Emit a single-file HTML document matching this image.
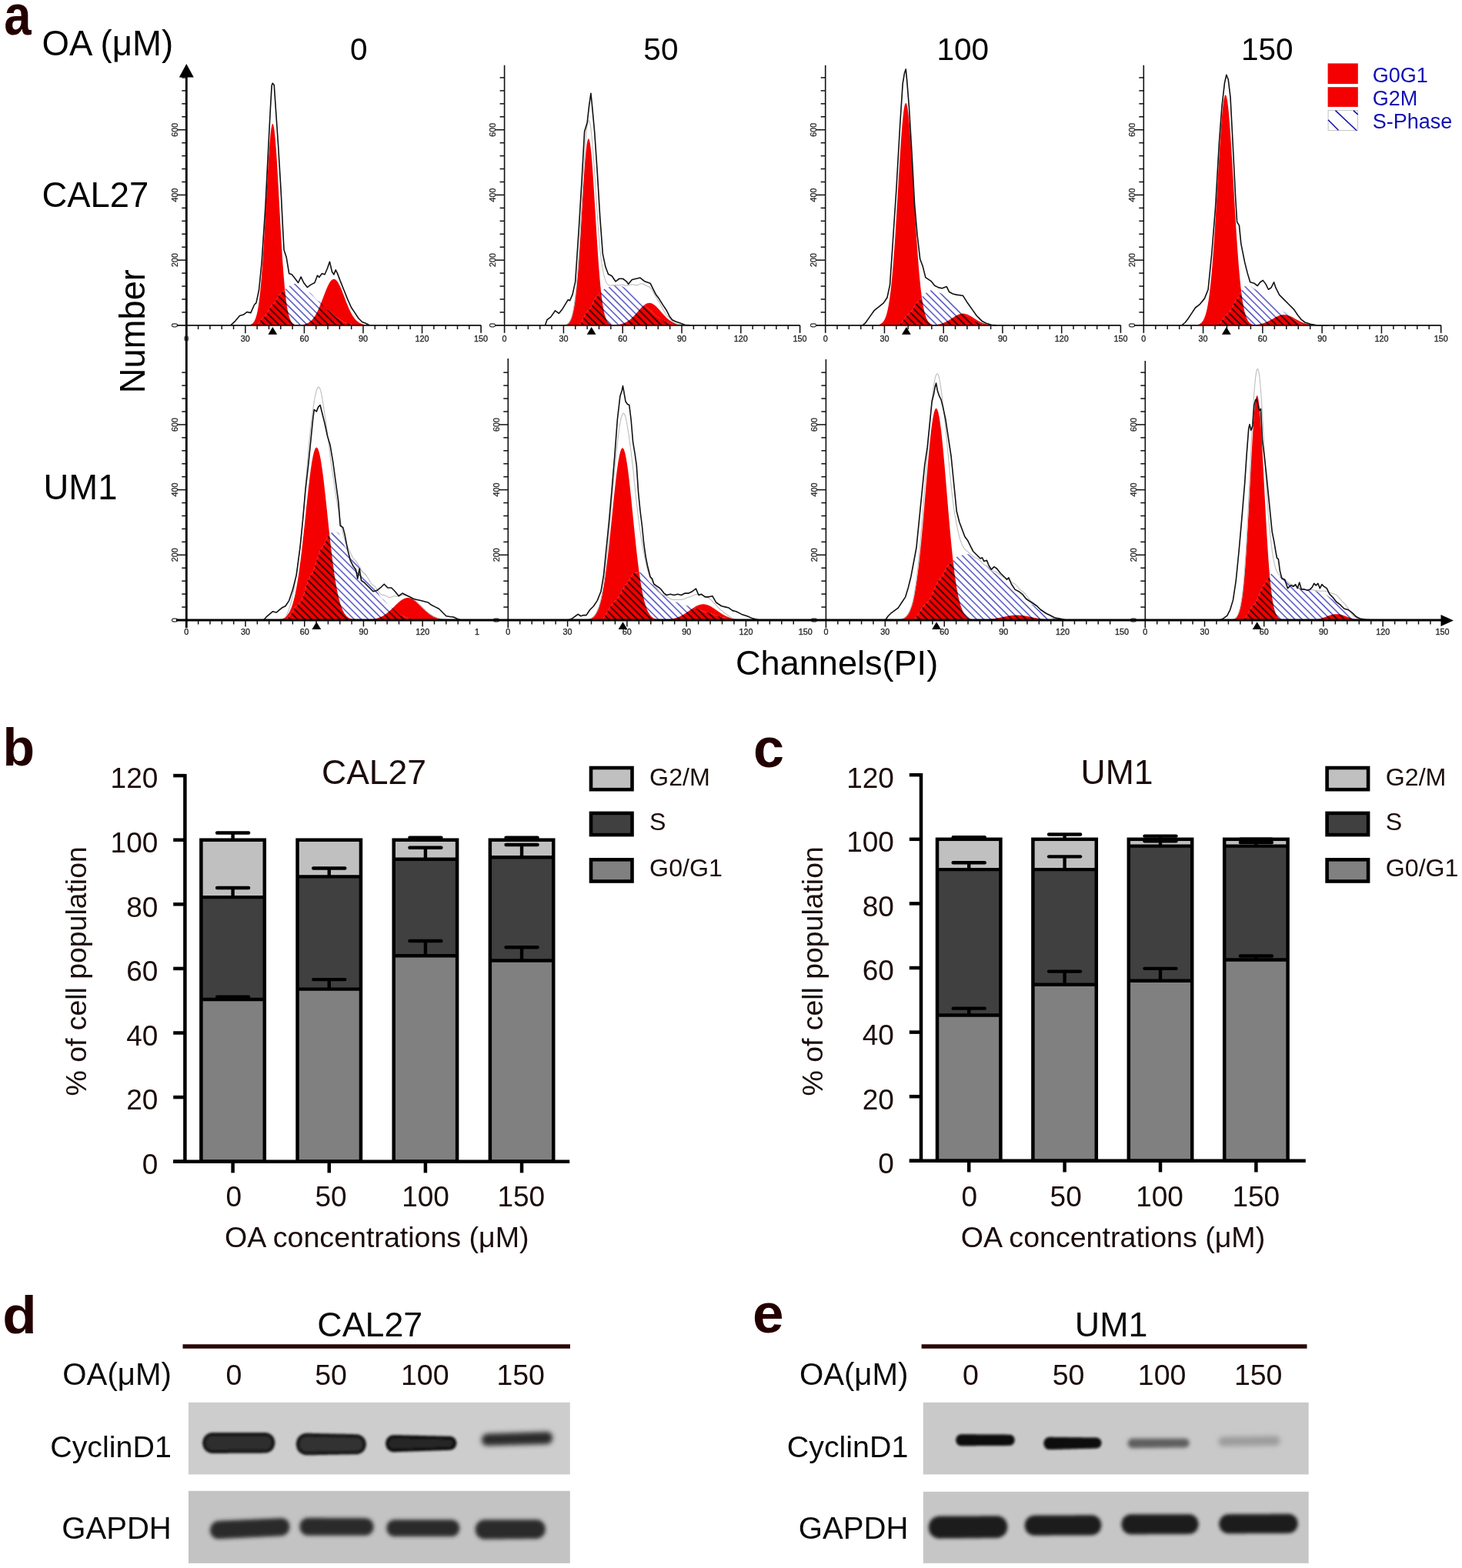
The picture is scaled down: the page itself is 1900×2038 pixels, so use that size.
<!DOCTYPE html><html><head><meta charset="utf-8"><title>Figure</title>
<style>html,body{margin:0;padding:0;background:#fff;}svg{display:block;}text{font-family:"Liberation Sans", Arial, Helvetica, sans-serif;}</style></head><body>
<svg width="1900" height="2038" viewBox="0 0 1900 2038">
<rect width="1900" height="2038" fill="#fff"/>
<text transform="translate(5.3,45.1) scale(1,1.175)" font-size="63.5" fill="#230000" font-weight="bold">a</text>
<text x="54.6" y="71.6" font-size="45.6" fill="#000" text-anchor="start" font-weight="normal">OA (μM)</text>
<text x="466.3" y="78.2" font-size="40.5" fill="#000" text-anchor="middle" font-weight="normal">0</text>
<text x="858.9" y="78.2" font-size="40.5" fill="#000" text-anchor="middle" font-weight="normal">50</text>
<text x="1251.3" y="78.2" font-size="40.5" fill="#000" text-anchor="middle" font-weight="normal">100</text>
<text x="1646.7" y="77.6" font-size="40.5" fill="#000" text-anchor="middle" font-weight="normal">150</text>
<text x="54.4" y="268.6" font-size="45.4" fill="#000" text-anchor="start" font-weight="normal">CAL27</text>
<text x="56.6" y="649.2" font-size="45.4" fill="#000" text-anchor="start" font-weight="normal">UM1</text>
<text transform="translate(188.4,511.2) rotate(-90)" font-size="45.3" fill="#000">Number</text>
<text x="956" y="877.3" font-size="45.1" fill="#000" text-anchor="start" font-weight="normal">Channels(PI)</text>
<defs>
<pattern id="hb" width="6.5" height="6.5" patternUnits="userSpaceOnUse" patternTransform="rotate(45)"><rect width="6.5" height="6.5" fill="#fff"/><rect x="0" y="2.6" width="6.5" height="1.3" fill="#3030b8"/></pattern>
<pattern id="hk" width="6.5" height="6.5" patternUnits="userSpaceOnUse" patternTransform="rotate(45)"><rect width="6.5" height="6.5" fill="#f40000"/><rect x="0" y="2.4" width="6.5" height="1.7" fill="#1a0000"/></pattern>
</defs>
<clipPath id="sp0"><path d="M332.97,422.8 L332.97,422.8 L333.45,422.51 L333.92,422.16 L334.4,421.76 L334.87,421.29 L335.35,420.78 L335.82,420.22 L336.3,419.62 L336.77,418.99 L337.25,418.35 L337.72,417.69 L338.2,417.04 L338.67,416.4 L339.15,415.77 L339.62,415.17 L340.1,414.61 L340.57,414.1 L341.05,413.63 L341.52,413.23 L342,412.88 L342.47,412.59 L342.95,412.22 L343.42,411.79 L343.9,411.3 L344.37,410.75 L344.84,410.13 L345.32,409.47 L345.79,408.76 L346.27,408 L346.74,407.21 L347.22,406.39 L347.69,405.56 L348.17,404.71 L348.64,403.85 L349.12,403 L349.59,402.16 L350.07,401.35 L350.54,400.56 L351.02,399.8 L351.49,399.09 L351.97,398.42 L352.44,397.81 L352.92,397.26 L353.39,396.76 L353.87,396.33 L354.34,395.97 L354.82,395.61 L355.29,395.2 L355.77,394.72 L356.24,394.18 L356.72,393.58 L357.19,392.94 L357.67,392.24 L358.14,391.51 L358.62,390.74 L359.09,389.95 L359.57,389.14 L360.04,388.31 L360.52,387.48 L360.99,386.65 L361.47,385.84 L361.94,385.05 L362.42,384.28 L362.89,383.55 L363.37,382.85 L363.84,382.21 L364.32,381.61 L364.79,381.07 L365.27,380.59 L365.74,380.18 L366.22,379.82 L366.69,379.59 L367.17,379.32 L367.64,379 L368.12,378.63 L368.59,378.22 L369.06,377.78 L369.54,377.31 L370.01,376.81 L370.49,376.3 L370.96,375.78 L371.44,375.27 L371.91,374.76 L372.39,374.26 L372.86,373.79 L373.34,373.35 L373.81,372.94 L374.29,372.57 L374.76,372.25 L375.24,371.97 L375.71,371.75 L376.19,371.63 L376.66,371.48 L377.14,371.29 L377.61,371.08 L378.09,370.85 L378.56,370.6 L379.04,370.34 L379.51,370.07 L379.99,369.81 L380.46,369.56 L380.94,369.33 L381.41,369.12 L381.89,368.93 L382.36,368.78 L382.84,368.66 L383.31,368.75 L383.79,368.87 L384.26,369.01 L384.74,369.17 L385.21,369.35 L385.69,369.55 L386.16,369.75 L386.64,369.95 L387.11,370.15 L387.59,370.34 L388.06,370.52 L388.54,370.68 L389.01,370.83 L389.49,370.94 L389.96,371.04 L390.44,371.23 L390.91,371.46 L391.39,371.72 L391.86,372.01 L392.34,372.33 L392.81,372.69 L393.28,373.06 L393.76,373.46 L394.23,373.88 L394.71,374.31 L395.18,374.75 L395.66,375.2 L396.13,375.65 L396.61,376.1 L397.08,376.55 L397.56,376.98 L398.03,377.4 L398.51,377.8 L398.98,378.17 L399.46,378.52 L399.93,378.85 L400.41,379.14 L400.88,379.4 L401.36,379.63 L401.83,379.82 L402.31,380.07 L402.78,380.37 L403.26,380.71 L403.73,381.09 L404.21,381.51 L404.68,381.96 L405.16,382.45 L405.63,382.97 L406.11,383.51 L406.58,384.07 L407.06,384.64 L407.53,385.23 L408.01,385.81 L408.48,386.4 L408.96,386.97 L409.43,387.53 L409.91,388.07 L410.38,388.59 L410.86,389.08 L411.33,389.54 L411.81,389.95 L412.28,390.34 L412.76,390.67 L413.23,390.97 L413.71,391.22 L414.18,391.48 L414.66,391.79 L415.13,392.14 L415.61,392.54 L416.08,392.97 L416.56,393.45 L417.03,393.96 L417.5,394.5 L417.98,395.06 L418.45,395.64 L418.93,396.24 L419.4,396.85 L419.88,397.46 L420.35,398.07 L420.83,398.67 L421.3,399.25 L421.78,399.81 L422.25,400.35 L422.73,400.86 L423.2,401.34 L423.68,401.77 L424.15,402.17 L424.63,402.52 L425.1,402.83 L425.58,403.09 L426.05,403.3 L426.53,403.55 L427,403.83 L427.48,404.15 L427.95,404.49 L428.43,404.87 L428.9,405.28 L429.38,405.71 L429.85,406.16 L430.33,406.63 L430.8,407.11 L431.28,407.6 L431.75,408.08 L432.23,408.57 L432.7,409.05 L433.18,409.52 L433.65,409.97 L434.13,410.4 L434.6,410.81 L435.08,411.19 L435.55,411.54 L436.03,411.85 L436.5,412.14 L436.98,412.38 L437.45,412.59 L437.93,412.75 L438.4,412.93 L438.88,413.14 L439.35,413.38 L439.83,413.64 L440.3,413.93 L440.78,414.23 L441.25,414.56 L441.72,414.89 L442.2,415.24 L442.67,415.6 L443.15,415.97 L443.62,416.33 L444.1,416.7 L444.57,417.06 L445.05,417.41 L445.52,417.75 L446,418.07 L446.47,418.38 L446.95,418.66 L447.42,418.92 L447.9,419.16 L448.37,419.37 L448.85,419.56 L449.32,419.71 L449.8,419.78 L450.27,419.86 L450.75,419.95 L451.22,420.06 L451.7,420.17 L452.17,420.29 L452.65,420.43 L453.12,420.57 L453.6,420.71 L454.07,420.86 L454.55,421.02 L455.02,421.18 L455.5,421.34 L455.97,421.49 L456.45,421.65 L456.92,421.8 L457.4,421.95 L457.87,422.09 L458.35,422.22 L458.82,422.34 L459.3,422.46 L459.77,422.56 L460.25,422.65 L460.72,422.73 L461.2,422.8 L461.2,422.8 Z"/></clipPath>
<clipPath id="rp0"><path d="M320.62,422.8 L320.62,422.69 L321.1,422.66 L321.57,422.63 L322.05,422.59 L322.52,422.54 L323,422.48 L323.47,422.41 L323.95,422.33 L324.42,422.23 L324.9,422.11 L325.37,421.96 L325.85,421.79 L326.32,421.58 L326.8,421.34 L327.27,421.06 L327.75,420.73 L328.22,420.34 L328.7,419.89 L329.17,419.37 L329.65,418.76 L330.12,418.07 L330.6,417.27 L331.07,416.36 L331.55,415.32 L332.02,414.14 L332.5,412.8 L332.97,411.29 L333.45,409.6 L333.92,407.7 L334.4,405.59 L334.87,403.23 L335.35,400.63 L335.82,397.75 L336.3,394.59 L336.77,391.13 L337.25,387.35 L337.72,383.25 L338.2,378.81 L338.67,374.01 L339.15,368.87 L339.62,363.36 L340.1,357.49 L340.57,351.27 L341.05,344.69 L341.52,337.77 L342,330.52 L342.47,322.97 L342.95,315.13 L343.42,307.03 L343.9,298.7 L344.37,290.19 L344.84,281.52 L345.32,272.76 L345.79,263.94 L346.27,255.13 L346.74,246.37 L347.22,237.72 L347.69,229.25 L348.17,221.02 L348.64,213.08 L349.12,205.5 L349.59,198.35 L350.07,191.67 L350.54,185.52 L351.02,179.97 L351.49,175.05 L351.97,170.8 L352.44,167.28 L352.92,164.5 L353.39,162.5 L353.87,161.3 L354.34,160.89 L354.82,161.3 L355.29,162.5 L355.77,164.5 L356.24,167.28 L356.72,170.8 L357.19,175.05 L357.67,179.97 L358.14,185.52 L358.62,191.67 L359.09,198.35 L359.57,205.5 L360.04,213.08 L360.52,221.02 L360.99,229.25 L361.47,237.72 L361.94,246.37 L362.42,255.13 L362.89,263.94 L363.37,272.76 L363.84,281.52 L364.32,290.19 L364.79,298.7 L365.27,307.03 L365.74,315.13 L366.22,322.97 L366.69,330.52 L367.17,337.77 L367.64,344.69 L368.12,351.27 L368.59,357.49 L369.06,363.36 L369.54,368.87 L370.01,374.01 L370.49,378.81 L370.96,383.25 L371.44,387.35 L371.91,391.13 L372.39,394.59 L372.86,397.75 L373.34,400.63 L373.81,403.23 L374.29,405.59 L374.76,407.7 L375.24,409.6 L375.71,411.29 L376.19,412.8 L376.66,414.14 L377.14,415.32 L377.61,416.36 L378.09,417.27 L378.56,418.07 L379.04,418.76 L379.51,419.37 L379.99,419.89 L380.46,420.34 L380.94,420.73 L381.41,421.06 L381.89,421.34 L382.36,421.58 L382.84,421.79 L383.31,421.96 L383.79,422.11 L384.26,422.23 L384.74,422.33 L385.21,422.41 L385.69,422.48 L386.16,422.54 L386.64,422.59 L387.11,422.63 L387.59,422.66 L388.06,422.69 L388.06,422.8 Z"/><path d="M379.04,422.8 L379.04,422.78 L379.51,422.78 L379.99,422.77 L380.46,422.77 L380.94,422.76 L381.41,422.76 L381.89,422.75 L382.36,422.75 L382.84,422.74 L383.31,422.73 L383.79,422.72 L384.26,422.71 L384.74,422.7 L385.21,422.68 L385.69,422.67 L386.16,422.65 L386.64,422.63 L387.11,422.61 L387.59,422.59 L388.06,422.56 L388.54,422.53 L389.01,422.5 L389.49,422.47 L389.96,422.43 L390.44,422.39 L390.91,422.34 L391.39,422.29 L391.86,422.23 L392.34,422.17 L392.81,422.1 L393.28,422.02 L393.76,421.94 L394.23,421.85 L394.71,421.75 L395.18,421.64 L395.66,421.53 L396.13,421.4 L396.61,421.26 L397.08,421.11 L397.56,420.95 L398.03,420.77 L398.51,420.58 L398.98,420.38 L399.46,420.16 L399.93,419.92 L400.41,419.67 L400.88,419.4 L401.36,419.11 L401.83,418.8 L402.31,418.47 L402.78,418.11 L403.26,417.74 L403.73,417.34 L404.21,416.91 L404.68,416.46 L405.16,415.98 L405.63,415.48 L406.11,414.95 L406.58,414.39 L407.06,413.8 L407.53,413.18 L408.01,412.53 L408.48,411.84 L408.96,411.13 L409.43,410.39 L409.91,409.61 L410.38,408.8 L410.86,407.96 L411.33,407.09 L411.81,406.19 L412.28,405.26 L412.76,404.29 L413.23,403.3 L413.71,402.27 L414.18,401.22 L414.66,400.14 L415.13,399.04 L415.61,397.91 L416.08,396.76 L416.56,395.59 L417.03,394.4 L417.5,393.19 L417.98,391.97 L418.45,390.74 L418.93,389.5 L419.4,388.25 L419.88,386.99 L420.35,385.73 L420.83,384.48 L421.3,383.23 L421.78,381.99 L422.25,380.76 L422.73,379.54 L423.2,378.34 L423.68,377.16 L424.15,376.01 L424.63,374.88 L425.1,373.79 L425.58,372.73 L426.05,371.7 L426.53,370.72 L427,369.78 L427.48,368.89 L427.95,368.05 L428.43,367.27 L428.9,366.54 L429.38,365.86 L429.85,365.25 L430.33,364.7 L430.8,364.22 L431.28,363.8 L431.75,363.44 L432.23,363.16 L432.7,362.95 L433.18,362.81 L433.65,362.73 L434.13,362.73 L434.6,362.81 L435.08,362.95 L435.55,363.16 L436.03,363.44 L436.5,363.8 L436.98,364.22 L437.45,364.7 L437.93,365.25 L438.4,365.86 L438.88,366.54 L439.35,367.27 L439.83,368.05 L440.3,368.89 L440.78,369.78 L441.25,370.72 L441.72,371.7 L442.2,372.73 L442.67,373.79 L443.15,374.88 L443.62,376.01 L444.1,377.16 L444.57,378.34 L445.05,379.54 L445.52,380.76 L446,381.99 L446.47,383.23 L446.95,384.48 L447.42,385.73 L447.9,386.99 L448.37,388.25 L448.85,389.5 L449.32,390.74 L449.8,391.97 L450.27,393.19 L450.75,394.4 L451.22,395.59 L451.7,396.76 L452.17,397.91 L452.65,399.04 L453.12,400.14 L453.6,401.22 L454.07,402.27 L454.55,403.3 L455.02,404.29 L455.5,405.26 L455.97,406.19 L456.45,407.09 L456.92,407.96 L457.4,408.8 L457.87,409.61 L458.35,410.39 L458.82,411.13 L459.3,411.84 L459.77,412.53 L460.25,413.18 L460.72,413.8 L461.2,414.39 L461.67,414.95 L462.15,415.48 L462.62,415.98 L463.1,416.46 L463.57,416.91 L464.05,417.34 L464.52,417.74 L465,418.11 L465.47,418.47 L465.94,418.8 L466.42,419.11 L466.89,419.4 L467.37,419.67 L467.84,419.92 L468.32,420.16 L468.79,420.38 L469.27,420.58 L469.74,420.77 L470.22,420.95 L470.69,421.11 L471.17,421.26 L471.64,421.4 L472.12,421.53 L472.59,421.64 L473.07,421.75 L473.54,421.85 L474.02,421.94 L474.49,422.02 L474.97,422.1 L475.44,422.17 L475.92,422.23 L476.39,422.29 L476.87,422.34 L477.34,422.39 L477.82,422.43 L478.29,422.47 L478.77,422.5 L479.24,422.53 L479.72,422.56 L480.19,422.59 L480.67,422.61 L481.14,422.63 L481.62,422.65 L482.09,422.67 L482.57,422.68 L483.04,422.7 L483.52,422.71 L483.99,422.72 L484.47,422.73 L484.94,422.74 L485.42,422.75 L485.89,422.75 L486.37,422.76 L486.84,422.76 L487.32,422.77 L487.79,422.77 L488.27,422.78 L488.74,422.78 L488.74,422.8 Z"/></clipPath>
<path d="M320.62,422.8 L320.62,422.69 L321.1,422.66 L321.57,422.63 L322.05,422.59 L322.52,422.54 L323,422.48 L323.47,422.41 L323.95,422.33 L324.42,422.23 L324.9,422.11 L325.37,421.96 L325.85,421.79 L326.32,421.58 L326.8,421.34 L327.27,421.06 L327.75,420.73 L328.22,420.34 L328.7,419.89 L329.17,419.37 L329.65,418.76 L330.12,418.07 L330.6,417.27 L331.07,416.36 L331.55,415.32 L332.02,414.14 L332.5,412.8 L332.97,411.29 L333.45,409.6 L333.92,407.7 L334.4,405.59 L334.87,403.23 L335.35,400.63 L335.82,397.75 L336.3,394.59 L336.77,391.13 L337.25,387.35 L337.72,383.25 L338.2,378.81 L338.67,374.01 L339.15,368.87 L339.62,363.36 L340.1,357.49 L340.57,351.27 L341.05,344.69 L341.52,337.77 L342,330.52 L342.47,322.97 L342.95,315.13 L343.42,307.03 L343.9,298.7 L344.37,290.19 L344.84,281.52 L345.32,272.76 L345.79,263.94 L346.27,255.13 L346.74,246.37 L347.22,237.72 L347.69,229.25 L348.17,221.02 L348.64,213.08 L349.12,205.5 L349.59,198.35 L350.07,191.67 L350.54,185.52 L351.02,179.97 L351.49,175.05 L351.97,170.8 L352.44,167.28 L352.92,164.5 L353.39,162.5 L353.87,161.3 L354.34,160.89 L354.82,161.3 L355.29,162.5 L355.77,164.5 L356.24,167.28 L356.72,170.8 L357.19,175.05 L357.67,179.97 L358.14,185.52 L358.62,191.67 L359.09,198.35 L359.57,205.5 L360.04,213.08 L360.52,221.02 L360.99,229.25 L361.47,237.72 L361.94,246.37 L362.42,255.13 L362.89,263.94 L363.37,272.76 L363.84,281.52 L364.32,290.19 L364.79,298.7 L365.27,307.03 L365.74,315.13 L366.22,322.97 L366.69,330.52 L367.17,337.77 L367.64,344.69 L368.12,351.27 L368.59,357.49 L369.06,363.36 L369.54,368.87 L370.01,374.01 L370.49,378.81 L370.96,383.25 L371.44,387.35 L371.91,391.13 L372.39,394.59 L372.86,397.75 L373.34,400.63 L373.81,403.23 L374.29,405.59 L374.76,407.7 L375.24,409.6 L375.71,411.29 L376.19,412.8 L376.66,414.14 L377.14,415.32 L377.61,416.36 L378.09,417.27 L378.56,418.07 L379.04,418.76 L379.51,419.37 L379.99,419.89 L380.46,420.34 L380.94,420.73 L381.41,421.06 L381.89,421.34 L382.36,421.58 L382.84,421.79 L383.31,421.96 L383.79,422.11 L384.26,422.23 L384.74,422.33 L385.21,422.41 L385.69,422.48 L386.16,422.54 L386.64,422.59 L387.11,422.63 L387.59,422.66 L388.06,422.69 L388.06,422.8 Z" fill="#f40000"/>
<path d="M379.04,422.8 L379.04,422.78 L379.51,422.78 L379.99,422.77 L380.46,422.77 L380.94,422.76 L381.41,422.76 L381.89,422.75 L382.36,422.75 L382.84,422.74 L383.31,422.73 L383.79,422.72 L384.26,422.71 L384.74,422.7 L385.21,422.68 L385.69,422.67 L386.16,422.65 L386.64,422.63 L387.11,422.61 L387.59,422.59 L388.06,422.56 L388.54,422.53 L389.01,422.5 L389.49,422.47 L389.96,422.43 L390.44,422.39 L390.91,422.34 L391.39,422.29 L391.86,422.23 L392.34,422.17 L392.81,422.1 L393.28,422.02 L393.76,421.94 L394.23,421.85 L394.71,421.75 L395.18,421.64 L395.66,421.53 L396.13,421.4 L396.61,421.26 L397.08,421.11 L397.56,420.95 L398.03,420.77 L398.51,420.58 L398.98,420.38 L399.46,420.16 L399.93,419.92 L400.41,419.67 L400.88,419.4 L401.36,419.11 L401.83,418.8 L402.31,418.47 L402.78,418.11 L403.26,417.74 L403.73,417.34 L404.21,416.91 L404.68,416.46 L405.16,415.98 L405.63,415.48 L406.11,414.95 L406.58,414.39 L407.06,413.8 L407.53,413.18 L408.01,412.53 L408.48,411.84 L408.96,411.13 L409.43,410.39 L409.91,409.61 L410.38,408.8 L410.86,407.96 L411.33,407.09 L411.81,406.19 L412.28,405.26 L412.76,404.29 L413.23,403.3 L413.71,402.27 L414.18,401.22 L414.66,400.14 L415.13,399.04 L415.61,397.91 L416.08,396.76 L416.56,395.59 L417.03,394.4 L417.5,393.19 L417.98,391.97 L418.45,390.74 L418.93,389.5 L419.4,388.25 L419.88,386.99 L420.35,385.73 L420.83,384.48 L421.3,383.23 L421.78,381.99 L422.25,380.76 L422.73,379.54 L423.2,378.34 L423.68,377.16 L424.15,376.01 L424.63,374.88 L425.1,373.79 L425.58,372.73 L426.05,371.7 L426.53,370.72 L427,369.78 L427.48,368.89 L427.95,368.05 L428.43,367.27 L428.9,366.54 L429.38,365.86 L429.85,365.25 L430.33,364.7 L430.8,364.22 L431.28,363.8 L431.75,363.44 L432.23,363.16 L432.7,362.95 L433.18,362.81 L433.65,362.73 L434.13,362.73 L434.6,362.81 L435.08,362.95 L435.55,363.16 L436.03,363.44 L436.5,363.8 L436.98,364.22 L437.45,364.7 L437.93,365.25 L438.4,365.86 L438.88,366.54 L439.35,367.27 L439.83,368.05 L440.3,368.89 L440.78,369.78 L441.25,370.72 L441.72,371.7 L442.2,372.73 L442.67,373.79 L443.15,374.88 L443.62,376.01 L444.1,377.16 L444.57,378.34 L445.05,379.54 L445.52,380.76 L446,381.99 L446.47,383.23 L446.95,384.48 L447.42,385.73 L447.9,386.99 L448.37,388.25 L448.85,389.5 L449.32,390.74 L449.8,391.97 L450.27,393.19 L450.75,394.4 L451.22,395.59 L451.7,396.76 L452.17,397.91 L452.65,399.04 L453.12,400.14 L453.6,401.22 L454.07,402.27 L454.55,403.3 L455.02,404.29 L455.5,405.26 L455.97,406.19 L456.45,407.09 L456.92,407.96 L457.4,408.8 L457.87,409.61 L458.35,410.39 L458.82,411.13 L459.3,411.84 L459.77,412.53 L460.25,413.18 L460.72,413.8 L461.2,414.39 L461.67,414.95 L462.15,415.48 L462.62,415.98 L463.1,416.46 L463.57,416.91 L464.05,417.34 L464.52,417.74 L465,418.11 L465.47,418.47 L465.94,418.8 L466.42,419.11 L466.89,419.4 L467.37,419.67 L467.84,419.92 L468.32,420.16 L468.79,420.38 L469.27,420.58 L469.74,420.77 L470.22,420.95 L470.69,421.11 L471.17,421.26 L471.64,421.4 L472.12,421.53 L472.59,421.64 L473.07,421.75 L473.54,421.85 L474.02,421.94 L474.49,422.02 L474.97,422.1 L475.44,422.17 L475.92,422.23 L476.39,422.29 L476.87,422.34 L477.34,422.39 L477.82,422.43 L478.29,422.47 L478.77,422.5 L479.24,422.53 L479.72,422.56 L480.19,422.59 L480.67,422.61 L481.14,422.63 L481.62,422.65 L482.09,422.67 L482.57,422.68 L483.04,422.7 L483.52,422.71 L483.99,422.72 L484.47,422.73 L484.94,422.74 L485.42,422.75 L485.89,422.75 L486.37,422.76 L486.84,422.76 L487.32,422.77 L487.79,422.77 L488.27,422.78 L488.74,422.78 L488.74,422.8 Z" fill="#f40000"/>
<g clip-path="url(#sp0)"><rect x="320.15" y="222.8" width="168.83" height="200" fill="url(#hb)"/></g>
<g clip-path="url(#sp0)"><g clip-path="url(#rp0)"><rect x="320.15" y="222.8" width="168.83" height="200" fill="url(#hk)"/></g></g>
<polyline points="299.73,422.8 305.67,417.34 311.6,410.22 316.35,409.03 321.1,405.47 325.85,406.65 330.6,395.97 332.97,393.59 336.53,376.97 340.1,341.35 344.84,270.12 348.41,198.88 351.49,139.52 353.16,111.03 354.34,108.18 356.24,110.55 357.9,134.77 361.47,187.01 365.03,246.37 367.4,293.86 369.06,324.73 372.15,334.23 375.71,355.6 379.28,356.79 384.02,362.72 387.59,367.47 391.15,359.88 394.71,367.47 399.46,373.41 404.21,369.85 408.96,367.47 412.52,357.98 414.89,360.35 418.45,355.6 422.02,356.79 425.58,348.48 428.43,340.17 431.51,353.23 433.89,356.79 436.26,350.85 438.64,355.6 442.2,365.1 446.95,376.97 451.7,388.84 456.45,399.53 461.2,406.65 465.94,413.78 470.69,418.53 475.44,420.19 480.19,422.8" fill="none" stroke="#111" stroke-width="1.6" stroke-linejoin="round"/>
<path d="M354.34,425 L348.44,434.8 L360.24,434.8 Z" fill="#000"/>
<clipPath id="sp1"><path d="M752.47,422.8 L752.47,422.8 L752.95,422.38 L753.42,421.89 L753.9,421.33 L754.37,420.69 L754.84,419.99 L755.32,419.23 L755.79,418.42 L756.27,417.56 L756.74,416.65 L757.22,415.72 L757.69,414.76 L758.17,413.79 L758.64,412.81 L759.12,411.84 L759.59,410.88 L760.07,409.95 L760.54,409.05 L761.02,408.19 L761.49,407.37 L761.97,406.61 L762.44,405.91 L762.92,405.28 L763.39,404.71 L763.87,404.22 L764.34,403.8 L764.82,403.39 L765.29,402.89 L765.77,402.33 L766.24,401.7 L766.72,401 L767.19,400.24 L767.67,399.42 L768.14,398.56 L768.62,397.66 L769.09,396.72 L769.57,395.77 L770.04,394.79 L770.52,393.82 L770.99,392.85 L771.47,391.89 L771.94,390.95 L772.42,390.05 L772.89,389.19 L773.37,388.37 L773.84,387.61 L774.32,386.91 L774.79,386.28 L775.27,385.72 L775.74,385.23 L776.22,384.81 L776.69,384.54 L777.17,384.22 L777.64,383.84 L778.12,383.4 L778.59,382.93 L779.06,382.4 L779.54,381.85 L780.01,381.27 L780.49,380.67 L780.96,380.06 L781.44,379.45 L781.91,378.85 L782.39,378.27 L782.86,377.71 L783.34,377.19 L783.81,376.71 L784.29,376.28 L784.76,375.9 L785.24,375.58 L785.71,375.31 L786.19,375.22 L786.66,375.11 L787.14,374.98 L787.61,374.84 L788.09,374.68 L788.56,374.51 L789.04,374.32 L789.51,374.13 L789.99,373.93 L790.46,373.72 L790.94,373.5 L791.41,373.28 L791.89,373.06 L792.36,372.84 L792.84,372.63 L793.31,372.42 L793.79,372.22 L794.26,372.02 L794.74,371.84 L795.21,371.67 L795.69,371.51 L796.16,371.37 L796.64,371.24 L797.11,371.13 L797.59,371.04 L798.06,371.06 L798.54,371.08 L799.01,371.11 L799.49,371.14 L799.96,371.18 L800.44,371.22 L800.91,371.26 L801.39,371.3 L801.86,371.35 L802.34,371.39 L802.81,371.44 L803.28,371.48 L803.76,371.53 L804.23,371.57 L804.71,371.61 L805.18,371.64 L805.66,371.68 L806.13,371.7 L806.61,371.73 L807.08,371.75 L807.56,371.88 L808.03,372.03 L808.51,372.21 L808.98,372.41 L809.46,372.63 L809.93,372.86 L810.41,373.12 L810.88,373.39 L811.36,373.67 L811.83,373.96 L812.31,374.26 L812.78,374.56 L813.26,374.87 L813.73,375.17 L814.21,375.47 L814.68,375.76 L815.16,376.05 L815.63,376.32 L816.11,376.57 L816.58,376.81 L817.06,377.03 L817.53,377.22 L818.01,377.4 L818.48,377.55 L818.96,377.68 L819.43,377.95 L819.91,378.25 L820.38,378.61 L820.86,379 L821.33,379.44 L821.81,379.91 L822.28,380.42 L822.76,380.96 L823.23,381.53 L823.71,382.11 L824.18,382.71 L824.66,383.32 L825.13,383.93 L825.61,384.53 L826.08,385.13 L826.56,385.72 L827.03,386.28 L827.5,386.82 L827.98,387.33 L828.45,387.8 L828.93,388.24 L829.4,388.64 L829.88,388.99 L830.35,389.3 L830.83,389.56 L831.3,389.82 L831.78,390.13 L832.25,390.48 L832.73,390.87 L833.2,391.31 L833.68,391.79 L834.15,392.3 L834.63,392.83 L835.1,393.4 L835.58,393.98 L836.05,394.58 L836.53,395.19 L837,395.8 L837.48,396.41 L837.95,397 L838.43,397.59 L838.9,398.15 L839.38,398.69 L839.85,399.2 L840.33,399.68 L840.8,400.11 L841.28,400.51 L841.75,400.86 L842.23,401.17 L842.7,401.43 L843.18,401.66 L843.65,401.94 L844.13,402.26 L844.6,402.61 L845.08,403.01 L845.55,403.44 L846.03,403.89 L846.5,404.38 L846.98,404.89 L847.45,405.41 L847.93,405.95 L848.4,406.5 L848.88,407.05 L849.35,407.59 L849.83,408.13 L850.3,408.66 L850.78,409.17 L851.25,409.65 L851.72,410.11 L852.2,410.54 L852.67,410.93 L853.15,411.29 L853.62,411.6 L854.1,411.88 L854.57,412.11 L855.05,412.27 L855.52,412.46 L856,412.67 L856.47,412.9 L856.95,413.17 L857.42,413.45 L857.9,413.76 L858.37,414.08 L858.85,414.42 L859.32,414.77 L859.8,415.13 L860.27,415.49 L860.75,415.86 L861.22,416.22 L861.7,416.58 L862.17,416.93 L862.65,417.27 L863.12,417.6 L863.6,417.9 L864.07,418.19 L864.55,418.45 L865.02,418.69 L865.5,418.9 L865.97,419.08 L866.45,419.24 L866.92,419.32 L867.4,419.41 L867.87,419.51 L868.35,419.63 L868.82,419.76 L869.3,419.91 L869.77,420.06 L870.25,420.22 L870.72,420.39 L871.2,420.57 L871.67,420.75 L872.15,420.93 L872.62,421.11 L873.1,421.29 L873.57,421.47 L874.05,421.65 L874.52,421.82 L875,421.98 L875.47,422.13 L875.94,422.27 L876.42,422.4 L876.89,422.52 L877.37,422.63 L877.84,422.72 L878.32,422.8 L878.32,422.8 Z"/></clipPath>
<clipPath id="rp1"><path d="M730.15,422.8 L730.15,422.7 L730.62,422.68 L731.1,422.65 L731.57,422.61 L732.05,422.57 L732.52,422.52 L733,422.46 L733.47,422.38 L733.95,422.29 L734.42,422.19 L734.9,422.06 L735.37,421.92 L735.85,421.74 L736.32,421.54 L736.8,421.3 L737.27,421.02 L737.75,420.69 L738.22,420.31 L738.7,419.88 L739.17,419.37 L739.65,418.79 L740.12,418.13 L740.6,417.37 L741.07,416.51 L741.55,415.53 L742.02,414.42 L742.5,413.17 L742.97,411.77 L743.45,410.2 L743.92,408.46 L744.4,406.51 L744.87,404.36 L745.35,401.98 L745.82,399.36 L746.3,396.5 L746.77,393.37 L747.25,389.96 L747.72,386.26 L748.2,382.27 L748.67,377.97 L749.15,373.36 L749.62,368.43 L750.1,363.19 L750.57,357.64 L751.05,351.77 L751.52,345.6 L752,339.14 L752.47,332.41 L752.95,325.42 L753.42,318.19 L753.9,310.76 L754.37,303.14 L754.84,295.38 L755.32,287.52 L755.79,279.59 L756.27,271.63 L756.74,263.7 L757.22,255.84 L757.69,248.11 L758.17,240.55 L758.64,233.22 L759.12,226.17 L759.59,219.45 L760.07,213.11 L760.54,207.21 L761.02,201.79 L761.49,196.89 L761.97,192.56 L762.44,188.83 L762.92,185.73 L763.39,183.3 L763.87,181.54 L764.34,180.48 L764.82,180.13 L765.29,180.48 L765.77,181.54 L766.24,183.3 L766.72,185.73 L767.19,188.83 L767.67,192.56 L768.14,196.89 L768.62,201.79 L769.09,207.21 L769.57,213.11 L770.04,219.45 L770.52,226.17 L770.99,233.22 L771.47,240.55 L771.94,248.11 L772.42,255.84 L772.89,263.7 L773.37,271.63 L773.84,279.59 L774.32,287.52 L774.79,295.38 L775.27,303.14 L775.74,310.76 L776.22,318.19 L776.69,325.42 L777.17,332.41 L777.64,339.14 L778.12,345.6 L778.59,351.77 L779.06,357.64 L779.54,363.19 L780.01,368.43 L780.49,373.36 L780.96,377.97 L781.44,382.27 L781.91,386.26 L782.39,389.96 L782.86,393.37 L783.34,396.5 L783.81,399.36 L784.29,401.98 L784.76,404.36 L785.24,406.51 L785.71,408.46 L786.19,410.2 L786.66,411.77 L787.14,413.17 L787.61,414.42 L788.09,415.53 L788.56,416.51 L789.04,417.37 L789.51,418.13 L789.99,418.79 L790.46,419.37 L790.94,419.88 L791.41,420.31 L791.89,420.69 L792.36,421.02 L792.84,421.3 L793.31,421.54 L793.79,421.74 L794.26,421.92 L794.74,422.06 L795.21,422.19 L795.69,422.29 L796.16,422.38 L796.64,422.46 L797.11,422.52 L797.59,422.57 L798.06,422.61 L798.54,422.65 L799.01,422.68 L799.49,422.7 L799.49,422.8 Z"/><path d="M783.34,422.8 L783.34,422.79 L783.81,422.79 L784.29,422.79 L784.76,422.79 L785.24,422.78 L785.71,422.78 L786.19,422.78 L786.66,422.78 L787.14,422.77 L787.61,422.77 L788.09,422.77 L788.56,422.76 L789.04,422.76 L789.51,422.75 L789.99,422.75 L790.46,422.74 L790.94,422.73 L791.41,422.73 L791.89,422.72 L792.36,422.71 L792.84,422.7 L793.31,422.69 L793.79,422.67 L794.26,422.66 L794.74,422.65 L795.21,422.63 L795.69,422.61 L796.16,422.59 L796.64,422.57 L797.11,422.55 L797.59,422.52 L798.06,422.49 L798.54,422.46 L799.01,422.43 L799.49,422.39 L799.96,422.36 L800.44,422.31 L800.91,422.27 L801.39,422.22 L801.86,422.17 L802.34,422.11 L802.81,422.05 L803.28,421.98 L803.76,421.91 L804.23,421.84 L804.71,421.76 L805.18,421.67 L805.66,421.58 L806.13,421.48 L806.61,421.37 L807.08,421.26 L807.56,421.14 L808.03,421.01 L808.51,420.87 L808.98,420.73 L809.46,420.58 L809.93,420.41 L810.41,420.24 L810.88,420.06 L811.36,419.87 L811.83,419.67 L812.31,419.46 L812.78,419.23 L813.26,419 L813.73,418.76 L814.21,418.5 L814.68,418.23 L815.16,417.95 L815.63,417.66 L816.11,417.35 L816.58,417.03 L817.06,416.7 L817.53,416.36 L818.01,416.01 L818.48,415.64 L818.96,415.26 L819.43,414.87 L819.91,414.46 L820.38,414.04 L820.86,413.61 L821.33,413.17 L821.81,412.72 L822.28,412.26 L822.76,411.78 L823.23,411.3 L823.71,410.81 L824.18,410.31 L824.66,409.8 L825.13,409.28 L825.61,408.75 L826.08,408.22 L826.56,407.68 L827.03,407.14 L827.5,406.6 L827.98,406.05 L828.45,405.5 L828.93,404.95 L829.4,404.41 L829.88,403.86 L830.35,403.32 L830.83,402.78 L831.3,402.24 L831.78,401.71 L832.25,401.19 L832.73,400.68 L833.2,400.18 L833.68,399.68 L834.15,399.21 L834.63,398.74 L835.1,398.29 L835.58,397.85 L836.05,397.44 L836.53,397.04 L837,396.66 L837.48,396.3 L837.95,395.96 L838.43,395.64 L838.9,395.35 L839.38,395.08 L839.85,394.84 L840.33,394.62 L840.8,394.42 L841.28,394.26 L841.75,394.12 L842.23,394 L842.7,393.92 L843.18,393.86 L843.65,393.83 L844.13,393.83 L844.6,393.86 L845.08,393.92 L845.55,394 L846.03,394.12 L846.5,394.26 L846.98,394.42 L847.45,394.62 L847.93,394.84 L848.4,395.08 L848.88,395.35 L849.35,395.64 L849.83,395.96 L850.3,396.3 L850.78,396.66 L851.25,397.04 L851.72,397.44 L852.2,397.85 L852.67,398.29 L853.15,398.74 L853.62,399.21 L854.1,399.68 L854.57,400.18 L855.05,400.68 L855.52,401.19 L856,401.71 L856.47,402.24 L856.95,402.78 L857.42,403.32 L857.9,403.86 L858.37,404.41 L858.85,404.95 L859.32,405.5 L859.8,406.05 L860.27,406.6 L860.75,407.14 L861.22,407.68 L861.7,408.22 L862.17,408.75 L862.65,409.28 L863.12,409.8 L863.6,410.31 L864.07,410.81 L864.55,411.3 L865.02,411.78 L865.5,412.26 L865.97,412.72 L866.45,413.17 L866.92,413.61 L867.4,414.04 L867.87,414.46 L868.35,414.87 L868.82,415.26 L869.3,415.64 L869.77,416.01 L870.25,416.36 L870.72,416.7 L871.2,417.03 L871.67,417.35 L872.15,417.66 L872.62,417.95 L873.1,418.23 L873.57,418.5 L874.05,418.76 L874.52,419 L875,419.23 L875.47,419.46 L875.94,419.67 L876.42,419.87 L876.89,420.06 L877.37,420.24 L877.84,420.41 L878.32,420.58 L878.79,420.73 L879.27,420.87 L879.74,421.01 L880.22,421.14 L880.69,421.26 L881.17,421.37 L881.64,421.48 L882.12,421.58 L882.59,421.67 L883.07,421.76 L883.54,421.84 L884.02,421.91 L884.49,421.98 L884.97,422.05 L885.44,422.11 L885.92,422.17 L886.39,422.22 L886.87,422.27 L887.34,422.31 L887.82,422.36 L888.29,422.39 L888.77,422.43 L889.24,422.46 L889.72,422.49 L890.19,422.52 L890.67,422.55 L891.14,422.57 L891.62,422.59 L892.09,422.61 L892.57,422.63 L893.04,422.65 L893.52,422.66 L893.99,422.67 L894.47,422.69 L894.94,422.7 L895.42,422.71 L895.89,422.72 L896.37,422.73 L896.84,422.73 L897.32,422.74 L897.79,422.75 L898.27,422.75 L898.74,422.76 L899.21,422.76 L899.69,422.77 L900.16,422.77 L900.64,422.77 L901.11,422.78 L901.59,422.78 L902.06,422.78 L902.54,422.78 L903.01,422.79 L903.49,422.79 L903.96,422.79 L904.44,422.79 L904.44,422.8 Z"/></clipPath>
<path d="M730.15,422.8 L730.15,422.7 L730.62,422.68 L731.1,422.65 L731.57,422.61 L732.05,422.57 L732.52,422.52 L733,422.46 L733.47,422.38 L733.95,422.29 L734.42,422.19 L734.9,422.06 L735.37,421.92 L735.85,421.74 L736.32,421.54 L736.8,421.3 L737.27,421.02 L737.75,420.69 L738.22,420.31 L738.7,419.88 L739.17,419.37 L739.65,418.79 L740.12,418.13 L740.6,417.37 L741.07,416.51 L741.55,415.53 L742.02,414.42 L742.5,413.17 L742.97,411.77 L743.45,410.2 L743.92,408.46 L744.4,406.51 L744.87,404.36 L745.35,401.98 L745.82,399.36 L746.3,396.5 L746.77,393.37 L747.25,389.96 L747.72,386.26 L748.2,382.27 L748.67,377.97 L749.15,373.36 L749.62,368.43 L750.1,363.19 L750.57,357.64 L751.05,351.77 L751.52,345.6 L752,339.14 L752.47,332.41 L752.95,325.42 L753.42,318.19 L753.9,310.76 L754.37,303.14 L754.84,295.38 L755.32,287.52 L755.79,279.59 L756.27,271.63 L756.74,263.7 L757.22,255.84 L757.69,248.11 L758.17,240.55 L758.64,233.22 L759.12,226.17 L759.59,219.45 L760.07,213.11 L760.54,207.21 L761.02,201.79 L761.49,196.89 L761.97,192.56 L762.44,188.83 L762.92,185.73 L763.39,183.3 L763.87,181.54 L764.34,180.48 L764.82,180.13 L765.29,180.48 L765.77,181.54 L766.24,183.3 L766.72,185.73 L767.19,188.83 L767.67,192.56 L768.14,196.89 L768.62,201.79 L769.09,207.21 L769.57,213.11 L770.04,219.45 L770.52,226.17 L770.99,233.22 L771.47,240.55 L771.94,248.11 L772.42,255.84 L772.89,263.7 L773.37,271.63 L773.84,279.59 L774.32,287.52 L774.79,295.38 L775.27,303.14 L775.74,310.76 L776.22,318.19 L776.69,325.42 L777.17,332.41 L777.64,339.14 L778.12,345.6 L778.59,351.77 L779.06,357.64 L779.54,363.19 L780.01,368.43 L780.49,373.36 L780.96,377.97 L781.44,382.27 L781.91,386.26 L782.39,389.96 L782.86,393.37 L783.34,396.5 L783.81,399.36 L784.29,401.98 L784.76,404.36 L785.24,406.51 L785.71,408.46 L786.19,410.2 L786.66,411.77 L787.14,413.17 L787.61,414.42 L788.09,415.53 L788.56,416.51 L789.04,417.37 L789.51,418.13 L789.99,418.79 L790.46,419.37 L790.94,419.88 L791.41,420.31 L791.89,420.69 L792.36,421.02 L792.84,421.3 L793.31,421.54 L793.79,421.74 L794.26,421.92 L794.74,422.06 L795.21,422.19 L795.69,422.29 L796.16,422.38 L796.64,422.46 L797.11,422.52 L797.59,422.57 L798.06,422.61 L798.54,422.65 L799.01,422.68 L799.49,422.7 L799.49,422.8 Z" fill="#f40000"/>
<path d="M783.34,422.8 L783.34,422.79 L783.81,422.79 L784.29,422.79 L784.76,422.79 L785.24,422.78 L785.71,422.78 L786.19,422.78 L786.66,422.78 L787.14,422.77 L787.61,422.77 L788.09,422.77 L788.56,422.76 L789.04,422.76 L789.51,422.75 L789.99,422.75 L790.46,422.74 L790.94,422.73 L791.41,422.73 L791.89,422.72 L792.36,422.71 L792.84,422.7 L793.31,422.69 L793.79,422.67 L794.26,422.66 L794.74,422.65 L795.21,422.63 L795.69,422.61 L796.16,422.59 L796.64,422.57 L797.11,422.55 L797.59,422.52 L798.06,422.49 L798.54,422.46 L799.01,422.43 L799.49,422.39 L799.96,422.36 L800.44,422.31 L800.91,422.27 L801.39,422.22 L801.86,422.17 L802.34,422.11 L802.81,422.05 L803.28,421.98 L803.76,421.91 L804.23,421.84 L804.71,421.76 L805.18,421.67 L805.66,421.58 L806.13,421.48 L806.61,421.37 L807.08,421.26 L807.56,421.14 L808.03,421.01 L808.51,420.87 L808.98,420.73 L809.46,420.58 L809.93,420.41 L810.41,420.24 L810.88,420.06 L811.36,419.87 L811.83,419.67 L812.31,419.46 L812.78,419.23 L813.26,419 L813.73,418.76 L814.21,418.5 L814.68,418.23 L815.16,417.95 L815.63,417.66 L816.11,417.35 L816.58,417.03 L817.06,416.7 L817.53,416.36 L818.01,416.01 L818.48,415.64 L818.96,415.26 L819.43,414.87 L819.91,414.46 L820.38,414.04 L820.86,413.61 L821.33,413.17 L821.81,412.72 L822.28,412.26 L822.76,411.78 L823.23,411.3 L823.71,410.81 L824.18,410.31 L824.66,409.8 L825.13,409.28 L825.61,408.75 L826.08,408.22 L826.56,407.68 L827.03,407.14 L827.5,406.6 L827.98,406.05 L828.45,405.5 L828.93,404.95 L829.4,404.41 L829.88,403.86 L830.35,403.32 L830.83,402.78 L831.3,402.24 L831.78,401.71 L832.25,401.19 L832.73,400.68 L833.2,400.18 L833.68,399.68 L834.15,399.21 L834.63,398.74 L835.1,398.29 L835.58,397.85 L836.05,397.44 L836.53,397.04 L837,396.66 L837.48,396.3 L837.95,395.96 L838.43,395.64 L838.9,395.35 L839.38,395.08 L839.85,394.84 L840.33,394.62 L840.8,394.42 L841.28,394.26 L841.75,394.12 L842.23,394 L842.7,393.92 L843.18,393.86 L843.65,393.83 L844.13,393.83 L844.6,393.86 L845.08,393.92 L845.55,394 L846.03,394.12 L846.5,394.26 L846.98,394.42 L847.45,394.62 L847.93,394.84 L848.4,395.08 L848.88,395.35 L849.35,395.64 L849.83,395.96 L850.3,396.3 L850.78,396.66 L851.25,397.04 L851.72,397.44 L852.2,397.85 L852.67,398.29 L853.15,398.74 L853.62,399.21 L854.1,399.68 L854.57,400.18 L855.05,400.68 L855.52,401.19 L856,401.71 L856.47,402.24 L856.95,402.78 L857.42,403.32 L857.9,403.86 L858.37,404.41 L858.85,404.95 L859.32,405.5 L859.8,406.05 L860.27,406.6 L860.75,407.14 L861.22,407.68 L861.7,408.22 L862.17,408.75 L862.65,409.28 L863.12,409.8 L863.6,410.31 L864.07,410.81 L864.55,411.3 L865.02,411.78 L865.5,412.26 L865.97,412.72 L866.45,413.17 L866.92,413.61 L867.4,414.04 L867.87,414.46 L868.35,414.87 L868.82,415.26 L869.3,415.64 L869.77,416.01 L870.25,416.36 L870.72,416.7 L871.2,417.03 L871.67,417.35 L872.15,417.66 L872.62,417.95 L873.1,418.23 L873.57,418.5 L874.05,418.76 L874.52,419 L875,419.23 L875.47,419.46 L875.94,419.67 L876.42,419.87 L876.89,420.06 L877.37,420.24 L877.84,420.41 L878.32,420.58 L878.79,420.73 L879.27,420.87 L879.74,421.01 L880.22,421.14 L880.69,421.26 L881.17,421.37 L881.64,421.48 L882.12,421.58 L882.59,421.67 L883.07,421.76 L883.54,421.84 L884.02,421.91 L884.49,421.98 L884.97,422.05 L885.44,422.11 L885.92,422.17 L886.39,422.22 L886.87,422.27 L887.34,422.31 L887.82,422.36 L888.29,422.39 L888.77,422.43 L889.24,422.46 L889.72,422.49 L890.19,422.52 L890.67,422.55 L891.14,422.57 L891.62,422.59 L892.09,422.61 L892.57,422.63 L893.04,422.65 L893.52,422.66 L893.99,422.67 L894.47,422.69 L894.94,422.7 L895.42,422.71 L895.89,422.72 L896.37,422.73 L896.84,422.73 L897.32,422.74 L897.79,422.75 L898.27,422.75 L898.74,422.76 L899.21,422.76 L899.69,422.77 L900.16,422.77 L900.64,422.77 L901.11,422.78 L901.59,422.78 L902.06,422.78 L902.54,422.78 L903.01,422.79 L903.49,422.79 L903.96,422.79 L904.44,422.79 L904.44,422.8 Z" fill="#f40000"/>
<g clip-path="url(#sp1)"><rect x="729.68" y="222.8" width="175" height="200" fill="url(#hb)"/></g>
<g clip-path="url(#sp1)"><g clip-path="url(#rp1)"><rect x="729.68" y="222.8" width="175" height="200" fill="url(#hk)"/></g></g>
<polyline points="729.68,422.72 730.15,422.7 730.62,422.67 731.1,422.64 731.57,422.61 732.05,422.56 732.52,422.51 733,422.45 733.47,422.38 733.95,422.29 734.42,422.18 734.9,422.05 735.37,421.9 735.85,421.73 736.32,421.52 736.8,421.27 737.27,420.99 737.75,420.66 738.22,420.28 738.7,419.83 739.17,419.32 739.65,418.73 740.12,418.05 740.6,417.28 741.07,416.41 741.55,415.41 742.02,414.29 742.5,413.02 742.97,411.6 743.45,410 743.92,408.23 744.4,406.25 744.87,404.06 745.35,401.65 745.82,398.99 746.3,396.08 746.77,392.9 747.25,389.44 747.72,385.68 748.2,381.62 748.67,377.26 749.15,372.57 749.62,367.57 750.1,362.25 750.57,356.6 751.05,350.64 751.52,344.38 752,337.81 752.47,330.97 752.95,323.45 753.42,315.62 753.9,307.5 754.37,299.13 754.84,290.55 755.32,281.8 755.79,272.93 756.27,263.99 756.74,255.03 757.22,246.11 757.69,237.3 758.17,228.64 758.64,220.22 759.12,212.08 759.59,204.3 760.07,196.93 760.54,190.03 761.02,183.66 761.49,177.87 761.97,172.71 762.44,168.22 762.92,164.44 763.39,161.4 763.87,159.13 764.34,157.63 764.82,156.86 765.29,156.72 765.77,157.24 766.24,158.39 766.72,160.16 767.19,162.55 767.67,165.52 768.14,169.06 768.62,173.13 769.09,177.7 769.57,182.74 770.04,188.21 770.52,194.06 770.99,200.25 771.47,206.74 771.94,213.49 772.42,220.44 772.89,227.56 773.37,234.8 773.84,242.13 774.32,249.48 774.79,256.84 775.27,264.16 775.74,271.4 776.22,278.53 776.69,285.61 777.17,292.39 777.64,298.85 778.12,304.98 778.59,310.76 779.06,316.2 779.54,321.29 780.01,326.03 780.49,330.44 780.96,334.51 781.44,338.27 781.91,341.72 782.39,344.9 782.86,347.8 783.34,350.46 783.81,352.89 784.29,355.12 784.76,357.15 785.24,359.01 785.71,360.72 786.19,362.4 786.66,363.88 787.14,365.17 787.61,366.29 788.09,367.26 788.56,368.08 789.04,368.77 789.51,369.34 789.99,369.8 790.46,370.18 790.94,370.47 791.41,370.68 791.89,370.84 792.36,370.94 792.84,371 793.31,371.02 793.79,371.02 794.26,370.98 794.74,370.94 795.21,370.87 795.69,370.81 796.16,370.73 796.64,370.66 797.11,370.59 797.59,370.52 798.06,370.56 798.54,370.59 799.01,370.61 799.49,370.63 799.96,370.65 800.44,370.66 800.91,370.67 801.39,370.68 801.86,370.68 802.34,370.68 802.81,370.67 803.28,370.65 803.76,370.63 804.23,370.59 804.71,370.55 805.18,370.51 805.66,370.45 806.13,370.38 806.61,370.3 807.08,370.2 807.56,370.21 808.03,370.24 808.51,370.28 808.98,370.33 809.46,370.4 809.93,370.48 810.41,370.56 810.88,370.65 811.36,370.74 811.83,370.83 812.31,370.92 812.78,371 813.26,371.07 813.73,371.13 814.21,371.17 814.68,371.19 815.16,371.2 815.63,371.17 816.11,371.12 816.58,371.04 817.06,370.93 817.53,370.79 818.01,370.61 818.48,370.39 818.96,370.14 819.43,370.01 819.91,369.91 820.38,369.85 820.86,369.82 821.33,369.81 821.81,369.83 822.28,369.88 822.76,369.95 823.23,370.03 823.71,370.12 824.18,370.21 824.66,370.31 825.13,370.4 825.61,370.49 826.08,370.55 826.56,370.6 827.03,370.62 827.5,370.62 827.98,370.58 828.45,370.51 828.93,370.39 829.4,370.24 829.88,370.05 830.35,369.81 830.83,369.53 831.3,369.26 831.78,369.04 832.25,368.87 832.73,368.75 833.2,368.69 833.68,368.67 834.15,368.7 834.63,368.77 835.1,368.89 835.58,369.04 836.05,369.22 836.53,369.43 837,369.66 837.48,369.9 837.95,370.16 838.43,370.43 838.9,370.7 839.38,370.97 839.85,371.24 840.33,371.49 840.8,371.74 841.28,371.96 841.75,372.18 842.23,372.37 842.7,372.55 843.18,372.73 843.65,372.98 844.13,373.29 844.6,373.68 845.08,374.13 845.55,374.64 846.03,375.21 846.5,375.83 846.98,376.51 847.45,377.23 847.93,377.99 848.4,378.78 848.88,379.6 849.35,380.44 849.83,381.29 850.3,382.16 850.78,383.02 851.25,383.89 851.72,384.75 852.2,385.59 852.67,386.42 853.15,387.23 853.62,388.01 854.1,388.76 854.57,389.49 855.05,390.15 855.52,390.85 856,391.58 856.47,392.35 856.95,393.14 857.42,393.97 857.9,394.82 858.37,395.69 858.85,396.57 859.32,397.47 859.8,398.38 860.27,399.29 860.75,400.2 861.22,401.11 861.7,402 862.17,402.89 862.65,403.75 863.12,404.59 863.6,405.41 864.07,406.19 864.55,406.95 865.02,407.67 865.5,408.36 865.97,409 866.45,409.61 866.92,410.13 867.4,410.65 867.87,411.18 868.35,411.7 868.82,412.22 869.3,412.75 869.77,413.27 870.25,413.78 870.72,414.3 871.2,414.8 871.67,415.3 872.15,415.78 872.62,416.26 873.1,416.72 873.57,417.17 874.05,417.6 874.52,418.02 875,418.41 875.47,418.79 875.94,419.14 876.42,419.47 876.89,419.78 877.37,420.07 877.84,420.33 878.32,420.58 878.79,420.73 879.27,420.87 879.74,421.01 880.22,421.14 880.69,421.26 881.17,421.37 881.64,421.48 882.12,421.58 882.59,421.67 883.07,421.76 883.54,421.84 884.02,421.91 884.49,421.98 884.97,422.05 885.44,422.11 885.92,422.17 886.39,422.22 886.87,422.27 887.34,422.31 887.82,422.36 888.29,422.39 888.77,422.43 889.24,422.46 889.72,422.49 890.19,422.52 890.67,422.55 891.14,422.57 891.62,422.59 892.09,422.61 892.57,422.63 893.04,422.65 893.52,422.66 893.99,422.67 894.47,422.69 894.94,422.7 895.42,422.71 895.89,422.72 896.37,422.73 896.84,422.73 897.32,422.74 897.79,422.75 898.27,422.75 898.74,422.76 899.21,422.76 899.69,422.77 900.16,422.77 900.64,422.77 901.11,422.78 901.59,422.78 902.06,422.78 902.54,422.78 903.01,422.79 903.49,422.79 903.96,422.79 904.44,422.79" fill="none" stroke="#bdbdbd" stroke-width="1.1"/>
<polyline points="708.54,422.8 710.92,415.68 715.67,412.11 721.6,403.8 726.35,407.37 731.1,401.43 738.22,389.56 740.6,390.74 744.16,382.43 747.72,365.81 752.47,294.58 756.03,235.21 759.59,171.1 763.16,159.23 765.53,137.86 767.9,121.24 769.57,137.86 772.65,171.1 776.22,223.34 779.78,282.7 783.34,330.19 786.9,346.82 790.46,356.31 795.21,358.69 799.96,365.81 804.71,362.25 809.46,362.25 814.21,365.81 816.58,369.37 821.33,363.44 832.02,361.06 837.95,365.81 845.08,368.19 848.64,375.31 852.2,382.43 855.76,387.18 861.7,396.68 866.45,403.8 870.01,410.93 873.57,415.68 878.32,418.05 885.44,420.43 890.19,422.33 897.32,422.8" fill="none" stroke="#111" stroke-width="1.6" stroke-linejoin="round"/>
<path d="M768.62,425 L762.72,434.8 L774.52,434.8 Z" fill="#000"/>
<clipPath id="sp2"><path d="M1167.22,422.8 L1167.22,422.8 L1167.69,422.53 L1168.17,422.23 L1168.64,421.88 L1169.12,421.5 L1169.59,421.08 L1170.07,420.62 L1170.54,420.14 L1171.02,419.62 L1171.49,419.07 L1171.97,418.51 L1172.44,417.92 L1172.92,417.31 L1173.39,416.69 L1173.87,416.07 L1174.34,415.44 L1174.82,414.81 L1175.29,414.18 L1175.77,413.57 L1176.24,412.96 L1176.72,412.37 L1177.19,411.8 L1177.67,411.26 L1178.14,410.74 L1178.62,410.25 L1179.09,409.8 L1179.57,409.38 L1180.04,408.99 L1180.52,408.65 L1180.99,408.34 L1181.47,408.08 L1181.94,407.71 L1182.42,407.28 L1182.89,406.79 L1183.37,406.23 L1183.84,405.62 L1184.32,404.96 L1184.79,404.24 L1185.27,403.49 L1185.74,402.7 L1186.22,401.88 L1186.69,401.04 L1187.17,400.19 L1187.64,399.34 L1188.12,398.49 L1188.59,397.65 L1189.06,396.83 L1189.54,396.04 L1190.01,395.29 L1190.49,394.58 L1190.96,393.91 L1191.44,393.3 L1191.91,392.75 L1192.39,392.25 L1192.86,391.82 L1193.34,391.46 L1193.81,391.16 L1194.29,390.79 L1194.76,390.36 L1195.24,389.88 L1195.71,389.34 L1196.19,388.75 L1196.66,388.13 L1197.14,387.47 L1197.61,386.8 L1198.09,386.11 L1198.56,385.43 L1199.04,384.75 L1199.51,384.1 L1199.99,383.48 L1200.46,382.89 L1200.94,382.35 L1201.41,381.86 L1201.89,381.44 L1202.36,381.07 L1202.84,380.77 L1203.31,380.63 L1203.79,380.46 L1204.26,380.24 L1204.74,380 L1205.21,379.73 L1205.69,379.44 L1206.16,379.14 L1206.64,378.84 L1207.11,378.54 L1207.59,378.25 L1208.06,377.98 L1208.54,377.74 L1209.01,377.52 L1209.49,377.35 L1209.96,377.21 L1210.44,377.29 L1210.91,377.38 L1211.39,377.49 L1211.86,377.6 L1212.34,377.74 L1212.81,377.88 L1213.28,378.03 L1213.76,378.19 L1214.23,378.36 L1214.71,378.54 L1215.18,378.72 L1215.66,378.9 L1216.13,379.08 L1216.61,379.26 L1217.08,379.44 L1217.56,379.62 L1218.03,379.79 L1218.51,379.95 L1218.98,380.1 L1219.46,380.24 L1219.93,380.38 L1220.41,380.49 L1220.88,380.6 L1221.36,380.69 L1221.83,380.77 L1222.31,380.95 L1222.78,381.17 L1223.26,381.42 L1223.73,381.69 L1224.21,382 L1224.68,382.33 L1225.16,382.69 L1225.63,383.07 L1226.11,383.46 L1226.58,383.87 L1227.06,384.29 L1227.53,384.71 L1228.01,385.14 L1228.48,385.57 L1228.96,385.98 L1229.43,386.39 L1229.91,386.79 L1230.38,387.17 L1230.86,387.52 L1231.33,387.85 L1231.81,388.16 L1232.28,388.44 L1232.76,388.68 L1233.23,388.9 L1233.71,389.08 L1234.18,389.32 L1234.66,389.59 L1235.13,389.91 L1235.61,390.27 L1236.08,390.66 L1236.56,391.09 L1237.03,391.55 L1237.5,392.03 L1237.98,392.54 L1238.45,393.06 L1238.93,393.6 L1239.4,394.15 L1239.88,394.7 L1240.35,395.25 L1240.83,395.78 L1241.3,396.31 L1241.78,396.82 L1242.25,397.3 L1242.73,397.76 L1243.2,398.19 L1243.68,398.58 L1244.15,398.94 L1244.63,399.26 L1245.1,399.53 L1245.58,399.77 L1246.05,400 L1246.53,400.28 L1247,400.6 L1247.48,400.95 L1247.95,401.35 L1248.43,401.77 L1248.9,402.23 L1249.38,402.72 L1249.85,403.22 L1250.33,403.75 L1250.8,404.29 L1251.28,404.84 L1251.75,405.38 L1252.23,405.93 L1252.7,406.47 L1253.18,407 L1253.65,407.5 L1254.13,407.99 L1254.6,408.45 L1255.08,408.87 L1255.55,409.27 L1256.03,409.62 L1256.5,409.94 L1256.98,410.22 L1257.45,410.45 L1257.93,410.64 L1258.4,410.85 L1258.88,411.1 L1259.35,411.37 L1259.83,411.68 L1260.3,412.01 L1260.78,412.37 L1261.25,412.75 L1261.72,413.14 L1262.2,413.55 L1262.67,413.97 L1263.15,414.39 L1263.62,414.82 L1264.1,415.25 L1264.57,415.67 L1265.05,416.07 L1265.52,416.47 L1266,416.85 L1266.47,417.2 L1266.95,417.54 L1267.42,417.84 L1267.9,418.12 L1268.37,418.37 L1268.85,418.58 L1269.32,418.76 L1269.8,418.85 L1270.27,418.96 L1270.75,419.08 L1271.22,419.21 L1271.7,419.36 L1272.17,419.52 L1272.65,419.69 L1273.12,419.88 L1273.6,420.07 L1274.07,420.27 L1274.55,420.47 L1275.02,420.68 L1275.5,420.89 L1275.97,421.09 L1276.45,421.3 L1276.92,421.49 L1277.4,421.69 L1277.87,421.87 L1278.35,422.04 L1278.82,422.2 L1279.3,422.35 L1279.77,422.49 L1280.25,422.61 L1280.72,422.71 L1281.2,422.8 L1281.2,422.8 Z"/></clipPath>
<clipPath id="rp2"><path d="M1136.83,422.8 L1136.83,422.68 L1137.3,422.66 L1137.78,422.63 L1138.25,422.6 L1138.73,422.56 L1139.2,422.52 L1139.68,422.46 L1140.15,422.4 L1140.62,422.33 L1141.1,422.24 L1141.57,422.14 L1142.05,422.03 L1142.52,421.89 L1143,421.74 L1143.47,421.56 L1143.95,421.36 L1144.42,421.12 L1144.9,420.86 L1145.37,420.55 L1145.85,420.2 L1146.32,419.81 L1146.8,419.36 L1147.27,418.85 L1147.75,418.28 L1148.22,417.64 L1148.7,416.92 L1149.17,416.11 L1149.65,415.2 L1150.12,414.2 L1150.6,413.08 L1151.07,411.84 L1151.55,410.47 L1152.02,408.95 L1152.5,407.29 L1152.97,405.46 L1153.45,403.46 L1153.92,401.27 L1154.4,398.89 L1154.87,396.31 L1155.35,393.5 L1155.82,390.47 L1156.3,387.2 L1156.77,383.69 L1157.25,379.92 L1157.72,375.9 L1158.2,371.6 L1158.67,367.04 L1159.15,362.19 L1159.62,357.07 L1160.1,351.67 L1160.57,345.99 L1161.05,340.04 L1161.52,333.82 L1162,327.34 L1162.47,320.61 L1162.95,313.64 L1163.42,306.44 L1163.9,299.04 L1164.37,291.46 L1164.84,283.71 L1165.32,275.82 L1165.79,267.82 L1166.27,259.74 L1166.74,251.6 L1167.22,243.45 L1167.69,235.32 L1168.17,227.24 L1168.64,219.25 L1169.12,211.4 L1169.59,203.72 L1170.07,196.25 L1170.54,189.03 L1171.02,182.1 L1171.49,175.5 L1171.97,169.27 L1172.44,163.45 L1172.92,158.06 L1173.39,153.15 L1173.87,148.74 L1174.34,144.86 L1174.82,141.53 L1175.29,138.78 L1175.77,136.62 L1176.24,135.07 L1176.72,134.13 L1177.19,133.82 L1177.67,134.13 L1178.14,135.07 L1178.62,136.62 L1179.09,138.78 L1179.57,141.53 L1180.04,144.86 L1180.52,148.74 L1180.99,153.15 L1181.47,158.06 L1181.94,163.45 L1182.42,169.27 L1182.89,175.5 L1183.37,182.1 L1183.84,189.03 L1184.32,196.25 L1184.79,203.72 L1185.27,211.4 L1185.74,219.25 L1186.22,227.24 L1186.69,235.32 L1187.17,243.45 L1187.64,251.6 L1188.12,259.74 L1188.59,267.82 L1189.06,275.82 L1189.54,283.71 L1190.01,291.46 L1190.49,299.04 L1190.96,306.44 L1191.44,313.64 L1191.91,320.61 L1192.39,327.34 L1192.86,333.82 L1193.34,340.04 L1193.81,345.99 L1194.29,351.67 L1194.76,357.07 L1195.24,362.19 L1195.71,367.04 L1196.19,371.6 L1196.66,375.9 L1197.14,379.92 L1197.61,383.69 L1198.09,387.2 L1198.56,390.47 L1199.04,393.5 L1199.51,396.31 L1199.99,398.89 L1200.46,401.27 L1200.94,403.46 L1201.41,405.46 L1201.89,407.29 L1202.36,408.95 L1202.84,410.47 L1203.31,411.84 L1203.79,413.08 L1204.26,414.2 L1204.74,415.2 L1205.21,416.11 L1205.69,416.92 L1206.16,417.64 L1206.64,418.28 L1207.11,418.85 L1207.59,419.36 L1208.06,419.81 L1208.54,420.2 L1209.01,420.55 L1209.49,420.86 L1209.96,421.12 L1210.44,421.36 L1210.91,421.56 L1211.39,421.74 L1211.86,421.89 L1212.34,422.03 L1212.81,422.14 L1213.28,422.24 L1213.76,422.33 L1214.23,422.4 L1214.71,422.46 L1215.18,422.52 L1215.66,422.56 L1216.13,422.6 L1216.61,422.63 L1217.08,422.66 L1217.56,422.68 L1217.56,422.8 Z"/><path d="M1194.76,422.8 L1194.76,422.79 L1195.24,422.79 L1195.71,422.79 L1196.19,422.79 L1196.66,422.79 L1197.14,422.79 L1197.61,422.79 L1198.09,422.79 L1198.56,422.78 L1199.04,422.78 L1199.51,422.78 L1199.99,422.78 L1200.46,422.78 L1200.94,422.77 L1201.41,422.77 L1201.89,422.76 L1202.36,422.76 L1202.84,422.76 L1203.31,422.75 L1203.79,422.74 L1204.26,422.74 L1204.74,422.73 L1205.21,422.72 L1205.69,422.71 L1206.16,422.7 L1206.64,422.69 L1207.11,422.68 L1207.59,422.67 L1208.06,422.65 L1208.54,422.64 L1209.01,422.62 L1209.49,422.6 L1209.96,422.58 L1210.44,422.56 L1210.91,422.54 L1211.39,422.51 L1211.86,422.48 L1212.34,422.45 L1212.81,422.42 L1213.28,422.38 L1213.76,422.35 L1214.23,422.3 L1214.71,422.26 L1215.18,422.21 L1215.66,422.16 L1216.13,422.1 L1216.61,422.04 L1217.08,421.98 L1217.56,421.91 L1218.03,421.84 L1218.51,421.76 L1218.98,421.68 L1219.46,421.59 L1219.93,421.5 L1220.41,421.4 L1220.88,421.29 L1221.36,421.18 L1221.83,421.07 L1222.31,420.94 L1222.78,420.81 L1223.26,420.67 L1223.73,420.53 L1224.21,420.38 L1224.68,420.22 L1225.16,420.05 L1225.63,419.88 L1226.11,419.7 L1226.58,419.51 L1227.06,419.32 L1227.53,419.11 L1228.01,418.9 L1228.48,418.69 L1228.96,418.46 L1229.43,418.23 L1229.91,417.99 L1230.38,417.74 L1230.86,417.49 L1231.33,417.23 L1231.81,416.96 L1232.28,416.69 L1232.76,416.41 L1233.23,416.13 L1233.71,415.84 L1234.18,415.55 L1234.66,415.25 L1235.13,414.96 L1235.61,414.65 L1236.08,414.35 L1236.56,414.04 L1237.03,413.74 L1237.5,413.43 L1237.98,413.12 L1238.45,412.82 L1238.93,412.51 L1239.4,412.21 L1239.88,411.91 L1240.35,411.62 L1240.83,411.33 L1241.3,411.04 L1241.78,410.77 L1242.25,410.5 L1242.73,410.23 L1243.2,409.98 L1243.68,409.74 L1244.15,409.5 L1244.63,409.28 L1245.1,409.07 L1245.58,408.87 L1246.05,408.68 L1246.53,408.51 L1247,408.35 L1247.48,408.2 L1247.95,408.07 L1248.43,407.96 L1248.9,407.86 L1249.38,407.77 L1249.85,407.71 L1250.33,407.66 L1250.8,407.62 L1251.28,407.61 L1251.75,407.61 L1252.23,407.62 L1252.7,407.66 L1253.18,407.71 L1253.65,407.77 L1254.13,407.86 L1254.6,407.96 L1255.08,408.07 L1255.55,408.2 L1256.03,408.35 L1256.5,408.51 L1256.98,408.68 L1257.45,408.87 L1257.93,409.07 L1258.4,409.28 L1258.88,409.5 L1259.35,409.74 L1259.83,409.98 L1260.3,410.23 L1260.78,410.5 L1261.25,410.77 L1261.72,411.04 L1262.2,411.33 L1262.67,411.62 L1263.15,411.91 L1263.62,412.21 L1264.1,412.51 L1264.57,412.82 L1265.05,413.12 L1265.52,413.43 L1266,413.74 L1266.47,414.04 L1266.95,414.35 L1267.42,414.65 L1267.9,414.96 L1268.37,415.25 L1268.85,415.55 L1269.32,415.84 L1269.8,416.13 L1270.27,416.41 L1270.75,416.69 L1271.22,416.96 L1271.7,417.23 L1272.17,417.49 L1272.65,417.74 L1273.12,417.99 L1273.6,418.23 L1274.07,418.46 L1274.55,418.69 L1275.02,418.9 L1275.5,419.11 L1275.97,419.32 L1276.45,419.51 L1276.92,419.7 L1277.4,419.88 L1277.87,420.05 L1278.35,420.22 L1278.82,420.38 L1279.3,420.53 L1279.77,420.67 L1280.25,420.81 L1280.72,420.94 L1281.2,421.07 L1281.67,421.18 L1282.15,421.29 L1282.62,421.4 L1283.1,421.5 L1283.57,421.59 L1284.05,421.68 L1284.52,421.76 L1285,421.84 L1285.47,421.91 L1285.94,421.98 L1286.42,422.04 L1286.89,422.1 L1287.37,422.16 L1287.84,422.21 L1288.32,422.26 L1288.79,422.3 L1289.27,422.35 L1289.74,422.38 L1290.22,422.42 L1290.69,422.45 L1291.17,422.48 L1291.64,422.51 L1292.12,422.54 L1292.59,422.56 L1293.07,422.58 L1293.54,422.6 L1294.02,422.62 L1294.49,422.64 L1294.97,422.65 L1295.44,422.67 L1295.92,422.68 L1296.39,422.69 L1296.87,422.7 L1297.34,422.71 L1297.82,422.72 L1298.29,422.73 L1298.77,422.74 L1299.24,422.74 L1299.72,422.75 L1300.19,422.76 L1300.67,422.76 L1301.14,422.76 L1301.62,422.77 L1302.09,422.77 L1302.57,422.78 L1303.04,422.78 L1303.52,422.78 L1303.99,422.78 L1304.47,422.78 L1304.94,422.79 L1305.42,422.79 L1305.89,422.79 L1306.37,422.79 L1306.84,422.79 L1307.32,422.79 L1307.79,422.79 L1308.27,422.79 L1308.27,422.8 Z"/></clipPath>
<path d="M1136.83,422.8 L1136.83,422.68 L1137.3,422.66 L1137.78,422.63 L1138.25,422.6 L1138.73,422.56 L1139.2,422.52 L1139.68,422.46 L1140.15,422.4 L1140.62,422.33 L1141.1,422.24 L1141.57,422.14 L1142.05,422.03 L1142.52,421.89 L1143,421.74 L1143.47,421.56 L1143.95,421.36 L1144.42,421.12 L1144.9,420.86 L1145.37,420.55 L1145.85,420.2 L1146.32,419.81 L1146.8,419.36 L1147.27,418.85 L1147.75,418.28 L1148.22,417.64 L1148.7,416.92 L1149.17,416.11 L1149.65,415.2 L1150.12,414.2 L1150.6,413.08 L1151.07,411.84 L1151.55,410.47 L1152.02,408.95 L1152.5,407.29 L1152.97,405.46 L1153.45,403.46 L1153.92,401.27 L1154.4,398.89 L1154.87,396.31 L1155.35,393.5 L1155.82,390.47 L1156.3,387.2 L1156.77,383.69 L1157.25,379.92 L1157.72,375.9 L1158.2,371.6 L1158.67,367.04 L1159.15,362.19 L1159.62,357.07 L1160.1,351.67 L1160.57,345.99 L1161.05,340.04 L1161.52,333.82 L1162,327.34 L1162.47,320.61 L1162.95,313.64 L1163.42,306.44 L1163.9,299.04 L1164.37,291.46 L1164.84,283.71 L1165.32,275.82 L1165.79,267.82 L1166.27,259.74 L1166.74,251.6 L1167.22,243.45 L1167.69,235.32 L1168.17,227.24 L1168.64,219.25 L1169.12,211.4 L1169.59,203.72 L1170.07,196.25 L1170.54,189.03 L1171.02,182.1 L1171.49,175.5 L1171.97,169.27 L1172.44,163.45 L1172.92,158.06 L1173.39,153.15 L1173.87,148.74 L1174.34,144.86 L1174.82,141.53 L1175.29,138.78 L1175.77,136.62 L1176.24,135.07 L1176.72,134.13 L1177.19,133.82 L1177.67,134.13 L1178.14,135.07 L1178.62,136.62 L1179.09,138.78 L1179.57,141.53 L1180.04,144.86 L1180.52,148.74 L1180.99,153.15 L1181.47,158.06 L1181.94,163.45 L1182.42,169.27 L1182.89,175.5 L1183.37,182.1 L1183.84,189.03 L1184.32,196.25 L1184.79,203.72 L1185.27,211.4 L1185.74,219.25 L1186.22,227.24 L1186.69,235.32 L1187.17,243.45 L1187.64,251.6 L1188.12,259.74 L1188.59,267.82 L1189.06,275.82 L1189.54,283.71 L1190.01,291.46 L1190.49,299.04 L1190.96,306.44 L1191.44,313.64 L1191.91,320.61 L1192.39,327.34 L1192.86,333.82 L1193.34,340.04 L1193.81,345.99 L1194.29,351.67 L1194.76,357.07 L1195.24,362.19 L1195.71,367.04 L1196.19,371.6 L1196.66,375.9 L1197.14,379.92 L1197.61,383.69 L1198.09,387.2 L1198.56,390.47 L1199.04,393.5 L1199.51,396.31 L1199.99,398.89 L1200.46,401.27 L1200.94,403.46 L1201.41,405.46 L1201.89,407.29 L1202.36,408.95 L1202.84,410.47 L1203.31,411.84 L1203.79,413.08 L1204.26,414.2 L1204.74,415.2 L1205.21,416.11 L1205.69,416.92 L1206.16,417.64 L1206.64,418.28 L1207.11,418.85 L1207.59,419.36 L1208.06,419.81 L1208.54,420.2 L1209.01,420.55 L1209.49,420.86 L1209.96,421.12 L1210.44,421.36 L1210.91,421.56 L1211.39,421.74 L1211.86,421.89 L1212.34,422.03 L1212.81,422.14 L1213.28,422.24 L1213.76,422.33 L1214.23,422.4 L1214.71,422.46 L1215.18,422.52 L1215.66,422.56 L1216.13,422.6 L1216.61,422.63 L1217.08,422.66 L1217.56,422.68 L1217.56,422.8 Z" fill="#f40000"/>
<path d="M1194.76,422.8 L1194.76,422.79 L1195.24,422.79 L1195.71,422.79 L1196.19,422.79 L1196.66,422.79 L1197.14,422.79 L1197.61,422.79 L1198.09,422.79 L1198.56,422.78 L1199.04,422.78 L1199.51,422.78 L1199.99,422.78 L1200.46,422.78 L1200.94,422.77 L1201.41,422.77 L1201.89,422.76 L1202.36,422.76 L1202.84,422.76 L1203.31,422.75 L1203.79,422.74 L1204.26,422.74 L1204.74,422.73 L1205.21,422.72 L1205.69,422.71 L1206.16,422.7 L1206.64,422.69 L1207.11,422.68 L1207.59,422.67 L1208.06,422.65 L1208.54,422.64 L1209.01,422.62 L1209.49,422.6 L1209.96,422.58 L1210.44,422.56 L1210.91,422.54 L1211.39,422.51 L1211.86,422.48 L1212.34,422.45 L1212.81,422.42 L1213.28,422.38 L1213.76,422.35 L1214.23,422.3 L1214.71,422.26 L1215.18,422.21 L1215.66,422.16 L1216.13,422.1 L1216.61,422.04 L1217.08,421.98 L1217.56,421.91 L1218.03,421.84 L1218.51,421.76 L1218.98,421.68 L1219.46,421.59 L1219.93,421.5 L1220.41,421.4 L1220.88,421.29 L1221.36,421.18 L1221.83,421.07 L1222.31,420.94 L1222.78,420.81 L1223.26,420.67 L1223.73,420.53 L1224.21,420.38 L1224.68,420.22 L1225.16,420.05 L1225.63,419.88 L1226.11,419.7 L1226.58,419.51 L1227.06,419.32 L1227.53,419.11 L1228.01,418.9 L1228.48,418.69 L1228.96,418.46 L1229.43,418.23 L1229.91,417.99 L1230.38,417.74 L1230.86,417.49 L1231.33,417.23 L1231.81,416.96 L1232.28,416.69 L1232.76,416.41 L1233.23,416.13 L1233.71,415.84 L1234.18,415.55 L1234.66,415.25 L1235.13,414.96 L1235.61,414.65 L1236.08,414.35 L1236.56,414.04 L1237.03,413.74 L1237.5,413.43 L1237.98,413.12 L1238.45,412.82 L1238.93,412.51 L1239.4,412.21 L1239.88,411.91 L1240.35,411.62 L1240.83,411.33 L1241.3,411.04 L1241.78,410.77 L1242.25,410.5 L1242.73,410.23 L1243.2,409.98 L1243.68,409.74 L1244.15,409.5 L1244.63,409.28 L1245.1,409.07 L1245.58,408.87 L1246.05,408.68 L1246.53,408.51 L1247,408.35 L1247.48,408.2 L1247.95,408.07 L1248.43,407.96 L1248.9,407.86 L1249.38,407.77 L1249.85,407.71 L1250.33,407.66 L1250.8,407.62 L1251.28,407.61 L1251.75,407.61 L1252.23,407.62 L1252.7,407.66 L1253.18,407.71 L1253.65,407.77 L1254.13,407.86 L1254.6,407.96 L1255.08,408.07 L1255.55,408.2 L1256.03,408.35 L1256.5,408.51 L1256.98,408.68 L1257.45,408.87 L1257.93,409.07 L1258.4,409.28 L1258.88,409.5 L1259.35,409.74 L1259.83,409.98 L1260.3,410.23 L1260.78,410.5 L1261.25,410.77 L1261.72,411.04 L1262.2,411.33 L1262.67,411.62 L1263.15,411.91 L1263.62,412.21 L1264.1,412.51 L1264.57,412.82 L1265.05,413.12 L1265.52,413.43 L1266,413.74 L1266.47,414.04 L1266.95,414.35 L1267.42,414.65 L1267.9,414.96 L1268.37,415.25 L1268.85,415.55 L1269.32,415.84 L1269.8,416.13 L1270.27,416.41 L1270.75,416.69 L1271.22,416.96 L1271.7,417.23 L1272.17,417.49 L1272.65,417.74 L1273.12,417.99 L1273.6,418.23 L1274.07,418.46 L1274.55,418.69 L1275.02,418.9 L1275.5,419.11 L1275.97,419.32 L1276.45,419.51 L1276.92,419.7 L1277.4,419.88 L1277.87,420.05 L1278.35,420.22 L1278.82,420.38 L1279.3,420.53 L1279.77,420.67 L1280.25,420.81 L1280.72,420.94 L1281.2,421.07 L1281.67,421.18 L1282.15,421.29 L1282.62,421.4 L1283.1,421.5 L1283.57,421.59 L1284.05,421.68 L1284.52,421.76 L1285,421.84 L1285.47,421.91 L1285.94,421.98 L1286.42,422.04 L1286.89,422.1 L1287.37,422.16 L1287.84,422.21 L1288.32,422.26 L1288.79,422.3 L1289.27,422.35 L1289.74,422.38 L1290.22,422.42 L1290.69,422.45 L1291.17,422.48 L1291.64,422.51 L1292.12,422.54 L1292.59,422.56 L1293.07,422.58 L1293.54,422.6 L1294.02,422.62 L1294.49,422.64 L1294.97,422.65 L1295.44,422.67 L1295.92,422.68 L1296.39,422.69 L1296.87,422.7 L1297.34,422.71 L1297.82,422.72 L1298.29,422.73 L1298.77,422.74 L1299.24,422.74 L1299.72,422.75 L1300.19,422.76 L1300.67,422.76 L1301.14,422.76 L1301.62,422.77 L1302.09,422.77 L1302.57,422.78 L1303.04,422.78 L1303.52,422.78 L1303.99,422.78 L1304.47,422.78 L1304.94,422.79 L1305.42,422.79 L1305.89,422.79 L1306.37,422.79 L1306.84,422.79 L1307.32,422.79 L1307.79,422.79 L1308.27,422.79 L1308.27,422.8 Z" fill="#f40000"/>
<g clip-path="url(#sp2)"><rect x="1136.35" y="222.8" width="172.15" height="200" fill="url(#hb)"/></g>
<g clip-path="url(#sp2)"><g clip-path="url(#rp2)"><rect x="1136.35" y="222.8" width="172.15" height="200" fill="url(#hk)"/></g></g>
<polyline points="1120.92,422.8 1124.48,419.95 1130.41,411.64 1136.35,403.33 1142.29,398.58 1148.22,393.83 1152.97,386.71 1156.53,370.09 1160.1,317.85 1164.84,246.61 1169.59,163.5 1173.16,108.89 1175.53,94.64 1177.19,89.89 1178.62,104.14 1181.47,139.76 1185.03,199.12 1188.59,265.61 1192.15,305.97 1195.71,336.84 1199.28,346.34 1202.84,360.59 1209.96,365.34 1214.71,371.27 1219.46,373.65 1224.21,374.83 1230.14,372.46 1233.71,379.58 1238.45,381.96 1243.2,383.15 1251.51,384.33 1257.45,393.83 1263.39,402.14 1269.32,410.45 1276.45,417.58 1281.2,419.95 1288.32,422.33 1295.44,422.8" fill="none" stroke="#111" stroke-width="1.6" stroke-linejoin="round"/>
<path d="M1177.9,425 L1172,434.8 L1183.8,434.8 Z" fill="#000"/>
<clipPath id="sp3"><path d="M1582.21,422.8 L1582.21,422.66 L1582.68,422.36 L1583.16,422.01 L1583.63,421.63 L1584.11,421.2 L1584.58,420.73 L1585.06,420.23 L1585.53,419.69 L1586.01,419.13 L1586.48,418.53 L1586.95,417.92 L1587.43,417.28 L1587.9,416.63 L1588.38,415.97 L1588.85,415.3 L1589.33,414.63 L1589.8,413.96 L1590.28,413.3 L1590.75,412.65 L1591.23,412.01 L1591.7,411.39 L1592.18,410.8 L1592.65,410.23 L1593.13,409.7 L1593.6,409.2 L1594.08,408.73 L1594.55,408.3 L1595.03,407.91 L1595.5,407.57 L1595.98,407.26 L1596.45,406.93 L1596.93,406.47 L1597.4,405.95 L1597.88,405.35 L1598.35,404.68 L1598.83,403.95 L1599.3,403.16 L1599.78,402.32 L1600.25,401.44 L1600.73,400.52 L1601.2,399.57 L1601.68,398.61 L1602.15,397.63 L1602.63,396.66 L1603.1,395.69 L1603.58,394.74 L1604.05,393.82 L1604.53,392.94 L1605,392.1 L1605.48,391.31 L1605.95,390.58 L1606.43,389.91 L1606.9,389.31 L1607.38,388.79 L1607.85,388.33 L1608.33,387.9 L1608.8,387.33 L1609.28,386.65 L1609.75,385.85 L1610.23,384.96 L1610.7,383.97 L1611.17,382.92 L1611.65,381.82 L1612.12,380.7 L1612.6,379.57 L1613.07,378.45 L1613.55,377.37 L1614.02,376.36 L1614.5,375.41 L1614.97,374.57 L1615.45,373.83 L1615.92,373.2 L1616.4,372.7 L1616.87,372.58 L1617.35,372.43 L1617.82,372.25 L1618.3,372.04 L1618.77,371.81 L1619.25,371.57 L1619.72,371.33 L1620.2,371.09 L1620.67,370.87 L1621.15,370.67 L1621.62,370.51 L1622.1,370.38 L1622.57,370.4 L1623.05,370.59 L1623.52,370.81 L1624,371.06 L1624.47,371.35 L1624.95,371.66 L1625.42,372 L1625.9,372.35 L1626.37,372.72 L1626.85,373.1 L1627.32,373.48 L1627.8,373.86 L1628.27,374.23 L1628.75,374.59 L1629.22,374.92 L1629.7,375.24 L1630.17,375.52 L1630.65,375.78 L1631.12,376 L1631.6,376.18 L1632.07,376.36 L1632.55,376.59 L1633.02,376.85 L1633.5,377.15 L1633.97,377.48 L1634.45,377.85 L1634.92,378.24 L1635.39,378.66 L1635.87,379.1 L1636.34,379.56 L1636.82,380.04 L1637.29,380.52 L1637.77,381.01 L1638.24,381.5 L1638.72,381.98 L1639.19,382.45 L1639.67,382.91 L1640.14,383.35 L1640.62,383.77 L1641.09,384.17 L1641.57,384.53 L1642.04,384.87 L1642.52,385.17 L1642.99,385.43 L1643.47,385.66 L1643.94,385.86 L1644.42,386.08 L1644.89,386.35 L1645.37,386.65 L1645.84,386.98 L1646.32,387.35 L1646.79,387.74 L1647.27,388.16 L1647.74,388.6 L1648.22,389.06 L1648.69,389.54 L1649.17,390.02 L1649.64,390.51 L1650.12,390.99 L1650.59,391.48 L1651.07,391.95 L1651.54,392.41 L1652.02,392.85 L1652.49,393.27 L1652.97,393.67 L1653.44,394.03 L1653.92,394.36 L1654.39,394.66 L1654.87,394.93 L1655.34,395.16 L1655.82,395.36 L1656.29,395.58 L1656.77,395.85 L1657.24,396.15 L1657.72,396.48 L1658.19,396.85 L1658.67,397.24 L1659.14,397.66 L1659.61,398.1 L1660.09,398.56 L1660.56,399.03 L1661.04,399.52 L1661.51,400 L1661.99,400.49 L1662.46,400.98 L1662.94,401.45 L1663.41,401.91 L1663.89,402.35 L1664.36,402.77 L1664.84,403.16 L1665.31,403.53 L1665.79,403.86 L1666.26,404.16 L1666.74,404.43 L1667.21,404.65 L1667.69,404.85 L1668.16,405.08 L1668.64,405.34 L1669.11,405.64 L1669.59,405.98 L1670.06,406.34 L1670.54,406.74 L1671.01,407.16 L1671.49,407.6 L1671.96,408.06 L1672.44,408.53 L1672.91,409.02 L1673.39,409.5 L1673.86,409.99 L1674.34,410.47 L1674.81,410.95 L1675.29,411.41 L1675.76,411.85 L1676.24,412.27 L1676.71,412.66 L1677.19,413.03 L1677.66,413.36 L1678.14,413.66 L1678.61,413.92 L1679.09,414.15 L1679.56,414.33 L1680.04,414.5 L1680.51,414.7 L1680.99,414.92 L1681.46,415.17 L1681.94,415.44 L1682.41,415.74 L1682.89,416.05 L1683.36,416.39 L1683.83,416.73 L1684.31,417.09 L1684.78,417.45 L1685.26,417.81 L1685.73,418.18 L1686.21,418.54 L1686.68,418.9 L1687.16,419.24 L1687.63,419.57 L1688.11,419.89 L1688.58,420.18 L1689.06,420.46 L1689.53,420.71 L1690.01,420.93 L1690.48,421.13 L1690.96,421.3 L1691.43,421.4 L1691.91,421.46 L1692.38,421.54 L1692.86,421.63 L1693.33,421.74 L1693.81,421.85 L1694.28,421.97 L1694.76,422.09 L1695.23,422.21 L1695.71,422.33 L1696.18,422.44 L1696.66,422.54 L1697.13,422.63 L1697.61,422.71 L1698.08,422.77 L1698.08,422.8 Z"/></clipPath>
<clipPath id="rp3"><path d="M1551.34,422.8 L1551.34,422.68 L1551.81,422.66 L1552.29,422.63 L1552.76,422.6 L1553.24,422.56 L1553.71,422.51 L1554.19,422.46 L1554.66,422.4 L1555.14,422.33 L1555.61,422.24 L1556.09,422.15 L1556.56,422.03 L1557.04,421.9 L1557.51,421.75 L1557.99,421.58 L1558.46,421.39 L1558.94,421.16 L1559.41,420.9 L1559.89,420.61 L1560.36,420.28 L1560.84,419.9 L1561.31,419.47 L1561.79,418.99 L1562.26,418.45 L1562.73,417.84 L1563.21,417.15 L1563.68,416.39 L1564.16,415.54 L1564.63,414.59 L1565.11,413.53 L1565.58,412.36 L1566.06,411.07 L1566.53,409.64 L1567.01,408.08 L1567.48,406.36 L1567.96,404.47 L1568.43,402.41 L1568.91,400.17 L1569.38,397.73 L1569.86,395.09 L1570.33,392.24 L1570.81,389.15 L1571.28,385.84 L1571.76,382.28 L1572.23,378.47 L1572.71,374.4 L1573.18,370.06 L1573.66,365.46 L1574.13,360.59 L1574.61,355.43 L1575.08,350.01 L1575.56,344.31 L1576.03,338.33 L1576.51,332.09 L1576.98,325.59 L1577.46,318.84 L1577.93,311.85 L1578.41,304.63 L1578.88,297.2 L1579.36,289.59 L1579.83,281.8 L1580.31,273.86 L1580.78,265.81 L1581.26,257.65 L1581.73,249.44 L1582.21,241.19 L1582.68,232.94 L1583.16,224.73 L1583.63,216.58 L1584.11,208.55 L1584.58,200.66 L1585.06,192.96 L1585.53,185.48 L1586.01,178.26 L1586.48,171.34 L1586.95,164.76 L1587.43,158.56 L1587.9,152.76 L1588.38,147.41 L1588.85,142.53 L1589.33,138.15 L1589.8,134.31 L1590.28,131.01 L1590.75,128.28 L1591.23,126.15 L1591.7,124.61 L1592.18,123.68 L1592.65,123.37 L1593.13,123.68 L1593.6,124.61 L1594.08,126.15 L1594.55,128.28 L1595.03,131.01 L1595.5,134.31 L1595.98,138.15 L1596.45,142.53 L1596.93,147.41 L1597.4,152.76 L1597.88,158.56 L1598.35,164.76 L1598.83,171.34 L1599.3,178.26 L1599.78,185.48 L1600.25,192.96 L1600.73,200.66 L1601.2,208.55 L1601.68,216.58 L1602.15,224.73 L1602.63,232.94 L1603.1,241.19 L1603.58,249.44 L1604.05,257.65 L1604.53,265.81 L1605,273.86 L1605.48,281.8 L1605.95,289.59 L1606.43,297.2 L1606.9,304.63 L1607.38,311.85 L1607.85,318.84 L1608.33,325.59 L1608.8,332.09 L1609.28,338.33 L1609.75,344.31 L1610.23,350.01 L1610.7,355.43 L1611.17,360.59 L1611.65,365.46 L1612.12,370.06 L1612.6,374.4 L1613.07,378.47 L1613.55,382.28 L1614.02,385.84 L1614.5,389.15 L1614.97,392.24 L1615.45,395.09 L1615.92,397.73 L1616.4,400.17 L1616.87,402.41 L1617.35,404.47 L1617.82,406.36 L1618.3,408.08 L1618.77,409.64 L1619.25,411.07 L1619.72,412.36 L1620.2,413.53 L1620.67,414.59 L1621.15,415.54 L1621.62,416.39 L1622.1,417.15 L1622.57,417.84 L1623.05,418.45 L1623.52,418.99 L1624,419.47 L1624.47,419.9 L1624.95,420.28 L1625.42,420.61 L1625.9,420.9 L1626.37,421.16 L1626.85,421.39 L1627.32,421.58 L1627.8,421.75 L1628.27,421.9 L1628.75,422.03 L1629.22,422.15 L1629.7,422.24 L1630.17,422.33 L1630.65,422.4 L1631.12,422.46 L1631.6,422.51 L1632.07,422.56 L1632.55,422.6 L1633.02,422.63 L1633.5,422.66 L1633.97,422.68 L1633.97,422.8 Z"/><path d="M1610.23,422.8 L1610.23,422.79 L1610.7,422.79 L1611.17,422.79 L1611.65,422.79 L1612.12,422.79 L1612.6,422.79 L1613.07,422.79 L1613.55,422.79 L1614.02,422.79 L1614.5,422.78 L1614.97,422.78 L1615.45,422.78 L1615.92,422.78 L1616.4,422.77 L1616.87,422.77 L1617.35,422.77 L1617.82,422.76 L1618.3,422.76 L1618.77,422.76 L1619.25,422.75 L1619.72,422.74 L1620.2,422.74 L1620.67,422.73 L1621.15,422.72 L1621.62,422.72 L1622.1,422.71 L1622.57,422.7 L1623.05,422.69 L1623.52,422.67 L1624,422.66 L1624.47,422.65 L1624.95,422.63 L1625.42,422.61 L1625.9,422.6 L1626.37,422.58 L1626.85,422.55 L1627.32,422.53 L1627.8,422.51 L1628.27,422.48 L1628.75,422.45 L1629.22,422.42 L1629.7,422.38 L1630.17,422.35 L1630.65,422.31 L1631.12,422.26 L1631.6,422.22 L1632.07,422.17 L1632.55,422.12 L1633.02,422.06 L1633.5,422 L1633.97,421.94 L1634.45,421.87 L1634.92,421.8 L1635.39,421.72 L1635.87,421.64 L1636.34,421.56 L1636.82,421.47 L1637.29,421.37 L1637.77,421.27 L1638.24,421.17 L1638.72,421.05 L1639.19,420.94 L1639.67,420.81 L1640.14,420.68 L1640.62,420.55 L1641.09,420.41 L1641.57,420.26 L1642.04,420.11 L1642.52,419.95 L1642.99,419.78 L1643.47,419.61 L1643.94,419.43 L1644.42,419.24 L1644.89,419.05 L1645.37,418.85 L1645.84,418.65 L1646.32,418.44 L1646.79,418.22 L1647.27,418 L1647.74,417.77 L1648.22,417.54 L1648.69,417.3 L1649.17,417.06 L1649.64,416.81 L1650.12,416.56 L1650.59,416.3 L1651.07,416.04 L1651.54,415.78 L1652.02,415.52 L1652.49,415.25 L1652.97,414.98 L1653.44,414.72 L1653.92,414.45 L1654.39,414.18 L1654.87,413.91 L1655.34,413.64 L1655.82,413.38 L1656.29,413.11 L1656.77,412.85 L1657.24,412.59 L1657.72,412.34 L1658.19,412.09 L1658.67,411.85 L1659.14,411.62 L1659.61,411.39 L1660.09,411.16 L1660.56,410.95 L1661.04,410.75 L1661.51,410.55 L1661.99,410.36 L1662.46,410.19 L1662.94,410.02 L1663.41,409.87 L1663.89,409.73 L1664.36,409.6 L1664.84,409.48 L1665.31,409.37 L1665.79,409.28 L1666.26,409.21 L1666.74,409.14 L1667.21,409.09 L1667.69,409.06 L1668.16,409.04 L1668.64,409.03 L1669.11,409.04 L1669.59,409.06 L1670.06,409.09 L1670.54,409.14 L1671.01,409.21 L1671.49,409.28 L1671.96,409.37 L1672.44,409.48 L1672.91,409.6 L1673.39,409.73 L1673.86,409.87 L1674.34,410.02 L1674.81,410.19 L1675.29,410.36 L1675.76,410.55 L1676.24,410.75 L1676.71,410.95 L1677.19,411.16 L1677.66,411.39 L1678.14,411.62 L1678.61,411.85 L1679.09,412.09 L1679.56,412.34 L1680.04,412.59 L1680.51,412.85 L1680.99,413.11 L1681.46,413.38 L1681.94,413.64 L1682.41,413.91 L1682.89,414.18 L1683.36,414.45 L1683.83,414.72 L1684.31,414.98 L1684.78,415.25 L1685.26,415.52 L1685.73,415.78 L1686.21,416.04 L1686.68,416.3 L1687.16,416.56 L1687.63,416.81 L1688.11,417.06 L1688.58,417.3 L1689.06,417.54 L1689.53,417.77 L1690.01,418 L1690.48,418.22 L1690.96,418.44 L1691.43,418.65 L1691.91,418.85 L1692.38,419.05 L1692.86,419.24 L1693.33,419.43 L1693.81,419.61 L1694.28,419.78 L1694.76,419.95 L1695.23,420.11 L1695.71,420.26 L1696.18,420.41 L1696.66,420.55 L1697.13,420.68 L1697.61,420.81 L1698.08,420.94 L1698.56,421.05 L1699.03,421.17 L1699.51,421.27 L1699.98,421.37 L1700.46,421.47 L1700.93,421.56 L1701.41,421.64 L1701.88,421.72 L1702.36,421.8 L1702.83,421.87 L1703.31,421.94 L1703.78,422 L1704.26,422.06 L1704.73,422.12 L1705.21,422.17 L1705.68,422.22 L1706.16,422.26 L1706.63,422.31 L1707.11,422.35 L1707.58,422.38 L1708.05,422.42 L1708.53,422.45 L1709,422.48 L1709.48,422.51 L1709.95,422.53 L1710.43,422.55 L1710.9,422.58 L1711.38,422.6 L1711.85,422.61 L1712.33,422.63 L1712.8,422.65 L1713.28,422.66 L1713.75,422.67 L1714.23,422.69 L1714.7,422.7 L1715.18,422.71 L1715.65,422.72 L1716.13,422.72 L1716.6,422.73 L1717.08,422.74 L1717.55,422.74 L1718.03,422.75 L1718.5,422.76 L1718.98,422.76 L1719.45,422.76 L1719.93,422.77 L1720.4,422.77 L1720.88,422.77 L1721.35,422.78 L1721.83,422.78 L1722.3,422.78 L1722.78,422.78 L1723.25,422.79 L1723.73,422.79 L1724.2,422.79 L1724.68,422.79 L1725.15,422.79 L1725.63,422.79 L1726.1,422.79 L1726.58,422.79 L1727.05,422.79 L1727.05,422.8 Z"/></clipPath>
<path d="M1551.34,422.8 L1551.34,422.68 L1551.81,422.66 L1552.29,422.63 L1552.76,422.6 L1553.24,422.56 L1553.71,422.51 L1554.19,422.46 L1554.66,422.4 L1555.14,422.33 L1555.61,422.24 L1556.09,422.15 L1556.56,422.03 L1557.04,421.9 L1557.51,421.75 L1557.99,421.58 L1558.46,421.39 L1558.94,421.16 L1559.41,420.9 L1559.89,420.61 L1560.36,420.28 L1560.84,419.9 L1561.31,419.47 L1561.79,418.99 L1562.26,418.45 L1562.73,417.84 L1563.21,417.15 L1563.68,416.39 L1564.16,415.54 L1564.63,414.59 L1565.11,413.53 L1565.58,412.36 L1566.06,411.07 L1566.53,409.64 L1567.01,408.08 L1567.48,406.36 L1567.96,404.47 L1568.43,402.41 L1568.91,400.17 L1569.38,397.73 L1569.86,395.09 L1570.33,392.24 L1570.81,389.15 L1571.28,385.84 L1571.76,382.28 L1572.23,378.47 L1572.71,374.4 L1573.18,370.06 L1573.66,365.46 L1574.13,360.59 L1574.61,355.43 L1575.08,350.01 L1575.56,344.31 L1576.03,338.33 L1576.51,332.09 L1576.98,325.59 L1577.46,318.84 L1577.93,311.85 L1578.41,304.63 L1578.88,297.2 L1579.36,289.59 L1579.83,281.8 L1580.31,273.86 L1580.78,265.81 L1581.26,257.65 L1581.73,249.44 L1582.21,241.19 L1582.68,232.94 L1583.16,224.73 L1583.63,216.58 L1584.11,208.55 L1584.58,200.66 L1585.06,192.96 L1585.53,185.48 L1586.01,178.26 L1586.48,171.34 L1586.95,164.76 L1587.43,158.56 L1587.9,152.76 L1588.38,147.41 L1588.85,142.53 L1589.33,138.15 L1589.8,134.31 L1590.28,131.01 L1590.75,128.28 L1591.23,126.15 L1591.7,124.61 L1592.18,123.68 L1592.65,123.37 L1593.13,123.68 L1593.6,124.61 L1594.08,126.15 L1594.55,128.28 L1595.03,131.01 L1595.5,134.31 L1595.98,138.15 L1596.45,142.53 L1596.93,147.41 L1597.4,152.76 L1597.88,158.56 L1598.35,164.76 L1598.83,171.34 L1599.3,178.26 L1599.78,185.48 L1600.25,192.96 L1600.73,200.66 L1601.2,208.55 L1601.68,216.58 L1602.15,224.73 L1602.63,232.94 L1603.1,241.19 L1603.58,249.44 L1604.05,257.65 L1604.53,265.81 L1605,273.86 L1605.48,281.8 L1605.95,289.59 L1606.43,297.2 L1606.9,304.63 L1607.38,311.85 L1607.85,318.84 L1608.33,325.59 L1608.8,332.09 L1609.28,338.33 L1609.75,344.31 L1610.23,350.01 L1610.7,355.43 L1611.17,360.59 L1611.65,365.46 L1612.12,370.06 L1612.6,374.4 L1613.07,378.47 L1613.55,382.28 L1614.02,385.84 L1614.5,389.15 L1614.97,392.24 L1615.45,395.09 L1615.92,397.73 L1616.4,400.17 L1616.87,402.41 L1617.35,404.47 L1617.82,406.36 L1618.3,408.08 L1618.77,409.64 L1619.25,411.07 L1619.72,412.36 L1620.2,413.53 L1620.67,414.59 L1621.15,415.54 L1621.62,416.39 L1622.1,417.15 L1622.57,417.84 L1623.05,418.45 L1623.52,418.99 L1624,419.47 L1624.47,419.9 L1624.95,420.28 L1625.42,420.61 L1625.9,420.9 L1626.37,421.16 L1626.85,421.39 L1627.32,421.58 L1627.8,421.75 L1628.27,421.9 L1628.75,422.03 L1629.22,422.15 L1629.7,422.24 L1630.17,422.33 L1630.65,422.4 L1631.12,422.46 L1631.6,422.51 L1632.07,422.56 L1632.55,422.6 L1633.02,422.63 L1633.5,422.66 L1633.97,422.68 L1633.97,422.8 Z" fill="#f40000"/>
<path d="M1610.23,422.8 L1610.23,422.79 L1610.7,422.79 L1611.17,422.79 L1611.65,422.79 L1612.12,422.79 L1612.6,422.79 L1613.07,422.79 L1613.55,422.79 L1614.02,422.79 L1614.5,422.78 L1614.97,422.78 L1615.45,422.78 L1615.92,422.78 L1616.4,422.77 L1616.87,422.77 L1617.35,422.77 L1617.82,422.76 L1618.3,422.76 L1618.77,422.76 L1619.25,422.75 L1619.72,422.74 L1620.2,422.74 L1620.67,422.73 L1621.15,422.72 L1621.62,422.72 L1622.1,422.71 L1622.57,422.7 L1623.05,422.69 L1623.52,422.67 L1624,422.66 L1624.47,422.65 L1624.95,422.63 L1625.42,422.61 L1625.9,422.6 L1626.37,422.58 L1626.85,422.55 L1627.32,422.53 L1627.8,422.51 L1628.27,422.48 L1628.75,422.45 L1629.22,422.42 L1629.7,422.38 L1630.17,422.35 L1630.65,422.31 L1631.12,422.26 L1631.6,422.22 L1632.07,422.17 L1632.55,422.12 L1633.02,422.06 L1633.5,422 L1633.97,421.94 L1634.45,421.87 L1634.92,421.8 L1635.39,421.72 L1635.87,421.64 L1636.34,421.56 L1636.82,421.47 L1637.29,421.37 L1637.77,421.27 L1638.24,421.17 L1638.72,421.05 L1639.19,420.94 L1639.67,420.81 L1640.14,420.68 L1640.62,420.55 L1641.09,420.41 L1641.57,420.26 L1642.04,420.11 L1642.52,419.95 L1642.99,419.78 L1643.47,419.61 L1643.94,419.43 L1644.42,419.24 L1644.89,419.05 L1645.37,418.85 L1645.84,418.65 L1646.32,418.44 L1646.79,418.22 L1647.27,418 L1647.74,417.77 L1648.22,417.54 L1648.69,417.3 L1649.17,417.06 L1649.64,416.81 L1650.12,416.56 L1650.59,416.3 L1651.07,416.04 L1651.54,415.78 L1652.02,415.52 L1652.49,415.25 L1652.97,414.98 L1653.44,414.72 L1653.92,414.45 L1654.39,414.18 L1654.87,413.91 L1655.34,413.64 L1655.82,413.38 L1656.29,413.11 L1656.77,412.85 L1657.24,412.59 L1657.72,412.34 L1658.19,412.09 L1658.67,411.85 L1659.14,411.62 L1659.61,411.39 L1660.09,411.16 L1660.56,410.95 L1661.04,410.75 L1661.51,410.55 L1661.99,410.36 L1662.46,410.19 L1662.94,410.02 L1663.41,409.87 L1663.89,409.73 L1664.36,409.6 L1664.84,409.48 L1665.31,409.37 L1665.79,409.28 L1666.26,409.21 L1666.74,409.14 L1667.21,409.09 L1667.69,409.06 L1668.16,409.04 L1668.64,409.03 L1669.11,409.04 L1669.59,409.06 L1670.06,409.09 L1670.54,409.14 L1671.01,409.21 L1671.49,409.28 L1671.96,409.37 L1672.44,409.48 L1672.91,409.6 L1673.39,409.73 L1673.86,409.87 L1674.34,410.02 L1674.81,410.19 L1675.29,410.36 L1675.76,410.55 L1676.24,410.75 L1676.71,410.95 L1677.19,411.16 L1677.66,411.39 L1678.14,411.62 L1678.61,411.85 L1679.09,412.09 L1679.56,412.34 L1680.04,412.59 L1680.51,412.85 L1680.99,413.11 L1681.46,413.38 L1681.94,413.64 L1682.41,413.91 L1682.89,414.18 L1683.36,414.45 L1683.83,414.72 L1684.31,414.98 L1684.78,415.25 L1685.26,415.52 L1685.73,415.78 L1686.21,416.04 L1686.68,416.3 L1687.16,416.56 L1687.63,416.81 L1688.11,417.06 L1688.58,417.3 L1689.06,417.54 L1689.53,417.77 L1690.01,418 L1690.48,418.22 L1690.96,418.44 L1691.43,418.65 L1691.91,418.85 L1692.38,419.05 L1692.86,419.24 L1693.33,419.43 L1693.81,419.61 L1694.28,419.78 L1694.76,419.95 L1695.23,420.11 L1695.71,420.26 L1696.18,420.41 L1696.66,420.55 L1697.13,420.68 L1697.61,420.81 L1698.08,420.94 L1698.56,421.05 L1699.03,421.17 L1699.51,421.27 L1699.98,421.37 L1700.46,421.47 L1700.93,421.56 L1701.41,421.64 L1701.88,421.72 L1702.36,421.8 L1702.83,421.87 L1703.31,421.94 L1703.78,422 L1704.26,422.06 L1704.73,422.12 L1705.21,422.17 L1705.68,422.22 L1706.16,422.26 L1706.63,422.31 L1707.11,422.35 L1707.58,422.38 L1708.05,422.42 L1708.53,422.45 L1709,422.48 L1709.48,422.51 L1709.95,422.53 L1710.43,422.55 L1710.9,422.58 L1711.38,422.6 L1711.85,422.61 L1712.33,422.63 L1712.8,422.65 L1713.28,422.66 L1713.75,422.67 L1714.23,422.69 L1714.7,422.7 L1715.18,422.71 L1715.65,422.72 L1716.13,422.72 L1716.6,422.73 L1717.08,422.74 L1717.55,422.74 L1718.03,422.75 L1718.5,422.76 L1718.98,422.76 L1719.45,422.76 L1719.93,422.77 L1720.4,422.77 L1720.88,422.77 L1721.35,422.78 L1721.83,422.78 L1722.3,422.78 L1722.78,422.78 L1723.25,422.79 L1723.73,422.79 L1724.2,422.79 L1724.68,422.79 L1725.15,422.79 L1725.63,422.79 L1726.1,422.79 L1726.58,422.79 L1727.05,422.79 L1727.05,422.8 Z" fill="#f40000"/>
<g clip-path="url(#sp3)"><rect x="1550.86" y="222.8" width="176.66" height="200" fill="url(#hb)"/></g>
<g clip-path="url(#sp3)"><g clip-path="url(#rp3)"><rect x="1550.86" y="222.8" width="176.66" height="200" fill="url(#hk)"/></g></g>
<polyline points="1535.67,422.8 1540.41,419 1543.98,414.25 1548.73,407.13 1553.47,400 1559.41,395.26 1565.35,388.13 1570.1,376.26 1574.84,328.77 1579.59,269.41 1584.34,186.3 1587.9,138.81 1591.47,107.94 1593.84,97.26 1596.22,103.19 1599.06,126.94 1602.15,186.3 1605.71,257.53 1607.61,288.4 1610.46,293.15 1612.84,316.9 1617.59,340.64 1621.15,354.89 1624.71,366.76 1629.46,367.95 1634.21,371.51 1637.77,366.76 1641.33,364.39 1644.89,369.14 1648.45,376.26 1652.02,373.89 1655.58,366.76 1657.95,373.89 1662.7,383.38 1667.45,388.13 1674.57,395.26 1681.7,402.38 1686.45,409.5 1691.2,415.44 1695.94,419 1703.07,421.38 1710.19,422.56 1726.81,422.8" fill="none" stroke="#111" stroke-width="1.6" stroke-linejoin="round"/>
<path d="M1593.84,425 L1587.94,434.8 L1599.74,434.8 Z" fill="#000"/>
<clipPath id="sp4"><path d="M370.96,806 L370.96,806 L371.44,805.69 L371.91,805.35 L372.39,804.98 L372.86,804.57 L373.34,804.12 L373.81,803.64 L374.29,803.14 L374.76,802.6 L375.24,802.03 L375.71,801.43 L376.19,800.81 L376.66,800.17 L377.14,799.51 L377.61,798.83 L378.09,798.13 L378.56,797.41 L379.04,796.69 L379.51,795.96 L379.99,795.22 L380.46,794.48 L380.94,793.74 L381.41,793.01 L381.89,792.28 L382.36,791.55 L382.84,790.84 L383.31,790.14 L383.79,789.46 L384.26,788.8 L384.74,788.15 L385.21,787.53 L385.69,786.94 L386.16,786.37 L386.64,785.83 L387.11,785.32 L387.59,784.85 L388.06,784.4 L388.54,783.99 L389.01,783.61 L389.49,783.27 L389.96,782.97 L390.44,782.32 L390.91,781.59 L391.39,780.75 L391.86,779.82 L392.34,778.81 L392.81,777.7 L393.28,776.52 L393.76,775.27 L394.23,773.95 L394.71,772.58 L395.18,771.15 L395.66,769.69 L396.13,768.2 L396.61,766.68 L397.08,765.16 L397.56,763.63 L398.03,762.12 L398.51,760.63 L398.98,759.16 L399.46,757.74 L399.93,756.36 L400.41,755.04 L400.88,753.79 L401.36,752.61 L401.83,751.51 L402.31,750.49 L402.78,749.57 L403.26,748.73 L403.73,747.99 L404.21,747.35 L404.68,746.71 L405.16,745.97 L405.63,745.13 L406.11,744.21 L406.58,743.19 L407.06,742.09 L407.53,740.91 L408.01,739.65 L408.48,738.34 L408.96,736.96 L409.43,735.54 L409.91,734.07 L410.38,732.58 L410.86,731.07 L411.33,729.54 L411.81,728.02 L412.28,726.5 L412.76,725.01 L413.23,723.54 L413.71,722.12 L414.18,720.75 L414.66,719.43 L415.13,718.17 L415.61,716.99 L416.08,715.89 L416.56,714.88 L417.03,713.95 L417.5,713.11 L417.98,712.37 L418.45,711.73 L418.93,711.27 L419.4,710.7 L419.88,710.03 L420.35,709.28 L420.83,708.44 L421.3,707.53 L421.78,706.55 L422.25,705.54 L422.73,704.49 L423.2,703.42 L423.68,702.36 L424.15,701.31 L424.63,700.29 L425.1,699.32 L425.58,698.41 L426.05,697.57 L426.53,696.81 L427,696.14 L427.48,695.58 L427.95,695.11 L428.43,694.83 L428.9,694.45 L429.38,694 L429.85,693.47 L430.33,692.9 L430.8,692.29 L431.28,691.69 L431.75,691.09 L432.23,690.54 L432.7,690.05 L433.18,689.63 L433.65,689.3 L434.13,689.25 L434.6,689.45 L435.08,689.7 L435.55,690 L436.03,690.33 L436.5,690.68 L436.98,691.05 L437.45,691.41 L437.93,691.75 L438.4,692.07 L438.88,692.34 L439.35,692.57 L439.83,692.74 L440.3,693.27 L440.78,693.92 L441.25,694.68 L441.72,695.54 L442.2,696.5 L442.67,697.54 L443.15,698.65 L443.62,699.82 L444.1,701.02 L444.57,702.23 L445.05,703.45 L445.52,704.65 L446,705.81 L446.47,706.93 L446.95,707.97 L447.42,708.93 L447.9,709.79 L448.37,710.55 L448.85,711.2 L449.32,711.73 L449.8,712.1 L450.27,712.53 L450.75,713.02 L451.22,713.58 L451.7,714.19 L452.17,714.85 L452.65,715.57 L453.12,716.32 L453.6,717.11 L454.07,717.93 L454.55,718.77 L455.02,719.62 L455.5,720.47 L455.97,721.32 L456.45,722.16 L456.92,722.98 L457.4,723.77 L457.87,724.52 L458.35,725.23 L458.82,725.9 L459.3,726.51 L459.77,727.06 L460.25,727.56 L460.72,727.99 L461.2,728.35 L461.67,728.72 L462.15,729.15 L462.62,729.64 L463.1,730.2 L463.57,730.81 L464.05,731.47 L464.52,732.19 L465,732.94 L465.47,733.73 L465.94,734.55 L466.42,735.39 L466.89,736.24 L467.37,737.09 L467.84,737.94 L468.32,738.78 L468.79,739.6 L469.27,740.39 L469.74,741.14 L470.22,741.85 L470.69,742.52 L471.17,743.13 L471.64,743.69 L472.12,744.18 L472.59,744.61 L473.07,744.98 L473.54,745.34 L474.02,745.77 L474.49,746.26 L474.97,746.82 L475.44,747.43 L475.92,748.1 L476.39,748.81 L476.87,749.56 L477.34,750.35 L477.82,751.17 L478.29,752.01 L478.77,752.86 L479.24,753.71 L479.72,754.56 L480.19,755.4 L480.67,756.22 L481.14,757.01 L481.62,757.76 L482.09,758.48 L482.57,759.14 L483.04,759.75 L483.52,760.31 L483.99,760.8 L484.47,761.23 L484.94,761.6 L485.42,761.96 L485.89,762.39 L486.37,762.89 L486.84,763.44 L487.32,764.05 L487.79,764.72 L488.27,765.43 L488.74,766.18 L489.21,766.97 L489.69,767.79 L490.16,768.63 L490.64,769.48 L491.11,770.33 L491.59,771.18 L492.06,772.02 L492.54,772.84 L493.01,773.63 L493.49,774.38 L493.96,775.1 L494.44,775.76 L494.91,776.37 L495.39,776.93 L495.86,777.42 L496.34,777.85 L496.81,778.22 L497.29,778.48 L497.76,778.79 L498.24,779.14 L498.71,779.54 L499.19,779.97 L499.66,780.45 L500.14,780.96 L500.61,781.5 L501.09,782.06 L501.56,782.64 L502.04,783.24 L502.51,783.85 L502.99,784.46 L503.46,785.07 L503.94,785.67 L504.41,786.25 L504.89,786.81 L505.36,787.35 L505.84,787.86 L506.31,788.34 L506.79,788.77 L507.26,789.17 L507.74,789.52 L508.21,789.83 L508.69,790.09 L509.16,790.3 L509.64,790.55 L510.11,790.83 L510.59,791.14 L511.06,791.49 L511.54,791.87 L512.01,792.28 L512.49,792.71 L512.96,793.16 L513.43,793.63 L513.91,794.11 L514.38,794.6 L514.86,795.08 L515.33,795.57 L515.81,796.05 L516.28,796.52 L516.76,796.97 L517.23,797.4 L517.71,797.81 L518.18,798.19 L518.66,798.54 L519.13,798.85 L519.61,799.13 L520.08,799.38 L520.56,799.59 L521.03,799.69 L521.51,799.82 L521.98,799.96 L522.46,800.12 L522.93,800.29 L523.41,800.48 L523.88,800.68 L524.36,800.9 L524.83,801.13 L525.31,801.36 L525.78,801.6 L526.26,801.84 L526.73,802.09 L527.21,802.33 L527.68,802.57 L528.16,802.8 L528.63,803.03 L529.11,803.24 L529.58,803.45 L530.06,803.64 L530.53,803.81 L531.01,803.97 L531.48,804.11 L531.96,804.23 L532.43,804.34 L532.91,804.37 L533.38,804.42 L533.86,804.47 L534.33,804.52 L534.81,804.58 L535.28,804.65 L535.76,804.72 L536.23,804.8 L536.71,804.88 L537.18,804.96 L537.65,805.04 L538.13,805.13 L538.6,805.21 L539.08,805.3 L539.55,805.38 L540.03,805.46 L540.5,805.54 L540.98,805.62 L541.45,805.69 L541.93,805.75 L542.4,805.82 L542.88,805.87 L543.35,805.92 L543.83,805.96 L544.3,806 L544.3,806 Z"/></clipPath>
<clipPath id="rp4"><path d="M354.82,806 L354.82,805.91 L355.29,805.9 L355.77,805.89 L356.24,805.87 L356.72,805.86 L357.19,805.84 L357.67,805.81 L358.14,805.79 L358.62,805.76 L359.09,805.73 L359.57,805.69 L360.04,805.66 L360.52,805.61 L360.99,805.56 L361.47,805.51 L361.94,805.45 L362.42,805.38 L362.89,805.31 L363.37,805.22 L363.84,805.13 L364.32,805.03 L364.79,804.92 L365.27,804.8 L365.74,804.66 L366.22,804.51 L366.69,804.34 L367.17,804.16 L367.64,803.96 L368.12,803.75 L368.59,803.51 L369.06,803.25 L369.54,802.96 L370.01,802.65 L370.49,802.31 L370.96,801.95 L371.44,801.55 L371.91,801.12 L372.39,800.65 L372.86,800.14 L373.34,799.59 L373.81,799 L374.29,798.36 L374.76,797.67 L375.24,796.93 L375.71,796.14 L376.19,795.29 L376.66,794.38 L377.14,793.4 L377.61,792.36 L378.09,791.25 L378.56,790.07 L379.04,788.81 L379.51,787.47 L379.99,786.05 L380.46,784.54 L380.94,782.95 L381.41,781.26 L381.89,779.48 L382.36,777.61 L382.84,775.63 L383.31,773.56 L383.79,771.38 L384.26,769.09 L384.74,766.7 L385.21,764.2 L385.69,761.59 L386.16,758.87 L386.64,756.04 L387.11,753.1 L387.59,750.05 L388.06,746.88 L388.54,743.61 L389.01,740.23 L389.49,736.74 L389.96,733.15 L390.44,729.46 L390.91,725.67 L391.39,721.78 L391.86,717.81 L392.34,713.75 L392.81,709.61 L393.28,705.4 L393.76,701.12 L394.23,696.78 L394.71,692.38 L395.18,687.94 L395.66,683.47 L396.13,678.96 L396.61,674.44 L397.08,669.9 L397.56,665.37 L398.03,660.84 L398.51,656.34 L398.98,651.86 L399.46,647.43 L399.93,643.06 L400.41,638.75 L400.88,634.51 L401.36,630.37 L401.83,626.32 L402.31,622.39 L402.78,618.57 L403.26,614.89 L403.73,611.36 L404.21,607.98 L404.68,604.76 L405.16,601.72 L405.63,598.86 L406.11,596.2 L406.58,593.74 L407.06,591.48 L407.53,589.45 L408.01,587.64 L408.48,586.05 L408.96,584.7 L409.43,583.59 L409.91,582.73 L410.38,582.11 L410.86,581.73 L411.33,581.61 L411.81,581.73 L412.28,582.11 L412.76,582.73 L413.23,583.59 L413.71,584.7 L414.18,586.05 L414.66,587.64 L415.13,589.45 L415.61,591.48 L416.08,593.74 L416.56,596.2 L417.03,598.86 L417.5,601.72 L417.98,604.76 L418.45,607.98 L418.93,611.36 L419.4,614.89 L419.88,618.57 L420.35,622.39 L420.83,626.32 L421.3,630.37 L421.78,634.51 L422.25,638.75 L422.73,643.06 L423.2,647.43 L423.68,651.86 L424.15,656.34 L424.63,660.84 L425.1,665.37 L425.58,669.9 L426.05,674.44 L426.53,678.96 L427,683.47 L427.48,687.94 L427.95,692.38 L428.43,696.78 L428.9,701.12 L429.38,705.4 L429.85,709.61 L430.33,713.75 L430.8,717.81 L431.28,721.78 L431.75,725.67 L432.23,729.46 L432.7,733.15 L433.18,736.74 L433.65,740.23 L434.13,743.61 L434.6,746.88 L435.08,750.05 L435.55,753.1 L436.03,756.04 L436.5,758.87 L436.98,761.59 L437.45,764.2 L437.93,766.7 L438.4,769.09 L438.88,771.38 L439.35,773.56 L439.83,775.63 L440.3,777.61 L440.78,779.48 L441.25,781.26 L441.72,782.95 L442.2,784.54 L442.67,786.05 L443.15,787.47 L443.62,788.81 L444.1,790.07 L444.57,791.25 L445.05,792.36 L445.52,793.4 L446,794.38 L446.47,795.29 L446.95,796.14 L447.42,796.93 L447.9,797.67 L448.37,798.36 L448.85,799 L449.32,799.59 L449.8,800.14 L450.27,800.65 L450.75,801.12 L451.22,801.55 L451.7,801.95 L452.17,802.31 L452.65,802.65 L453.12,802.96 L453.6,803.25 L454.07,803.51 L454.55,803.75 L455.02,803.96 L455.5,804.16 L455.97,804.34 L456.45,804.51 L456.92,804.66 L457.4,804.8 L457.87,804.92 L458.35,805.03 L458.82,805.13 L459.3,805.22 L459.77,805.31 L460.25,805.38 L460.72,805.45 L461.2,805.51 L461.67,805.56 L462.15,805.61 L462.62,805.66 L463.1,805.69 L463.57,805.73 L464.05,805.76 L464.52,805.79 L465,805.81 L465.47,805.84 L465.94,805.86 L466.42,805.87 L466.89,805.89 L467.37,805.9 L467.84,805.91 L467.84,806 Z"/><path d="M459.3,806 L459.3,805.99 L459.77,805.99 L460.25,805.99 L460.72,805.99 L461.2,805.98 L461.67,805.98 L462.15,805.98 L462.62,805.98 L463.1,805.98 L463.57,805.97 L464.05,805.97 L464.52,805.97 L465,805.96 L465.47,805.96 L465.94,805.96 L466.42,805.95 L466.89,805.95 L467.37,805.94 L467.84,805.94 L468.32,805.93 L468.79,805.92 L469.27,805.91 L469.74,805.91 L470.22,805.9 L470.69,805.89 L471.17,805.88 L471.64,805.87 L472.12,805.85 L472.59,805.84 L473.07,805.83 L473.54,805.81 L474.02,805.79 L474.49,805.78 L474.97,805.76 L475.44,805.74 L475.92,805.71 L476.39,805.69 L476.87,805.67 L477.34,805.64 L477.82,805.61 L478.29,805.58 L478.77,805.54 L479.24,805.51 L479.72,805.47 L480.19,805.43 L480.67,805.38 L481.14,805.33 L481.62,805.28 L482.09,805.23 L482.57,805.17 L483.04,805.11 L483.52,805.05 L483.99,804.98 L484.47,804.91 L484.94,804.83 L485.42,804.75 L485.89,804.66 L486.37,804.57 L486.84,804.48 L487.32,804.37 L487.79,804.27 L488.27,804.15 L488.74,804.04 L489.21,803.91 L489.69,803.78 L490.16,803.64 L490.64,803.5 L491.11,803.35 L491.59,803.19 L492.06,803.02 L492.54,802.85 L493.01,802.67 L493.49,802.48 L493.96,802.28 L494.44,802.08 L494.91,801.87 L495.39,801.64 L495.86,801.41 L496.34,801.17 L496.81,800.93 L497.29,800.67 L497.76,800.4 L498.24,800.13 L498.71,799.84 L499.19,799.55 L499.66,799.25 L500.14,798.94 L500.61,798.61 L501.09,798.28 L501.56,797.95 L502.04,797.6 L502.51,797.24 L502.99,796.87 L503.46,796.5 L503.94,796.12 L504.41,795.73 L504.89,795.33 L505.36,794.92 L505.84,794.51 L506.31,794.09 L506.79,793.66 L507.26,793.23 L507.74,792.79 L508.21,792.35 L508.69,791.9 L509.16,791.45 L509.64,790.99 L510.11,790.53 L510.59,790.06 L511.06,789.6 L511.54,789.13 L512.01,788.66 L512.49,788.2 L512.96,787.73 L513.43,787.26 L513.91,786.79 L514.38,786.33 L514.86,785.87 L515.33,785.42 L515.81,784.96 L516.28,784.52 L516.76,784.08 L517.23,783.65 L517.71,783.22 L518.18,782.8 L518.66,782.4 L519.13,782 L519.61,781.61 L520.08,781.24 L520.56,780.87 L521.03,780.52 L521.51,780.18 L521.98,779.86 L522.46,779.55 L522.93,779.26 L523.41,778.98 L523.88,778.72 L524.36,778.48 L524.83,778.25 L525.31,778.04 L525.78,777.85 L526.26,777.68 L526.73,777.53 L527.21,777.4 L527.68,777.29 L528.16,777.2 L528.63,777.12 L529.11,777.07 L529.58,777.04 L530.06,777.03 L530.53,777.04 L531.01,777.07 L531.48,777.12 L531.96,777.2 L532.43,777.29 L532.91,777.4 L533.38,777.53 L533.86,777.68 L534.33,777.85 L534.81,778.04 L535.28,778.25 L535.76,778.48 L536.23,778.72 L536.71,778.98 L537.18,779.26 L537.65,779.55 L538.13,779.86 L538.6,780.18 L539.08,780.52 L539.55,780.87 L540.03,781.24 L540.5,781.61 L540.98,782 L541.45,782.4 L541.93,782.8 L542.4,783.22 L542.88,783.65 L543.35,784.08 L543.83,784.52 L544.3,784.96 L544.78,785.42 L545.25,785.87 L545.73,786.33 L546.2,786.79 L546.68,787.26 L547.15,787.73 L547.63,788.2 L548.1,788.66 L548.58,789.13 L549.05,789.6 L549.53,790.06 L550,790.53 L550.48,790.99 L550.95,791.45 L551.43,791.9 L551.9,792.35 L552.38,792.79 L552.85,793.23 L553.33,793.66 L553.8,794.09 L554.28,794.51 L554.75,794.92 L555.23,795.33 L555.7,795.73 L556.18,796.12 L556.65,796.5 L557.13,796.87 L557.6,797.24 L558.08,797.6 L558.55,797.95 L559.03,798.28 L559.5,798.61 L559.98,798.94 L560.45,799.25 L560.93,799.55 L561.4,799.84 L561.87,800.13 L562.35,800.4 L562.82,800.67 L563.3,800.93 L563.77,801.17 L564.25,801.41 L564.72,801.64 L565.2,801.87 L565.67,802.08 L566.15,802.28 L566.62,802.48 L567.1,802.67 L567.57,802.85 L568.05,803.02 L568.52,803.19 L569,803.35 L569.47,803.5 L569.95,803.64 L570.42,803.78 L570.9,803.91 L571.37,804.04 L571.85,804.15 L572.32,804.27 L572.8,804.37 L573.27,804.48 L573.75,804.57 L574.22,804.66 L574.7,804.75 L575.17,804.83 L575.65,804.91 L576.12,804.98 L576.6,805.05 L577.07,805.11 L577.55,805.17 L578.02,805.23 L578.5,805.28 L578.97,805.33 L579.45,805.38 L579.92,805.43 L580.4,805.47 L580.87,805.51 L581.35,805.54 L581.82,805.58 L582.3,805.61 L582.77,805.64 L583.25,805.67 L583.72,805.69 L584.2,805.71 L584.67,805.74 L585.15,805.76 L585.62,805.78 L586.09,805.79 L586.57,805.81 L587.04,805.83 L587.52,805.84 L587.99,805.85 L588.47,805.87 L588.94,805.88 L589.42,805.89 L589.89,805.9 L590.37,805.91 L590.84,805.91 L591.32,805.92 L591.79,805.93 L592.27,805.94 L592.74,805.94 L593.22,805.95 L593.69,805.95 L594.17,805.96 L594.64,805.96 L595.12,805.96 L595.59,805.97 L596.07,805.97 L596.54,805.97 L597.02,805.98 L597.49,805.98 L597.97,805.98 L598.44,805.98 L598.92,805.98 L599.39,805.99 L599.87,805.99 L600.34,805.99 L600.82,805.99 L600.82,806 Z"/></clipPath>
<path d="M354.82,806 L354.82,805.91 L355.29,805.9 L355.77,805.89 L356.24,805.87 L356.72,805.86 L357.19,805.84 L357.67,805.81 L358.14,805.79 L358.62,805.76 L359.09,805.73 L359.57,805.69 L360.04,805.66 L360.52,805.61 L360.99,805.56 L361.47,805.51 L361.94,805.45 L362.42,805.38 L362.89,805.31 L363.37,805.22 L363.84,805.13 L364.32,805.03 L364.79,804.92 L365.27,804.8 L365.74,804.66 L366.22,804.51 L366.69,804.34 L367.17,804.16 L367.64,803.96 L368.12,803.75 L368.59,803.51 L369.06,803.25 L369.54,802.96 L370.01,802.65 L370.49,802.31 L370.96,801.95 L371.44,801.55 L371.91,801.12 L372.39,800.65 L372.86,800.14 L373.34,799.59 L373.81,799 L374.29,798.36 L374.76,797.67 L375.24,796.93 L375.71,796.14 L376.19,795.29 L376.66,794.38 L377.14,793.4 L377.61,792.36 L378.09,791.25 L378.56,790.07 L379.04,788.81 L379.51,787.47 L379.99,786.05 L380.46,784.54 L380.94,782.95 L381.41,781.26 L381.89,779.48 L382.36,777.61 L382.84,775.63 L383.31,773.56 L383.79,771.38 L384.26,769.09 L384.74,766.7 L385.21,764.2 L385.69,761.59 L386.16,758.87 L386.64,756.04 L387.11,753.1 L387.59,750.05 L388.06,746.88 L388.54,743.61 L389.01,740.23 L389.49,736.74 L389.96,733.15 L390.44,729.46 L390.91,725.67 L391.39,721.78 L391.86,717.81 L392.34,713.75 L392.81,709.61 L393.28,705.4 L393.76,701.12 L394.23,696.78 L394.71,692.38 L395.18,687.94 L395.66,683.47 L396.13,678.96 L396.61,674.44 L397.08,669.9 L397.56,665.37 L398.03,660.84 L398.51,656.34 L398.98,651.86 L399.46,647.43 L399.93,643.06 L400.41,638.75 L400.88,634.51 L401.36,630.37 L401.83,626.32 L402.31,622.39 L402.78,618.57 L403.26,614.89 L403.73,611.36 L404.21,607.98 L404.68,604.76 L405.16,601.72 L405.63,598.86 L406.11,596.2 L406.58,593.74 L407.06,591.48 L407.53,589.45 L408.01,587.64 L408.48,586.05 L408.96,584.7 L409.43,583.59 L409.91,582.73 L410.38,582.11 L410.86,581.73 L411.33,581.61 L411.81,581.73 L412.28,582.11 L412.76,582.73 L413.23,583.59 L413.71,584.7 L414.18,586.05 L414.66,587.64 L415.13,589.45 L415.61,591.48 L416.08,593.74 L416.56,596.2 L417.03,598.86 L417.5,601.72 L417.98,604.76 L418.45,607.98 L418.93,611.36 L419.4,614.89 L419.88,618.57 L420.35,622.39 L420.83,626.32 L421.3,630.37 L421.78,634.51 L422.25,638.75 L422.73,643.06 L423.2,647.43 L423.68,651.86 L424.15,656.34 L424.63,660.84 L425.1,665.37 L425.58,669.9 L426.05,674.44 L426.53,678.96 L427,683.47 L427.48,687.94 L427.95,692.38 L428.43,696.78 L428.9,701.12 L429.38,705.4 L429.85,709.61 L430.33,713.75 L430.8,717.81 L431.28,721.78 L431.75,725.67 L432.23,729.46 L432.7,733.15 L433.18,736.74 L433.65,740.23 L434.13,743.61 L434.6,746.88 L435.08,750.05 L435.55,753.1 L436.03,756.04 L436.5,758.87 L436.98,761.59 L437.45,764.2 L437.93,766.7 L438.4,769.09 L438.88,771.38 L439.35,773.56 L439.83,775.63 L440.3,777.61 L440.78,779.48 L441.25,781.26 L441.72,782.95 L442.2,784.54 L442.67,786.05 L443.15,787.47 L443.62,788.81 L444.1,790.07 L444.57,791.25 L445.05,792.36 L445.52,793.4 L446,794.38 L446.47,795.29 L446.95,796.14 L447.42,796.93 L447.9,797.67 L448.37,798.36 L448.85,799 L449.32,799.59 L449.8,800.14 L450.27,800.65 L450.75,801.12 L451.22,801.55 L451.7,801.95 L452.17,802.31 L452.65,802.65 L453.12,802.96 L453.6,803.25 L454.07,803.51 L454.55,803.75 L455.02,803.96 L455.5,804.16 L455.97,804.34 L456.45,804.51 L456.92,804.66 L457.4,804.8 L457.87,804.92 L458.35,805.03 L458.82,805.13 L459.3,805.22 L459.77,805.31 L460.25,805.38 L460.72,805.45 L461.2,805.51 L461.67,805.56 L462.15,805.61 L462.62,805.66 L463.1,805.69 L463.57,805.73 L464.05,805.76 L464.52,805.79 L465,805.81 L465.47,805.84 L465.94,805.86 L466.42,805.87 L466.89,805.89 L467.37,805.9 L467.84,805.91 L467.84,806 Z" fill="#f40000"/>
<path d="M459.3,806 L459.3,805.99 L459.77,805.99 L460.25,805.99 L460.72,805.99 L461.2,805.98 L461.67,805.98 L462.15,805.98 L462.62,805.98 L463.1,805.98 L463.57,805.97 L464.05,805.97 L464.52,805.97 L465,805.96 L465.47,805.96 L465.94,805.96 L466.42,805.95 L466.89,805.95 L467.37,805.94 L467.84,805.94 L468.32,805.93 L468.79,805.92 L469.27,805.91 L469.74,805.91 L470.22,805.9 L470.69,805.89 L471.17,805.88 L471.64,805.87 L472.12,805.85 L472.59,805.84 L473.07,805.83 L473.54,805.81 L474.02,805.79 L474.49,805.78 L474.97,805.76 L475.44,805.74 L475.92,805.71 L476.39,805.69 L476.87,805.67 L477.34,805.64 L477.82,805.61 L478.29,805.58 L478.77,805.54 L479.24,805.51 L479.72,805.47 L480.19,805.43 L480.67,805.38 L481.14,805.33 L481.62,805.28 L482.09,805.23 L482.57,805.17 L483.04,805.11 L483.52,805.05 L483.99,804.98 L484.47,804.91 L484.94,804.83 L485.42,804.75 L485.89,804.66 L486.37,804.57 L486.84,804.48 L487.32,804.37 L487.79,804.27 L488.27,804.15 L488.74,804.04 L489.21,803.91 L489.69,803.78 L490.16,803.64 L490.64,803.5 L491.11,803.35 L491.59,803.19 L492.06,803.02 L492.54,802.85 L493.01,802.67 L493.49,802.48 L493.96,802.28 L494.44,802.08 L494.91,801.87 L495.39,801.64 L495.86,801.41 L496.34,801.17 L496.81,800.93 L497.29,800.67 L497.76,800.4 L498.24,800.13 L498.71,799.84 L499.19,799.55 L499.66,799.25 L500.14,798.94 L500.61,798.61 L501.09,798.28 L501.56,797.95 L502.04,797.6 L502.51,797.24 L502.99,796.87 L503.46,796.5 L503.94,796.12 L504.41,795.73 L504.89,795.33 L505.36,794.92 L505.84,794.51 L506.31,794.09 L506.79,793.66 L507.26,793.23 L507.74,792.79 L508.21,792.35 L508.69,791.9 L509.16,791.45 L509.64,790.99 L510.11,790.53 L510.59,790.06 L511.06,789.6 L511.54,789.13 L512.01,788.66 L512.49,788.2 L512.96,787.73 L513.43,787.26 L513.91,786.79 L514.38,786.33 L514.86,785.87 L515.33,785.42 L515.81,784.96 L516.28,784.52 L516.76,784.08 L517.23,783.65 L517.71,783.22 L518.18,782.8 L518.66,782.4 L519.13,782 L519.61,781.61 L520.08,781.24 L520.56,780.87 L521.03,780.52 L521.51,780.18 L521.98,779.86 L522.46,779.55 L522.93,779.26 L523.41,778.98 L523.88,778.72 L524.36,778.48 L524.83,778.25 L525.31,778.04 L525.78,777.85 L526.26,777.68 L526.73,777.53 L527.21,777.4 L527.68,777.29 L528.16,777.2 L528.63,777.12 L529.11,777.07 L529.58,777.04 L530.06,777.03 L530.53,777.04 L531.01,777.07 L531.48,777.12 L531.96,777.2 L532.43,777.29 L532.91,777.4 L533.38,777.53 L533.86,777.68 L534.33,777.85 L534.81,778.04 L535.28,778.25 L535.76,778.48 L536.23,778.72 L536.71,778.98 L537.18,779.26 L537.65,779.55 L538.13,779.86 L538.6,780.18 L539.08,780.52 L539.55,780.87 L540.03,781.24 L540.5,781.61 L540.98,782 L541.45,782.4 L541.93,782.8 L542.4,783.22 L542.88,783.65 L543.35,784.08 L543.83,784.52 L544.3,784.96 L544.78,785.42 L545.25,785.87 L545.73,786.33 L546.2,786.79 L546.68,787.26 L547.15,787.73 L547.63,788.2 L548.1,788.66 L548.58,789.13 L549.05,789.6 L549.53,790.06 L550,790.53 L550.48,790.99 L550.95,791.45 L551.43,791.9 L551.9,792.35 L552.38,792.79 L552.85,793.23 L553.33,793.66 L553.8,794.09 L554.28,794.51 L554.75,794.92 L555.23,795.33 L555.7,795.73 L556.18,796.12 L556.65,796.5 L557.13,796.87 L557.6,797.24 L558.08,797.6 L558.55,797.95 L559.03,798.28 L559.5,798.61 L559.98,798.94 L560.45,799.25 L560.93,799.55 L561.4,799.84 L561.87,800.13 L562.35,800.4 L562.82,800.67 L563.3,800.93 L563.77,801.17 L564.25,801.41 L564.72,801.64 L565.2,801.87 L565.67,802.08 L566.15,802.28 L566.62,802.48 L567.1,802.67 L567.57,802.85 L568.05,803.02 L568.52,803.19 L569,803.35 L569.47,803.5 L569.95,803.64 L570.42,803.78 L570.9,803.91 L571.37,804.04 L571.85,804.15 L572.32,804.27 L572.8,804.37 L573.27,804.48 L573.75,804.57 L574.22,804.66 L574.7,804.75 L575.17,804.83 L575.65,804.91 L576.12,804.98 L576.6,805.05 L577.07,805.11 L577.55,805.17 L578.02,805.23 L578.5,805.28 L578.97,805.33 L579.45,805.38 L579.92,805.43 L580.4,805.47 L580.87,805.51 L581.35,805.54 L581.82,805.58 L582.3,805.61 L582.77,805.64 L583.25,805.67 L583.72,805.69 L584.2,805.71 L584.67,805.74 L585.15,805.76 L585.62,805.78 L586.09,805.79 L586.57,805.81 L587.04,805.83 L587.52,805.84 L587.99,805.85 L588.47,805.87 L588.94,805.88 L589.42,805.89 L589.89,805.9 L590.37,805.91 L590.84,805.91 L591.32,805.92 L591.79,805.93 L592.27,805.94 L592.74,805.94 L593.22,805.95 L593.69,805.95 L594.17,805.96 L594.64,805.96 L595.12,805.96 L595.59,805.97 L596.07,805.97 L596.54,805.97 L597.02,805.98 L597.49,805.98 L597.97,805.98 L598.44,805.98 L598.92,805.98 L599.39,805.99 L599.87,805.99 L600.34,805.99 L600.82,805.99 L600.82,806 Z" fill="#f40000"/>
<g clip-path="url(#sp4)"><rect x="354.34" y="606" width="246.95" height="200" fill="url(#hb)"/></g>
<g clip-path="url(#sp4)"><g clip-path="url(#rp4)"><rect x="354.34" y="606" width="246.95" height="200" fill="url(#hk)"/></g></g>
<polyline points="354.34,805.93 354.82,805.91 355.29,805.9 355.77,805.89 356.24,805.87 356.72,805.86 357.19,805.84 357.67,805.82 358.14,805.79 358.62,805.76 359.09,805.73 359.57,805.7 360.04,805.66 360.52,805.62 360.99,805.57 361.47,805.51 361.94,805.45 362.42,805.39 362.89,805.31 363.37,805.23 363.84,805.14 364.32,805.04 364.79,804.93 365.27,804.81 365.74,804.67 366.22,804.52 366.69,804.36 367.17,804.18 367.64,803.99 368.12,803.77 368.59,803.53 369.06,803.28 369.54,802.99 370.01,802.69 370.49,802.35 370.96,801.99 371.44,801.29 371.91,800.52 372.39,799.68 372.86,798.77 373.34,797.78 373.81,796.72 374.29,795.58 374.76,794.36 375.24,793.06 375.71,791.68 376.19,790.22 376.66,788.67 377.14,787.04 377.61,785.33 378.09,783.53 378.56,781.65 379.04,779.68 379.51,777.62 379.99,775.48 380.46,773.25 380.94,770.93 381.41,768.53 381.89,766.04 382.36,763.46 382.84,760.79 383.31,758.04 383.79,755.2 384.26,752.28 384.74,749.27 385.21,746.18 385.69,743 386.16,739.74 386.64,736.4 387.11,732.98 387.59,729.48 388.06,725.91 388.54,722.26 389.01,718.54 389.49,714.75 389.96,710.89 390.44,706.59 390.91,702.1 391.39,697.43 391.86,692.57 392.34,687.53 392.81,682.34 393.28,676.99 393.76,671.5 394.23,665.89 394.71,660.16 395.18,654.35 395.66,648.45 396.13,642.5 396.61,636.51 397.08,630.5 397.56,624.49 398.03,618.5 398.51,612.55 398.98,606.66 399.46,600.85 399.93,595.15 400.41,589.56 400.88,584.12 401.36,578.84 401.83,573.73 402.31,568.82 402.78,564.12 403.26,559.65 403.73,555.41 404.21,551.42 404.68,547.6 405.16,543.85 405.63,540.19 406.11,536.62 406.58,533.17 407.06,529.84 407.53,526.65 408.01,523.6 408.48,520.72 408.96,518.01 409.43,515.49 409.91,513.16 410.38,511.06 410.86,509.17 411.33,507.52 411.81,506.12 412.28,504.98 412.76,504.1 413.23,503.49 413.71,503.17 414.18,503.13 414.66,503.37 415.13,503.91 415.61,504.75 416.08,505.87 416.56,507.29 417.03,509 417.5,510.99 417.98,513.26 418.45,515.8 418.93,518.68 419.4,521.61 419.88,524.59 420.35,527.61 420.83,530.66 421.3,533.75 421.78,536.88 422.25,540.05 422.73,543.27 423.2,546.53 423.68,549.85 424.15,553.23 424.63,556.66 425.1,560.17 425.58,563.75 426.05,567.39 426.53,571.11 427,574.91 427.48,578.77 427.95,582.7 428.43,586.76 428.9,590.68 429.38,594.46 429.85,598.1 430.33,601.62 430.8,605.04 431.28,608.36 431.75,611.61 432.23,614.81 432.7,617.97 433.18,621.11 433.65,624.23 434.13,627.52 434.6,630.96 435.08,634.34 435.55,637.66 436.03,640.9 436.5,644.05 436.98,647.11 437.45,650.05 437.93,652.87 438.4,655.55 438.88,658.08 439.35,660.47 439.83,662.69 440.3,665.18 440.78,667.68 441.25,670.2 441.72,672.73 442.2,675.27 442.67,677.8 443.15,680.32 443.62,682.81 444.1,685.25 444.57,687.64 445.05,689.96 445.52,692.19 446,694.32 446.47,696.33 446.95,698.21 447.42,699.96 447.9,701.55 448.37,702.99 448.85,704.27 449.32,705.39 449.8,706.3 450.27,707.23 450.75,708.19 451.22,709.17 451.7,710.18 452.17,711.2 452.65,712.25 453.12,713.31 453.6,714.38 454.07,715.46 454.55,716.53 455.02,717.6 455.5,718.65 455.97,719.68 456.45,720.68 456.92,721.64 457.4,722.57 457.87,723.44 458.35,724.27 458.82,725.03 459.3,725.73 459.77,726.37 460.25,726.93 460.72,727.43 461.2,727.85 461.67,728.27 462.15,728.75 462.62,729.28 463.1,729.87 463.57,730.51 464.05,731.21 464.52,731.95 465,732.72 465.47,733.53 465.94,734.36 466.42,735.21 466.89,736.07 467.37,736.94 467.84,737.79 468.32,738.63 468.79,739.45 469.27,740.24 469.74,741 470.22,741.71 470.69,742.37 471.17,742.98 471.64,743.52 472.12,744.01 472.59,744.43 473.07,744.78 473.54,745.14 474.02,745.55 474.49,746.03 474.97,746.57 475.44,747.16 475.92,747.8 476.39,748.49 476.87,749.22 477.34,749.99 477.82,750.77 478.29,751.58 478.77,752.4 479.24,753.22 479.72,754.03 480.19,754.82 480.67,755.6 481.14,756.34 481.62,757.05 482.09,757.7 482.57,758.31 483.04,758.86 483.52,759.35 483.99,759.78 484.47,760.14 484.94,760.43 485.42,760.71 485.89,761.05 486.37,761.46 486.84,761.92 487.32,762.43 487.79,762.98 488.27,763.58 488.74,764.22 489.21,764.89 489.69,765.57 490.16,766.27 490.64,766.98 491.11,767.68 491.59,768.37 492.06,769.05 492.54,769.69 493.01,770.3 493.49,770.87 493.96,771.38 494.44,771.84 494.91,772.24 495.39,772.57 495.86,772.84 496.34,773.03 496.81,773.14 497.29,773.15 497.76,773.19 498.24,773.27 498.71,773.38 499.19,773.52 499.66,773.7 500.14,773.89 500.61,774.11 501.09,774.34 501.56,774.59 502.04,774.84 502.51,775.09 502.99,775.33 503.46,775.57 503.94,775.78 504.41,775.98 504.89,776.14 505.36,776.28 505.84,776.37 506.31,776.43 506.79,776.44 507.26,776.4 507.74,776.31 508.21,776.18 508.69,775.99 509.16,775.75 509.64,775.53 510.11,775.36 510.59,775.21 511.06,775.09 511.54,775.01 512.01,774.95 512.49,774.91 512.96,774.89 513.43,774.89 513.91,774.9 514.38,774.93 514.86,774.96 515.33,774.99 515.81,775.01 516.28,775.03 516.76,775.05 517.23,775.04 517.71,775.03 518.18,774.99 518.66,774.93 519.13,774.85 519.61,774.75 520.08,774.62 520.56,774.46 521.03,774.21 521.51,774 521.98,773.82 522.46,773.67 522.93,773.55 523.41,773.46 523.88,773.4 524.36,773.38 524.83,773.38 525.31,773.4 525.78,773.45 526.26,773.52 526.73,773.62 527.21,773.73 527.68,773.86 528.16,774 528.63,774.15 529.11,774.31 529.58,774.49 530.06,774.67 530.53,774.85 531.01,775.04 531.48,775.23 531.96,775.43 532.43,775.63 532.91,775.77 533.38,775.95 533.86,776.15 534.33,776.38 534.81,776.63 535.28,776.9 535.76,777.2 536.23,777.52 536.71,777.86 537.18,778.22 537.65,778.59 538.13,778.99 538.6,779.39 539.08,779.82 539.55,780.25 540.03,780.7 540.5,781.15 540.98,781.61 541.45,782.08 541.93,782.56 542.4,783.04 542.88,783.52 543.35,784 543.83,784.48 544.3,784.96 544.78,785.42 545.25,785.87 545.73,786.33 546.2,786.79 546.68,787.26 547.15,787.73 547.63,788.2 548.1,788.66 548.58,789.13 549.05,789.6 549.53,790.06 550,790.53 550.48,790.99 550.95,791.45 551.43,791.9 551.9,792.35 552.38,792.79 552.85,793.23 553.33,793.66 553.8,794.09 554.28,794.51 554.75,794.92 555.23,795.33 555.7,795.73 556.18,796.12 556.65,796.5 557.13,796.87 557.6,797.24 558.08,797.6 558.55,797.95 559.03,798.28 559.5,798.61 559.98,798.94 560.45,799.25 560.93,799.55 561.4,799.84 561.87,800.13 562.35,800.4 562.82,800.67 563.3,800.93 563.77,801.17 564.25,801.41 564.72,801.64 565.2,801.87 565.67,802.08 566.15,802.28 566.62,802.48 567.1,802.67 567.57,802.85 568.05,803.02 568.52,803.19 569,803.35 569.47,803.5 569.95,803.64 570.42,803.78 570.9,803.91 571.37,804.04 571.85,804.15 572.32,804.27 572.8,804.37 573.27,804.48 573.75,804.57 574.22,804.66 574.7,804.75 575.17,804.83 575.65,804.91 576.12,804.98 576.6,805.05 577.07,805.11 577.55,805.17 578.02,805.23 578.5,805.28 578.97,805.33 579.45,805.38 579.92,805.43 580.4,805.47 580.87,805.51 581.35,805.54 581.82,805.58 582.3,805.61 582.77,805.64 583.25,805.67 583.72,805.69 584.2,805.71 584.67,805.74 585.15,805.76 585.62,805.78 586.09,805.79 586.57,805.81 587.04,805.83 587.52,805.84 587.99,805.85 588.47,805.87 588.94,805.88 589.42,805.89 589.89,805.9 590.37,805.91 590.84,805.91 591.32,805.92 591.79,805.93 592.27,805.94 592.74,805.94 593.22,805.95 593.69,805.95 594.17,805.96 594.64,805.96 595.12,805.96 595.59,805.97 596.07,805.97 596.54,805.97 597.02,805.98 597.49,805.98 597.97,805.98 598.44,805.98 598.92,805.98 599.39,805.99 599.87,805.99 600.34,805.99 600.82,805.99 601.29,805.99" fill="none" stroke="#bdbdbd" stroke-width="1.1"/>
<polyline points="342.47,806 347.22,800.78 354.34,794.84 359.09,796.03 366.22,790.09 370.96,787.72 375.71,780.59 380.46,766.35 385.21,747.35 389.96,711.73 393.52,676.11 397.08,635.75 400.65,604.88 404.21,569.26 406.58,545.52 408.24,532.46 411.33,534.83 413.71,528.89 416.08,526.52 418.45,536.02 422.02,550.27 425.58,566.89 429.14,578.76 432.7,600.13 436.26,626.25 439.83,652.37 442.2,683.24 445.76,685.61 448.14,695.11 451.7,714.11 455.26,728.35 458.82,735.48 462.38,740.23 464.76,752.1 467.13,739.04 469.51,754.47 473.07,756.85 475.44,759.22 480.19,763.97 484.94,768.72 489.69,767.53 494.44,763.97 499.19,759.22 503.94,763.97 508.69,763.97 513.43,768.72 518.18,774.66 522.93,771.09 527.68,773.47 532.43,775.84 537.18,778.22 541.93,779.41 546.68,780.59 551.43,781.78 556.18,782.97 560.93,786.53 565.67,788.9 570.42,791.28 575.17,796.03 579.92,800.78 584.67,801.49 589.42,801.96 594.17,804.34 598.92,806" fill="none" stroke="#111" stroke-width="1.6" stroke-linejoin="round"/>
<path d="M411.33,808.2 L405.43,818 L417.23,818 Z" fill="#000"/>
<clipPath id="sp5"><path d="M780.96,806 L780.96,806 L781.44,805.66 L781.91,805.29 L782.39,804.87 L782.86,804.42 L783.34,803.93 L783.81,803.4 L784.29,802.84 L784.76,802.25 L785.24,801.62 L785.71,800.96 L786.19,800.28 L786.66,799.57 L787.14,798.84 L787.61,798.09 L788.09,797.32 L788.56,796.53 L789.04,795.73 L789.51,794.93 L789.99,794.11 L790.46,793.3 L790.94,792.48 L791.41,791.67 L791.89,790.86 L792.36,790.06 L792.84,789.28 L793.31,788.51 L793.79,787.75 L794.26,787.02 L794.74,786.31 L795.21,785.63 L795.69,784.97 L796.16,784.35 L796.64,783.75 L797.11,783.19 L797.59,782.66 L798.06,782.17 L798.54,781.72 L799.01,781.31 L799.49,780.93 L799.96,780.59 L800.44,780.21 L800.91,779.76 L801.39,779.26 L801.86,778.71 L802.34,778.1 L802.81,777.44 L803.28,776.73 L803.76,775.98 L804.23,775.18 L804.71,774.36 L805.18,773.51 L805.66,772.63 L806.13,771.73 L806.61,770.82 L807.08,769.91 L807.56,768.99 L808.03,768.08 L808.51,767.19 L808.98,766.31 L809.46,765.46 L809.93,764.63 L810.41,763.84 L810.88,763.09 L811.36,762.38 L811.83,761.72 L812.31,761.11 L812.78,760.55 L813.26,760.05 L813.73,759.61 L814.21,759.22 L814.68,758.82 L815.16,758.34 L815.63,757.77 L816.11,757.12 L816.58,756.4 L817.06,755.62 L817.53,754.78 L818.01,753.91 L818.48,753.01 L818.96,752.1 L819.43,751.19 L819.91,750.29 L820.38,749.41 L820.86,748.58 L821.33,747.8 L821.81,747.08 L822.28,746.43 L822.76,745.86 L823.23,745.38 L823.71,744.98 L824.18,744.94 L824.66,744.9 L825.13,744.85 L825.61,744.8 L826.08,744.74 L826.56,744.67 L827.03,744.61 L827.5,744.53 L827.98,744.46 L828.45,744.38 L828.93,744.31 L829.4,744.23 L829.88,744.16 L830.35,744.09 L830.83,744.02 L831.3,743.96 L831.78,743.91 L832.25,743.86 L832.73,743.82 L833.2,743.79 L833.68,744.07 L834.15,744.39 L834.63,744.75 L835.1,745.15 L835.58,745.59 L836.05,746.07 L836.53,746.58 L837,747.12 L837.48,747.69 L837.95,748.29 L838.43,748.91 L838.9,749.54 L839.38,750.19 L839.85,750.84 L840.33,751.51 L840.8,752.17 L841.28,752.82 L841.75,753.47 L842.23,754.1 L842.7,754.72 L843.18,755.32 L843.65,755.89 L844.13,756.43 L844.6,756.94 L845.08,757.42 L845.55,757.86 L846.03,758.26 L846.5,758.62 L846.98,758.94 L847.45,759.22 L847.93,759.48 L848.4,759.77 L848.88,760.11 L849.35,760.48 L849.83,760.89 L850.3,761.33 L850.78,761.8 L851.25,762.3 L851.72,762.83 L852.2,763.38 L852.67,763.95 L853.15,764.53 L853.62,765.13 L854.1,765.74 L854.57,766.35 L855.05,766.96 L855.52,767.56 L856,768.16 L856.47,768.74 L856.95,769.31 L857.42,769.86 L857.9,770.39 L858.37,770.89 L858.85,771.36 L859.32,771.8 L859.8,772.21 L860.27,772.58 L860.75,772.92 L861.22,773.21 L861.7,773.47 L862.17,773.62 L862.65,773.79 L863.12,773.99 L863.6,774.2 L864.07,774.44 L864.55,774.7 L865.02,774.97 L865.5,775.26 L865.97,775.57 L866.45,775.89 L866.92,776.23 L867.4,776.57 L867.87,776.92 L868.35,777.27 L868.82,777.62 L869.3,777.98 L869.77,778.33 L870.25,778.68 L870.72,779.02 L871.2,779.36 L871.67,779.68 L872.15,779.98 L872.62,780.28 L873.1,780.55 L873.57,780.81 L874.05,781.05 L874.52,781.26 L875,781.46 L875.47,781.63 L875.94,781.78 L876.42,781.87 L876.89,781.96 L877.37,782.08 L877.84,782.2 L878.32,782.33 L878.79,782.48 L879.27,782.64 L879.74,782.81 L880.22,782.98 L880.69,783.17 L881.17,783.36 L881.64,783.55 L882.12,783.75 L882.59,783.95 L883.07,784.15 L883.54,784.36 L884.02,784.56 L884.49,784.76 L884.97,784.95 L885.44,785.14 L885.92,785.33 L886.39,785.5 L886.87,785.67 L887.34,785.83 L887.82,785.97 L888.29,786.11 L888.77,786.23 L889.24,786.34 L889.72,786.44 L890.19,786.53 L890.67,786.61 L891.14,786.7 L891.62,786.81 L892.09,786.92 L892.57,787.06 L893.04,787.2 L893.52,787.35 L893.99,787.51 L894.47,787.68 L894.94,787.86 L895.42,788.04 L895.89,788.22 L896.37,788.4 L896.84,788.58 L897.32,788.76 L897.79,788.94 L898.27,789.11 L898.74,789.27 L899.21,789.42 L899.69,789.56 L900.16,789.7 L900.64,789.81 L901.11,789.92 L901.59,790.01 L902.06,790.09 L902.54,790.18 L903.01,790.28 L903.49,790.4 L903.96,790.52 L904.44,790.66 L904.91,790.81 L905.39,790.97 L905.86,791.14 L906.34,791.31 L906.81,791.5 L907.29,791.69 L907.76,791.89 L908.24,792.09 L908.71,792.3 L909.19,792.52 L909.66,792.73 L910.14,792.95 L910.61,793.17 L911.09,793.39 L911.56,793.6 L912.04,793.81 L912.51,794.02 L912.99,794.23 L913.46,794.43 L913.94,794.62 L914.41,794.81 L914.89,794.98 L915.36,795.15 L915.84,795.31 L916.31,795.46 L916.79,795.59 L917.26,795.72 L917.74,795.83 L918.21,795.94 L918.69,796.03 L919.16,796.11 L919.64,796.19 L920.11,796.29 L920.59,796.4 L921.06,796.51 L921.54,796.63 L922.01,796.77 L922.49,796.9 L922.96,797.05 L923.43,797.2 L923.91,797.36 L924.38,797.53 L924.86,797.7 L925.33,797.88 L925.81,798.06 L926.28,798.24 L926.76,798.43 L927.23,798.61 L927.71,798.8 L928.18,799 L928.66,799.19 L929.13,799.38 L929.61,799.56 L930.08,799.75 L930.56,799.93 L931.03,800.11 L931.51,800.29 L931.98,800.46 L932.46,800.63 L932.93,800.79 L933.41,800.94 L933.88,801.09 L934.36,801.23 L934.83,801.36 L935.31,801.48 L935.78,801.59 L936.26,801.7 L936.73,801.8 L937.21,801.88 L937.68,801.96 L938.16,802.03 L938.63,802.09 L939.11,802.17 L939.58,802.26 L940.06,802.35 L940.53,802.45 L941.01,802.56 L941.48,802.67 L941.96,802.79 L942.43,802.92 L942.91,803.05 L943.38,803.19 L943.86,803.33 L944.33,803.47 L944.81,803.61 L945.28,803.76 L945.76,803.91 L946.23,804.06 L946.71,804.2 L947.18,804.35 L947.65,804.5 L948.13,804.64 L948.6,804.78 L949.08,804.91 L949.55,805.04 L950.03,805.17 L950.5,805.29 L950.98,805.4 L951.45,805.51 L951.93,805.61 L952.4,805.7 L952.88,805.79 L953.35,805.87 L953.83,805.94 L954.3,806 L954.3,806 Z"/></clipPath>
<clipPath id="rp5"><path d="M755.32,806 L755.32,805.91 L755.79,805.9 L756.27,805.89 L756.74,805.87 L757.22,805.85 L757.69,805.83 L758.17,805.81 L758.64,805.78 L759.12,805.75 L759.59,805.71 L760.07,805.67 L760.54,805.63 L761.02,805.58 L761.49,805.53 L761.97,805.46 L762.44,805.39 L762.92,805.32 L763.39,805.23 L763.87,805.14 L764.34,805.03 L764.82,804.91 L765.29,804.78 L765.77,804.63 L766.24,804.47 L766.72,804.29 L767.19,804.1 L767.67,803.88 L768.14,803.64 L768.62,803.38 L769.09,803.09 L769.57,802.78 L770.04,802.44 L770.52,802.06 L770.99,801.65 L771.47,801.2 L771.94,800.71 L772.42,800.18 L772.89,799.61 L773.37,798.99 L773.84,798.31 L774.32,797.59 L774.79,796.8 L775.27,795.95 L775.74,795.04 L776.22,794.07 L776.69,793.01 L777.17,791.89 L777.64,790.69 L778.12,789.4 L778.59,788.03 L779.06,786.57 L779.54,785.01 L780.01,783.36 L780.49,781.61 L780.96,779.76 L781.44,777.8 L781.91,775.73 L782.39,773.55 L782.86,771.25 L783.34,768.84 L783.81,766.31 L784.29,763.66 L784.76,760.89 L785.24,758 L785.71,754.98 L786.19,751.84 L786.66,748.58 L787.14,745.2 L787.61,741.69 L788.09,738.07 L788.56,734.33 L789.04,730.48 L789.51,726.53 L789.99,722.46 L790.46,718.3 L790.94,714.04 L791.41,709.7 L791.89,705.27 L792.36,700.77 L792.84,696.21 L793.31,691.58 L793.79,686.91 L794.26,682.2 L794.74,677.47 L795.21,672.71 L795.69,667.95 L796.16,663.2 L796.64,658.46 L797.11,653.76 L797.59,649.1 L798.06,644.49 L798.54,639.95 L799.01,635.5 L799.49,631.14 L799.96,626.89 L800.44,622.77 L800.91,618.78 L801.39,614.93 L801.86,611.25 L802.34,607.74 L802.81,604.42 L803.28,601.3 L803.76,598.38 L804.23,595.68 L804.71,593.2 L805.18,590.96 L805.66,588.97 L806.13,587.22 L806.61,585.74 L807.08,584.51 L807.56,583.56 L808.03,582.87 L808.51,582.46 L808.98,582.32 L809.46,582.46 L809.93,582.87 L810.41,583.56 L810.88,584.51 L811.36,585.74 L811.83,587.22 L812.31,588.97 L812.78,590.96 L813.26,593.2 L813.73,595.68 L814.21,598.38 L814.68,601.3 L815.16,604.42 L815.63,607.74 L816.11,611.25 L816.58,614.93 L817.06,618.78 L817.53,622.77 L818.01,626.89 L818.48,631.14 L818.96,635.5 L819.43,639.95 L819.91,644.49 L820.38,649.1 L820.86,653.76 L821.33,658.46 L821.81,663.2 L822.28,667.95 L822.76,672.71 L823.23,677.47 L823.71,682.2 L824.18,686.91 L824.66,691.58 L825.13,696.21 L825.61,700.77 L826.08,705.27 L826.56,709.7 L827.03,714.04 L827.5,718.3 L827.98,722.46 L828.45,726.53 L828.93,730.48 L829.4,734.33 L829.88,738.07 L830.35,741.69 L830.83,745.2 L831.3,748.58 L831.78,751.84 L832.25,754.98 L832.73,758 L833.2,760.89 L833.68,763.66 L834.15,766.31 L834.63,768.84 L835.1,771.25 L835.58,773.55 L836.05,775.73 L836.53,777.8 L837,779.76 L837.48,781.61 L837.95,783.36 L838.43,785.01 L838.9,786.57 L839.38,788.03 L839.85,789.4 L840.33,790.69 L840.8,791.89 L841.28,793.01 L841.75,794.07 L842.23,795.04 L842.7,795.95 L843.18,796.8 L843.65,797.59 L844.13,798.31 L844.6,798.99 L845.08,799.61 L845.55,800.18 L846.03,800.71 L846.5,801.2 L846.98,801.65 L847.45,802.06 L847.93,802.44 L848.4,802.78 L848.88,803.09 L849.35,803.38 L849.83,803.64 L850.3,803.88 L850.78,804.1 L851.25,804.29 L851.72,804.47 L852.2,804.63 L852.67,804.78 L853.15,804.91 L853.62,805.03 L854.1,805.14 L854.57,805.23 L855.05,805.32 L855.52,805.39 L856,805.46 L856.47,805.53 L856.95,805.58 L857.42,805.63 L857.9,805.67 L858.37,805.71 L858.85,805.75 L859.32,805.78 L859.8,805.81 L860.27,805.83 L860.75,805.85 L861.22,805.87 L861.7,805.89 L862.17,805.9 L862.65,805.91 L862.65,806 Z"/><path d="M843.18,806 L843.18,805.99 L843.65,805.99 L844.13,805.99 L844.6,805.99 L845.08,805.99 L845.55,805.99 L846.03,805.99 L846.5,805.98 L846.98,805.98 L847.45,805.98 L847.93,805.98 L848.4,805.98 L848.88,805.97 L849.35,805.97 L849.83,805.97 L850.3,805.97 L850.78,805.96 L851.25,805.96 L851.72,805.95 L852.2,805.95 L852.67,805.94 L853.15,805.94 L853.62,805.93 L854.1,805.93 L854.57,805.92 L855.05,805.91 L855.52,805.9 L856,805.9 L856.47,805.89 L856.95,805.88 L857.42,805.87 L857.9,805.85 L858.37,805.84 L858.85,805.83 L859.32,805.81 L859.8,805.8 L860.27,805.78 L860.75,805.76 L861.22,805.74 L861.7,805.72 L862.17,805.7 L862.65,805.67 L863.12,805.65 L863.6,805.62 L864.07,805.59 L864.55,805.56 L865.02,805.52 L865.5,805.49 L865.97,805.45 L866.45,805.41 L866.92,805.37 L867.4,805.32 L867.87,805.27 L868.35,805.22 L868.82,805.17 L869.3,805.11 L869.77,805.05 L870.25,804.98 L870.72,804.91 L871.2,804.84 L871.67,804.76 L872.15,804.68 L872.62,804.6 L873.1,804.51 L873.57,804.42 L874.05,804.32 L874.52,804.22 L875,804.11 L875.47,804 L875.94,803.88 L876.42,803.75 L876.89,803.63 L877.37,803.49 L877.84,803.35 L878.32,803.2 L878.79,803.05 L879.27,802.89 L879.74,802.73 L880.22,802.56 L880.69,802.38 L881.17,802.2 L881.64,802.01 L882.12,801.81 L882.59,801.61 L883.07,801.4 L883.54,801.18 L884.02,800.96 L884.49,800.73 L884.97,800.5 L885.44,800.26 L885.92,800.01 L886.39,799.75 L886.87,799.49 L887.34,799.23 L887.82,798.95 L888.29,798.67 L888.77,798.39 L889.24,798.1 L889.72,797.81 L890.19,797.51 L890.67,797.2 L891.14,796.89 L891.62,796.58 L892.09,796.26 L892.57,795.94 L893.04,795.62 L893.52,795.3 L893.99,794.97 L894.47,794.64 L894.94,794.3 L895.42,793.97 L895.89,793.64 L896.37,793.3 L896.84,792.97 L897.32,792.64 L897.79,792.3 L898.27,791.97 L898.74,791.65 L899.21,791.32 L899.69,791 L900.16,790.68 L900.64,790.37 L901.11,790.06 L901.59,789.76 L902.06,789.46 L902.54,789.17 L903.01,788.88 L903.49,788.61 L903.96,788.34 L904.44,788.08 L904.91,787.83 L905.39,787.59 L905.86,787.36 L906.34,787.14 L906.81,786.93 L907.29,786.73 L907.76,786.55 L908.24,786.37 L908.71,786.21 L909.19,786.06 L909.66,785.93 L910.14,785.81 L910.61,785.7 L911.09,785.6 L911.56,785.52 L912.04,785.46 L912.51,785.41 L912.99,785.37 L913.46,785.35 L913.94,785.34 L914.41,785.35 L914.89,785.37 L915.36,785.41 L915.84,785.46 L916.31,785.52 L916.79,785.6 L917.26,785.7 L917.74,785.81 L918.21,785.93 L918.69,786.06 L919.16,786.21 L919.64,786.37 L920.11,786.55 L920.59,786.73 L921.06,786.93 L921.54,787.14 L922.01,787.36 L922.49,787.59 L922.96,787.83 L923.43,788.08 L923.91,788.34 L924.38,788.61 L924.86,788.88 L925.33,789.17 L925.81,789.46 L926.28,789.76 L926.76,790.06 L927.23,790.37 L927.71,790.68 L928.18,791 L928.66,791.32 L929.13,791.65 L929.61,791.97 L930.08,792.3 L930.56,792.64 L931.03,792.97 L931.51,793.3 L931.98,793.64 L932.46,793.97 L932.93,794.3 L933.41,794.64 L933.88,794.97 L934.36,795.3 L934.83,795.62 L935.31,795.94 L935.78,796.26 L936.26,796.58 L936.73,796.89 L937.21,797.2 L937.68,797.51 L938.16,797.81 L938.63,798.1 L939.11,798.39 L939.58,798.67 L940.06,798.95 L940.53,799.23 L941.01,799.49 L941.48,799.75 L941.96,800.01 L942.43,800.26 L942.91,800.5 L943.38,800.73 L943.86,800.96 L944.33,801.18 L944.81,801.4 L945.28,801.61 L945.76,801.81 L946.23,802.01 L946.71,802.2 L947.18,802.38 L947.65,802.56 L948.13,802.73 L948.6,802.89 L949.08,803.05 L949.55,803.2 L950.03,803.35 L950.5,803.49 L950.98,803.63 L951.45,803.75 L951.93,803.88 L952.4,804 L952.88,804.11 L953.35,804.22 L953.83,804.32 L954.3,804.42 L954.78,804.51 L955.25,804.6 L955.73,804.68 L956.2,804.76 L956.68,804.84 L957.15,804.91 L957.63,804.98 L958.1,805.05 L958.58,805.11 L959.05,805.17 L959.53,805.22 L960,805.27 L960.48,805.32 L960.95,805.37 L961.43,805.41 L961.9,805.45 L962.38,805.49 L962.85,805.52 L963.33,805.56 L963.8,805.59 L964.28,805.62 L964.75,805.65 L965.23,805.67 L965.7,805.7 L966.18,805.72 L966.65,805.74 L967.13,805.76 L967.6,805.78 L968.08,805.8 L968.55,805.81 L969.03,805.83 L969.5,805.84 L969.98,805.85 L970.45,805.87 L970.93,805.88 L971.4,805.89 L971.87,805.9 L972.35,805.9 L972.82,805.91 L973.3,805.92 L973.77,805.93 L974.25,805.93 L974.72,805.94 L975.2,805.94 L975.67,805.95 L976.15,805.95 L976.62,805.96 L977.1,805.96 L977.57,805.97 L978.05,805.97 L978.52,805.97 L979,805.97 L979.47,805.98 L979.95,805.98 L980.42,805.98 L980.9,805.98 L981.37,805.98 L981.85,805.99 L982.32,805.99 L982.8,805.99 L983.27,805.99 L983.75,805.99 L984.22,805.99 L984.7,805.99 L984.7,806 Z"/></clipPath>
<path d="M755.32,806 L755.32,805.91 L755.79,805.9 L756.27,805.89 L756.74,805.87 L757.22,805.85 L757.69,805.83 L758.17,805.81 L758.64,805.78 L759.12,805.75 L759.59,805.71 L760.07,805.67 L760.54,805.63 L761.02,805.58 L761.49,805.53 L761.97,805.46 L762.44,805.39 L762.92,805.32 L763.39,805.23 L763.87,805.14 L764.34,805.03 L764.82,804.91 L765.29,804.78 L765.77,804.63 L766.24,804.47 L766.72,804.29 L767.19,804.1 L767.67,803.88 L768.14,803.64 L768.62,803.38 L769.09,803.09 L769.57,802.78 L770.04,802.44 L770.52,802.06 L770.99,801.65 L771.47,801.2 L771.94,800.71 L772.42,800.18 L772.89,799.61 L773.37,798.99 L773.84,798.31 L774.32,797.59 L774.79,796.8 L775.27,795.95 L775.74,795.04 L776.22,794.07 L776.69,793.01 L777.17,791.89 L777.64,790.69 L778.12,789.4 L778.59,788.03 L779.06,786.57 L779.54,785.01 L780.01,783.36 L780.49,781.61 L780.96,779.76 L781.44,777.8 L781.91,775.73 L782.39,773.55 L782.86,771.25 L783.34,768.84 L783.81,766.31 L784.29,763.66 L784.76,760.89 L785.24,758 L785.71,754.98 L786.19,751.84 L786.66,748.58 L787.14,745.2 L787.61,741.69 L788.09,738.07 L788.56,734.33 L789.04,730.48 L789.51,726.53 L789.99,722.46 L790.46,718.3 L790.94,714.04 L791.41,709.7 L791.89,705.27 L792.36,700.77 L792.84,696.21 L793.31,691.58 L793.79,686.91 L794.26,682.2 L794.74,677.47 L795.21,672.71 L795.69,667.95 L796.16,663.2 L796.64,658.46 L797.11,653.76 L797.59,649.1 L798.06,644.49 L798.54,639.95 L799.01,635.5 L799.49,631.14 L799.96,626.89 L800.44,622.77 L800.91,618.78 L801.39,614.93 L801.86,611.25 L802.34,607.74 L802.81,604.42 L803.28,601.3 L803.76,598.38 L804.23,595.68 L804.71,593.2 L805.18,590.96 L805.66,588.97 L806.13,587.22 L806.61,585.74 L807.08,584.51 L807.56,583.56 L808.03,582.87 L808.51,582.46 L808.98,582.32 L809.46,582.46 L809.93,582.87 L810.41,583.56 L810.88,584.51 L811.36,585.74 L811.83,587.22 L812.31,588.97 L812.78,590.96 L813.26,593.2 L813.73,595.68 L814.21,598.38 L814.68,601.3 L815.16,604.42 L815.63,607.74 L816.11,611.25 L816.58,614.93 L817.06,618.78 L817.53,622.77 L818.01,626.89 L818.48,631.14 L818.96,635.5 L819.43,639.95 L819.91,644.49 L820.38,649.1 L820.86,653.76 L821.33,658.46 L821.81,663.2 L822.28,667.95 L822.76,672.71 L823.23,677.47 L823.71,682.2 L824.18,686.91 L824.66,691.58 L825.13,696.21 L825.61,700.77 L826.08,705.27 L826.56,709.7 L827.03,714.04 L827.5,718.3 L827.98,722.46 L828.45,726.53 L828.93,730.48 L829.4,734.33 L829.88,738.07 L830.35,741.69 L830.83,745.2 L831.3,748.58 L831.78,751.84 L832.25,754.98 L832.73,758 L833.2,760.89 L833.68,763.66 L834.15,766.31 L834.63,768.84 L835.1,771.25 L835.58,773.55 L836.05,775.73 L836.53,777.8 L837,779.76 L837.48,781.61 L837.95,783.36 L838.43,785.01 L838.9,786.57 L839.38,788.03 L839.85,789.4 L840.33,790.69 L840.8,791.89 L841.28,793.01 L841.75,794.07 L842.23,795.04 L842.7,795.95 L843.18,796.8 L843.65,797.59 L844.13,798.31 L844.6,798.99 L845.08,799.61 L845.55,800.18 L846.03,800.71 L846.5,801.2 L846.98,801.65 L847.45,802.06 L847.93,802.44 L848.4,802.78 L848.88,803.09 L849.35,803.38 L849.83,803.64 L850.3,803.88 L850.78,804.1 L851.25,804.29 L851.72,804.47 L852.2,804.63 L852.67,804.78 L853.15,804.91 L853.62,805.03 L854.1,805.14 L854.57,805.23 L855.05,805.32 L855.52,805.39 L856,805.46 L856.47,805.53 L856.95,805.58 L857.42,805.63 L857.9,805.67 L858.37,805.71 L858.85,805.75 L859.32,805.78 L859.8,805.81 L860.27,805.83 L860.75,805.85 L861.22,805.87 L861.7,805.89 L862.17,805.9 L862.65,805.91 L862.65,806 Z" fill="#f40000"/>
<path d="M843.18,806 L843.18,805.99 L843.65,805.99 L844.13,805.99 L844.6,805.99 L845.08,805.99 L845.55,805.99 L846.03,805.99 L846.5,805.98 L846.98,805.98 L847.45,805.98 L847.93,805.98 L848.4,805.98 L848.88,805.97 L849.35,805.97 L849.83,805.97 L850.3,805.97 L850.78,805.96 L851.25,805.96 L851.72,805.95 L852.2,805.95 L852.67,805.94 L853.15,805.94 L853.62,805.93 L854.1,805.93 L854.57,805.92 L855.05,805.91 L855.52,805.9 L856,805.9 L856.47,805.89 L856.95,805.88 L857.42,805.87 L857.9,805.85 L858.37,805.84 L858.85,805.83 L859.32,805.81 L859.8,805.8 L860.27,805.78 L860.75,805.76 L861.22,805.74 L861.7,805.72 L862.17,805.7 L862.65,805.67 L863.12,805.65 L863.6,805.62 L864.07,805.59 L864.55,805.56 L865.02,805.52 L865.5,805.49 L865.97,805.45 L866.45,805.41 L866.92,805.37 L867.4,805.32 L867.87,805.27 L868.35,805.22 L868.82,805.17 L869.3,805.11 L869.77,805.05 L870.25,804.98 L870.72,804.91 L871.2,804.84 L871.67,804.76 L872.15,804.68 L872.62,804.6 L873.1,804.51 L873.57,804.42 L874.05,804.32 L874.52,804.22 L875,804.11 L875.47,804 L875.94,803.88 L876.42,803.75 L876.89,803.63 L877.37,803.49 L877.84,803.35 L878.32,803.2 L878.79,803.05 L879.27,802.89 L879.74,802.73 L880.22,802.56 L880.69,802.38 L881.17,802.2 L881.64,802.01 L882.12,801.81 L882.59,801.61 L883.07,801.4 L883.54,801.18 L884.02,800.96 L884.49,800.73 L884.97,800.5 L885.44,800.26 L885.92,800.01 L886.39,799.75 L886.87,799.49 L887.34,799.23 L887.82,798.95 L888.29,798.67 L888.77,798.39 L889.24,798.1 L889.72,797.81 L890.19,797.51 L890.67,797.2 L891.14,796.89 L891.62,796.58 L892.09,796.26 L892.57,795.94 L893.04,795.62 L893.52,795.3 L893.99,794.97 L894.47,794.64 L894.94,794.3 L895.42,793.97 L895.89,793.64 L896.37,793.3 L896.84,792.97 L897.32,792.64 L897.79,792.3 L898.27,791.97 L898.74,791.65 L899.21,791.32 L899.69,791 L900.16,790.68 L900.64,790.37 L901.11,790.06 L901.59,789.76 L902.06,789.46 L902.54,789.17 L903.01,788.88 L903.49,788.61 L903.96,788.34 L904.44,788.08 L904.91,787.83 L905.39,787.59 L905.86,787.36 L906.34,787.14 L906.81,786.93 L907.29,786.73 L907.76,786.55 L908.24,786.37 L908.71,786.21 L909.19,786.06 L909.66,785.93 L910.14,785.81 L910.61,785.7 L911.09,785.6 L911.56,785.52 L912.04,785.46 L912.51,785.41 L912.99,785.37 L913.46,785.35 L913.94,785.34 L914.41,785.35 L914.89,785.37 L915.36,785.41 L915.84,785.46 L916.31,785.52 L916.79,785.6 L917.26,785.7 L917.74,785.81 L918.21,785.93 L918.69,786.06 L919.16,786.21 L919.64,786.37 L920.11,786.55 L920.59,786.73 L921.06,786.93 L921.54,787.14 L922.01,787.36 L922.49,787.59 L922.96,787.83 L923.43,788.08 L923.91,788.34 L924.38,788.61 L924.86,788.88 L925.33,789.17 L925.81,789.46 L926.28,789.76 L926.76,790.06 L927.23,790.37 L927.71,790.68 L928.18,791 L928.66,791.32 L929.13,791.65 L929.61,791.97 L930.08,792.3 L930.56,792.64 L931.03,792.97 L931.51,793.3 L931.98,793.64 L932.46,793.97 L932.93,794.3 L933.41,794.64 L933.88,794.97 L934.36,795.3 L934.83,795.62 L935.31,795.94 L935.78,796.26 L936.26,796.58 L936.73,796.89 L937.21,797.2 L937.68,797.51 L938.16,797.81 L938.63,798.1 L939.11,798.39 L939.58,798.67 L940.06,798.95 L940.53,799.23 L941.01,799.49 L941.48,799.75 L941.96,800.01 L942.43,800.26 L942.91,800.5 L943.38,800.73 L943.86,800.96 L944.33,801.18 L944.81,801.4 L945.28,801.61 L945.76,801.81 L946.23,802.01 L946.71,802.2 L947.18,802.38 L947.65,802.56 L948.13,802.73 L948.6,802.89 L949.08,803.05 L949.55,803.2 L950.03,803.35 L950.5,803.49 L950.98,803.63 L951.45,803.75 L951.93,803.88 L952.4,804 L952.88,804.11 L953.35,804.22 L953.83,804.32 L954.3,804.42 L954.78,804.51 L955.25,804.6 L955.73,804.68 L956.2,804.76 L956.68,804.84 L957.15,804.91 L957.63,804.98 L958.1,805.05 L958.58,805.11 L959.05,805.17 L959.53,805.22 L960,805.27 L960.48,805.32 L960.95,805.37 L961.43,805.41 L961.9,805.45 L962.38,805.49 L962.85,805.52 L963.33,805.56 L963.8,805.59 L964.28,805.62 L964.75,805.65 L965.23,805.67 L965.7,805.7 L966.18,805.72 L966.65,805.74 L967.13,805.76 L967.6,805.78 L968.08,805.8 L968.55,805.81 L969.03,805.83 L969.5,805.84 L969.98,805.85 L970.45,805.87 L970.93,805.88 L971.4,805.89 L971.87,805.9 L972.35,805.9 L972.82,805.91 L973.3,805.92 L973.77,805.93 L974.25,805.93 L974.72,805.94 L975.2,805.94 L975.67,805.95 L976.15,805.95 L976.62,805.96 L977.1,805.96 L977.57,805.97 L978.05,805.97 L978.52,805.97 L979,805.97 L979.47,805.98 L979.95,805.98 L980.42,805.98 L980.9,805.98 L981.37,805.98 L981.85,805.99 L982.32,805.99 L982.8,805.99 L983.27,805.99 L983.75,805.99 L984.22,805.99 L984.7,805.99 L984.7,806 Z" fill="#f40000"/>
<g clip-path="url(#sp5)"><rect x="754.84" y="606" width="230.33" height="200" fill="url(#hb)"/></g>
<g clip-path="url(#sp5)"><g clip-path="url(#rp5)"><rect x="754.84" y="606" width="230.33" height="200" fill="url(#hk)"/></g></g>
<polyline points="754.84,805.92 755.32,805.91 755.79,805.9 756.27,805.88 756.74,805.87 757.22,805.85 757.69,805.83 758.17,805.8 758.64,805.77 759.12,805.74 759.59,805.71 760.07,805.67 760.54,805.62 761.02,805.57 761.49,805.52 761.97,805.45 762.44,805.38 762.92,805.3 763.39,805.22 763.87,805.12 764.34,805.01 764.82,804.89 765.29,804.76 765.77,804.61 766.24,804.44 766.72,804.26 767.19,804.06 767.67,803.84 768.14,803.6 768.62,803.33 769.09,803.04 769.57,802.72 770.04,802.37 770.52,801.98 770.99,801.57 771.47,801.11 771.94,800.61 772.42,800.07 772.89,799.49 773.37,798.86 773.84,798.17 774.32,797.43 774.79,796.63 775.27,795.76 775.74,794.84 776.22,793.84 776.69,792.77 777.17,791.62 777.64,790.4 778.12,789.09 778.59,787.69 779.06,786.2 779.54,784.61 780.01,782.93 780.49,781.15 780.96,779.26 781.44,776.93 781.91,774.44 782.39,771.8 782.86,769.01 783.34,766.07 783.81,762.96 784.29,759.7 784.76,756.28 785.24,752.71 785.71,748.98 786.19,745.09 786.66,741.06 787.14,736.88 787.61,732.56 788.09,728.1 788.56,723.51 789.04,718.79 789.51,713.95 789.99,708.99 790.46,703.93 790.94,698.78 791.41,693.54 791.89,688.22 792.36,682.84 792.84,677.4 793.31,671.92 793.79,666.41 794.26,660.88 794.74,655.34 795.21,649.82 795.69,644.31 796.16,638.84 796.64,633.42 797.11,628.06 797.59,622.79 798.06,617.6 798.54,612.53 799.01,607.57 799.49,602.76 799.96,598.09 800.44,593.5 800.91,588.99 801.39,584.58 801.86,580.27 802.34,576.08 802.81,572.04 803.28,568.14 803.76,564.42 804.23,560.88 804.71,557.53 805.18,554.39 805.66,551.48 806.13,548.81 806.61,546.39 807.08,544.22 807.56,542.34 808.03,540.73 808.51,539.41 808.98,538.39 809.46,537.68 809.93,537.27 810.41,537.18 810.88,537.4 811.36,537.94 811.83,538.8 812.31,539.96 812.78,541.44 813.26,543.22 813.73,545.3 814.21,547.66 814.68,550.24 815.16,552.94 815.63,555.75 816.11,558.68 816.58,561.71 817.06,564.84 817.53,568.08 818.01,571.41 818.48,574.84 818.96,578.37 819.43,581.99 819.91,585.71 820.38,589.54 820.86,593.45 821.33,597.47 821.81,601.57 822.28,605.77 822.76,610.05 823.23,614.41 823.71,618.83 824.18,623.6 824.66,628.32 825.13,632.98 825.61,637.58 826.08,642.1 826.56,646.55 827.03,650.91 827.5,655.17 827.98,659.34 828.45,663.4 828.93,667.36 829.4,671.21 829.88,674.94 830.35,678.56 830.83,682.07 831.3,685.45 831.78,688.72 832.25,691.87 832.73,694.91 833.2,697.82 833.68,700.92 834.15,703.95 834.63,706.88 835.1,709.74 835.58,712.52 836.05,715.22 836.53,717.84 837,720.38 837.48,722.84 837.95,725.22 838.43,727.52 838.9,729.74 839.38,731.87 839.85,733.93 840.33,735.9 840.8,737.78 841.28,739.59 841.75,741.3 842.23,742.93 842.7,744.48 843.18,745.94 843.65,747.31 844.13,748.59 844.6,749.79 845.08,750.9 845.55,751.92 846.03,752.86 846.5,753.72 846.98,754.49 847.45,755.19 847.93,755.83 848.4,756.47 848.88,757.12 849.35,757.78 849.83,758.45 850.3,759.13 850.78,759.82 851.25,760.52 851.72,761.22 852.2,761.93 852.67,762.65 853.15,763.36 853.62,764.07 854.1,764.78 854.57,765.48 855.05,766.17 855.52,766.85 856,767.51 856.47,768.15 856.95,768.76 857.42,769.35 857.9,769.91 858.37,770.44 858.85,770.93 859.32,771.39 859.8,771.81 860.27,772.19 860.75,772.53 861.22,772.82 861.7,773.07 862.17,773.22 862.65,773.38 863.12,773.56 863.6,773.76 864.07,773.97 864.55,774.21 865.02,774.45 865.5,774.72 865.97,774.99 866.45,775.28 866.92,775.57 867.4,775.87 867.87,776.17 868.35,776.47 868.82,776.78 869.3,777.08 869.77,777.37 870.25,777.66 870.72,777.93 871.2,778.19 871.67,778.44 872.15,778.66 872.62,778.87 873.1,779.06 873.57,779.22 874.05,779.36 874.52,779.48 875,779.56 875.47,779.62 875.94,779.66 876.42,779.62 876.89,779.59 877.37,779.57 877.84,779.55 878.32,779.54 878.79,779.53 879.27,779.53 879.74,779.54 880.22,779.54 880.69,779.55 881.17,779.55 881.64,779.56 882.12,779.56 882.59,779.56 883.07,779.56 883.54,779.54 884.02,779.52 884.49,779.49 884.97,779.45 885.44,779.4 885.92,779.34 886.39,779.26 886.87,779.16 887.34,779.05 887.82,778.93 888.29,778.78 888.77,778.62 889.24,778.45 889.72,778.25 890.19,778.04 890.67,777.81 891.14,777.59 891.62,777.39 892.09,777.19 892.57,777 893.04,776.82 893.52,776.65 893.99,776.48 894.47,776.32 894.94,776.16 895.42,776.01 895.89,775.86 896.37,775.7 896.84,775.55 897.32,775.4 897.79,775.24 898.27,775.08 898.74,774.92 899.21,774.74 899.69,774.56 900.16,774.38 900.64,774.18 901.11,773.98 901.59,773.77 902.06,773.55 902.54,773.35 903.01,773.17 903.49,773.01 903.96,772.86 904.44,772.74 904.91,772.64 905.39,772.56 905.86,772.49 906.34,772.45 906.81,772.43 907.29,772.42 907.76,772.44 908.24,772.47 908.71,772.52 909.19,772.58 909.66,772.66 910.14,772.76 910.61,772.87 911.09,772.99 911.56,773.13 912.04,773.27 912.51,773.43 912.99,773.6 913.46,773.78 913.94,773.96 914.41,774.15 914.89,774.35 915.36,774.56 915.84,774.77 916.31,774.98 916.79,775.2 917.26,775.42 917.74,775.64 918.21,775.86 918.69,776.09 919.16,776.32 919.64,776.57 920.11,776.84 920.59,777.13 921.06,777.44 921.54,777.77 922.01,778.12 922.49,778.49 922.96,778.88 923.43,779.28 923.91,779.7 924.38,780.14 924.86,780.58 925.33,781.04 925.81,781.51 926.28,782 926.76,782.48 927.23,782.98 927.71,783.49 928.18,783.99 928.66,784.51 929.13,785.02 929.61,785.54 930.08,786.05 930.56,786.57 931.03,787.08 931.51,787.59 931.98,788.1 932.46,788.6 932.93,789.09 933.41,789.58 933.88,790.05 934.36,790.52 934.83,790.98 935.31,791.42 935.78,791.86 936.26,792.28 936.73,792.69 937.21,793.09 937.68,793.47 938.16,793.83 938.63,794.2 939.11,794.56 939.58,794.93 940.06,795.3 940.53,795.68 941.01,796.05 941.48,796.43 941.96,796.8 942.43,797.18 942.91,797.55 943.38,797.92 943.86,798.29 944.33,798.65 944.81,799.01 945.28,799.37 945.76,799.72 946.23,800.06 946.71,800.4 947.18,800.73 947.65,801.05 948.13,801.37 948.6,801.67 949.08,801.96 949.55,802.25 950.03,802.52 950.5,802.78 950.98,803.03 951.45,803.27 951.93,803.49 952.4,803.7 952.88,803.9 953.35,804.08 953.83,804.26 954.3,804.42 954.78,804.51 955.25,804.6 955.73,804.68 956.2,804.76 956.68,804.84 957.15,804.91 957.63,804.98 958.1,805.05 958.58,805.11 959.05,805.17 959.53,805.22 960,805.27 960.48,805.32 960.95,805.37 961.43,805.41 961.9,805.45 962.38,805.49 962.85,805.52 963.33,805.56 963.8,805.59 964.28,805.62 964.75,805.65 965.23,805.67 965.7,805.7 966.18,805.72 966.65,805.74 967.13,805.76 967.6,805.78 968.08,805.8 968.55,805.81 969.03,805.83 969.5,805.84 969.98,805.85 970.45,805.87 970.93,805.88 971.4,805.89 971.87,805.9 972.35,805.9 972.82,805.91 973.3,805.92 973.77,805.93 974.25,805.93 974.72,805.94 975.2,805.94 975.67,805.95 976.15,805.95 976.62,805.96 977.1,805.96 977.57,805.97 978.05,805.97 978.52,805.97 979,805.97 979.47,805.98 979.95,805.98 980.42,805.98 980.9,805.98 981.37,805.98 981.85,805.99 982.32,805.99 982.8,805.99 983.27,805.99 983.75,805.99 984.22,805.99 984.7,805.99 985.17,805.99" fill="none" stroke="#bdbdbd" stroke-width="1.1"/>
<polyline points="738.22,806 742.97,804.34 747.72,800.78 751.28,798.4 754.84,800.78 758.41,799.59 761.97,799.59 766.72,792.47 771.47,787.72 776.22,780.59 780.96,768.72 784.53,747.35 788.09,711.73 791.65,676.11 795.21,635.75 798.77,593.01 802.34,545.52 805.9,514.65 808.27,507.52 809.46,501.59 811.36,512.27 813.02,521.77 815.39,525.33 817.77,526.52 820.14,545.52 822.52,574.01 824.89,588.26 827.27,604.88 829.64,640.5 832.02,664.24 834.39,683.24 836.77,706.98 839.14,723.6 841.51,735.48 845.08,749.72 847.45,752.1 849.83,759.22 853.39,761.6 856.95,763.97 859.32,766.35 862.89,771.09 866.45,773.47 871.2,772.28 875.94,773.47 880.69,772.28 885.44,773.47 890.19,771.09 894.94,771.09 899.69,768.72 904.44,765.16 908,773.47 911.56,772.28 916.31,775.84 921.06,775.84 925.81,774.66 930.56,782.97 937.68,787.72 942.43,788.9 947.18,790.09 951.93,793.65 956.68,794.84 963.8,798.4 970.93,800.78 978.05,803.86 985.17,805.53 989.92,806" fill="none" stroke="#111" stroke-width="1.6" stroke-linejoin="round"/>
<path d="M809.46,808.2 L803.56,818 L815.36,818 Z" fill="#000"/>
<clipPath id="sp6"><path d="M1186.22,806 L1186.22,806 L1186.69,805.69 L1187.17,805.35 L1187.64,804.98 L1188.12,804.57 L1188.59,804.12 L1189.06,803.64 L1189.54,803.14 L1190.01,802.6 L1190.49,802.03 L1190.96,801.43 L1191.44,800.81 L1191.91,800.17 L1192.39,799.51 L1192.86,798.83 L1193.34,798.13 L1193.81,797.41 L1194.29,796.69 L1194.76,795.96 L1195.24,795.22 L1195.71,794.48 L1196.19,793.74 L1196.66,793.01 L1197.14,792.28 L1197.61,791.55 L1198.09,790.84 L1198.56,790.14 L1199.04,789.46 L1199.51,788.8 L1199.99,788.15 L1200.46,787.53 L1200.94,786.94 L1201.41,786.37 L1201.89,785.83 L1202.36,785.32 L1202.84,784.85 L1203.31,784.4 L1203.79,783.99 L1204.26,783.61 L1204.74,783.27 L1205.21,782.97 L1205.69,782.5 L1206.16,781.96 L1206.64,781.37 L1207.11,780.71 L1207.59,780 L1208.06,779.23 L1208.54,778.41 L1209.01,777.53 L1209.49,776.61 L1209.96,775.65 L1210.44,774.65 L1210.91,773.62 L1211.39,772.55 L1211.86,771.46 L1212.34,770.35 L1212.81,769.23 L1213.28,768.1 L1213.76,766.97 L1214.23,765.84 L1214.71,764.71 L1215.18,763.6 L1215.66,762.52 L1216.13,761.45 L1216.61,760.42 L1217.08,759.41 L1217.56,758.45 L1218.03,757.53 L1218.51,756.66 L1218.98,755.84 L1219.46,755.07 L1219.93,754.35 L1220.41,753.7 L1220.88,753.1 L1221.36,752.57 L1221.83,752.1 L1222.31,751.68 L1222.78,751.19 L1223.26,750.63 L1223.73,749.99 L1224.21,749.29 L1224.68,748.53 L1225.16,747.72 L1225.63,746.85 L1226.11,745.95 L1226.58,745.02 L1227.06,744.06 L1227.53,743.09 L1228.01,742.11 L1228.48,741.14 L1228.96,740.18 L1229.43,739.25 L1229.91,738.35 L1230.38,737.48 L1230.86,736.67 L1231.33,735.91 L1231.81,735.21 L1232.28,734.58 L1232.76,734.01 L1233.23,733.52 L1233.71,733.1 L1234.18,732.87 L1234.66,732.59 L1235.13,732.27 L1235.61,731.92 L1236.08,731.52 L1236.56,731.1 L1237.03,730.64 L1237.5,730.15 L1237.98,729.65 L1238.45,729.12 L1238.93,728.58 L1239.4,728.03 L1239.88,727.49 L1240.35,726.94 L1240.83,726.4 L1241.3,725.87 L1241.78,725.37 L1242.25,724.88 L1242.73,724.42 L1243.2,724 L1243.68,723.6 L1244.15,723.25 L1244.63,722.93 L1245.1,722.65 L1245.58,722.42 L1246.05,722.37 L1246.53,722.3 L1247,722.23 L1247.48,722.15 L1247.95,722.07 L1248.43,721.97 L1248.9,721.87 L1249.38,721.76 L1249.85,721.65 L1250.33,721.53 L1250.8,721.41 L1251.28,721.29 L1251.75,721.17 L1252.23,721.05 L1252.7,720.93 L1253.18,720.81 L1253.65,720.7 L1254.13,720.59 L1254.6,720.49 L1255.08,720.39 L1255.55,720.31 L1256.03,720.23 L1256.5,720.16 L1256.98,720.1 L1257.45,720.04 L1257.93,720.17 L1258.4,720.33 L1258.88,720.5 L1259.35,720.7 L1259.83,720.92 L1260.3,721.16 L1260.78,721.41 L1261.25,721.68 L1261.72,721.96 L1262.2,722.26 L1262.67,722.55 L1263.15,722.86 L1263.62,723.16 L1264.1,723.47 L1264.57,723.77 L1265.05,724.06 L1265.52,724.34 L1266,724.61 L1266.47,724.86 L1266.95,725.1 L1267.42,725.32 L1267.9,725.52 L1268.37,725.7 L1268.85,725.85 L1269.32,725.98 L1269.8,726.19 L1270.27,726.43 L1270.75,726.72 L1271.22,727.03 L1271.7,727.38 L1272.17,727.76 L1272.65,728.17 L1273.12,728.6 L1273.6,729.05 L1274.07,729.52 L1274.55,730 L1275.02,730.48 L1275.5,730.97 L1275.97,731.46 L1276.45,731.94 L1276.92,732.4 L1277.4,732.86 L1277.87,733.29 L1278.35,733.69 L1278.82,734.07 L1279.3,734.42 L1279.77,734.74 L1280.25,735.02 L1280.72,735.27 L1281.2,735.48 L1281.67,735.69 L1282.15,735.93 L1282.62,736.21 L1283.1,736.53 L1283.57,736.88 L1284.05,737.26 L1284.52,737.67 L1285,738.1 L1285.47,738.55 L1285.94,739.02 L1286.42,739.5 L1286.89,739.98 L1287.37,740.47 L1287.84,740.96 L1288.32,741.43 L1288.79,741.9 L1289.27,742.35 L1289.74,742.78 L1290.22,743.19 L1290.69,743.57 L1291.17,743.92 L1291.64,744.24 L1292.12,744.52 L1292.59,744.77 L1293.07,744.98 L1293.54,745.18 L1294.02,745.43 L1294.49,745.71 L1294.97,746.03 L1295.44,746.38 L1295.92,746.76 L1296.39,747.17 L1296.87,747.6 L1297.34,748.05 L1297.82,748.52 L1298.29,748.99 L1298.77,749.48 L1299.24,749.97 L1299.72,750.45 L1300.19,750.93 L1300.67,751.4 L1301.14,751.85 L1301.62,752.28 L1302.09,752.69 L1302.57,753.07 L1303.04,753.42 L1303.52,753.74 L1303.99,754.02 L1304.47,754.26 L1304.94,754.47 L1305.42,754.68 L1305.89,754.93 L1306.37,755.21 L1306.84,755.53 L1307.32,755.88 L1307.79,756.26 L1308.27,756.66 L1308.74,757.1 L1309.21,757.55 L1309.69,758.01 L1310.16,758.49 L1310.64,758.98 L1311.11,759.47 L1311.59,759.95 L1312.06,760.43 L1312.54,760.9 L1313.01,761.35 L1313.49,761.78 L1313.96,762.19 L1314.44,762.57 L1314.91,762.92 L1315.39,763.23 L1315.86,763.52 L1316.34,763.76 L1316.81,763.97 L1317.29,764.21 L1317.76,764.48 L1318.24,764.8 L1318.71,765.16 L1319.19,765.55 L1319.66,765.98 L1320.14,766.44 L1320.61,766.92 L1321.09,767.43 L1321.56,767.95 L1322.04,768.49 L1322.51,769.04 L1322.99,769.59 L1323.46,770.13 L1323.94,770.67 L1324.41,771.2 L1324.89,771.71 L1325.36,772.19 L1325.84,772.65 L1326.31,773.08 L1326.79,773.47 L1327.26,773.83 L1327.74,774.15 L1328.21,774.42 L1328.69,774.66 L1329.16,774.89 L1329.64,775.17 L1330.11,775.49 L1330.59,775.84 L1331.06,776.24 L1331.54,776.66 L1332.01,777.12 L1332.49,777.61 L1332.96,778.11 L1333.43,778.64 L1333.91,779.18 L1334.38,779.72 L1334.86,780.27 L1335.33,780.82 L1335.81,781.36 L1336.28,781.88 L1336.76,782.39 L1337.23,782.88 L1337.71,783.34 L1338.18,783.76 L1338.66,784.16 L1339.13,784.51 L1339.61,784.83 L1340.08,785.11 L1340.56,785.34 L1341.03,785.52 L1341.51,785.74 L1341.98,785.99 L1342.46,786.26 L1342.93,786.57 L1343.41,786.9 L1343.88,787.26 L1344.36,787.64 L1344.83,788.03 L1345.31,788.44 L1345.78,788.86 L1346.26,789.28 L1346.73,789.71 L1347.21,790.14 L1347.68,790.55 L1348.16,790.96 L1348.63,791.36 L1349.11,791.74 L1349.58,792.09 L1350.06,792.42 L1350.53,792.73 L1351.01,793.01 L1351.48,793.25 L1351.96,793.47 L1352.43,793.65 L1352.91,793.82 L1353.38,794.02 L1353.86,794.26 L1354.33,794.53 L1354.81,794.83 L1355.28,795.15 L1355.76,795.5 L1356.23,795.87 L1356.71,796.24 L1357.18,796.62 L1357.65,797 L1358.13,797.38 L1358.6,797.74 L1359.08,798.09 L1359.55,798.41 L1360.03,798.71 L1360.5,798.98 L1360.98,799.22 L1361.45,799.42 L1361.93,799.59 L1362.4,799.72 L1362.88,799.88 L1363.35,800.07 L1363.83,800.29 L1364.3,800.53 L1364.78,800.79 L1365.25,801.07 L1365.73,801.36 L1366.2,801.66 L1366.68,801.96 L1367.15,802.27 L1367.63,802.57 L1368.1,802.86 L1368.58,803.14 L1369.05,803.4 L1369.53,803.64 L1370,803.85 L1370.48,804.04 L1370.95,804.2 L1371.43,804.34 L1371.9,804.38 L1372.38,804.44 L1372.85,804.51 L1373.33,804.58 L1373.8,804.67 L1374.28,804.76 L1374.75,804.86 L1375.23,804.96 L1375.7,805.06 L1376.18,805.17 L1376.65,805.28 L1377.13,805.38 L1377.6,805.48 L1378.08,805.58 L1378.55,805.67 L1379.03,805.75 L1379.5,805.83 L1379.98,805.9 L1380.45,805.95 L1380.93,806 L1380.93,806 Z"/></clipPath>
<clipPath id="rp6"><path d="M1162,806 L1162,805.89 L1162.47,805.88 L1162.95,805.86 L1163.42,805.84 L1163.9,805.82 L1164.37,805.79 L1164.84,805.76 L1165.32,805.73 L1165.79,805.7 L1166.27,805.65 L1166.74,805.61 L1167.22,805.56 L1167.69,805.5 L1168.17,805.43 L1168.64,805.36 L1169.12,805.28 L1169.59,805.19 L1170.07,805.09 L1170.54,804.98 L1171.02,804.85 L1171.49,804.71 L1171.97,804.56 L1172.44,804.39 L1172.92,804.2 L1173.39,804 L1173.87,803.77 L1174.34,803.52 L1174.82,803.24 L1175.29,802.94 L1175.77,802.61 L1176.24,802.25 L1176.72,801.85 L1177.19,801.42 L1177.67,800.95 L1178.14,800.43 L1178.62,799.87 L1179.09,799.27 L1179.57,798.61 L1180.04,797.89 L1180.52,797.12 L1180.99,796.29 L1181.47,795.39 L1181.94,794.42 L1182.42,793.38 L1182.89,792.26 L1183.37,791.06 L1183.84,789.77 L1184.32,788.39 L1184.79,786.92 L1185.27,785.35 L1185.74,783.68 L1186.22,781.9 L1186.69,780.01 L1187.17,778 L1187.64,775.88 L1188.12,773.63 L1188.59,771.26 L1189.06,768.75 L1189.54,766.12 L1190.01,763.35 L1190.49,760.44 L1190.96,757.39 L1191.44,754.2 L1191.91,750.86 L1192.39,747.38 L1192.86,743.75 L1193.34,739.97 L1193.81,736.05 L1194.29,731.99 L1194.76,727.78 L1195.24,723.43 L1195.71,718.95 L1196.19,714.33 L1196.66,709.57 L1197.14,704.7 L1197.61,699.7 L1198.09,694.59 L1198.56,689.37 L1199.04,684.05 L1199.51,678.64 L1199.99,673.15 L1200.46,667.59 L1200.94,661.96 L1201.41,656.29 L1201.89,650.57 L1202.36,644.83 L1202.84,639.08 L1203.31,633.33 L1203.79,627.59 L1204.26,621.87 L1204.74,616.21 L1205.21,610.6 L1205.69,605.06 L1206.16,599.61 L1206.64,594.27 L1207.11,589.04 L1207.59,583.95 L1208.06,579.01 L1208.54,574.24 L1209.01,569.65 L1209.49,565.25 L1209.96,561.07 L1210.44,557.1 L1210.91,553.38 L1211.39,549.9 L1211.86,546.68 L1212.34,543.73 L1212.81,541.07 L1213.28,538.7 L1213.76,536.62 L1214.23,534.85 L1214.71,533.4 L1215.18,532.26 L1215.66,531.45 L1216.13,530.96 L1216.61,530.79 L1217.08,530.96 L1217.56,531.45 L1218.03,532.26 L1218.51,533.4 L1218.98,534.85 L1219.46,536.62 L1219.93,538.7 L1220.41,541.07 L1220.88,543.73 L1221.36,546.68 L1221.83,549.9 L1222.31,553.38 L1222.78,557.1 L1223.26,561.07 L1223.73,565.25 L1224.21,569.65 L1224.68,574.24 L1225.16,579.01 L1225.63,583.95 L1226.11,589.04 L1226.58,594.27 L1227.06,599.61 L1227.53,605.06 L1228.01,610.6 L1228.48,616.21 L1228.96,621.87 L1229.43,627.59 L1229.91,633.33 L1230.38,639.08 L1230.86,644.83 L1231.33,650.57 L1231.81,656.29 L1232.28,661.96 L1232.76,667.59 L1233.23,673.15 L1233.71,678.64 L1234.18,684.05 L1234.66,689.37 L1235.13,694.59 L1235.61,699.7 L1236.08,704.7 L1236.56,709.57 L1237.03,714.33 L1237.5,718.95 L1237.98,723.43 L1238.45,727.78 L1238.93,731.99 L1239.4,736.05 L1239.88,739.97 L1240.35,743.75 L1240.83,747.38 L1241.3,750.86 L1241.78,754.2 L1242.25,757.39 L1242.73,760.44 L1243.2,763.35 L1243.68,766.12 L1244.15,768.75 L1244.63,771.26 L1245.1,773.63 L1245.58,775.88 L1246.05,778 L1246.53,780.01 L1247,781.9 L1247.48,783.68 L1247.95,785.35 L1248.43,786.92 L1248.9,788.39 L1249.38,789.77 L1249.85,791.06 L1250.33,792.26 L1250.8,793.38 L1251.28,794.42 L1251.75,795.39 L1252.23,796.29 L1252.7,797.12 L1253.18,797.89 L1253.65,798.61 L1254.13,799.27 L1254.6,799.87 L1255.08,800.43 L1255.55,800.95 L1256.03,801.42 L1256.5,801.85 L1256.98,802.25 L1257.45,802.61 L1257.93,802.94 L1258.4,803.24 L1258.88,803.52 L1259.35,803.77 L1259.83,804 L1260.3,804.2 L1260.78,804.39 L1261.25,804.56 L1261.72,804.71 L1262.2,804.85 L1262.67,804.98 L1263.15,805.09 L1263.62,805.19 L1264.1,805.28 L1264.57,805.36 L1265.05,805.43 L1265.52,805.5 L1266,805.56 L1266.47,805.61 L1266.95,805.65 L1267.42,805.7 L1267.9,805.73 L1268.37,805.76 L1268.85,805.79 L1269.32,805.82 L1269.8,805.84 L1270.27,805.86 L1270.75,805.88 L1271.22,805.89 L1271.22,806 Z"/><path d="M1246.05,806 L1246.05,806 L1246.53,806 L1247,806 L1247.48,806 L1247.95,806 L1248.43,806 L1248.9,806 L1249.38,806 L1249.85,805.99 L1250.33,805.99 L1250.8,805.99 L1251.28,805.99 L1251.75,805.99 L1252.23,805.99 L1252.7,805.99 L1253.18,805.99 L1253.65,805.99 L1254.13,805.99 L1254.6,805.99 L1255.08,805.99 L1255.55,805.98 L1256.03,805.98 L1256.5,805.98 L1256.98,805.98 L1257.45,805.98 L1257.93,805.98 L1258.4,805.97 L1258.88,805.97 L1259.35,805.97 L1259.83,805.97 L1260.3,805.96 L1260.78,805.96 L1261.25,805.96 L1261.72,805.96 L1262.2,805.95 L1262.67,805.95 L1263.15,805.94 L1263.62,805.94 L1264.1,805.93 L1264.57,805.93 L1265.05,805.92 L1265.52,805.92 L1266,805.91 L1266.47,805.9 L1266.95,805.9 L1267.42,805.89 L1267.9,805.88 L1268.37,805.87 L1268.85,805.86 L1269.32,805.85 L1269.8,805.84 L1270.27,805.83 L1270.75,805.82 L1271.22,805.81 L1271.7,805.8 L1272.17,805.78 L1272.65,805.77 L1273.12,805.75 L1273.6,805.74 L1274.07,805.72 L1274.55,805.7 L1275.02,805.68 L1275.5,805.66 L1275.97,805.64 L1276.45,805.62 L1276.92,805.59 L1277.4,805.57 L1277.87,805.54 L1278.35,805.52 L1278.82,805.49 L1279.3,805.46 L1279.77,805.43 L1280.25,805.4 L1280.72,805.36 L1281.2,805.33 L1281.67,805.29 L1282.15,805.26 L1282.62,805.22 L1283.1,805.17 L1283.57,805.13 L1284.05,805.09 L1284.52,805.04 L1285,804.99 L1285.47,804.95 L1285.94,804.89 L1286.42,804.84 L1286.89,804.79 L1287.37,804.73 L1287.84,804.67 L1288.32,804.61 L1288.79,804.55 L1289.27,804.49 L1289.74,804.42 L1290.22,804.36 L1290.69,804.29 L1291.17,804.22 L1291.64,804.15 L1292.12,804.07 L1292.59,804 L1293.07,803.92 L1293.54,803.84 L1294.02,803.76 L1294.49,803.68 L1294.97,803.59 L1295.44,803.51 L1295.92,803.42 L1296.39,803.33 L1296.87,803.25 L1297.34,803.16 L1297.82,803.06 L1298.29,802.97 L1298.77,802.88 L1299.24,802.79 L1299.72,802.69 L1300.19,802.6 L1300.67,802.5 L1301.14,802.4 L1301.62,802.31 L1302.09,802.21 L1302.57,802.11 L1303.04,802.01 L1303.52,801.92 L1303.99,801.82 L1304.47,801.72 L1304.94,801.63 L1305.42,801.53 L1305.89,801.44 L1306.37,801.34 L1306.84,801.25 L1307.32,801.16 L1307.79,801.07 L1308.27,800.98 L1308.74,800.89 L1309.21,800.81 L1309.69,800.73 L1310.16,800.64 L1310.64,800.57 L1311.11,800.49 L1311.59,800.41 L1312.06,800.34 L1312.54,800.27 L1313.01,800.21 L1313.49,800.14 L1313.96,800.08 L1314.44,800.02 L1314.91,799.97 L1315.39,799.92 L1315.86,799.87 L1316.34,799.83 L1316.81,799.79 L1317.29,799.75 L1317.76,799.72 L1318.24,799.69 L1318.71,799.66 L1319.19,799.64 L1319.66,799.62 L1320.14,799.61 L1320.61,799.6 L1321.09,799.59 L1321.56,799.59 L1322.04,799.59 L1322.51,799.6 L1322.99,799.61 L1323.46,799.62 L1323.94,799.64 L1324.41,799.66 L1324.89,799.69 L1325.36,799.72 L1325.84,799.75 L1326.31,799.79 L1326.79,799.83 L1327.26,799.87 L1327.74,799.92 L1328.21,799.97 L1328.69,800.02 L1329.16,800.08 L1329.64,800.14 L1330.11,800.21 L1330.59,800.27 L1331.06,800.34 L1331.54,800.41 L1332.01,800.49 L1332.49,800.57 L1332.96,800.64 L1333.43,800.73 L1333.91,800.81 L1334.38,800.89 L1334.86,800.98 L1335.33,801.07 L1335.81,801.16 L1336.28,801.25 L1336.76,801.34 L1337.23,801.44 L1337.71,801.53 L1338.18,801.63 L1338.66,801.72 L1339.13,801.82 L1339.61,801.92 L1340.08,802.01 L1340.56,802.11 L1341.03,802.21 L1341.51,802.31 L1341.98,802.4 L1342.46,802.5 L1342.93,802.6 L1343.41,802.69 L1343.88,802.79 L1344.36,802.88 L1344.83,802.97 L1345.31,803.06 L1345.78,803.16 L1346.26,803.25 L1346.73,803.33 L1347.21,803.42 L1347.68,803.51 L1348.16,803.59 L1348.63,803.68 L1349.11,803.76 L1349.58,803.84 L1350.06,803.92 L1350.53,804 L1351.01,804.07 L1351.48,804.15 L1351.96,804.22 L1352.43,804.29 L1352.91,804.36 L1353.38,804.42 L1353.86,804.49 L1354.33,804.55 L1354.81,804.61 L1355.28,804.67 L1355.76,804.73 L1356.23,804.79 L1356.71,804.84 L1357.18,804.89 L1357.65,804.95 L1358.13,804.99 L1358.6,805.04 L1359.08,805.09 L1359.55,805.13 L1360.03,805.17 L1360.5,805.22 L1360.98,805.26 L1361.45,805.29 L1361.93,805.33 L1362.4,805.36 L1362.88,805.4 L1363.35,805.43 L1363.83,805.46 L1364.3,805.49 L1364.78,805.52 L1365.25,805.54 L1365.73,805.57 L1366.2,805.59 L1366.68,805.62 L1367.15,805.64 L1367.63,805.66 L1368.1,805.68 L1368.58,805.7 L1369.05,805.72 L1369.53,805.74 L1370,805.75 L1370.48,805.77 L1370.95,805.78 L1371.43,805.8 L1371.9,805.81 L1372.38,805.82 L1372.85,805.83 L1373.33,805.84 L1373.8,805.85 L1374.28,805.86 L1374.75,805.87 L1375.23,805.88 L1375.7,805.89 L1376.18,805.9 L1376.65,805.9 L1377.13,805.91 L1377.6,805.92 L1378.08,805.92 L1378.55,805.93 L1379.03,805.93 L1379.5,805.94 L1379.98,805.94 L1380.45,805.95 L1380.93,805.95 L1381.4,805.96 L1381.87,805.96 L1382.35,805.96 L1382.82,805.96 L1383.3,805.97 L1383.77,805.97 L1384.25,805.97 L1384.72,805.97 L1385.2,805.98 L1385.67,805.98 L1386.15,805.98 L1386.62,805.98 L1387.1,805.98 L1387.57,805.98 L1388.05,805.99 L1388.52,805.99 L1389,805.99 L1389.47,805.99 L1389.95,805.99 L1390.42,805.99 L1390.9,805.99 L1391.37,805.99 L1391.85,805.99 L1392.32,805.99 L1392.8,805.99 L1393.27,805.99 L1393.75,806 L1394.22,806 L1394.7,806 L1395.17,806 L1395.65,806 L1396.12,806 L1396.6,806 L1397.07,806 L1397.07,806 Z"/></clipPath>
<path d="M1162,806 L1162,805.89 L1162.47,805.88 L1162.95,805.86 L1163.42,805.84 L1163.9,805.82 L1164.37,805.79 L1164.84,805.76 L1165.32,805.73 L1165.79,805.7 L1166.27,805.65 L1166.74,805.61 L1167.22,805.56 L1167.69,805.5 L1168.17,805.43 L1168.64,805.36 L1169.12,805.28 L1169.59,805.19 L1170.07,805.09 L1170.54,804.98 L1171.02,804.85 L1171.49,804.71 L1171.97,804.56 L1172.44,804.39 L1172.92,804.2 L1173.39,804 L1173.87,803.77 L1174.34,803.52 L1174.82,803.24 L1175.29,802.94 L1175.77,802.61 L1176.24,802.25 L1176.72,801.85 L1177.19,801.42 L1177.67,800.95 L1178.14,800.43 L1178.62,799.87 L1179.09,799.27 L1179.57,798.61 L1180.04,797.89 L1180.52,797.12 L1180.99,796.29 L1181.47,795.39 L1181.94,794.42 L1182.42,793.38 L1182.89,792.26 L1183.37,791.06 L1183.84,789.77 L1184.32,788.39 L1184.79,786.92 L1185.27,785.35 L1185.74,783.68 L1186.22,781.9 L1186.69,780.01 L1187.17,778 L1187.64,775.88 L1188.12,773.63 L1188.59,771.26 L1189.06,768.75 L1189.54,766.12 L1190.01,763.35 L1190.49,760.44 L1190.96,757.39 L1191.44,754.2 L1191.91,750.86 L1192.39,747.38 L1192.86,743.75 L1193.34,739.97 L1193.81,736.05 L1194.29,731.99 L1194.76,727.78 L1195.24,723.43 L1195.71,718.95 L1196.19,714.33 L1196.66,709.57 L1197.14,704.7 L1197.61,699.7 L1198.09,694.59 L1198.56,689.37 L1199.04,684.05 L1199.51,678.64 L1199.99,673.15 L1200.46,667.59 L1200.94,661.96 L1201.41,656.29 L1201.89,650.57 L1202.36,644.83 L1202.84,639.08 L1203.31,633.33 L1203.79,627.59 L1204.26,621.87 L1204.74,616.21 L1205.21,610.6 L1205.69,605.06 L1206.16,599.61 L1206.64,594.27 L1207.11,589.04 L1207.59,583.95 L1208.06,579.01 L1208.54,574.24 L1209.01,569.65 L1209.49,565.25 L1209.96,561.07 L1210.44,557.1 L1210.91,553.38 L1211.39,549.9 L1211.86,546.68 L1212.34,543.73 L1212.81,541.07 L1213.28,538.7 L1213.76,536.62 L1214.23,534.85 L1214.71,533.4 L1215.18,532.26 L1215.66,531.45 L1216.13,530.96 L1216.61,530.79 L1217.08,530.96 L1217.56,531.45 L1218.03,532.26 L1218.51,533.4 L1218.98,534.85 L1219.46,536.62 L1219.93,538.7 L1220.41,541.07 L1220.88,543.73 L1221.36,546.68 L1221.83,549.9 L1222.31,553.38 L1222.78,557.1 L1223.26,561.07 L1223.73,565.25 L1224.21,569.65 L1224.68,574.24 L1225.16,579.01 L1225.63,583.95 L1226.11,589.04 L1226.58,594.27 L1227.06,599.61 L1227.53,605.06 L1228.01,610.6 L1228.48,616.21 L1228.96,621.87 L1229.43,627.59 L1229.91,633.33 L1230.38,639.08 L1230.86,644.83 L1231.33,650.57 L1231.81,656.29 L1232.28,661.96 L1232.76,667.59 L1233.23,673.15 L1233.71,678.64 L1234.18,684.05 L1234.66,689.37 L1235.13,694.59 L1235.61,699.7 L1236.08,704.7 L1236.56,709.57 L1237.03,714.33 L1237.5,718.95 L1237.98,723.43 L1238.45,727.78 L1238.93,731.99 L1239.4,736.05 L1239.88,739.97 L1240.35,743.75 L1240.83,747.38 L1241.3,750.86 L1241.78,754.2 L1242.25,757.39 L1242.73,760.44 L1243.2,763.35 L1243.68,766.12 L1244.15,768.75 L1244.63,771.26 L1245.1,773.63 L1245.58,775.88 L1246.05,778 L1246.53,780.01 L1247,781.9 L1247.48,783.68 L1247.95,785.35 L1248.43,786.92 L1248.9,788.39 L1249.38,789.77 L1249.85,791.06 L1250.33,792.26 L1250.8,793.38 L1251.28,794.42 L1251.75,795.39 L1252.23,796.29 L1252.7,797.12 L1253.18,797.89 L1253.65,798.61 L1254.13,799.27 L1254.6,799.87 L1255.08,800.43 L1255.55,800.95 L1256.03,801.42 L1256.5,801.85 L1256.98,802.25 L1257.45,802.61 L1257.93,802.94 L1258.4,803.24 L1258.88,803.52 L1259.35,803.77 L1259.83,804 L1260.3,804.2 L1260.78,804.39 L1261.25,804.56 L1261.72,804.71 L1262.2,804.85 L1262.67,804.98 L1263.15,805.09 L1263.62,805.19 L1264.1,805.28 L1264.57,805.36 L1265.05,805.43 L1265.52,805.5 L1266,805.56 L1266.47,805.61 L1266.95,805.65 L1267.42,805.7 L1267.9,805.73 L1268.37,805.76 L1268.85,805.79 L1269.32,805.82 L1269.8,805.84 L1270.27,805.86 L1270.75,805.88 L1271.22,805.89 L1271.22,806 Z" fill="#f40000"/>
<path d="M1246.05,806 L1246.05,806 L1246.53,806 L1247,806 L1247.48,806 L1247.95,806 L1248.43,806 L1248.9,806 L1249.38,806 L1249.85,805.99 L1250.33,805.99 L1250.8,805.99 L1251.28,805.99 L1251.75,805.99 L1252.23,805.99 L1252.7,805.99 L1253.18,805.99 L1253.65,805.99 L1254.13,805.99 L1254.6,805.99 L1255.08,805.99 L1255.55,805.98 L1256.03,805.98 L1256.5,805.98 L1256.98,805.98 L1257.45,805.98 L1257.93,805.98 L1258.4,805.97 L1258.88,805.97 L1259.35,805.97 L1259.83,805.97 L1260.3,805.96 L1260.78,805.96 L1261.25,805.96 L1261.72,805.96 L1262.2,805.95 L1262.67,805.95 L1263.15,805.94 L1263.62,805.94 L1264.1,805.93 L1264.57,805.93 L1265.05,805.92 L1265.52,805.92 L1266,805.91 L1266.47,805.9 L1266.95,805.9 L1267.42,805.89 L1267.9,805.88 L1268.37,805.87 L1268.85,805.86 L1269.32,805.85 L1269.8,805.84 L1270.27,805.83 L1270.75,805.82 L1271.22,805.81 L1271.7,805.8 L1272.17,805.78 L1272.65,805.77 L1273.12,805.75 L1273.6,805.74 L1274.07,805.72 L1274.55,805.7 L1275.02,805.68 L1275.5,805.66 L1275.97,805.64 L1276.45,805.62 L1276.92,805.59 L1277.4,805.57 L1277.87,805.54 L1278.35,805.52 L1278.82,805.49 L1279.3,805.46 L1279.77,805.43 L1280.25,805.4 L1280.72,805.36 L1281.2,805.33 L1281.67,805.29 L1282.15,805.26 L1282.62,805.22 L1283.1,805.17 L1283.57,805.13 L1284.05,805.09 L1284.52,805.04 L1285,804.99 L1285.47,804.95 L1285.94,804.89 L1286.42,804.84 L1286.89,804.79 L1287.37,804.73 L1287.84,804.67 L1288.32,804.61 L1288.79,804.55 L1289.27,804.49 L1289.74,804.42 L1290.22,804.36 L1290.69,804.29 L1291.17,804.22 L1291.64,804.15 L1292.12,804.07 L1292.59,804 L1293.07,803.92 L1293.54,803.84 L1294.02,803.76 L1294.49,803.68 L1294.97,803.59 L1295.44,803.51 L1295.92,803.42 L1296.39,803.33 L1296.87,803.25 L1297.34,803.16 L1297.82,803.06 L1298.29,802.97 L1298.77,802.88 L1299.24,802.79 L1299.72,802.69 L1300.19,802.6 L1300.67,802.5 L1301.14,802.4 L1301.62,802.31 L1302.09,802.21 L1302.57,802.11 L1303.04,802.01 L1303.52,801.92 L1303.99,801.82 L1304.47,801.72 L1304.94,801.63 L1305.42,801.53 L1305.89,801.44 L1306.37,801.34 L1306.84,801.25 L1307.32,801.16 L1307.79,801.07 L1308.27,800.98 L1308.74,800.89 L1309.21,800.81 L1309.69,800.73 L1310.16,800.64 L1310.64,800.57 L1311.11,800.49 L1311.59,800.41 L1312.06,800.34 L1312.54,800.27 L1313.01,800.21 L1313.49,800.14 L1313.96,800.08 L1314.44,800.02 L1314.91,799.97 L1315.39,799.92 L1315.86,799.87 L1316.34,799.83 L1316.81,799.79 L1317.29,799.75 L1317.76,799.72 L1318.24,799.69 L1318.71,799.66 L1319.19,799.64 L1319.66,799.62 L1320.14,799.61 L1320.61,799.6 L1321.09,799.59 L1321.56,799.59 L1322.04,799.59 L1322.51,799.6 L1322.99,799.61 L1323.46,799.62 L1323.94,799.64 L1324.41,799.66 L1324.89,799.69 L1325.36,799.72 L1325.84,799.75 L1326.31,799.79 L1326.79,799.83 L1327.26,799.87 L1327.74,799.92 L1328.21,799.97 L1328.69,800.02 L1329.16,800.08 L1329.64,800.14 L1330.11,800.21 L1330.59,800.27 L1331.06,800.34 L1331.54,800.41 L1332.01,800.49 L1332.49,800.57 L1332.96,800.64 L1333.43,800.73 L1333.91,800.81 L1334.38,800.89 L1334.86,800.98 L1335.33,801.07 L1335.81,801.16 L1336.28,801.25 L1336.76,801.34 L1337.23,801.44 L1337.71,801.53 L1338.18,801.63 L1338.66,801.72 L1339.13,801.82 L1339.61,801.92 L1340.08,802.01 L1340.56,802.11 L1341.03,802.21 L1341.51,802.31 L1341.98,802.4 L1342.46,802.5 L1342.93,802.6 L1343.41,802.69 L1343.88,802.79 L1344.36,802.88 L1344.83,802.97 L1345.31,803.06 L1345.78,803.16 L1346.26,803.25 L1346.73,803.33 L1347.21,803.42 L1347.68,803.51 L1348.16,803.59 L1348.63,803.68 L1349.11,803.76 L1349.58,803.84 L1350.06,803.92 L1350.53,804 L1351.01,804.07 L1351.48,804.15 L1351.96,804.22 L1352.43,804.29 L1352.91,804.36 L1353.38,804.42 L1353.86,804.49 L1354.33,804.55 L1354.81,804.61 L1355.28,804.67 L1355.76,804.73 L1356.23,804.79 L1356.71,804.84 L1357.18,804.89 L1357.65,804.95 L1358.13,804.99 L1358.6,805.04 L1359.08,805.09 L1359.55,805.13 L1360.03,805.17 L1360.5,805.22 L1360.98,805.26 L1361.45,805.29 L1361.93,805.33 L1362.4,805.36 L1362.88,805.4 L1363.35,805.43 L1363.83,805.46 L1364.3,805.49 L1364.78,805.52 L1365.25,805.54 L1365.73,805.57 L1366.2,805.59 L1366.68,805.62 L1367.15,805.64 L1367.63,805.66 L1368.1,805.68 L1368.58,805.7 L1369.05,805.72 L1369.53,805.74 L1370,805.75 L1370.48,805.77 L1370.95,805.78 L1371.43,805.8 L1371.9,805.81 L1372.38,805.82 L1372.85,805.83 L1373.33,805.84 L1373.8,805.85 L1374.28,805.86 L1374.75,805.87 L1375.23,805.88 L1375.7,805.89 L1376.18,805.9 L1376.65,805.9 L1377.13,805.91 L1377.6,805.92 L1378.08,805.92 L1378.55,805.93 L1379.03,805.93 L1379.5,805.94 L1379.98,805.94 L1380.45,805.95 L1380.93,805.95 L1381.4,805.96 L1381.87,805.96 L1382.35,805.96 L1382.82,805.96 L1383.3,805.97 L1383.77,805.97 L1384.25,805.97 L1384.72,805.97 L1385.2,805.98 L1385.67,805.98 L1386.15,805.98 L1386.62,805.98 L1387.1,805.98 L1387.57,805.98 L1388.05,805.99 L1388.52,805.99 L1389,805.99 L1389.47,805.99 L1389.95,805.99 L1390.42,805.99 L1390.9,805.99 L1391.37,805.99 L1391.85,805.99 L1392.32,805.99 L1392.8,805.99 L1393.27,805.99 L1393.75,806 L1394.22,806 L1394.7,806 L1395.17,806 L1395.65,806 L1396.12,806 L1396.6,806 L1397.07,806 L1397.07,806 Z" fill="#f40000"/>
<g clip-path="url(#sp6)"><rect x="1161.52" y="606" width="236.03" height="200" fill="url(#hb)"/></g>
<g clip-path="url(#sp6)"><g clip-path="url(#rp6)"><rect x="1161.52" y="606" width="236.03" height="200" fill="url(#hk)"/></g></g>
<polyline points="1161.52,805.91 1162,805.89 1162.47,805.88 1162.95,805.86 1163.42,805.84 1163.9,805.82 1164.37,805.79 1164.84,805.77 1165.32,805.73 1165.79,805.7 1166.27,805.66 1166.74,805.61 1167.22,805.56 1167.69,805.5 1168.17,805.44 1168.64,805.37 1169.12,805.29 1169.59,805.2 1170.07,805.1 1170.54,804.98 1171.02,804.86 1171.49,804.72 1171.97,804.57 1172.44,804.4 1172.92,804.22 1173.39,804.01 1173.87,803.79 1174.34,803.54 1174.82,803.27 1175.29,802.97 1175.77,802.64 1176.24,802.28 1176.72,801.88 1177.19,801.46 1177.67,800.99 1178.14,800.48 1178.62,799.92 1179.09,799.32 1179.57,798.67 1180.04,797.96 1180.52,797.19 1180.99,796.36 1181.47,795.47 1181.94,794.51 1182.42,793.48 1182.89,792.36 1183.37,791.17 1183.84,789.89 1184.32,788.53 1184.79,787.07 1185.27,785.51 1185.74,783.85 1186.22,782.08 1186.69,779.9 1187.17,777.57 1187.64,775.09 1188.12,772.45 1188.59,769.65 1189.06,766.69 1189.54,763.56 1190.01,760.28 1190.49,756.82 1190.96,753.2 1191.44,749.41 1191.91,745.46 1192.39,741.34 1192.86,737.06 1193.34,732.61 1193.81,728.01 1194.29,723.25 1194.76,718.35 1195.24,713.3 1195.71,708.11 1196.19,702.78 1196.66,697.33 1197.14,691.76 1197.61,686.08 1198.09,680.29 1198.56,674.41 1199.04,668.45 1199.51,662.42 1199.99,656.33 1200.46,650.19 1200.94,644.02 1201.41,637.82 1201.89,631.61 1202.36,625.4 1202.84,619.22 1203.31,613.06 1203.79,606.96 1204.26,600.91 1204.74,594.95 1205.21,589.08 1205.69,583.11 1206.16,577.17 1206.64,571.27 1207.11,565.43 1207.59,559.67 1208.06,554 1208.54,548.44 1209.01,543.01 1209.49,537.73 1209.96,532.61 1210.44,527.68 1210.91,522.95 1211.39,518.43 1211.86,514.15 1212.34,510.12 1212.81,506.35 1213.28,502.87 1213.76,499.67 1214.23,496.79 1214.71,494.22 1215.18,491.99 1215.66,490.09 1216.13,488.54 1216.61,487.34 1217.08,486.5 1217.56,486.03 1218.03,485.92 1218.51,486.17 1218.98,486.79 1219.46,487.78 1219.93,489.12 1220.41,490.82 1220.88,492.87 1221.36,495.26 1221.83,497.98 1222.31,501.01 1222.78,504.22 1223.26,507.59 1223.73,511.11 1224.21,514.77 1224.68,518.57 1225.16,522.49 1225.63,526.53 1226.11,530.67 1226.58,534.92 1227.06,539.27 1227.53,543.7 1228.01,548.22 1228.48,552.82 1228.96,557.48 1229.43,562.22 1229.91,567.01 1230.38,571.86 1230.86,576.75 1231.33,581.69 1231.81,586.66 1232.28,591.65 1232.76,596.67 1233.23,601.7 1233.71,606.73 1234.18,611.86 1234.66,616.86 1235.13,621.72 1235.61,626.44 1236.08,631.01 1236.56,635.42 1237.03,639.67 1237.5,643.77 1237.98,647.72 1238.45,651.51 1238.93,655.14 1239.4,658.63 1239.88,661.97 1240.35,665.17 1240.83,668.23 1241.3,671.16 1241.78,673.96 1242.25,676.65 1242.73,679.21 1243.2,681.67 1243.68,684.03 1244.15,686.29 1244.63,688.45 1245.1,690.53 1245.58,692.53 1246.05,694.58 1246.53,696.51 1247,698.31 1247.48,700 1247.95,701.57 1248.43,703.03 1248.9,704.39 1249.38,705.65 1249.85,706.82 1250.33,707.89 1250.8,708.88 1251.28,709.79 1251.75,710.63 1252.23,711.4 1252.7,712.11 1253.18,712.76 1253.65,713.35 1254.13,713.9 1254.6,714.4 1255.08,714.86 1255.55,715.28 1256.03,715.67 1256.5,716.02 1256.98,716.35 1257.45,716.66 1257.93,717.12 1258.4,717.57 1258.88,718.01 1259.35,718.46 1259.83,718.9 1260.3,719.34 1260.78,719.78 1261.25,720.21 1261.72,720.64 1262.2,721.07 1262.67,721.49 1263.15,721.9 1263.62,722.3 1264.1,722.69 1264.57,723.06 1265.05,723.42 1265.52,723.76 1266,724.08 1266.47,724.38 1266.95,724.66 1267.42,724.91 1267.9,725.13 1268.37,725.33 1268.85,725.51 1269.32,725.65 1269.8,725.87 1270.27,726.13 1270.75,726.42 1271.22,726.74 1271.7,727.09 1272.17,727.46 1272.65,727.87 1273.12,728.29 1273.6,728.74 1274.07,729.19 1274.55,729.66 1275.02,730.13 1275.5,730.6 1275.97,731.07 1276.45,731.53 1276.92,731.98 1277.4,732.41 1277.87,732.82 1278.35,733.2 1278.82,733.55 1279.3,733.88 1279.77,734.16 1280.25,734.41 1280.72,734.63 1281.2,734.8 1281.67,734.98 1282.15,735.18 1282.62,735.43 1283.1,735.7 1283.57,736.01 1284.05,736.35 1284.52,736.71 1285,737.09 1285.47,737.49 1285.94,737.91 1286.42,738.34 1286.89,738.77 1287.37,739.2 1287.84,739.63 1288.32,740.05 1288.79,740.45 1289.27,740.84 1289.74,741.21 1290.22,741.55 1290.69,741.86 1291.17,742.14 1291.64,742.38 1292.12,742.59 1292.59,742.76 1293.07,742.89 1293.54,743.02 1294.02,743.19 1294.49,743.39 1294.97,743.62 1295.44,743.89 1295.92,744.18 1296.39,744.5 1296.87,744.84 1297.34,745.2 1297.82,745.58 1298.29,745.97 1298.77,746.36 1299.24,746.75 1299.72,747.14 1300.19,747.53 1300.67,747.9 1301.14,748.25 1301.62,748.59 1302.09,748.9 1302.57,749.18 1303.04,749.43 1303.52,749.65 1303.99,749.84 1304.47,749.99 1304.94,750.1 1305.42,750.21 1305.89,750.37 1306.37,750.55 1306.84,750.78 1307.32,751.04 1307.79,751.33 1308.27,751.65 1308.74,751.99 1309.21,752.36 1309.69,752.74 1310.16,753.14 1310.64,753.54 1311.11,753.96 1311.59,754.37 1312.06,754.77 1312.54,755.17 1313.01,755.56 1313.49,755.92 1313.96,756.27 1314.44,756.59 1314.91,756.89 1315.39,757.15 1315.86,757.39 1316.34,757.59 1316.81,757.76 1317.29,757.96 1317.76,758.2 1318.24,758.49 1318.71,758.82 1319.19,759.19 1319.66,759.6 1320.14,760.04 1320.61,760.52 1321.09,761.02 1321.56,761.54 1322.04,762.08 1322.51,762.64 1322.99,763.2 1323.46,763.76 1323.94,764.31 1324.41,764.86 1324.89,765.39 1325.36,765.91 1325.84,766.4 1326.31,766.86 1326.79,767.3 1327.26,767.7 1327.74,768.06 1328.21,768.39 1328.69,768.68 1329.16,768.97 1329.64,769.31 1330.11,769.69 1330.59,770.11 1331.06,770.58 1331.54,771.08 1332.01,771.61 1332.49,772.17 1332.96,772.76 1333.43,773.37 1333.91,773.99 1334.38,774.62 1334.86,775.26 1335.33,775.89 1335.81,776.52 1336.28,777.14 1336.76,777.74 1337.23,778.32 1337.71,778.87 1338.18,779.39 1338.66,779.88 1339.13,780.33 1339.61,780.75 1340.08,781.12 1340.56,781.45 1341.03,781.73 1341.51,782.05 1341.98,782.39 1342.46,782.76 1342.93,783.16 1343.41,783.59 1343.88,784.04 1344.36,784.52 1344.83,785 1345.31,785.5 1345.78,786.01 1346.26,786.53 1346.73,787.05 1347.21,787.56 1347.68,788.06 1348.16,788.56 1348.63,789.04 1349.11,789.5 1349.58,789.93 1350.06,790.34 1350.53,790.73 1351.01,791.08 1351.48,791.4 1351.96,791.69 1352.43,791.94 1352.91,792.18 1353.38,792.45 1353.86,792.75 1354.33,793.08 1354.81,793.44 1355.28,793.83 1355.76,794.23 1356.23,794.65 1356.71,795.08 1357.18,795.52 1357.65,795.95 1358.13,796.37 1358.6,796.78 1359.08,797.17 1359.55,797.54 1360.03,797.89 1360.5,798.2 1360.98,798.47 1361.45,798.72 1361.93,798.92 1362.4,799.09 1362.88,799.28 1363.35,799.5 1363.83,799.75 1364.3,800.02 1364.78,800.31 1365.25,800.61 1365.73,800.93 1366.2,801.25 1366.68,801.58 1367.15,801.91 1367.63,802.23 1368.1,802.54 1368.58,802.84 1369.05,803.11 1369.53,803.37 1370,803.6 1370.48,803.81 1370.95,803.99 1371.43,804.13 1371.9,804.19 1372.38,804.26 1372.85,804.34 1373.33,804.43 1373.8,804.52 1374.28,804.62 1374.75,804.73 1375.23,804.84 1375.7,804.95 1376.18,805.07 1376.65,805.18 1377.13,805.29 1377.6,805.4 1378.08,805.5 1378.55,805.6 1379.03,805.69 1379.5,805.77 1379.98,805.84 1380.45,805.9 1380.93,805.95 1381.4,805.96 1381.87,805.96 1382.35,805.96 1382.82,805.96 1383.3,805.97 1383.77,805.97 1384.25,805.97 1384.72,805.97 1385.2,805.98 1385.67,805.98 1386.15,805.98 1386.62,805.98 1387.1,805.98 1387.57,805.98 1388.05,805.99 1388.52,805.99 1389,805.99 1389.47,805.99 1389.95,805.99 1390.42,805.99 1390.9,805.99 1391.37,805.99 1391.85,805.99 1392.32,805.99 1392.8,805.99 1393.27,805.99 1393.75,806 1394.22,806 1394.7,806 1395.17,806 1395.65,806 1396.12,806 1396.6,806 1397.07,806 1397.55,806" fill="none" stroke="#bdbdbd" stroke-width="1.1"/>
<polyline points="1150.6,806 1154.16,800.78 1157.72,797.21 1162.47,793.65 1167.22,790.09 1171.97,782.97 1176.72,775.84 1180.28,763.97 1183.84,749.72 1187.4,730.73 1190.96,711.73 1194.53,676.11 1198.09,640.5 1201.65,604.88 1205.21,581.13 1208.77,545.52 1211.15,521.77 1213.52,512.27 1215.18,502.78 1216.61,498.03 1218.27,507.52 1220.65,514.65 1223.02,519.4 1225.39,528.89 1228.96,545.52 1232.52,569.26 1236.08,593.01 1239.64,628.62 1243.2,664.24 1246.77,678.49 1250.33,687.99 1253.89,697.49 1257.45,702.23 1261.01,709.36 1264.57,716.48 1269.32,721.23 1274.07,725.98 1276.45,724.79 1278.82,729.54 1282.38,728.35 1284.76,734.29 1288.32,740.23 1291.88,736.66 1295.44,739.04 1300.19,744.98 1304.94,749.72 1308.5,753.29 1310.88,750.91 1314.44,759.22 1319.19,766.35 1323.94,768.72 1328.69,772.28 1333.43,778.22 1340.56,782.97 1347.68,787.72 1352.43,792.47 1359.55,797.21 1364.3,799.59 1371.43,803.15 1378.55,804.34 1385.67,806" fill="none" stroke="#111" stroke-width="1.6" stroke-linejoin="round"/>
<path d="M1217.08,808.2 L1211.18,818 L1222.98,818 Z" fill="#000"/>
<clipPath id="sp7"><path d="M1615.41,806 L1615.41,805.82 L1615.92,805.41 L1616.43,804.94 L1616.93,804.42 L1617.44,803.85 L1617.95,803.22 L1618.45,802.55 L1618.96,801.83 L1619.47,801.07 L1619.98,800.27 L1620.48,799.44 L1620.99,798.59 L1621.5,797.71 L1622.01,796.82 L1622.51,795.92 L1623.02,795.02 L1623.53,794.12 L1624.03,793.23 L1624.54,792.36 L1625.05,791.51 L1625.56,790.68 L1626.06,789.88 L1626.57,789.12 L1627.08,788.4 L1627.59,787.73 L1628.09,787.1 L1628.6,786.53 L1629.11,786 L1629.61,785.54 L1630.12,785.13 L1630.63,784.68 L1631.14,784.07 L1631.64,783.37 L1632.15,782.57 L1632.66,781.68 L1633.17,780.7 L1633.67,779.65 L1634.18,778.53 L1634.69,777.35 L1635.19,776.12 L1635.7,774.86 L1636.21,773.57 L1636.72,772.27 L1637.22,770.96 L1637.73,769.67 L1638.24,768.41 L1638.75,767.18 L1639.25,766 L1639.76,764.88 L1640.27,763.83 L1640.77,762.85 L1641.28,761.96 L1641.79,761.16 L1642.3,760.46 L1642.8,759.85 L1643.31,759.37 L1643.82,758.86 L1644.33,758.24 L1644.83,757.52 L1645.34,756.71 L1645.85,755.83 L1646.35,754.88 L1646.86,753.88 L1647.37,752.86 L1647.88,751.84 L1648.38,750.83 L1648.89,749.86 L1649.4,748.94 L1649.91,748.09 L1650.41,747.32 L1650.92,746.65 L1651.43,746.09 L1651.93,745.63 L1652.44,745.73 L1652.95,745.84 L1653.46,745.97 L1653.96,746.12 L1654.47,746.28 L1654.98,746.46 L1655.49,746.64 L1655.99,746.84 L1656.5,747.05 L1657.01,747.27 L1657.51,747.48 L1658.02,747.7 L1658.53,747.91 L1659.04,748.12 L1659.54,748.33 L1660.05,748.52 L1660.56,748.71 L1661.07,748.88 L1661.57,749.03 L1662.08,749.17 L1662.59,749.29 L1663.09,749.39 L1663.6,749.53 L1664.11,749.72 L1664.62,749.95 L1665.12,750.2 L1665.63,750.48 L1666.14,750.78 L1666.65,751.1 L1667.15,751.45 L1667.66,751.82 L1668.17,752.2 L1668.67,752.6 L1669.18,753.01 L1669.69,753.43 L1670.2,753.86 L1670.7,754.29 L1671.21,754.73 L1671.72,755.16 L1672.23,755.59 L1672.73,756.01 L1673.24,756.42 L1673.75,756.82 L1674.26,757.21 L1674.76,757.57 L1675.27,757.92 L1675.78,758.24 L1676.28,758.55 L1676.79,758.82 L1677.3,759.07 L1677.81,759.3 L1678.31,759.5 L1678.82,759.64 L1679.33,759.76 L1679.84,759.9 L1680.34,760.06 L1680.85,760.23 L1681.36,760.42 L1681.86,760.62 L1682.37,760.84 L1682.88,761.07 L1683.39,761.31 L1683.89,761.56 L1684.4,761.82 L1684.91,762.08 L1685.42,762.35 L1685.92,762.62 L1686.43,762.89 L1686.94,763.16 L1687.44,763.43 L1687.95,763.69 L1688.46,763.95 L1688.97,764.2 L1689.47,764.44 L1689.98,764.67 L1690.49,764.88 L1691,765.09 L1691.5,765.28 L1692.01,765.45 L1692.52,765.61 L1693.02,765.75 L1693.53,765.87 L1694.04,765.94 L1694.55,765.97 L1695.05,766 L1695.56,766.04 L1696.07,766.09 L1696.58,766.14 L1697.08,766.19 L1697.59,766.25 L1698.1,766.3 L1698.6,766.37 L1699.11,766.43 L1699.62,766.49 L1700.13,766.56 L1700.63,766.62 L1701.14,766.69 L1701.65,766.75 L1702.16,766.81 L1702.66,766.87 L1703.17,766.93 L1703.68,766.98 L1704.18,767.03 L1704.69,767.07 L1705.2,767.11 L1705.71,767.15 L1706.21,767.18 L1706.72,767.23 L1707.23,767.32 L1707.74,767.43 L1708.24,767.55 L1708.75,767.68 L1709.26,767.83 L1709.76,767.99 L1710.27,768.16 L1710.78,768.33 L1711.29,768.52 L1711.79,768.71 L1712.3,768.9 L1712.81,769.1 L1713.32,769.29 L1713.82,769.48 L1714.33,769.67 L1714.84,769.86 L1715.34,770.03 L1715.85,770.2 L1716.36,770.36 L1716.87,770.51 L1717.37,770.64 L1717.88,770.76 L1718.39,770.87 L1718.9,770.96 L1719.4,771.07 L1719.91,771.25 L1720.42,771.44 L1720.92,771.66 L1721.43,771.91 L1721.94,772.17 L1722.45,772.45 L1722.95,772.76 L1723.46,773.08 L1723.97,773.41 L1724.48,773.76 L1724.98,774.12 L1725.49,774.49 L1726,774.87 L1726.5,775.25 L1727.01,775.63 L1727.52,776.01 L1728.03,776.38 L1728.53,776.75 L1729.04,777.11 L1729.55,777.46 L1730.06,777.79 L1730.56,778.12 L1731.07,778.42 L1731.58,778.7 L1732.08,778.97 L1732.59,779.21 L1733.1,779.43 L1733.61,779.63 L1734.11,779.8 L1734.62,779.98 L1735.13,780.22 L1735.64,780.51 L1736.14,780.83 L1736.65,781.18 L1737.16,781.57 L1737.66,781.99 L1738.17,782.44 L1738.68,782.91 L1739.19,783.41 L1739.69,783.91 L1740.2,784.43 L1740.71,784.95 L1741.22,785.47 L1741.72,785.98 L1742.23,786.49 L1742.74,786.98 L1743.25,787.45 L1743.75,787.9 L1744.26,788.32 L1744.77,788.71 L1745.27,789.07 L1745.78,789.39 L1746.29,789.67 L1746.8,789.91 L1747.3,790.15 L1747.81,790.46 L1748.32,790.81 L1748.83,791.21 L1749.33,791.66 L1749.84,792.14 L1750.35,792.67 L1750.85,793.23 L1751.36,793.82 L1751.87,794.43 L1752.38,795.07 L1752.88,795.71 L1753.39,796.36 L1753.9,797.01 L1754.41,797.66 L1754.91,798.29 L1755.42,798.9 L1755.93,799.49 L1756.43,800.05 L1756.94,800.58 L1757.45,801.07 L1757.96,801.51 L1758.46,801.91 L1758.97,802.27 L1759.48,802.57 L1759.99,802.76 L1760.49,802.91 L1761,803.09 L1761.51,803.3 L1762.01,803.54 L1762.52,803.8 L1763.03,804.07 L1763.54,804.35 L1764.04,804.63 L1764.55,804.91 L1765.06,805.17 L1765.57,805.4 L1766.07,805.61 L1766.58,805.79 L1767.09,805.94 L1767.09,806 Z"/></clipPath>
<clipPath id="rp7"><path d="M1597.66,806 L1597.66,805.88 L1598.16,805.85 L1598.67,805.81 L1599.18,805.77 L1599.68,805.71 L1600.19,805.65 L1600.7,805.57 L1601.21,805.48 L1601.71,805.36 L1602.22,805.23 L1602.73,805.06 L1603.24,804.87 L1603.74,804.64 L1604.25,804.38 L1604.76,804.06 L1605.27,803.69 L1605.77,803.26 L1606.28,802.76 L1606.79,802.17 L1607.29,801.5 L1607.8,800.73 L1608.31,799.84 L1608.82,798.82 L1609.32,797.66 L1609.83,796.34 L1610.34,794.85 L1610.85,793.17 L1611.35,791.28 L1611.86,789.17 L1612.37,786.81 L1612.87,784.19 L1613.38,781.29 L1613.89,778.08 L1614.4,774.56 L1614.9,770.7 L1615.41,766.49 L1615.92,761.92 L1616.43,756.96 L1616.93,751.62 L1617.44,745.88 L1617.95,739.74 L1618.45,733.2 L1618.96,726.27 L1619.47,718.93 L1619.98,711.22 L1620.48,703.14 L1620.99,694.72 L1621.5,685.98 L1622.01,676.95 L1622.51,667.67 L1623.02,658.18 L1623.53,648.53 L1624.03,638.76 L1624.54,628.93 L1625.05,619.1 L1625.56,609.34 L1626.06,599.7 L1626.57,590.26 L1627.08,581.08 L1627.59,572.23 L1628.09,563.79 L1628.6,555.81 L1629.11,548.36 L1629.61,541.52 L1630.12,535.32 L1630.63,529.84 L1631.14,525.11 L1631.64,521.18 L1632.15,518.09 L1632.66,515.86 L1633.17,514.51 L1633.67,514.06 L1634.18,514.51 L1634.69,515.86 L1635.19,518.09 L1635.7,521.18 L1636.21,525.11 L1636.72,529.84 L1637.22,535.32 L1637.73,541.52 L1638.24,548.36 L1638.75,555.81 L1639.25,563.79 L1639.76,572.23 L1640.27,581.08 L1640.77,590.26 L1641.28,599.7 L1641.79,609.34 L1642.3,619.1 L1642.8,628.93 L1643.31,638.76 L1643.82,648.53 L1644.33,658.18 L1644.83,667.67 L1645.34,676.95 L1645.85,685.98 L1646.35,694.72 L1646.86,703.14 L1647.37,711.22 L1647.88,718.93 L1648.38,726.27 L1648.89,733.2 L1649.4,739.74 L1649.91,745.88 L1650.41,751.62 L1650.92,756.96 L1651.43,761.92 L1651.93,766.49 L1652.44,770.7 L1652.95,774.56 L1653.46,778.08 L1653.96,781.29 L1654.47,784.19 L1654.98,786.81 L1655.49,789.17 L1655.99,791.28 L1656.5,793.17 L1657.01,794.85 L1657.51,796.34 L1658.02,797.66 L1658.53,798.82 L1659.04,799.84 L1659.54,800.73 L1660.05,801.5 L1660.56,802.17 L1661.07,802.76 L1661.57,803.26 L1662.08,803.69 L1662.59,804.06 L1663.09,804.38 L1663.6,804.64 L1664.11,804.87 L1664.62,805.06 L1665.12,805.23 L1665.63,805.36 L1666.14,805.48 L1666.65,805.57 L1667.15,805.65 L1667.66,805.71 L1668.17,805.77 L1668.67,805.81 L1669.18,805.85 L1669.69,805.88 L1669.69,806 Z"/><path d="M1686.43,806 L1686.43,806 L1686.94,806 L1687.44,806 L1687.95,806 L1688.46,805.99 L1688.97,805.99 L1689.47,805.99 L1689.98,805.99 L1690.49,805.99 L1691,805.99 L1691.5,805.99 L1692.01,805.99 L1692.52,805.98 L1693.02,805.98 L1693.53,805.98 L1694.04,805.97 L1694.55,805.97 L1695.05,805.97 L1695.56,805.96 L1696.07,805.96 L1696.58,805.95 L1697.08,805.94 L1697.59,805.94 L1698.1,805.93 L1698.6,805.92 L1699.11,805.91 L1699.62,805.9 L1700.13,805.88 L1700.63,805.87 L1701.14,805.85 L1701.65,805.84 L1702.16,805.82 L1702.66,805.79 L1703.17,805.77 L1703.68,805.75 L1704.18,805.72 L1704.69,805.69 L1705.2,805.65 L1705.71,805.62 L1706.21,805.58 L1706.72,805.54 L1707.23,805.49 L1707.74,805.44 L1708.24,805.39 L1708.75,805.33 L1709.26,805.27 L1709.76,805.2 L1710.27,805.13 L1710.78,805.06 L1711.29,804.98 L1711.79,804.89 L1712.3,804.8 L1712.81,804.71 L1713.32,804.61 L1713.82,804.5 L1714.33,804.39 L1714.84,804.27 L1715.34,804.15 L1715.85,804.02 L1716.36,803.88 L1716.87,803.74 L1717.37,803.6 L1717.88,803.45 L1718.39,803.29 L1718.9,803.13 L1719.4,802.97 L1719.91,802.8 L1720.42,802.62 L1720.92,802.45 L1721.43,802.26 L1721.94,802.08 L1722.45,801.89 L1722.95,801.71 L1723.46,801.52 L1723.97,801.33 L1724.48,801.14 L1724.98,800.95 L1725.49,800.76 L1726,800.57 L1726.5,800.38 L1727.01,800.2 L1727.52,800.02 L1728.03,799.85 L1728.53,799.68 L1729.04,799.51 L1729.55,799.35 L1730.06,799.2 L1730.56,799.06 L1731.07,798.93 L1731.58,798.8 L1732.08,798.68 L1732.59,798.58 L1733.1,798.48 L1733.61,798.4 L1734.11,798.33 L1734.62,798.26 L1735.13,798.21 L1735.64,798.18 L1736.14,798.15 L1736.65,798.14 L1737.16,798.14 L1737.66,798.15 L1738.17,798.18 L1738.68,798.21 L1739.19,798.26 L1739.69,798.33 L1740.2,798.4 L1740.71,798.48 L1741.22,798.58 L1741.72,798.68 L1742.23,798.8 L1742.74,798.93 L1743.25,799.06 L1743.75,799.2 L1744.26,799.35 L1744.77,799.51 L1745.27,799.68 L1745.78,799.85 L1746.29,800.02 L1746.8,800.2 L1747.3,800.38 L1747.81,800.57 L1748.32,800.76 L1748.83,800.95 L1749.33,801.14 L1749.84,801.33 L1750.35,801.52 L1750.85,801.71 L1751.36,801.89 L1751.87,802.08 L1752.38,802.26 L1752.88,802.45 L1753.39,802.62 L1753.9,802.8 L1754.41,802.97 L1754.91,803.13 L1755.42,803.29 L1755.93,803.45 L1756.43,803.6 L1756.94,803.74 L1757.45,803.88 L1757.96,804.02 L1758.46,804.15 L1758.97,804.27 L1759.48,804.39 L1759.99,804.5 L1760.49,804.61 L1761,804.71 L1761.51,804.8 L1762.01,804.89 L1762.52,804.98 L1763.03,805.06 L1763.54,805.13 L1764.04,805.2 L1764.55,805.27 L1765.06,805.33 L1765.57,805.39 L1766.07,805.44 L1766.58,805.49 L1767.09,805.54 L1767.59,805.58 L1768.1,805.62 L1768.61,805.65 L1769.12,805.69 L1769.62,805.72 L1770.13,805.75 L1770.64,805.77 L1771.15,805.79 L1771.65,805.82 L1772.16,805.84 L1772.67,805.85 L1773.17,805.87 L1773.68,805.88 L1774.19,805.9 L1774.7,805.91 L1775.2,805.92 L1775.71,805.93 L1776.22,805.94 L1776.73,805.94 L1777.23,805.95 L1777.74,805.96 L1778.25,805.96 L1778.75,805.97 L1779.26,805.97 L1779.77,805.97 L1780.28,805.98 L1780.78,805.98 L1781.29,805.98 L1781.8,805.99 L1782.31,805.99 L1782.81,805.99 L1783.32,805.99 L1783.83,805.99 L1784.33,805.99 L1784.84,805.99 L1785.35,805.99 L1785.86,806 L1786.36,806 L1786.87,806 L1787.38,806 L1787.38,806 Z"/></clipPath>
<path d="M1597.66,806 L1597.66,805.88 L1598.16,805.85 L1598.67,805.81 L1599.18,805.77 L1599.68,805.71 L1600.19,805.65 L1600.7,805.57 L1601.21,805.48 L1601.71,805.36 L1602.22,805.23 L1602.73,805.06 L1603.24,804.87 L1603.74,804.64 L1604.25,804.38 L1604.76,804.06 L1605.27,803.69 L1605.77,803.26 L1606.28,802.76 L1606.79,802.17 L1607.29,801.5 L1607.8,800.73 L1608.31,799.84 L1608.82,798.82 L1609.32,797.66 L1609.83,796.34 L1610.34,794.85 L1610.85,793.17 L1611.35,791.28 L1611.86,789.17 L1612.37,786.81 L1612.87,784.19 L1613.38,781.29 L1613.89,778.08 L1614.4,774.56 L1614.9,770.7 L1615.41,766.49 L1615.92,761.92 L1616.43,756.96 L1616.93,751.62 L1617.44,745.88 L1617.95,739.74 L1618.45,733.2 L1618.96,726.27 L1619.47,718.93 L1619.98,711.22 L1620.48,703.14 L1620.99,694.72 L1621.5,685.98 L1622.01,676.95 L1622.51,667.67 L1623.02,658.18 L1623.53,648.53 L1624.03,638.76 L1624.54,628.93 L1625.05,619.1 L1625.56,609.34 L1626.06,599.7 L1626.57,590.26 L1627.08,581.08 L1627.59,572.23 L1628.09,563.79 L1628.6,555.81 L1629.11,548.36 L1629.61,541.52 L1630.12,535.32 L1630.63,529.84 L1631.14,525.11 L1631.64,521.18 L1632.15,518.09 L1632.66,515.86 L1633.17,514.51 L1633.67,514.06 L1634.18,514.51 L1634.69,515.86 L1635.19,518.09 L1635.7,521.18 L1636.21,525.11 L1636.72,529.84 L1637.22,535.32 L1637.73,541.52 L1638.24,548.36 L1638.75,555.81 L1639.25,563.79 L1639.76,572.23 L1640.27,581.08 L1640.77,590.26 L1641.28,599.7 L1641.79,609.34 L1642.3,619.1 L1642.8,628.93 L1643.31,638.76 L1643.82,648.53 L1644.33,658.18 L1644.83,667.67 L1645.34,676.95 L1645.85,685.98 L1646.35,694.72 L1646.86,703.14 L1647.37,711.22 L1647.88,718.93 L1648.38,726.27 L1648.89,733.2 L1649.4,739.74 L1649.91,745.88 L1650.41,751.62 L1650.92,756.96 L1651.43,761.92 L1651.93,766.49 L1652.44,770.7 L1652.95,774.56 L1653.46,778.08 L1653.96,781.29 L1654.47,784.19 L1654.98,786.81 L1655.49,789.17 L1655.99,791.28 L1656.5,793.17 L1657.01,794.85 L1657.51,796.34 L1658.02,797.66 L1658.53,798.82 L1659.04,799.84 L1659.54,800.73 L1660.05,801.5 L1660.56,802.17 L1661.07,802.76 L1661.57,803.26 L1662.08,803.69 L1662.59,804.06 L1663.09,804.38 L1663.6,804.64 L1664.11,804.87 L1664.62,805.06 L1665.12,805.23 L1665.63,805.36 L1666.14,805.48 L1666.65,805.57 L1667.15,805.65 L1667.66,805.71 L1668.17,805.77 L1668.67,805.81 L1669.18,805.85 L1669.69,805.88 L1669.69,806 Z" fill="#f40000"/>
<path d="M1686.43,806 L1686.43,806 L1686.94,806 L1687.44,806 L1687.95,806 L1688.46,805.99 L1688.97,805.99 L1689.47,805.99 L1689.98,805.99 L1690.49,805.99 L1691,805.99 L1691.5,805.99 L1692.01,805.99 L1692.52,805.98 L1693.02,805.98 L1693.53,805.98 L1694.04,805.97 L1694.55,805.97 L1695.05,805.97 L1695.56,805.96 L1696.07,805.96 L1696.58,805.95 L1697.08,805.94 L1697.59,805.94 L1698.1,805.93 L1698.6,805.92 L1699.11,805.91 L1699.62,805.9 L1700.13,805.88 L1700.63,805.87 L1701.14,805.85 L1701.65,805.84 L1702.16,805.82 L1702.66,805.79 L1703.17,805.77 L1703.68,805.75 L1704.18,805.72 L1704.69,805.69 L1705.2,805.65 L1705.71,805.62 L1706.21,805.58 L1706.72,805.54 L1707.23,805.49 L1707.74,805.44 L1708.24,805.39 L1708.75,805.33 L1709.26,805.27 L1709.76,805.2 L1710.27,805.13 L1710.78,805.06 L1711.29,804.98 L1711.79,804.89 L1712.3,804.8 L1712.81,804.71 L1713.32,804.61 L1713.82,804.5 L1714.33,804.39 L1714.84,804.27 L1715.34,804.15 L1715.85,804.02 L1716.36,803.88 L1716.87,803.74 L1717.37,803.6 L1717.88,803.45 L1718.39,803.29 L1718.9,803.13 L1719.4,802.97 L1719.91,802.8 L1720.42,802.62 L1720.92,802.45 L1721.43,802.26 L1721.94,802.08 L1722.45,801.89 L1722.95,801.71 L1723.46,801.52 L1723.97,801.33 L1724.48,801.14 L1724.98,800.95 L1725.49,800.76 L1726,800.57 L1726.5,800.38 L1727.01,800.2 L1727.52,800.02 L1728.03,799.85 L1728.53,799.68 L1729.04,799.51 L1729.55,799.35 L1730.06,799.2 L1730.56,799.06 L1731.07,798.93 L1731.58,798.8 L1732.08,798.68 L1732.59,798.58 L1733.1,798.48 L1733.61,798.4 L1734.11,798.33 L1734.62,798.26 L1735.13,798.21 L1735.64,798.18 L1736.14,798.15 L1736.65,798.14 L1737.16,798.14 L1737.66,798.15 L1738.17,798.18 L1738.68,798.21 L1739.19,798.26 L1739.69,798.33 L1740.2,798.4 L1740.71,798.48 L1741.22,798.58 L1741.72,798.68 L1742.23,798.8 L1742.74,798.93 L1743.25,799.06 L1743.75,799.2 L1744.26,799.35 L1744.77,799.51 L1745.27,799.68 L1745.78,799.85 L1746.29,800.02 L1746.8,800.2 L1747.3,800.38 L1747.81,800.57 L1748.32,800.76 L1748.83,800.95 L1749.33,801.14 L1749.84,801.33 L1750.35,801.52 L1750.85,801.71 L1751.36,801.89 L1751.87,802.08 L1752.38,802.26 L1752.88,802.45 L1753.39,802.62 L1753.9,802.8 L1754.41,802.97 L1754.91,803.13 L1755.42,803.29 L1755.93,803.45 L1756.43,803.6 L1756.94,803.74 L1757.45,803.88 L1757.96,804.02 L1758.46,804.15 L1758.97,804.27 L1759.48,804.39 L1759.99,804.5 L1760.49,804.61 L1761,804.71 L1761.51,804.8 L1762.01,804.89 L1762.52,804.98 L1763.03,805.06 L1763.54,805.13 L1764.04,805.2 L1764.55,805.27 L1765.06,805.33 L1765.57,805.39 L1766.07,805.44 L1766.58,805.49 L1767.09,805.54 L1767.59,805.58 L1768.1,805.62 L1768.61,805.65 L1769.12,805.69 L1769.62,805.72 L1770.13,805.75 L1770.64,805.77 L1771.15,805.79 L1771.65,805.82 L1772.16,805.84 L1772.67,805.85 L1773.17,805.87 L1773.68,805.88 L1774.19,805.9 L1774.7,805.91 L1775.2,805.92 L1775.71,805.93 L1776.22,805.94 L1776.73,805.94 L1777.23,805.95 L1777.74,805.96 L1778.25,805.96 L1778.75,805.97 L1779.26,805.97 L1779.77,805.97 L1780.28,805.98 L1780.78,805.98 L1781.29,805.98 L1781.8,805.99 L1782.31,805.99 L1782.81,805.99 L1783.32,805.99 L1783.83,805.99 L1784.33,805.99 L1784.84,805.99 L1785.35,805.99 L1785.86,806 L1786.36,806 L1786.87,806 L1787.38,806 L1787.38,806 Z" fill="#f40000"/>
<g clip-path="url(#sp7)"><rect x="1597.15" y="606" width="190.48" height="200" fill="url(#hb)"/></g>
<g clip-path="url(#sp7)"><g clip-path="url(#rp7)"><rect x="1597.15" y="606" width="190.48" height="200" fill="url(#hk)"/></g></g>
<polyline points="1597.15,805.9 1597.66,805.87 1598.16,805.84 1598.67,805.81 1599.18,805.76 1599.68,805.71 1600.19,805.64 1600.7,805.56 1601.21,805.46 1601.71,805.34 1602.22,805.21 1602.73,805.04 1603.24,804.84 1603.74,804.61 1604.25,804.33 1604.76,804.01 1605.27,803.63 1605.77,803.19 1606.28,802.67 1606.79,802.07 1607.29,801.38 1607.8,800.59 1608.31,799.68 1608.82,798.63 1609.32,797.44 1609.83,796.09 1610.34,794.56 1610.85,792.84 1611.35,790.9 1611.86,788.73 1612.37,786.31 1612.87,783.62 1613.38,780.64 1613.89,777.35 1614.4,773.74 1614.9,769.78 1615.41,765.27 1615.92,760.17 1616.43,754.62 1616.93,748.62 1617.44,742.16 1617.95,735.23 1618.45,727.85 1618.96,720.01 1619.47,711.72 1619.98,703.01 1620.48,693.89 1620.99,684.4 1621.5,674.55 1622.01,664.4 1622.51,653.98 1623.02,643.34 1623.53,632.53 1624.03,621.62 1624.54,610.66 1625.05,599.72 1625.56,588.87 1626.06,578.19 1626.57,567.74 1627.08,557.6 1627.59,547.84 1628.09,538.55 1628.6,529.79 1629.11,521.63 1629.61,514.14 1630.12,507.37 1630.63,501.29 1631.14,495.83 1631.64,491.1 1632.15,487.12 1632.66,483.94 1633.17,481.59 1633.67,480.07 1634.18,479.41 1634.69,479.62 1635.19,480.68 1635.7,482.59 1636.21,485.33 1636.72,488.88 1637.22,493.2 1637.73,498.27 1638.24,504.03 1638.75,510.45 1639.25,517.45 1639.76,525 1640.27,533.02 1640.77,541.47 1641.28,550.27 1641.79,559.36 1642.3,568.67 1642.8,578.15 1643.31,587.75 1643.82,597.27 1644.33,606.56 1644.83,615.58 1645.34,624.29 1645.85,632.67 1646.35,640.69 1646.86,648.34 1647.37,655.61 1647.88,662.5 1648.38,669.01 1648.89,675.16 1649.4,680.95 1649.91,686.4 1650.41,691.52 1650.92,696.33 1651.43,700.85 1651.93,705.09 1652.44,709.5 1652.95,713.57 1653.46,717.32 1653.96,720.75 1654.47,723.9 1654.98,726.76 1655.49,729.37 1655.99,731.74 1656.5,733.89 1657.01,735.83 1657.51,737.57 1658.02,739.14 1658.53,740.55 1659.04,741.8 1659.54,742.92 1660.05,743.91 1660.56,744.78 1661.07,745.55 1661.57,746.22 1662.08,746.8 1662.59,747.3 1663.09,747.73 1663.6,748.13 1664.11,748.57 1664.62,748.99 1665.12,749.4 1665.63,749.82 1666.14,750.24 1666.65,750.66 1667.15,751.09 1667.66,751.52 1668.17,751.96 1668.67,752.41 1669.18,752.85 1669.69,753.31 1670.2,753.76 1670.7,754.21 1671.21,754.66 1671.72,755.11 1672.23,755.55 1672.73,755.98 1673.24,756.4 1673.75,756.8 1674.26,757.19 1674.76,757.56 1675.27,757.91 1675.78,758.24 1676.28,758.54 1676.79,758.82 1677.3,759.07 1677.81,759.3 1678.31,759.49 1678.82,759.64 1679.33,759.76 1679.84,759.9 1680.34,760.06 1680.85,760.23 1681.36,760.42 1681.86,760.62 1682.37,760.84 1682.88,761.07 1683.39,761.31 1683.89,761.56 1684.4,761.81 1684.91,762.08 1685.42,762.35 1685.92,762.62 1686.43,762.89 1686.94,763.16 1687.44,763.43 1687.95,763.69 1688.46,763.94 1688.97,764.19 1689.47,764.43 1689.98,764.66 1690.49,764.88 1691,765.08 1691.5,765.26 1692.01,765.43 1692.52,765.59 1693.02,765.73 1693.53,765.85 1694.04,765.91 1694.55,765.94 1695.05,765.97 1695.56,766.01 1696.07,766.04 1696.58,766.09 1697.08,766.13 1697.59,766.18 1698.1,766.23 1698.6,766.28 1699.11,766.34 1699.62,766.39 1700.13,766.44 1700.63,766.49 1701.14,766.54 1701.65,766.59 1702.16,766.63 1702.66,766.67 1703.17,766.7 1703.68,766.73 1704.18,766.75 1704.69,766.76 1705.2,766.77 1705.71,766.77 1706.21,766.76 1706.72,766.77 1707.23,766.82 1707.74,766.87 1708.24,766.94 1708.75,767.01 1709.26,767.1 1709.76,767.19 1710.27,767.29 1710.78,767.39 1711.29,767.49 1711.79,767.6 1712.3,767.7 1712.81,767.8 1713.32,767.9 1713.82,767.98 1714.33,768.06 1714.84,768.13 1715.34,768.18 1715.85,768.22 1716.36,768.24 1716.87,768.25 1717.37,768.24 1717.88,768.21 1718.39,768.16 1718.9,768.09 1719.4,768.04 1719.91,768.04 1720.42,768.07 1720.92,768.11 1721.43,768.17 1721.94,768.25 1722.45,768.35 1722.95,768.46 1723.46,768.59 1723.97,768.74 1724.48,768.9 1724.98,769.07 1725.49,769.25 1726,769.44 1726.5,769.63 1727.01,769.83 1727.52,770.03 1728.03,770.23 1728.53,770.43 1729.04,770.62 1729.55,770.81 1730.06,771 1730.56,771.18 1731.07,771.35 1731.58,771.5 1732.08,771.65 1732.59,771.79 1733.1,771.91 1733.61,772.02 1734.11,772.12 1734.62,772.25 1735.13,772.44 1735.64,772.68 1736.14,772.98 1736.65,773.32 1737.16,773.71 1737.66,774.15 1738.17,774.62 1738.68,775.13 1739.19,775.67 1739.69,776.24 1740.2,776.83 1740.71,777.43 1741.22,778.05 1741.72,778.67 1742.23,779.29 1742.74,779.91 1743.25,780.51 1743.75,781.11 1744.26,781.68 1744.77,782.22 1745.27,782.75 1745.78,783.24 1746.29,783.69 1746.8,784.11 1747.3,784.54 1747.81,785.03 1748.32,785.57 1748.83,786.16 1749.33,786.79 1749.84,787.47 1750.35,788.19 1750.85,788.94 1751.36,789.71 1751.87,790.51 1752.38,791.33 1752.88,792.16 1753.39,792.98 1753.9,793.81 1754.41,794.62 1754.91,795.42 1755.42,796.2 1755.93,796.94 1756.43,797.65 1756.94,798.32 1757.45,798.95 1757.96,799.53 1758.46,800.06 1758.97,800.54 1759.48,800.96 1759.99,801.26 1760.49,801.51 1761,801.79 1761.51,802.1 1762.01,802.43 1762.52,802.77 1763.03,803.13 1763.54,803.48 1764.04,803.84 1764.55,804.18 1765.06,804.5 1765.57,804.79 1766.07,805.06 1766.58,805.29 1767.09,805.48 1767.59,805.58 1768.1,805.62 1768.61,805.65 1769.12,805.69 1769.62,805.72 1770.13,805.75 1770.64,805.77 1771.15,805.79 1771.65,805.82 1772.16,805.84 1772.67,805.85 1773.17,805.87 1773.68,805.88 1774.19,805.9 1774.7,805.91 1775.2,805.92 1775.71,805.93 1776.22,805.94 1776.73,805.94 1777.23,805.95 1777.74,805.96 1778.25,805.96 1778.75,805.97 1779.26,805.97 1779.77,805.97 1780.28,805.98 1780.78,805.98 1781.29,805.98 1781.8,805.99 1782.31,805.99 1782.81,805.99 1783.32,805.99 1783.83,805.99 1784.33,805.99 1784.84,805.99 1785.35,805.99 1785.86,806 1786.36,806 1786.87,806 1787.38,806" fill="none" stroke="#bdbdbd" stroke-width="1.1"/>
<polyline points="1584.72,806 1589.79,803.97 1594.87,800.17 1598.67,792.56 1602.48,779.88 1606.28,754.51 1610.08,716.47 1613.89,673.35 1617.69,627.69 1620.23,589.65 1622.77,556.67 1624.03,551.6 1625.81,559.21 1627.84,554.14 1629.87,526.24 1631.64,519.89 1632.91,518.63 1634.94,526.24 1636.72,533.84 1638.49,531.31 1640.52,571.89 1643.06,592.18 1645.59,615.01 1648.13,640.37 1650.67,665.74 1653.2,691.1 1655.74,703.78 1658.28,719 1659.54,725.34 1661.32,726.61 1663.35,741.83 1665.88,751.97 1669.69,753.24 1673.49,764.66 1677.3,760.85 1681.1,762.12 1683.64,759.58 1686.18,764.66 1688.71,757.05 1691.25,765.92 1695.05,765.92 1698.86,767.19 1702.66,765.92 1705.2,763.39 1707.74,758.32 1710.27,760.85 1712.81,758.32 1715.34,764.66 1717.88,759.58 1720.42,762.12 1724.22,764.66 1728.03,772.27 1731.83,776.07 1736.9,782.41 1741.98,786.22 1747.05,791.29 1752.12,792.56 1757.2,796.36 1762.27,801.43 1767.34,803.97 1774.95,805.24 1785.1,806" fill="none" stroke="#111" stroke-width="1.6" stroke-linejoin="round"/>
<path d="M1633.67,808.2 L1627.77,818 L1639.57,818 Z" fill="#000"/>
<line x1="242.3" y1="96" x2="242.3" y2="816" stroke="#000" stroke-width="2.8"/>
<path d="M242.3,83 L232.8,100.5 L251.8,100.5 Z" fill="#000"/>
<line x1="236.3" y1="405.86" x2="242.3" y2="405.86" stroke="#111" stroke-width="1.5"/>
<line x1="236.3" y1="388.92" x2="242.3" y2="388.92" stroke="#111" stroke-width="1.5"/>
<line x1="236.3" y1="371.98" x2="242.3" y2="371.98" stroke="#111" stroke-width="1.5"/>
<line x1="236.3" y1="355.04" x2="242.3" y2="355.04" stroke="#111" stroke-width="1.5"/>
<line x1="230.3" y1="338.1" x2="242.3" y2="338.1" stroke="#111" stroke-width="1.5"/>
<line x1="236.3" y1="321.16" x2="242.3" y2="321.16" stroke="#111" stroke-width="1.5"/>
<line x1="236.3" y1="304.22" x2="242.3" y2="304.22" stroke="#111" stroke-width="1.5"/>
<line x1="236.3" y1="287.28" x2="242.3" y2="287.28" stroke="#111" stroke-width="1.5"/>
<line x1="236.3" y1="270.34" x2="242.3" y2="270.34" stroke="#111" stroke-width="1.5"/>
<line x1="230.3" y1="253.4" x2="242.3" y2="253.4" stroke="#111" stroke-width="1.5"/>
<line x1="236.3" y1="236.46" x2="242.3" y2="236.46" stroke="#111" stroke-width="1.5"/>
<line x1="236.3" y1="219.52" x2="242.3" y2="219.52" stroke="#111" stroke-width="1.5"/>
<line x1="236.3" y1="202.58" x2="242.3" y2="202.58" stroke="#111" stroke-width="1.5"/>
<line x1="236.3" y1="185.64" x2="242.3" y2="185.64" stroke="#111" stroke-width="1.5"/>
<line x1="230.3" y1="168.7" x2="242.3" y2="168.7" stroke="#111" stroke-width="1.5"/>
<line x1="236.3" y1="151.76" x2="242.3" y2="151.76" stroke="#111" stroke-width="1.5"/>
<line x1="236.3" y1="134.82" x2="242.3" y2="134.82" stroke="#111" stroke-width="1.5"/>
<line x1="236.3" y1="117.88" x2="242.3" y2="117.88" stroke="#111" stroke-width="1.5"/>
<line x1="236.3" y1="100.94" x2="242.3" y2="100.94" stroke="#111" stroke-width="1.5"/>
<text transform="translate(230.7,422.8) rotate(-90)" font-size="10.8" fill="#2a2a2a" stroke="#2a2a2a" stroke-width="0.3" text-anchor="middle">0</text>
<text transform="translate(230.7,338.1) rotate(-90)" font-size="10.8" fill="#2a2a2a" stroke="#2a2a2a" stroke-width="0.3" text-anchor="middle">200</text>
<text transform="translate(230.7,253.4) rotate(-90)" font-size="10.8" fill="#2a2a2a" stroke="#2a2a2a" stroke-width="0.3" text-anchor="middle">400</text>
<text transform="translate(230.7,168.7) rotate(-90)" font-size="10.8" fill="#2a2a2a" stroke="#2a2a2a" stroke-width="0.3" text-anchor="middle">600</text>
<line x1="229.8" y1="422.8" x2="625.1" y2="422.8" stroke="#111" stroke-width="1.8"/>
<line x1="625.1" y1="422.8" x2="625.1" y2="432.8" stroke="#111" stroke-width="1.6"/>
<line x1="257.61" y1="422.8" x2="257.61" y2="428" stroke="#111" stroke-width="1.5"/>
<line x1="272.92" y1="422.8" x2="272.92" y2="428" stroke="#111" stroke-width="1.5"/>
<line x1="288.24" y1="422.8" x2="288.24" y2="428" stroke="#111" stroke-width="1.5"/>
<line x1="303.55" y1="422.8" x2="303.55" y2="428" stroke="#111" stroke-width="1.5"/>
<line x1="318.86" y1="422.8" x2="318.86" y2="433.3" stroke="#111" stroke-width="1.5"/>
<line x1="334.17" y1="422.8" x2="334.17" y2="428" stroke="#111" stroke-width="1.5"/>
<line x1="349.48" y1="422.8" x2="349.48" y2="428" stroke="#111" stroke-width="1.5"/>
<line x1="364.8" y1="422.8" x2="364.8" y2="428" stroke="#111" stroke-width="1.5"/>
<line x1="380.11" y1="422.8" x2="380.11" y2="428" stroke="#111" stroke-width="1.5"/>
<line x1="395.42" y1="422.8" x2="395.42" y2="433.3" stroke="#111" stroke-width="1.5"/>
<line x1="410.73" y1="422.8" x2="410.73" y2="428" stroke="#111" stroke-width="1.5"/>
<line x1="426.04" y1="422.8" x2="426.04" y2="428" stroke="#111" stroke-width="1.5"/>
<line x1="441.36" y1="422.8" x2="441.36" y2="428" stroke="#111" stroke-width="1.5"/>
<line x1="456.67" y1="422.8" x2="456.67" y2="428" stroke="#111" stroke-width="1.5"/>
<line x1="471.98" y1="422.8" x2="471.98" y2="433.3" stroke="#111" stroke-width="1.5"/>
<line x1="487.29" y1="422.8" x2="487.29" y2="428" stroke="#111" stroke-width="1.5"/>
<line x1="502.6" y1="422.8" x2="502.6" y2="428" stroke="#111" stroke-width="1.5"/>
<line x1="517.92" y1="422.8" x2="517.92" y2="428" stroke="#111" stroke-width="1.5"/>
<line x1="533.23" y1="422.8" x2="533.23" y2="428" stroke="#111" stroke-width="1.5"/>
<line x1="548.54" y1="422.8" x2="548.54" y2="433.3" stroke="#111" stroke-width="1.5"/>
<line x1="563.85" y1="422.8" x2="563.85" y2="428" stroke="#111" stroke-width="1.5"/>
<line x1="579.16" y1="422.8" x2="579.16" y2="428" stroke="#111" stroke-width="1.5"/>
<line x1="594.48" y1="422.8" x2="594.48" y2="428" stroke="#111" stroke-width="1.5"/>
<line x1="609.79" y1="422.8" x2="609.79" y2="428" stroke="#111" stroke-width="1.5"/>
<text x="242.3" y="443.8" font-size="10.8" fill="#2a2a2a" stroke="#2a2a2a" stroke-width="0.35" text-anchor="middle">0</text>
<text x="318.86" y="443.8" font-size="10.8" fill="#2a2a2a" stroke="#2a2a2a" stroke-width="0.35" text-anchor="middle">30</text>
<text x="395.42" y="443.8" font-size="10.8" fill="#2a2a2a" stroke="#2a2a2a" stroke-width="0.35" text-anchor="middle">60</text>
<text x="471.98" y="443.8" font-size="10.8" fill="#2a2a2a" stroke="#2a2a2a" stroke-width="0.35" text-anchor="middle">90</text>
<text x="548.54" y="443.8" font-size="10.8" fill="#2a2a2a" stroke="#2a2a2a" stroke-width="0.35" text-anchor="middle">120</text>
<text x="625.1" y="443.8" font-size="10.8" fill="#2a2a2a" stroke="#2a2a2a" stroke-width="0.35" text-anchor="middle">150</text>
<line x1="655.6" y1="84.7" x2="655.6" y2="432.8" stroke="#111" stroke-width="1.6"/>
<line x1="649.6" y1="405.86" x2="655.6" y2="405.86" stroke="#111" stroke-width="1.5"/>
<line x1="649.6" y1="388.92" x2="655.6" y2="388.92" stroke="#111" stroke-width="1.5"/>
<line x1="649.6" y1="371.98" x2="655.6" y2="371.98" stroke="#111" stroke-width="1.5"/>
<line x1="649.6" y1="355.04" x2="655.6" y2="355.04" stroke="#111" stroke-width="1.5"/>
<line x1="643.6" y1="338.1" x2="655.6" y2="338.1" stroke="#111" stroke-width="1.5"/>
<line x1="649.6" y1="321.16" x2="655.6" y2="321.16" stroke="#111" stroke-width="1.5"/>
<line x1="649.6" y1="304.22" x2="655.6" y2="304.22" stroke="#111" stroke-width="1.5"/>
<line x1="649.6" y1="287.28" x2="655.6" y2="287.28" stroke="#111" stroke-width="1.5"/>
<line x1="649.6" y1="270.34" x2="655.6" y2="270.34" stroke="#111" stroke-width="1.5"/>
<line x1="643.6" y1="253.4" x2="655.6" y2="253.4" stroke="#111" stroke-width="1.5"/>
<line x1="649.6" y1="236.46" x2="655.6" y2="236.46" stroke="#111" stroke-width="1.5"/>
<line x1="649.6" y1="219.52" x2="655.6" y2="219.52" stroke="#111" stroke-width="1.5"/>
<line x1="649.6" y1="202.58" x2="655.6" y2="202.58" stroke="#111" stroke-width="1.5"/>
<line x1="649.6" y1="185.64" x2="655.6" y2="185.64" stroke="#111" stroke-width="1.5"/>
<line x1="643.6" y1="168.7" x2="655.6" y2="168.7" stroke="#111" stroke-width="1.5"/>
<line x1="649.6" y1="151.76" x2="655.6" y2="151.76" stroke="#111" stroke-width="1.5"/>
<line x1="649.6" y1="134.82" x2="655.6" y2="134.82" stroke="#111" stroke-width="1.5"/>
<line x1="649.6" y1="117.88" x2="655.6" y2="117.88" stroke="#111" stroke-width="1.5"/>
<line x1="649.6" y1="100.94" x2="655.6" y2="100.94" stroke="#111" stroke-width="1.5"/>
<text transform="translate(644,422.8) rotate(-90)" font-size="10.8" fill="#2a2a2a" stroke="#2a2a2a" stroke-width="0.3" text-anchor="middle">0</text>
<text transform="translate(644,338.1) rotate(-90)" font-size="10.8" fill="#2a2a2a" stroke="#2a2a2a" stroke-width="0.3" text-anchor="middle">200</text>
<text transform="translate(644,253.4) rotate(-90)" font-size="10.8" fill="#2a2a2a" stroke="#2a2a2a" stroke-width="0.3" text-anchor="middle">400</text>
<text transform="translate(644,168.7) rotate(-90)" font-size="10.8" fill="#2a2a2a" stroke="#2a2a2a" stroke-width="0.3" text-anchor="middle">600</text>
<line x1="643.1" y1="422.8" x2="1039.6" y2="422.8" stroke="#111" stroke-width="1.8"/>
<line x1="1039.6" y1="422.8" x2="1039.6" y2="432.8" stroke="#111" stroke-width="1.6"/>
<line x1="670.96" y1="422.8" x2="670.96" y2="428" stroke="#111" stroke-width="1.5"/>
<line x1="686.32" y1="422.8" x2="686.32" y2="428" stroke="#111" stroke-width="1.5"/>
<line x1="701.68" y1="422.8" x2="701.68" y2="428" stroke="#111" stroke-width="1.5"/>
<line x1="717.04" y1="422.8" x2="717.04" y2="428" stroke="#111" stroke-width="1.5"/>
<line x1="732.4" y1="422.8" x2="732.4" y2="433.3" stroke="#111" stroke-width="1.5"/>
<line x1="747.76" y1="422.8" x2="747.76" y2="428" stroke="#111" stroke-width="1.5"/>
<line x1="763.12" y1="422.8" x2="763.12" y2="428" stroke="#111" stroke-width="1.5"/>
<line x1="778.48" y1="422.8" x2="778.48" y2="428" stroke="#111" stroke-width="1.5"/>
<line x1="793.84" y1="422.8" x2="793.84" y2="428" stroke="#111" stroke-width="1.5"/>
<line x1="809.2" y1="422.8" x2="809.2" y2="433.3" stroke="#111" stroke-width="1.5"/>
<line x1="824.56" y1="422.8" x2="824.56" y2="428" stroke="#111" stroke-width="1.5"/>
<line x1="839.92" y1="422.8" x2="839.92" y2="428" stroke="#111" stroke-width="1.5"/>
<line x1="855.28" y1="422.8" x2="855.28" y2="428" stroke="#111" stroke-width="1.5"/>
<line x1="870.64" y1="422.8" x2="870.64" y2="428" stroke="#111" stroke-width="1.5"/>
<line x1="886" y1="422.8" x2="886" y2="433.3" stroke="#111" stroke-width="1.5"/>
<line x1="901.36" y1="422.8" x2="901.36" y2="428" stroke="#111" stroke-width="1.5"/>
<line x1="916.72" y1="422.8" x2="916.72" y2="428" stroke="#111" stroke-width="1.5"/>
<line x1="932.08" y1="422.8" x2="932.08" y2="428" stroke="#111" stroke-width="1.5"/>
<line x1="947.44" y1="422.8" x2="947.44" y2="428" stroke="#111" stroke-width="1.5"/>
<line x1="962.8" y1="422.8" x2="962.8" y2="433.3" stroke="#111" stroke-width="1.5"/>
<line x1="978.16" y1="422.8" x2="978.16" y2="428" stroke="#111" stroke-width="1.5"/>
<line x1="993.52" y1="422.8" x2="993.52" y2="428" stroke="#111" stroke-width="1.5"/>
<line x1="1008.88" y1="422.8" x2="1008.88" y2="428" stroke="#111" stroke-width="1.5"/>
<line x1="1024.24" y1="422.8" x2="1024.24" y2="428" stroke="#111" stroke-width="1.5"/>
<text x="655.6" y="443.8" font-size="10.8" fill="#2a2a2a" stroke="#2a2a2a" stroke-width="0.35" text-anchor="middle">0</text>
<text x="732.4" y="443.8" font-size="10.8" fill="#2a2a2a" stroke="#2a2a2a" stroke-width="0.35" text-anchor="middle">30</text>
<text x="809.2" y="443.8" font-size="10.8" fill="#2a2a2a" stroke="#2a2a2a" stroke-width="0.35" text-anchor="middle">60</text>
<text x="886" y="443.8" font-size="10.8" fill="#2a2a2a" stroke="#2a2a2a" stroke-width="0.35" text-anchor="middle">90</text>
<text x="962.8" y="443.8" font-size="10.8" fill="#2a2a2a" stroke="#2a2a2a" stroke-width="0.35" text-anchor="middle">120</text>
<text x="1039.6" y="443.8" font-size="10.8" fill="#2a2a2a" stroke="#2a2a2a" stroke-width="0.35" text-anchor="middle">150</text>
<line x1="1072.7" y1="84.7" x2="1072.7" y2="432.8" stroke="#111" stroke-width="1.6"/>
<line x1="1066.7" y1="405.86" x2="1072.7" y2="405.86" stroke="#111" stroke-width="1.5"/>
<line x1="1066.7" y1="388.92" x2="1072.7" y2="388.92" stroke="#111" stroke-width="1.5"/>
<line x1="1066.7" y1="371.98" x2="1072.7" y2="371.98" stroke="#111" stroke-width="1.5"/>
<line x1="1066.7" y1="355.04" x2="1072.7" y2="355.04" stroke="#111" stroke-width="1.5"/>
<line x1="1060.7" y1="338.1" x2="1072.7" y2="338.1" stroke="#111" stroke-width="1.5"/>
<line x1="1066.7" y1="321.16" x2="1072.7" y2="321.16" stroke="#111" stroke-width="1.5"/>
<line x1="1066.7" y1="304.22" x2="1072.7" y2="304.22" stroke="#111" stroke-width="1.5"/>
<line x1="1066.7" y1="287.28" x2="1072.7" y2="287.28" stroke="#111" stroke-width="1.5"/>
<line x1="1066.7" y1="270.34" x2="1072.7" y2="270.34" stroke="#111" stroke-width="1.5"/>
<line x1="1060.7" y1="253.4" x2="1072.7" y2="253.4" stroke="#111" stroke-width="1.5"/>
<line x1="1066.7" y1="236.46" x2="1072.7" y2="236.46" stroke="#111" stroke-width="1.5"/>
<line x1="1066.7" y1="219.52" x2="1072.7" y2="219.52" stroke="#111" stroke-width="1.5"/>
<line x1="1066.7" y1="202.58" x2="1072.7" y2="202.58" stroke="#111" stroke-width="1.5"/>
<line x1="1066.7" y1="185.64" x2="1072.7" y2="185.64" stroke="#111" stroke-width="1.5"/>
<line x1="1060.7" y1="168.7" x2="1072.7" y2="168.7" stroke="#111" stroke-width="1.5"/>
<line x1="1066.7" y1="151.76" x2="1072.7" y2="151.76" stroke="#111" stroke-width="1.5"/>
<line x1="1066.7" y1="134.82" x2="1072.7" y2="134.82" stroke="#111" stroke-width="1.5"/>
<line x1="1066.7" y1="117.88" x2="1072.7" y2="117.88" stroke="#111" stroke-width="1.5"/>
<line x1="1066.7" y1="100.94" x2="1072.7" y2="100.94" stroke="#111" stroke-width="1.5"/>
<text transform="translate(1061.1,422.8) rotate(-90)" font-size="10.8" fill="#2a2a2a" stroke="#2a2a2a" stroke-width="0.3" text-anchor="middle">0</text>
<text transform="translate(1061.1,338.1) rotate(-90)" font-size="10.8" fill="#2a2a2a" stroke="#2a2a2a" stroke-width="0.3" text-anchor="middle">200</text>
<text transform="translate(1061.1,253.4) rotate(-90)" font-size="10.8" fill="#2a2a2a" stroke="#2a2a2a" stroke-width="0.3" text-anchor="middle">400</text>
<text transform="translate(1061.1,168.7) rotate(-90)" font-size="10.8" fill="#2a2a2a" stroke="#2a2a2a" stroke-width="0.3" text-anchor="middle">600</text>
<line x1="1060.2" y1="422.8" x2="1456.4" y2="422.8" stroke="#111" stroke-width="1.8"/>
<line x1="1456.4" y1="422.8" x2="1456.4" y2="432.8" stroke="#111" stroke-width="1.6"/>
<line x1="1088.05" y1="422.8" x2="1088.05" y2="428" stroke="#111" stroke-width="1.5"/>
<line x1="1103.4" y1="422.8" x2="1103.4" y2="428" stroke="#111" stroke-width="1.5"/>
<line x1="1118.74" y1="422.8" x2="1118.74" y2="428" stroke="#111" stroke-width="1.5"/>
<line x1="1134.09" y1="422.8" x2="1134.09" y2="428" stroke="#111" stroke-width="1.5"/>
<line x1="1149.44" y1="422.8" x2="1149.44" y2="433.3" stroke="#111" stroke-width="1.5"/>
<line x1="1164.79" y1="422.8" x2="1164.79" y2="428" stroke="#111" stroke-width="1.5"/>
<line x1="1180.14" y1="422.8" x2="1180.14" y2="428" stroke="#111" stroke-width="1.5"/>
<line x1="1195.48" y1="422.8" x2="1195.48" y2="428" stroke="#111" stroke-width="1.5"/>
<line x1="1210.83" y1="422.8" x2="1210.83" y2="428" stroke="#111" stroke-width="1.5"/>
<line x1="1226.18" y1="422.8" x2="1226.18" y2="433.3" stroke="#111" stroke-width="1.5"/>
<line x1="1241.53" y1="422.8" x2="1241.53" y2="428" stroke="#111" stroke-width="1.5"/>
<line x1="1256.88" y1="422.8" x2="1256.88" y2="428" stroke="#111" stroke-width="1.5"/>
<line x1="1272.22" y1="422.8" x2="1272.22" y2="428" stroke="#111" stroke-width="1.5"/>
<line x1="1287.57" y1="422.8" x2="1287.57" y2="428" stroke="#111" stroke-width="1.5"/>
<line x1="1302.92" y1="422.8" x2="1302.92" y2="433.3" stroke="#111" stroke-width="1.5"/>
<line x1="1318.27" y1="422.8" x2="1318.27" y2="428" stroke="#111" stroke-width="1.5"/>
<line x1="1333.62" y1="422.8" x2="1333.62" y2="428" stroke="#111" stroke-width="1.5"/>
<line x1="1348.96" y1="422.8" x2="1348.96" y2="428" stroke="#111" stroke-width="1.5"/>
<line x1="1364.31" y1="422.8" x2="1364.31" y2="428" stroke="#111" stroke-width="1.5"/>
<line x1="1379.66" y1="422.8" x2="1379.66" y2="433.3" stroke="#111" stroke-width="1.5"/>
<line x1="1395.01" y1="422.8" x2="1395.01" y2="428" stroke="#111" stroke-width="1.5"/>
<line x1="1410.36" y1="422.8" x2="1410.36" y2="428" stroke="#111" stroke-width="1.5"/>
<line x1="1425.7" y1="422.8" x2="1425.7" y2="428" stroke="#111" stroke-width="1.5"/>
<line x1="1441.05" y1="422.8" x2="1441.05" y2="428" stroke="#111" stroke-width="1.5"/>
<text x="1072.7" y="443.8" font-size="10.8" fill="#2a2a2a" stroke="#2a2a2a" stroke-width="0.35" text-anchor="middle">0</text>
<text x="1149.44" y="443.8" font-size="10.8" fill="#2a2a2a" stroke="#2a2a2a" stroke-width="0.35" text-anchor="middle">30</text>
<text x="1226.18" y="443.8" font-size="10.8" fill="#2a2a2a" stroke="#2a2a2a" stroke-width="0.35" text-anchor="middle">60</text>
<text x="1302.92" y="443.8" font-size="10.8" fill="#2a2a2a" stroke="#2a2a2a" stroke-width="0.35" text-anchor="middle">90</text>
<text x="1379.66" y="443.8" font-size="10.8" fill="#2a2a2a" stroke="#2a2a2a" stroke-width="0.35" text-anchor="middle">120</text>
<text x="1456.4" y="443.8" font-size="10.8" fill="#2a2a2a" stroke="#2a2a2a" stroke-width="0.35" text-anchor="middle">150</text>
<line x1="1486.3" y1="84.7" x2="1486.3" y2="432.8" stroke="#111" stroke-width="1.6"/>
<line x1="1480.3" y1="405.86" x2="1486.3" y2="405.86" stroke="#111" stroke-width="1.5"/>
<line x1="1480.3" y1="388.92" x2="1486.3" y2="388.92" stroke="#111" stroke-width="1.5"/>
<line x1="1480.3" y1="371.98" x2="1486.3" y2="371.98" stroke="#111" stroke-width="1.5"/>
<line x1="1480.3" y1="355.04" x2="1486.3" y2="355.04" stroke="#111" stroke-width="1.5"/>
<line x1="1474.3" y1="338.1" x2="1486.3" y2="338.1" stroke="#111" stroke-width="1.5"/>
<line x1="1480.3" y1="321.16" x2="1486.3" y2="321.16" stroke="#111" stroke-width="1.5"/>
<line x1="1480.3" y1="304.22" x2="1486.3" y2="304.22" stroke="#111" stroke-width="1.5"/>
<line x1="1480.3" y1="287.28" x2="1486.3" y2="287.28" stroke="#111" stroke-width="1.5"/>
<line x1="1480.3" y1="270.34" x2="1486.3" y2="270.34" stroke="#111" stroke-width="1.5"/>
<line x1="1474.3" y1="253.4" x2="1486.3" y2="253.4" stroke="#111" stroke-width="1.5"/>
<line x1="1480.3" y1="236.46" x2="1486.3" y2="236.46" stroke="#111" stroke-width="1.5"/>
<line x1="1480.3" y1="219.52" x2="1486.3" y2="219.52" stroke="#111" stroke-width="1.5"/>
<line x1="1480.3" y1="202.58" x2="1486.3" y2="202.58" stroke="#111" stroke-width="1.5"/>
<line x1="1480.3" y1="185.64" x2="1486.3" y2="185.64" stroke="#111" stroke-width="1.5"/>
<line x1="1474.3" y1="168.7" x2="1486.3" y2="168.7" stroke="#111" stroke-width="1.5"/>
<line x1="1480.3" y1="151.76" x2="1486.3" y2="151.76" stroke="#111" stroke-width="1.5"/>
<line x1="1480.3" y1="134.82" x2="1486.3" y2="134.82" stroke="#111" stroke-width="1.5"/>
<line x1="1480.3" y1="117.88" x2="1486.3" y2="117.88" stroke="#111" stroke-width="1.5"/>
<line x1="1480.3" y1="100.94" x2="1486.3" y2="100.94" stroke="#111" stroke-width="1.5"/>
<text transform="translate(1474.7,422.8) rotate(-90)" font-size="10.8" fill="#2a2a2a" stroke="#2a2a2a" stroke-width="0.3" text-anchor="middle">0</text>
<text transform="translate(1474.7,338.1) rotate(-90)" font-size="10.8" fill="#2a2a2a" stroke="#2a2a2a" stroke-width="0.3" text-anchor="middle">200</text>
<text transform="translate(1474.7,253.4) rotate(-90)" font-size="10.8" fill="#2a2a2a" stroke="#2a2a2a" stroke-width="0.3" text-anchor="middle">400</text>
<text transform="translate(1474.7,168.7) rotate(-90)" font-size="10.8" fill="#2a2a2a" stroke="#2a2a2a" stroke-width="0.3" text-anchor="middle">600</text>
<line x1="1473.8" y1="422.8" x2="1872.7" y2="422.8" stroke="#111" stroke-width="1.8"/>
<line x1="1872.7" y1="422.8" x2="1872.7" y2="432.8" stroke="#111" stroke-width="1.6"/>
<line x1="1501.76" y1="422.8" x2="1501.76" y2="428" stroke="#111" stroke-width="1.5"/>
<line x1="1517.21" y1="422.8" x2="1517.21" y2="428" stroke="#111" stroke-width="1.5"/>
<line x1="1532.67" y1="422.8" x2="1532.67" y2="428" stroke="#111" stroke-width="1.5"/>
<line x1="1548.12" y1="422.8" x2="1548.12" y2="428" stroke="#111" stroke-width="1.5"/>
<line x1="1563.58" y1="422.8" x2="1563.58" y2="433.3" stroke="#111" stroke-width="1.5"/>
<line x1="1579.04" y1="422.8" x2="1579.04" y2="428" stroke="#111" stroke-width="1.5"/>
<line x1="1594.49" y1="422.8" x2="1594.49" y2="428" stroke="#111" stroke-width="1.5"/>
<line x1="1609.95" y1="422.8" x2="1609.95" y2="428" stroke="#111" stroke-width="1.5"/>
<line x1="1625.4" y1="422.8" x2="1625.4" y2="428" stroke="#111" stroke-width="1.5"/>
<line x1="1640.86" y1="422.8" x2="1640.86" y2="433.3" stroke="#111" stroke-width="1.5"/>
<line x1="1656.32" y1="422.8" x2="1656.32" y2="428" stroke="#111" stroke-width="1.5"/>
<line x1="1671.77" y1="422.8" x2="1671.77" y2="428" stroke="#111" stroke-width="1.5"/>
<line x1="1687.23" y1="422.8" x2="1687.23" y2="428" stroke="#111" stroke-width="1.5"/>
<line x1="1702.68" y1="422.8" x2="1702.68" y2="428" stroke="#111" stroke-width="1.5"/>
<line x1="1718.14" y1="422.8" x2="1718.14" y2="433.3" stroke="#111" stroke-width="1.5"/>
<line x1="1733.6" y1="422.8" x2="1733.6" y2="428" stroke="#111" stroke-width="1.5"/>
<line x1="1749.05" y1="422.8" x2="1749.05" y2="428" stroke="#111" stroke-width="1.5"/>
<line x1="1764.51" y1="422.8" x2="1764.51" y2="428" stroke="#111" stroke-width="1.5"/>
<line x1="1779.96" y1="422.8" x2="1779.96" y2="428" stroke="#111" stroke-width="1.5"/>
<line x1="1795.42" y1="422.8" x2="1795.42" y2="433.3" stroke="#111" stroke-width="1.5"/>
<line x1="1810.88" y1="422.8" x2="1810.88" y2="428" stroke="#111" stroke-width="1.5"/>
<line x1="1826.33" y1="422.8" x2="1826.33" y2="428" stroke="#111" stroke-width="1.5"/>
<line x1="1841.79" y1="422.8" x2="1841.79" y2="428" stroke="#111" stroke-width="1.5"/>
<line x1="1857.24" y1="422.8" x2="1857.24" y2="428" stroke="#111" stroke-width="1.5"/>
<text x="1486.3" y="443.8" font-size="10.8" fill="#2a2a2a" stroke="#2a2a2a" stroke-width="0.35" text-anchor="middle">0</text>
<text x="1563.58" y="443.8" font-size="10.8" fill="#2a2a2a" stroke="#2a2a2a" stroke-width="0.35" text-anchor="middle">30</text>
<text x="1640.86" y="443.8" font-size="10.8" fill="#2a2a2a" stroke="#2a2a2a" stroke-width="0.35" text-anchor="middle">60</text>
<text x="1718.14" y="443.8" font-size="10.8" fill="#2a2a2a" stroke="#2a2a2a" stroke-width="0.35" text-anchor="middle">90</text>
<text x="1795.42" y="443.8" font-size="10.8" fill="#2a2a2a" stroke="#2a2a2a" stroke-width="0.35" text-anchor="middle">120</text>
<text x="1872.7" y="443.8" font-size="10.8" fill="#2a2a2a" stroke="#2a2a2a" stroke-width="0.35" text-anchor="middle">150</text>
<line x1="236.3" y1="789.06" x2="242.3" y2="789.06" stroke="#111" stroke-width="1.5"/>
<line x1="236.3" y1="772.12" x2="242.3" y2="772.12" stroke="#111" stroke-width="1.5"/>
<line x1="236.3" y1="755.18" x2="242.3" y2="755.18" stroke="#111" stroke-width="1.5"/>
<line x1="236.3" y1="738.24" x2="242.3" y2="738.24" stroke="#111" stroke-width="1.5"/>
<line x1="230.3" y1="721.3" x2="242.3" y2="721.3" stroke="#111" stroke-width="1.5"/>
<line x1="236.3" y1="704.36" x2="242.3" y2="704.36" stroke="#111" stroke-width="1.5"/>
<line x1="236.3" y1="687.42" x2="242.3" y2="687.42" stroke="#111" stroke-width="1.5"/>
<line x1="236.3" y1="670.48" x2="242.3" y2="670.48" stroke="#111" stroke-width="1.5"/>
<line x1="236.3" y1="653.54" x2="242.3" y2="653.54" stroke="#111" stroke-width="1.5"/>
<line x1="230.3" y1="636.6" x2="242.3" y2="636.6" stroke="#111" stroke-width="1.5"/>
<line x1="236.3" y1="619.66" x2="242.3" y2="619.66" stroke="#111" stroke-width="1.5"/>
<line x1="236.3" y1="602.72" x2="242.3" y2="602.72" stroke="#111" stroke-width="1.5"/>
<line x1="236.3" y1="585.78" x2="242.3" y2="585.78" stroke="#111" stroke-width="1.5"/>
<line x1="236.3" y1="568.84" x2="242.3" y2="568.84" stroke="#111" stroke-width="1.5"/>
<line x1="230.3" y1="551.9" x2="242.3" y2="551.9" stroke="#111" stroke-width="1.5"/>
<line x1="236.3" y1="534.96" x2="242.3" y2="534.96" stroke="#111" stroke-width="1.5"/>
<line x1="236.3" y1="518.02" x2="242.3" y2="518.02" stroke="#111" stroke-width="1.5"/>
<line x1="236.3" y1="501.08" x2="242.3" y2="501.08" stroke="#111" stroke-width="1.5"/>
<line x1="236.3" y1="484.14" x2="242.3" y2="484.14" stroke="#111" stroke-width="1.5"/>
<text transform="translate(230.7,806) rotate(-90)" font-size="10.8" fill="#2a2a2a" stroke="#2a2a2a" stroke-width="0.3" text-anchor="middle">0</text>
<text transform="translate(230.7,721.3) rotate(-90)" font-size="10.8" fill="#2a2a2a" stroke="#2a2a2a" stroke-width="0.3" text-anchor="middle">200</text>
<text transform="translate(230.7,636.6) rotate(-90)" font-size="10.8" fill="#2a2a2a" stroke="#2a2a2a" stroke-width="0.3" text-anchor="middle">400</text>
<text transform="translate(230.7,551.9) rotate(-90)" font-size="10.8" fill="#2a2a2a" stroke="#2a2a2a" stroke-width="0.3" text-anchor="middle">600</text>
<line x1="257.64" y1="806" x2="257.64" y2="811.5" stroke="#111" stroke-width="1.5"/>
<line x1="272.98" y1="806" x2="272.98" y2="811.5" stroke="#111" stroke-width="1.5"/>
<line x1="288.33" y1="806" x2="288.33" y2="811.5" stroke="#111" stroke-width="1.5"/>
<line x1="303.67" y1="806" x2="303.67" y2="811.5" stroke="#111" stroke-width="1.5"/>
<line x1="319.01" y1="806" x2="319.01" y2="814.5" stroke="#111" stroke-width="1.5"/>
<line x1="334.35" y1="806" x2="334.35" y2="811.5" stroke="#111" stroke-width="1.5"/>
<line x1="349.69" y1="806" x2="349.69" y2="811.5" stroke="#111" stroke-width="1.5"/>
<line x1="365.04" y1="806" x2="365.04" y2="811.5" stroke="#111" stroke-width="1.5"/>
<line x1="380.38" y1="806" x2="380.38" y2="811.5" stroke="#111" stroke-width="1.5"/>
<line x1="395.72" y1="806" x2="395.72" y2="814.5" stroke="#111" stroke-width="1.5"/>
<line x1="411.06" y1="806" x2="411.06" y2="811.5" stroke="#111" stroke-width="1.5"/>
<line x1="426.4" y1="806" x2="426.4" y2="811.5" stroke="#111" stroke-width="1.5"/>
<line x1="441.75" y1="806" x2="441.75" y2="811.5" stroke="#111" stroke-width="1.5"/>
<line x1="457.09" y1="806" x2="457.09" y2="811.5" stroke="#111" stroke-width="1.5"/>
<line x1="472.43" y1="806" x2="472.43" y2="814.5" stroke="#111" stroke-width="1.5"/>
<line x1="487.77" y1="806" x2="487.77" y2="811.5" stroke="#111" stroke-width="1.5"/>
<line x1="503.11" y1="806" x2="503.11" y2="811.5" stroke="#111" stroke-width="1.5"/>
<line x1="518.46" y1="806" x2="518.46" y2="811.5" stroke="#111" stroke-width="1.5"/>
<line x1="533.8" y1="806" x2="533.8" y2="811.5" stroke="#111" stroke-width="1.5"/>
<line x1="549.14" y1="806" x2="549.14" y2="814.5" stroke="#111" stroke-width="1.5"/>
<line x1="564.48" y1="806" x2="564.48" y2="811.5" stroke="#111" stroke-width="1.5"/>
<line x1="579.82" y1="806" x2="579.82" y2="811.5" stroke="#111" stroke-width="1.5"/>
<line x1="595.17" y1="806" x2="595.17" y2="811.5" stroke="#111" stroke-width="1.5"/>
<line x1="610.51" y1="806" x2="610.51" y2="811.5" stroke="#111" stroke-width="1.5"/>
<text x="242.3" y="825" font-size="10.8" fill="#2a2a2a" stroke="#2a2a2a" stroke-width="0.35" text-anchor="middle">0</text>
<text x="319.01" y="825" font-size="10.8" fill="#2a2a2a" stroke="#2a2a2a" stroke-width="0.35" text-anchor="middle">30</text>
<text x="395.72" y="825" font-size="10.8" fill="#2a2a2a" stroke="#2a2a2a" stroke-width="0.35" text-anchor="middle">60</text>
<text x="472.43" y="825" font-size="10.8" fill="#2a2a2a" stroke="#2a2a2a" stroke-width="0.35" text-anchor="middle">90</text>
<text x="549.14" y="825" font-size="10.8" fill="#2a2a2a" stroke="#2a2a2a" stroke-width="0.35" text-anchor="middle">120</text>
<text x="620" y="825" font-size="10.8" fill="#2a2a2a" stroke="#2a2a2a" stroke-width="0.35" text-anchor="middle">1</text>
<line x1="660.3" y1="466" x2="660.3" y2="816" stroke="#111" stroke-width="1.6"/>
<line x1="654.3" y1="789.06" x2="660.3" y2="789.06" stroke="#111" stroke-width="1.5"/>
<line x1="654.3" y1="772.12" x2="660.3" y2="772.12" stroke="#111" stroke-width="1.5"/>
<line x1="654.3" y1="755.18" x2="660.3" y2="755.18" stroke="#111" stroke-width="1.5"/>
<line x1="654.3" y1="738.24" x2="660.3" y2="738.24" stroke="#111" stroke-width="1.5"/>
<line x1="648.3" y1="721.3" x2="660.3" y2="721.3" stroke="#111" stroke-width="1.5"/>
<line x1="654.3" y1="704.36" x2="660.3" y2="704.36" stroke="#111" stroke-width="1.5"/>
<line x1="654.3" y1="687.42" x2="660.3" y2="687.42" stroke="#111" stroke-width="1.5"/>
<line x1="654.3" y1="670.48" x2="660.3" y2="670.48" stroke="#111" stroke-width="1.5"/>
<line x1="654.3" y1="653.54" x2="660.3" y2="653.54" stroke="#111" stroke-width="1.5"/>
<line x1="648.3" y1="636.6" x2="660.3" y2="636.6" stroke="#111" stroke-width="1.5"/>
<line x1="654.3" y1="619.66" x2="660.3" y2="619.66" stroke="#111" stroke-width="1.5"/>
<line x1="654.3" y1="602.72" x2="660.3" y2="602.72" stroke="#111" stroke-width="1.5"/>
<line x1="654.3" y1="585.78" x2="660.3" y2="585.78" stroke="#111" stroke-width="1.5"/>
<line x1="654.3" y1="568.84" x2="660.3" y2="568.84" stroke="#111" stroke-width="1.5"/>
<line x1="648.3" y1="551.9" x2="660.3" y2="551.9" stroke="#111" stroke-width="1.5"/>
<line x1="654.3" y1="534.96" x2="660.3" y2="534.96" stroke="#111" stroke-width="1.5"/>
<line x1="654.3" y1="518.02" x2="660.3" y2="518.02" stroke="#111" stroke-width="1.5"/>
<line x1="654.3" y1="501.08" x2="660.3" y2="501.08" stroke="#111" stroke-width="1.5"/>
<line x1="654.3" y1="484.14" x2="660.3" y2="484.14" stroke="#111" stroke-width="1.5"/>
<text transform="translate(648.7,806) rotate(-90)" font-size="10.8" fill="#2a2a2a" stroke="#2a2a2a" stroke-width="0.3" text-anchor="middle">0</text>
<text transform="translate(648.7,721.3) rotate(-90)" font-size="10.8" fill="#2a2a2a" stroke="#2a2a2a" stroke-width="0.3" text-anchor="middle">200</text>
<text transform="translate(648.7,636.6) rotate(-90)" font-size="10.8" fill="#2a2a2a" stroke="#2a2a2a" stroke-width="0.3" text-anchor="middle">400</text>
<text transform="translate(648.7,551.9) rotate(-90)" font-size="10.8" fill="#2a2a2a" stroke="#2a2a2a" stroke-width="0.3" text-anchor="middle">600</text>
<line x1="675.76" y1="806" x2="675.76" y2="811.5" stroke="#111" stroke-width="1.5"/>
<line x1="691.21" y1="806" x2="691.21" y2="811.5" stroke="#111" stroke-width="1.5"/>
<line x1="706.67" y1="806" x2="706.67" y2="811.5" stroke="#111" stroke-width="1.5"/>
<line x1="722.12" y1="806" x2="722.12" y2="811.5" stroke="#111" stroke-width="1.5"/>
<line x1="737.58" y1="806" x2="737.58" y2="814.5" stroke="#111" stroke-width="1.5"/>
<line x1="753.04" y1="806" x2="753.04" y2="811.5" stroke="#111" stroke-width="1.5"/>
<line x1="768.49" y1="806" x2="768.49" y2="811.5" stroke="#111" stroke-width="1.5"/>
<line x1="783.95" y1="806" x2="783.95" y2="811.5" stroke="#111" stroke-width="1.5"/>
<line x1="799.4" y1="806" x2="799.4" y2="811.5" stroke="#111" stroke-width="1.5"/>
<line x1="814.86" y1="806" x2="814.86" y2="814.5" stroke="#111" stroke-width="1.5"/>
<line x1="830.32" y1="806" x2="830.32" y2="811.5" stroke="#111" stroke-width="1.5"/>
<line x1="845.77" y1="806" x2="845.77" y2="811.5" stroke="#111" stroke-width="1.5"/>
<line x1="861.23" y1="806" x2="861.23" y2="811.5" stroke="#111" stroke-width="1.5"/>
<line x1="876.68" y1="806" x2="876.68" y2="811.5" stroke="#111" stroke-width="1.5"/>
<line x1="892.14" y1="806" x2="892.14" y2="814.5" stroke="#111" stroke-width="1.5"/>
<line x1="907.6" y1="806" x2="907.6" y2="811.5" stroke="#111" stroke-width="1.5"/>
<line x1="923.05" y1="806" x2="923.05" y2="811.5" stroke="#111" stroke-width="1.5"/>
<line x1="938.51" y1="806" x2="938.51" y2="811.5" stroke="#111" stroke-width="1.5"/>
<line x1="953.96" y1="806" x2="953.96" y2="811.5" stroke="#111" stroke-width="1.5"/>
<line x1="969.42" y1="806" x2="969.42" y2="814.5" stroke="#111" stroke-width="1.5"/>
<line x1="984.88" y1="806" x2="984.88" y2="811.5" stroke="#111" stroke-width="1.5"/>
<line x1="1000.33" y1="806" x2="1000.33" y2="811.5" stroke="#111" stroke-width="1.5"/>
<line x1="1015.79" y1="806" x2="1015.79" y2="811.5" stroke="#111" stroke-width="1.5"/>
<line x1="1031.24" y1="806" x2="1031.24" y2="811.5" stroke="#111" stroke-width="1.5"/>
<text x="660.3" y="825" font-size="10.8" fill="#2a2a2a" stroke="#2a2a2a" stroke-width="0.35" text-anchor="middle">0</text>
<text x="737.58" y="825" font-size="10.8" fill="#2a2a2a" stroke="#2a2a2a" stroke-width="0.35" text-anchor="middle">30</text>
<text x="814.86" y="825" font-size="10.8" fill="#2a2a2a" stroke="#2a2a2a" stroke-width="0.35" text-anchor="middle">60</text>
<text x="892.14" y="825" font-size="10.8" fill="#2a2a2a" stroke="#2a2a2a" stroke-width="0.35" text-anchor="middle">90</text>
<text x="969.42" y="825" font-size="10.8" fill="#2a2a2a" stroke="#2a2a2a" stroke-width="0.35" text-anchor="middle">120</text>
<text x="1046.7" y="825" font-size="10.8" fill="#2a2a2a" stroke="#2a2a2a" stroke-width="0.35" text-anchor="middle">150</text>
<line x1="1073.4" y1="467" x2="1073.4" y2="816" stroke="#111" stroke-width="1.6"/>
<line x1="1067.4" y1="789.06" x2="1073.4" y2="789.06" stroke="#111" stroke-width="1.5"/>
<line x1="1067.4" y1="772.12" x2="1073.4" y2="772.12" stroke="#111" stroke-width="1.5"/>
<line x1="1067.4" y1="755.18" x2="1073.4" y2="755.18" stroke="#111" stroke-width="1.5"/>
<line x1="1067.4" y1="738.24" x2="1073.4" y2="738.24" stroke="#111" stroke-width="1.5"/>
<line x1="1061.4" y1="721.3" x2="1073.4" y2="721.3" stroke="#111" stroke-width="1.5"/>
<line x1="1067.4" y1="704.36" x2="1073.4" y2="704.36" stroke="#111" stroke-width="1.5"/>
<line x1="1067.4" y1="687.42" x2="1073.4" y2="687.42" stroke="#111" stroke-width="1.5"/>
<line x1="1067.4" y1="670.48" x2="1073.4" y2="670.48" stroke="#111" stroke-width="1.5"/>
<line x1="1067.4" y1="653.54" x2="1073.4" y2="653.54" stroke="#111" stroke-width="1.5"/>
<line x1="1061.4" y1="636.6" x2="1073.4" y2="636.6" stroke="#111" stroke-width="1.5"/>
<line x1="1067.4" y1="619.66" x2="1073.4" y2="619.66" stroke="#111" stroke-width="1.5"/>
<line x1="1067.4" y1="602.72" x2="1073.4" y2="602.72" stroke="#111" stroke-width="1.5"/>
<line x1="1067.4" y1="585.78" x2="1073.4" y2="585.78" stroke="#111" stroke-width="1.5"/>
<line x1="1067.4" y1="568.84" x2="1073.4" y2="568.84" stroke="#111" stroke-width="1.5"/>
<line x1="1061.4" y1="551.9" x2="1073.4" y2="551.9" stroke="#111" stroke-width="1.5"/>
<line x1="1067.4" y1="534.96" x2="1073.4" y2="534.96" stroke="#111" stroke-width="1.5"/>
<line x1="1067.4" y1="518.02" x2="1073.4" y2="518.02" stroke="#111" stroke-width="1.5"/>
<line x1="1067.4" y1="501.08" x2="1073.4" y2="501.08" stroke="#111" stroke-width="1.5"/>
<line x1="1067.4" y1="484.14" x2="1073.4" y2="484.14" stroke="#111" stroke-width="1.5"/>
<text transform="translate(1061.8,806) rotate(-90)" font-size="10.8" fill="#2a2a2a" stroke="#2a2a2a" stroke-width="0.3" text-anchor="middle">0</text>
<text transform="translate(1061.8,721.3) rotate(-90)" font-size="10.8" fill="#2a2a2a" stroke="#2a2a2a" stroke-width="0.3" text-anchor="middle">200</text>
<text transform="translate(1061.8,636.6) rotate(-90)" font-size="10.8" fill="#2a2a2a" stroke="#2a2a2a" stroke-width="0.3" text-anchor="middle">400</text>
<text transform="translate(1061.8,551.9) rotate(-90)" font-size="10.8" fill="#2a2a2a" stroke="#2a2a2a" stroke-width="0.3" text-anchor="middle">600</text>
<line x1="1088.78" y1="806" x2="1088.78" y2="811.5" stroke="#111" stroke-width="1.5"/>
<line x1="1104.17" y1="806" x2="1104.17" y2="811.5" stroke="#111" stroke-width="1.5"/>
<line x1="1119.55" y1="806" x2="1119.55" y2="811.5" stroke="#111" stroke-width="1.5"/>
<line x1="1134.94" y1="806" x2="1134.94" y2="811.5" stroke="#111" stroke-width="1.5"/>
<line x1="1150.32" y1="806" x2="1150.32" y2="814.5" stroke="#111" stroke-width="1.5"/>
<line x1="1165.7" y1="806" x2="1165.7" y2="811.5" stroke="#111" stroke-width="1.5"/>
<line x1="1181.09" y1="806" x2="1181.09" y2="811.5" stroke="#111" stroke-width="1.5"/>
<line x1="1196.47" y1="806" x2="1196.47" y2="811.5" stroke="#111" stroke-width="1.5"/>
<line x1="1211.86" y1="806" x2="1211.86" y2="811.5" stroke="#111" stroke-width="1.5"/>
<line x1="1227.24" y1="806" x2="1227.24" y2="814.5" stroke="#111" stroke-width="1.5"/>
<line x1="1242.62" y1="806" x2="1242.62" y2="811.5" stroke="#111" stroke-width="1.5"/>
<line x1="1258.01" y1="806" x2="1258.01" y2="811.5" stroke="#111" stroke-width="1.5"/>
<line x1="1273.39" y1="806" x2="1273.39" y2="811.5" stroke="#111" stroke-width="1.5"/>
<line x1="1288.78" y1="806" x2="1288.78" y2="811.5" stroke="#111" stroke-width="1.5"/>
<line x1="1304.16" y1="806" x2="1304.16" y2="814.5" stroke="#111" stroke-width="1.5"/>
<line x1="1319.54" y1="806" x2="1319.54" y2="811.5" stroke="#111" stroke-width="1.5"/>
<line x1="1334.93" y1="806" x2="1334.93" y2="811.5" stroke="#111" stroke-width="1.5"/>
<line x1="1350.31" y1="806" x2="1350.31" y2="811.5" stroke="#111" stroke-width="1.5"/>
<line x1="1365.7" y1="806" x2="1365.7" y2="811.5" stroke="#111" stroke-width="1.5"/>
<line x1="1381.08" y1="806" x2="1381.08" y2="814.5" stroke="#111" stroke-width="1.5"/>
<line x1="1396.46" y1="806" x2="1396.46" y2="811.5" stroke="#111" stroke-width="1.5"/>
<line x1="1411.85" y1="806" x2="1411.85" y2="811.5" stroke="#111" stroke-width="1.5"/>
<line x1="1427.23" y1="806" x2="1427.23" y2="811.5" stroke="#111" stroke-width="1.5"/>
<line x1="1442.62" y1="806" x2="1442.62" y2="811.5" stroke="#111" stroke-width="1.5"/>
<text x="1073.4" y="825" font-size="10.8" fill="#2a2a2a" stroke="#2a2a2a" stroke-width="0.35" text-anchor="middle">0</text>
<text x="1150.32" y="825" font-size="10.8" fill="#2a2a2a" stroke="#2a2a2a" stroke-width="0.35" text-anchor="middle">30</text>
<text x="1227.24" y="825" font-size="10.8" fill="#2a2a2a" stroke="#2a2a2a" stroke-width="0.35" text-anchor="middle">60</text>
<text x="1304.16" y="825" font-size="10.8" fill="#2a2a2a" stroke="#2a2a2a" stroke-width="0.35" text-anchor="middle">90</text>
<text x="1381.08" y="825" font-size="10.8" fill="#2a2a2a" stroke="#2a2a2a" stroke-width="0.35" text-anchor="middle">120</text>
<text x="1458" y="825" font-size="10.8" fill="#2a2a2a" stroke="#2a2a2a" stroke-width="0.35" text-anchor="middle">150</text>
<line x1="1488.3" y1="469" x2="1488.3" y2="816" stroke="#111" stroke-width="1.6"/>
<line x1="1482.3" y1="789.06" x2="1488.3" y2="789.06" stroke="#111" stroke-width="1.5"/>
<line x1="1482.3" y1="772.12" x2="1488.3" y2="772.12" stroke="#111" stroke-width="1.5"/>
<line x1="1482.3" y1="755.18" x2="1488.3" y2="755.18" stroke="#111" stroke-width="1.5"/>
<line x1="1482.3" y1="738.24" x2="1488.3" y2="738.24" stroke="#111" stroke-width="1.5"/>
<line x1="1476.3" y1="721.3" x2="1488.3" y2="721.3" stroke="#111" stroke-width="1.5"/>
<line x1="1482.3" y1="704.36" x2="1488.3" y2="704.36" stroke="#111" stroke-width="1.5"/>
<line x1="1482.3" y1="687.42" x2="1488.3" y2="687.42" stroke="#111" stroke-width="1.5"/>
<line x1="1482.3" y1="670.48" x2="1488.3" y2="670.48" stroke="#111" stroke-width="1.5"/>
<line x1="1482.3" y1="653.54" x2="1488.3" y2="653.54" stroke="#111" stroke-width="1.5"/>
<line x1="1476.3" y1="636.6" x2="1488.3" y2="636.6" stroke="#111" stroke-width="1.5"/>
<line x1="1482.3" y1="619.66" x2="1488.3" y2="619.66" stroke="#111" stroke-width="1.5"/>
<line x1="1482.3" y1="602.72" x2="1488.3" y2="602.72" stroke="#111" stroke-width="1.5"/>
<line x1="1482.3" y1="585.78" x2="1488.3" y2="585.78" stroke="#111" stroke-width="1.5"/>
<line x1="1482.3" y1="568.84" x2="1488.3" y2="568.84" stroke="#111" stroke-width="1.5"/>
<line x1="1476.3" y1="551.9" x2="1488.3" y2="551.9" stroke="#111" stroke-width="1.5"/>
<line x1="1482.3" y1="534.96" x2="1488.3" y2="534.96" stroke="#111" stroke-width="1.5"/>
<line x1="1482.3" y1="518.02" x2="1488.3" y2="518.02" stroke="#111" stroke-width="1.5"/>
<line x1="1482.3" y1="501.08" x2="1488.3" y2="501.08" stroke="#111" stroke-width="1.5"/>
<line x1="1482.3" y1="484.14" x2="1488.3" y2="484.14" stroke="#111" stroke-width="1.5"/>
<text transform="translate(1476.7,806) rotate(-90)" font-size="10.8" fill="#2a2a2a" stroke="#2a2a2a" stroke-width="0.3" text-anchor="middle">0</text>
<text transform="translate(1476.7,721.3) rotate(-90)" font-size="10.8" fill="#2a2a2a" stroke="#2a2a2a" stroke-width="0.3" text-anchor="middle">200</text>
<text transform="translate(1476.7,636.6) rotate(-90)" font-size="10.8" fill="#2a2a2a" stroke="#2a2a2a" stroke-width="0.3" text-anchor="middle">400</text>
<text transform="translate(1476.7,551.9) rotate(-90)" font-size="10.8" fill="#2a2a2a" stroke="#2a2a2a" stroke-width="0.3" text-anchor="middle">600</text>
<line x1="1503.74" y1="806" x2="1503.74" y2="811.5" stroke="#111" stroke-width="1.5"/>
<line x1="1519.19" y1="806" x2="1519.19" y2="811.5" stroke="#111" stroke-width="1.5"/>
<line x1="1534.63" y1="806" x2="1534.63" y2="811.5" stroke="#111" stroke-width="1.5"/>
<line x1="1550.08" y1="806" x2="1550.08" y2="811.5" stroke="#111" stroke-width="1.5"/>
<line x1="1565.52" y1="806" x2="1565.52" y2="814.5" stroke="#111" stroke-width="1.5"/>
<line x1="1580.96" y1="806" x2="1580.96" y2="811.5" stroke="#111" stroke-width="1.5"/>
<line x1="1596.41" y1="806" x2="1596.41" y2="811.5" stroke="#111" stroke-width="1.5"/>
<line x1="1611.85" y1="806" x2="1611.85" y2="811.5" stroke="#111" stroke-width="1.5"/>
<line x1="1627.3" y1="806" x2="1627.3" y2="811.5" stroke="#111" stroke-width="1.5"/>
<line x1="1642.74" y1="806" x2="1642.74" y2="814.5" stroke="#111" stroke-width="1.5"/>
<line x1="1658.18" y1="806" x2="1658.18" y2="811.5" stroke="#111" stroke-width="1.5"/>
<line x1="1673.63" y1="806" x2="1673.63" y2="811.5" stroke="#111" stroke-width="1.5"/>
<line x1="1689.07" y1="806" x2="1689.07" y2="811.5" stroke="#111" stroke-width="1.5"/>
<line x1="1704.52" y1="806" x2="1704.52" y2="811.5" stroke="#111" stroke-width="1.5"/>
<line x1="1719.96" y1="806" x2="1719.96" y2="814.5" stroke="#111" stroke-width="1.5"/>
<line x1="1735.4" y1="806" x2="1735.4" y2="811.5" stroke="#111" stroke-width="1.5"/>
<line x1="1750.85" y1="806" x2="1750.85" y2="811.5" stroke="#111" stroke-width="1.5"/>
<line x1="1766.29" y1="806" x2="1766.29" y2="811.5" stroke="#111" stroke-width="1.5"/>
<line x1="1781.74" y1="806" x2="1781.74" y2="811.5" stroke="#111" stroke-width="1.5"/>
<line x1="1797.18" y1="806" x2="1797.18" y2="814.5" stroke="#111" stroke-width="1.5"/>
<line x1="1812.62" y1="806" x2="1812.62" y2="811.5" stroke="#111" stroke-width="1.5"/>
<line x1="1828.07" y1="806" x2="1828.07" y2="811.5" stroke="#111" stroke-width="1.5"/>
<line x1="1843.51" y1="806" x2="1843.51" y2="811.5" stroke="#111" stroke-width="1.5"/>
<line x1="1858.96" y1="806" x2="1858.96" y2="811.5" stroke="#111" stroke-width="1.5"/>
<text x="1488.3" y="825" font-size="10.8" fill="#2a2a2a" stroke="#2a2a2a" stroke-width="0.35" text-anchor="middle">0</text>
<text x="1565.52" y="825" font-size="10.8" fill="#2a2a2a" stroke="#2a2a2a" stroke-width="0.35" text-anchor="middle">30</text>
<text x="1642.74" y="825" font-size="10.8" fill="#2a2a2a" stroke="#2a2a2a" stroke-width="0.35" text-anchor="middle">60</text>
<text x="1719.96" y="825" font-size="10.8" fill="#2a2a2a" stroke="#2a2a2a" stroke-width="0.35" text-anchor="middle">90</text>
<text x="1797.18" y="825" font-size="10.8" fill="#2a2a2a" stroke="#2a2a2a" stroke-width="0.35" text-anchor="middle">120</text>
<text x="1874.4" y="825" font-size="10.8" fill="#2a2a2a" stroke="#2a2a2a" stroke-width="0.35" text-anchor="middle">150</text>
<line x1="229" y1="806" x2="1876" y2="806" stroke="#000" stroke-width="3"/>
<path d="M1889,806.5 L1872.5,799 L1872.5,814 Z" fill="#000"/>
<rect x="1725.6" y="82.4" width="39.2" height="26.6" fill="#f40000"/>
<rect x="1725.6" y="113.2" width="39.2" height="25.7" fill="#f40000"/>
<rect x="1726.1" y="143.4" width="38.4" height="26.2" fill="#fff" stroke="#c4c4c4" stroke-width="1"/>
<g stroke="#1010a8" stroke-width="1.5"><line x1="1735.5" y1="143.6" x2="1763.2" y2="169.8"/><line x1="1726" y1="155.7" x2="1739.4" y2="169.3"/><line x1="1758.9" y1="143.6" x2="1764.7" y2="148.9"/></g>
<text x="1783.7" y="106.6" font-size="27" fill="#1010b4" text-anchor="start" font-weight="normal">G0G1</text>
<text x="1783.7" y="137" font-size="27" fill="#1010b4" text-anchor="start" font-weight="normal">G2M</text>
<text x="1783.7" y="167.1" font-size="27" fill="#1010b4" text-anchor="start" font-weight="normal">S-Phase</text>
<text x="3.5" y="995.4" font-size="68" fill="#230000" text-anchor="start" font-weight="bold">b</text>
<text x="979" y="997.2" font-size="72" fill="#230000" text-anchor="start" font-weight="bold">c</text>
<rect x="261.4" y="1299.03" width="82.4" height="210.67" fill="#808080"/>
<rect x="261.4" y="1166.1" width="82.4" height="132.92" fill="#404040"/>
<rect x="261.4" y="1091.7" width="82.4" height="74.4" fill="#c0c0c0"/>
<line x1="302.6" y1="1299.03" x2="302.6" y2="1295.68" stroke="#000" stroke-width="4.4"/>
<line x1="282.1" y1="1295.68" x2="323.1" y2="1295.68" stroke="#000" stroke-width="4.4" stroke-linecap="round"/>
<line x1="302.6" y1="1166.1" x2="302.6" y2="1153.98" stroke="#000" stroke-width="4.4"/>
<line x1="282.1" y1="1153.98" x2="323.1" y2="1153.98" stroke="#000" stroke-width="4.4" stroke-linecap="round"/>
<line x1="302.6" y1="1091.7" x2="302.6" y2="1082.5" stroke="#000" stroke-width="4.4"/>
<line x1="282.1" y1="1082.5" x2="323.1" y2="1082.5" stroke="#000" stroke-width="4.4" stroke-linecap="round"/>
<line x1="261.4" y1="1299.03" x2="343.8" y2="1299.03" stroke="#000" stroke-width="4.4"/>
<line x1="261.4" y1="1166.1" x2="343.8" y2="1166.1" stroke="#000" stroke-width="4.4"/>
<rect x="261.4" y="1091.7" width="82.4" height="418" fill="none" stroke="#000" stroke-width="4.5"/>
<rect x="386.55" y="1285.65" width="82.4" height="224.05" fill="#808080"/>
<rect x="386.55" y="1139.35" width="82.4" height="146.3" fill="#404040"/>
<rect x="386.55" y="1091.7" width="82.4" height="47.65" fill="#c0c0c0"/>
<line x1="427.75" y1="1285.65" x2="427.75" y2="1273.11" stroke="#000" stroke-width="4.4"/>
<line x1="407.25" y1="1273.11" x2="448.25" y2="1273.11" stroke="#000" stroke-width="4.4" stroke-linecap="round"/>
<line x1="427.75" y1="1139.35" x2="427.75" y2="1128.48" stroke="#000" stroke-width="4.4"/>
<line x1="407.25" y1="1128.48" x2="448.25" y2="1128.48" stroke="#000" stroke-width="4.4" stroke-linecap="round"/>
<line x1="386.55" y1="1285.65" x2="468.95" y2="1285.65" stroke="#000" stroke-width="4.4"/>
<line x1="386.55" y1="1139.35" x2="468.95" y2="1139.35" stroke="#000" stroke-width="4.4"/>
<rect x="386.55" y="1091.7" width="82.4" height="418" fill="none" stroke="#000" stroke-width="4.5"/>
<rect x="511.7" y="1242.18" width="82.4" height="267.52" fill="#808080"/>
<rect x="511.7" y="1116.78" width="82.4" height="125.4" fill="#404040"/>
<rect x="511.7" y="1091.7" width="82.4" height="25.08" fill="#c0c0c0"/>
<line x1="552.9" y1="1242.18" x2="552.9" y2="1222.95" stroke="#000" stroke-width="4.4"/>
<line x1="532.4" y1="1222.95" x2="573.4" y2="1222.95" stroke="#000" stroke-width="4.4" stroke-linecap="round"/>
<line x1="552.9" y1="1116.78" x2="552.9" y2="1101.73" stroke="#000" stroke-width="4.4"/>
<line x1="532.4" y1="1101.73" x2="573.4" y2="1101.73" stroke="#000" stroke-width="4.4" stroke-linecap="round"/>
<line x1="552.9" y1="1091.7" x2="552.9" y2="1088.77" stroke="#000" stroke-width="4.4"/>
<line x1="532.4" y1="1088.77" x2="573.4" y2="1088.77" stroke="#000" stroke-width="4.4" stroke-linecap="round"/>
<line x1="511.7" y1="1242.18" x2="594.1" y2="1242.18" stroke="#000" stroke-width="4.4"/>
<line x1="511.7" y1="1116.78" x2="594.1" y2="1116.78" stroke="#000" stroke-width="4.4"/>
<rect x="511.7" y="1091.7" width="82.4" height="418" fill="none" stroke="#000" stroke-width="4.5"/>
<rect x="636.85" y="1248.45" width="82.4" height="261.25" fill="#808080"/>
<rect x="636.85" y="1114.27" width="82.4" height="134.18" fill="#404040"/>
<rect x="636.85" y="1091.7" width="82.4" height="22.57" fill="#c0c0c0"/>
<line x1="678.05" y1="1248.45" x2="678.05" y2="1231.31" stroke="#000" stroke-width="4.4"/>
<line x1="657.55" y1="1231.31" x2="698.55" y2="1231.31" stroke="#000" stroke-width="4.4" stroke-linecap="round"/>
<line x1="678.05" y1="1114.27" x2="678.05" y2="1097.97" stroke="#000" stroke-width="4.4"/>
<line x1="657.55" y1="1097.97" x2="698.55" y2="1097.97" stroke="#000" stroke-width="4.4" stroke-linecap="round"/>
<line x1="678.05" y1="1091.7" x2="678.05" y2="1088.77" stroke="#000" stroke-width="4.4"/>
<line x1="657.55" y1="1088.77" x2="698.55" y2="1088.77" stroke="#000" stroke-width="4.4" stroke-linecap="round"/>
<line x1="636.85" y1="1248.45" x2="719.25" y2="1248.45" stroke="#000" stroke-width="4.4"/>
<line x1="636.85" y1="1114.27" x2="719.25" y2="1114.27" stroke="#000" stroke-width="4.4"/>
<rect x="636.85" y="1091.7" width="82.4" height="418" fill="none" stroke="#000" stroke-width="4.5"/>
<line x1="240.4" y1="1005.9" x2="240.4" y2="1509.7" stroke="#000" stroke-width="4.5"/>
<line x1="225.2" y1="1509.7" x2="740.2" y2="1509.7" stroke="#000" stroke-width="4.5"/>
<line x1="225.2" y1="1509.7" x2="240.4" y2="1509.7" stroke="#000" stroke-width="4.5"/>
<text x="205.3" y="1526" font-size="37" fill="#1c0c0c" text-anchor="end" font-weight="normal">0</text>
<line x1="225.2" y1="1426.1" x2="240.4" y2="1426.1" stroke="#000" stroke-width="4.5"/>
<text x="205.3" y="1442.4" font-size="37" fill="#1c0c0c" text-anchor="end" font-weight="normal">20</text>
<line x1="225.2" y1="1342.5" x2="240.4" y2="1342.5" stroke="#000" stroke-width="4.5"/>
<text x="205.3" y="1358.8" font-size="37" fill="#1c0c0c" text-anchor="end" font-weight="normal">40</text>
<line x1="225.2" y1="1258.9" x2="240.4" y2="1258.9" stroke="#000" stroke-width="4.5"/>
<text x="205.3" y="1275.2" font-size="37" fill="#1c0c0c" text-anchor="end" font-weight="normal">60</text>
<line x1="225.2" y1="1175.3" x2="240.4" y2="1175.3" stroke="#000" stroke-width="4.5"/>
<text x="205.3" y="1191.6" font-size="37" fill="#1c0c0c" text-anchor="end" font-weight="normal">80</text>
<line x1="225.2" y1="1091.7" x2="240.4" y2="1091.7" stroke="#000" stroke-width="4.5"/>
<text x="205.3" y="1108" font-size="37" fill="#1c0c0c" text-anchor="end" font-weight="normal">100</text>
<line x1="225.2" y1="1008.1" x2="240.4" y2="1008.1" stroke="#000" stroke-width="4.5"/>
<text x="205.3" y="1024.4" font-size="37" fill="#1c0c0c" text-anchor="end" font-weight="normal">120</text>
<line x1="302.6" y1="1509.7" x2="302.6" y2="1524.4" stroke="#000" stroke-width="4.5"/>
<text x="303.9" y="1568.3" font-size="37" fill="#1c0c0c" text-anchor="middle" font-weight="normal">0</text>
<line x1="427.75" y1="1509.7" x2="427.75" y2="1524.4" stroke="#000" stroke-width="4.5"/>
<text x="430.1" y="1568.3" font-size="37" fill="#1c0c0c" text-anchor="middle" font-weight="normal">50</text>
<line x1="552.9" y1="1509.7" x2="552.9" y2="1524.4" stroke="#000" stroke-width="4.5"/>
<text x="553" y="1568.3" font-size="37" fill="#1c0c0c" text-anchor="middle" font-weight="normal">100</text>
<line x1="678.05" y1="1509.7" x2="678.05" y2="1524.4" stroke="#000" stroke-width="4.5"/>
<text x="677.3" y="1568.3" font-size="37" fill="#1c0c0c" text-anchor="middle" font-weight="normal">150</text>
<text x="418" y="1019" font-size="44.5" fill="#1c0c0c" text-anchor="start" font-weight="normal">CAL27</text>
<text x="292.1" y="1621.1" font-size="37.6" fill="#1c0c0c" text-anchor="start" font-weight="normal">OA concentrations (μM)</text>
<text transform="translate(112,1424.5) rotate(-90)" font-size="37.4" fill="#1c0c0c">% of cell population</text>
<rect x="768" y="998" width="53.5" height="28.2" fill="#c0c0c0" stroke="#000" stroke-width="4.6"/>
<text x="844.1" y="1020.8" font-size="32.2" fill="#1c0c0c" text-anchor="start" font-weight="normal">G2/M</text>
<rect x="768" y="1056.9" width="53.5" height="28.2" fill="#404040" stroke="#000" stroke-width="4.6"/>
<text x="844.1" y="1078.6" font-size="32.2" fill="#1c0c0c" text-anchor="start" font-weight="normal">S</text>
<rect x="768" y="1117.3" width="53.5" height="28.2" fill="#808080" stroke="#000" stroke-width="4.6"/>
<text x="844.1" y="1139.2" font-size="32.2" fill="#1c0c0c" text-anchor="start" font-weight="normal">G0/G1</text>
<rect x="1218" y="1319.45" width="82.4" height="189.35" fill="#808080"/>
<rect x="1218" y="1130.09" width="82.4" height="189.35" fill="#404040"/>
<rect x="1218" y="1090.8" width="82.4" height="39.29" fill="#c0c0c0"/>
<line x1="1259.2" y1="1319.45" x2="1259.2" y2="1310.67" stroke="#000" stroke-width="4.4"/>
<line x1="1238.7" y1="1310.67" x2="1279.7" y2="1310.67" stroke="#000" stroke-width="4.4" stroke-linecap="round"/>
<line x1="1259.2" y1="1130.09" x2="1259.2" y2="1121.31" stroke="#000" stroke-width="4.4"/>
<line x1="1238.7" y1="1121.31" x2="1279.7" y2="1121.31" stroke="#000" stroke-width="4.4" stroke-linecap="round"/>
<line x1="1259.2" y1="1090.8" x2="1259.2" y2="1088.29" stroke="#000" stroke-width="4.4"/>
<line x1="1238.7" y1="1088.29" x2="1279.7" y2="1088.29" stroke="#000" stroke-width="4.4" stroke-linecap="round"/>
<line x1="1218" y1="1319.45" x2="1300.4" y2="1319.45" stroke="#000" stroke-width="4.4"/>
<line x1="1218" y1="1130.09" x2="1300.4" y2="1130.09" stroke="#000" stroke-width="4.4"/>
<rect x="1218" y="1090.8" width="82.4" height="418" fill="none" stroke="#000" stroke-width="4.5"/>
<rect x="1342.4" y="1279.74" width="82.4" height="229.06" fill="#808080"/>
<rect x="1342.4" y="1130.09" width="82.4" height="149.64" fill="#404040"/>
<rect x="1342.4" y="1090.8" width="82.4" height="39.29" fill="#c0c0c0"/>
<line x1="1383.6" y1="1279.74" x2="1383.6" y2="1262.6" stroke="#000" stroke-width="4.4"/>
<line x1="1363.1" y1="1262.6" x2="1404.1" y2="1262.6" stroke="#000" stroke-width="4.4" stroke-linecap="round"/>
<line x1="1383.6" y1="1130.09" x2="1383.6" y2="1113.37" stroke="#000" stroke-width="4.4"/>
<line x1="1363.1" y1="1113.37" x2="1404.1" y2="1113.37" stroke="#000" stroke-width="4.4" stroke-linecap="round"/>
<line x1="1383.6" y1="1090.8" x2="1383.6" y2="1084.53" stroke="#000" stroke-width="4.4"/>
<line x1="1363.1" y1="1084.53" x2="1404.1" y2="1084.53" stroke="#000" stroke-width="4.4" stroke-linecap="round"/>
<line x1="1342.4" y1="1279.74" x2="1424.8" y2="1279.74" stroke="#000" stroke-width="4.4"/>
<line x1="1342.4" y1="1130.09" x2="1424.8" y2="1130.09" stroke="#000" stroke-width="4.4"/>
<rect x="1342.4" y="1090.8" width="82.4" height="418" fill="none" stroke="#000" stroke-width="4.5"/>
<rect x="1466.8" y="1274.72" width="82.4" height="234.08" fill="#808080"/>
<rect x="1466.8" y="1099.58" width="82.4" height="175.14" fill="#404040"/>
<rect x="1466.8" y="1090.8" width="82.4" height="8.78" fill="#c0c0c0"/>
<line x1="1508" y1="1274.72" x2="1508" y2="1258.84" stroke="#000" stroke-width="4.4"/>
<line x1="1487.5" y1="1258.84" x2="1528.5" y2="1258.84" stroke="#000" stroke-width="4.4" stroke-linecap="round"/>
<line x1="1508" y1="1099.58" x2="1508" y2="1093.31" stroke="#000" stroke-width="4.4"/>
<line x1="1487.5" y1="1093.31" x2="1528.5" y2="1093.31" stroke="#000" stroke-width="4.4" stroke-linecap="round"/>
<line x1="1508" y1="1090.8" x2="1508" y2="1086.62" stroke="#000" stroke-width="4.4"/>
<line x1="1487.5" y1="1086.62" x2="1528.5" y2="1086.62" stroke="#000" stroke-width="4.4" stroke-linecap="round"/>
<line x1="1466.8" y1="1274.72" x2="1549.2" y2="1274.72" stroke="#000" stroke-width="4.4"/>
<line x1="1466.8" y1="1099.58" x2="1549.2" y2="1099.58" stroke="#000" stroke-width="4.4"/>
<rect x="1466.8" y="1090.8" width="82.4" height="418" fill="none" stroke="#000" stroke-width="4.5"/>
<rect x="1591.2" y="1247.55" width="82.4" height="261.25" fill="#808080"/>
<rect x="1591.2" y="1099.58" width="82.4" height="147.97" fill="#404040"/>
<rect x="1591.2" y="1090.8" width="82.4" height="8.78" fill="#c0c0c0"/>
<line x1="1632.4" y1="1247.55" x2="1632.4" y2="1242.53" stroke="#000" stroke-width="4.4"/>
<line x1="1611.9" y1="1242.53" x2="1652.9" y2="1242.53" stroke="#000" stroke-width="4.4" stroke-linecap="round"/>
<line x1="1632.4" y1="1099.58" x2="1632.4" y2="1094.98" stroke="#000" stroke-width="4.4"/>
<line x1="1611.9" y1="1094.98" x2="1652.9" y2="1094.98" stroke="#000" stroke-width="4.4" stroke-linecap="round"/>
<line x1="1632.4" y1="1090.8" x2="1632.4" y2="1090.8" stroke="#000" stroke-width="4.4"/>
<line x1="1611.9" y1="1090.8" x2="1652.9" y2="1090.8" stroke="#000" stroke-width="4.4" stroke-linecap="round"/>
<line x1="1591.2" y1="1247.55" x2="1673.6" y2="1247.55" stroke="#000" stroke-width="4.4"/>
<line x1="1591.2" y1="1099.58" x2="1673.6" y2="1099.58" stroke="#000" stroke-width="4.4"/>
<rect x="1591.2" y="1090.8" width="82.4" height="418" fill="none" stroke="#000" stroke-width="4.5"/>
<line x1="1197" y1="1005" x2="1197" y2="1508.8" stroke="#000" stroke-width="4.5"/>
<line x1="1181.8" y1="1508.8" x2="1696.8" y2="1508.8" stroke="#000" stroke-width="4.5"/>
<line x1="1181.8" y1="1508.8" x2="1197" y2="1508.8" stroke="#000" stroke-width="4.5"/>
<text x="1161.9" y="1525.1" font-size="37" fill="#1c0c0c" text-anchor="end" font-weight="normal">0</text>
<line x1="1181.8" y1="1425.2" x2="1197" y2="1425.2" stroke="#000" stroke-width="4.5"/>
<text x="1161.9" y="1441.5" font-size="37" fill="#1c0c0c" text-anchor="end" font-weight="normal">20</text>
<line x1="1181.8" y1="1341.6" x2="1197" y2="1341.6" stroke="#000" stroke-width="4.5"/>
<text x="1161.9" y="1357.9" font-size="37" fill="#1c0c0c" text-anchor="end" font-weight="normal">40</text>
<line x1="1181.8" y1="1258" x2="1197" y2="1258" stroke="#000" stroke-width="4.5"/>
<text x="1161.9" y="1274.3" font-size="37" fill="#1c0c0c" text-anchor="end" font-weight="normal">60</text>
<line x1="1181.8" y1="1174.4" x2="1197" y2="1174.4" stroke="#000" stroke-width="4.5"/>
<text x="1161.9" y="1190.7" font-size="37" fill="#1c0c0c" text-anchor="end" font-weight="normal">80</text>
<line x1="1181.8" y1="1090.8" x2="1197" y2="1090.8" stroke="#000" stroke-width="4.5"/>
<text x="1161.9" y="1107.1" font-size="37" fill="#1c0c0c" text-anchor="end" font-weight="normal">100</text>
<line x1="1181.8" y1="1007.2" x2="1197" y2="1007.2" stroke="#000" stroke-width="4.5"/>
<text x="1161.9" y="1023.5" font-size="37" fill="#1c0c0c" text-anchor="end" font-weight="normal">120</text>
<line x1="1259.2" y1="1508.8" x2="1259.2" y2="1523.5" stroke="#000" stroke-width="4.5"/>
<text x="1259.8" y="1568.3" font-size="37" fill="#1c0c0c" text-anchor="middle" font-weight="normal">0</text>
<line x1="1383.6" y1="1508.8" x2="1383.6" y2="1523.5" stroke="#000" stroke-width="4.5"/>
<text x="1385.2" y="1568.3" font-size="37" fill="#1c0c0c" text-anchor="middle" font-weight="normal">50</text>
<line x1="1508" y1="1508.8" x2="1508" y2="1523.5" stroke="#000" stroke-width="4.5"/>
<text x="1507" y="1568.3" font-size="37" fill="#1c0c0c" text-anchor="middle" font-weight="normal">100</text>
<line x1="1632.4" y1="1508.8" x2="1632.4" y2="1523.5" stroke="#000" stroke-width="4.5"/>
<text x="1632.3" y="1568.3" font-size="37" fill="#1c0c0c" text-anchor="middle" font-weight="normal">150</text>
<text x="1404.5" y="1019" font-size="44.5" fill="#1c0c0c" text-anchor="start" font-weight="normal">UM1</text>
<text x="1248.7" y="1621.1" font-size="37.6" fill="#1c0c0c" text-anchor="start" font-weight="normal">OA concentrations (μM)</text>
<text transform="translate(1068.6,1424.5) rotate(-90)" font-size="37.4" fill="#1c0c0c">% of cell population</text>
<rect x="1724.6" y="998" width="53.5" height="28.2" fill="#c0c0c0" stroke="#000" stroke-width="4.6"/>
<text x="1800.7" y="1020.8" font-size="32.2" fill="#1c0c0c" text-anchor="start" font-weight="normal">G2/M</text>
<rect x="1724.6" y="1056.9" width="53.5" height="28.2" fill="#404040" stroke="#000" stroke-width="4.6"/>
<text x="1800.7" y="1078.6" font-size="32.2" fill="#1c0c0c" text-anchor="start" font-weight="normal">S</text>
<rect x="1724.6" y="1117.3" width="53.5" height="28.2" fill="#808080" stroke="#000" stroke-width="4.6"/>
<text x="1800.7" y="1139.2" font-size="32.2" fill="#1c0c0c" text-anchor="start" font-weight="normal">G0/G1</text>
<text transform="translate(3.2,1733.3) scale(1.07,1)" font-size="68" fill="#230000" font-weight="bold">d</text>
<text x="977.9" y="1731.8" font-size="73" fill="#230000" text-anchor="start" font-weight="bold">e</text>
<text x="412.3" y="1736.7" font-size="44.8" fill="#0a0a0a" text-anchor="start" font-weight="normal">CAL27</text>
<line x1="237.5" y1="1750" x2="741" y2="1750" stroke="#2a0808" stroke-width="5.4"/>
<text x="222.8" y="1800.2" font-size="40.2" fill="#0a0a0a" text-anchor="end" font-weight="normal">OA(μM)</text>
<text x="304" y="1800.4" font-size="37.5" fill="#1c0c0c" text-anchor="middle" font-weight="normal">0</text>
<text x="430" y="1800.4" font-size="37.5" fill="#1c0c0c" text-anchor="middle" font-weight="normal">50</text>
<text x="552.3" y="1800.4" font-size="37.5" fill="#1c0c0c" text-anchor="middle" font-weight="normal">100</text>
<text x="676.7" y="1800.4" font-size="37.5" fill="#1c0c0c" text-anchor="middle" font-weight="normal">150</text>
<text x="222.8" y="1894" font-size="39.4" fill="#0a0a0a" text-anchor="end" font-weight="normal">CyclinD1</text>
<text x="222.8" y="2000.2" font-size="40.1" fill="#0a0a0a" text-anchor="end" font-weight="normal">GAPDH</text>
<text x="1396.8" y="1736.7" font-size="44.8" fill="#0a0a0a" text-anchor="start" font-weight="normal">UM1</text>
<line x1="1197.6" y1="1750" x2="1698.5" y2="1750" stroke="#2a0808" stroke-width="5.4"/>
<text x="1180.4" y="1800.2" font-size="40.2" fill="#0a0a0a" text-anchor="end" font-weight="normal">OA(μM)</text>
<text x="1261.5" y="1800.4" font-size="37.5" fill="#1c0c0c" text-anchor="middle" font-weight="normal">0</text>
<text x="1388.6" y="1800.4" font-size="37.5" fill="#1c0c0c" text-anchor="middle" font-weight="normal">50</text>
<text x="1510.1" y="1800.4" font-size="37.5" fill="#1c0c0c" text-anchor="middle" font-weight="normal">100</text>
<text x="1635.2" y="1800.4" font-size="37.5" fill="#1c0c0c" text-anchor="middle" font-weight="normal">150</text>
<text x="1180.4" y="1894" font-size="39.4" fill="#0a0a0a" text-anchor="end" font-weight="normal">CyclinD1</text>
<text x="1180.4" y="2000.2" font-size="40.1" fill="#0a0a0a" text-anchor="end" font-weight="normal">GAPDH</text>
<defs>
<filter id="bl1_6" x="-20%" y="-60%" width="140%" height="220%"><feGaussianBlur stdDeviation="1.6"/></filter>
<filter id="bl2_2" x="-20%" y="-60%" width="140%" height="220%"><feGaussianBlur stdDeviation="2.2"/></filter>
<filter id="bl2_6" x="-20%" y="-60%" width="140%" height="220%"><feGaussianBlur stdDeviation="2.6"/></filter>
<filter id="bl3_0" x="-20%" y="-60%" width="140%" height="220%"><feGaussianBlur stdDeviation="3.0"/></filter>
<filter id="bl4_0" x="-20%" y="-60%" width="140%" height="220%"><feGaussianBlur stdDeviation="4.0"/></filter>
</defs>
<rect x="245" y="1822.8" width="495.8" height="93.6" fill="#cdcdcd"/>
<rect x="245" y="1937.8" width="495.8" height="94" fill="#c3c3c3"/>
<rect x="1199.8" y="1822.8" width="500.9" height="93.6" fill="#c9c9c9"/>
<rect x="1199.8" y="1938.8" width="500.9" height="93" fill="#c6c6c6"/>
<g filter="url(#bl1_6)"><path d="M265.2,1875.5 L266.33,1870.58 L267.45,1868.73 L268.58,1867.44 L269.7,1866.47 L270.83,1865.72 L271.96,1865.15 L273.08,1864.72 L274.21,1864.43 L275.34,1864.26 L276.46,1864.2 L277.59,1864.2 L278.71,1864.2 L279.84,1864.2 L280.97,1864.2 L282.09,1864.2 L283.22,1864.2 L284.35,1864.2 L285.47,1864.2 L286.6,1864.2 L287.73,1864.2 L288.85,1864.2 L289.98,1864.2 L291.1,1864.2 L292.23,1864.2 L293.36,1864.2 L294.48,1864.2 L295.61,1864.2 L296.74,1864.2 L297.86,1864.2 L298.99,1864.2 L300.11,1864.2 L301.24,1864.2 L302.37,1864.2 L303.49,1864.2 L304.62,1864.2 L305.75,1864.2 L306.87,1864.2 L308,1864.2 L309.12,1864.2 L310.25,1864.2 L311.38,1864.2 L312.5,1864.2 L313.63,1864.2 L314.75,1864.2 L315.88,1864.2 L317.01,1864.2 L318.13,1864.2 L319.26,1864.2 L320.39,1864.2 L321.51,1864.2 L322.64,1864.2 L323.76,1864.2 L324.89,1864.2 L326.02,1864.2 L327.14,1864.2 L328.27,1864.2 L329.4,1864.2 L330.52,1864.2 L331.65,1864.2 L332.77,1864.2 L333.9,1864.2 L335.03,1864.2 L336.15,1864.2 L337.28,1864.2 L338.41,1864.2 L339.53,1864.2 L340.66,1864.2 L341.78,1864.2 L342.91,1864.2 L344.04,1864.2 L345.16,1864.24 L346.29,1864.39 L347.42,1864.67 L348.54,1865.07 L349.67,1865.63 L350.8,1866.35 L351.92,1867.3 L353.05,1868.57 L354.17,1870.39 L355.3,1875.25 L355.3,1875.25 L354.17,1880.11 L353.05,1881.94 L351.92,1883.22 L350.8,1884.17 L349.67,1884.9 L348.54,1885.46 L347.42,1885.87 L346.29,1886.16 L345.16,1886.32 L344.04,1886.36 L342.91,1886.37 L341.78,1886.37 L340.66,1886.38 L339.53,1886.39 L338.41,1886.39 L337.28,1886.4 L336.15,1886.41 L335.03,1886.41 L333.9,1886.42 L332.77,1886.42 L331.65,1886.43 L330.52,1886.44 L329.4,1886.44 L328.27,1886.45 L327.14,1886.46 L326.02,1886.46 L324.89,1886.47 L323.76,1886.48 L322.64,1886.48 L321.51,1886.49 L320.39,1886.49 L319.26,1886.5 L318.13,1886.51 L317.01,1886.51 L315.88,1886.52 L314.75,1886.52 L313.63,1886.53 L312.5,1886.54 L311.38,1886.54 L310.25,1886.55 L309.12,1886.56 L308,1886.56 L306.87,1886.57 L305.75,1886.58 L304.62,1886.58 L303.49,1886.59 L302.37,1886.59 L301.24,1886.6 L300.11,1886.61 L298.99,1886.61 L297.86,1886.62 L296.74,1886.62 L295.61,1886.63 L294.48,1886.64 L293.36,1886.64 L292.23,1886.65 L291.1,1886.66 L289.98,1886.66 L288.85,1886.67 L287.73,1886.67 L286.6,1886.68 L285.47,1886.69 L284.35,1886.69 L283.22,1886.7 L282.09,1886.71 L280.97,1886.71 L279.84,1886.72 L278.71,1886.73 L277.59,1886.73 L276.46,1886.74 L275.34,1886.69 L274.21,1886.52 L273.08,1886.23 L271.96,1885.82 L270.83,1885.25 L269.7,1884.51 L268.58,1883.55 L267.45,1882.26 L266.33,1880.41 L265.2,1875.5 Z" fill="#2e2e2e" stroke="#141414" stroke-width="4.5" stroke-linejoin="round"/></g>
<g filter="url(#bl1_6)"><path d="M386.9,1877 L387.99,1871.95 L389.07,1870.04 L390.16,1868.7 L391.25,1867.67 L392.33,1866.87 L393.42,1866.24 L394.5,1865.76 L395.59,1865.4 L396.68,1865.15 L397.76,1865.01 L398.85,1864.98 L399.94,1865 L401.02,1865.03 L402.11,1865.05 L403.19,1865.08 L404.28,1865.1 L405.37,1865.12 L406.45,1865.15 L407.54,1865.18 L408.62,1865.2 L409.71,1865.22 L410.8,1865.25 L411.88,1865.28 L412.97,1865.3 L414.06,1865.33 L415.14,1865.35 L416.23,1865.38 L417.31,1865.4 L418.4,1865.43 L419.49,1865.45 L420.57,1865.47 L421.66,1865.5 L422.75,1865.53 L423.83,1865.55 L424.92,1865.58 L426,1865.6 L427.09,1865.62 L428.18,1865.65 L429.26,1865.68 L430.35,1865.7 L431.44,1865.72 L432.52,1865.75 L433.61,1865.78 L434.69,1865.8 L435.78,1865.83 L436.87,1865.85 L437.95,1865.88 L439.04,1865.9 L440.13,1865.93 L441.21,1865.95 L442.3,1865.97 L443.38,1866 L444.47,1866.03 L445.56,1866.05 L446.64,1866.08 L447.73,1866.1 L448.82,1866.12 L449.9,1866.15 L450.99,1866.18 L452.07,1866.2 L453.16,1866.22 L454.25,1866.25 L455.33,1866.28 L456.42,1866.3 L457.51,1866.33 L458.59,1866.35 L459.68,1866.38 L460.76,1866.4 L461.85,1866.43 L462.94,1866.45 L464.02,1866.52 L465.11,1866.69 L466.2,1866.98 L467.28,1867.39 L468.37,1867.95 L469.46,1868.66 L470.54,1869.59 L471.63,1870.82 L472.71,1872.58 L473.8,1877.25 L473.8,1877.25 L472.71,1881.91 L471.63,1883.67 L470.54,1884.89 L469.46,1885.81 L468.37,1886.52 L467.28,1887.07 L466.2,1887.47 L465.11,1887.76 L464.02,1887.92 L462.94,1887.99 L461.85,1888.01 L460.76,1888.03 L459.68,1888.04 L458.59,1888.06 L457.51,1888.08 L456.42,1888.1 L455.33,1888.12 L454.25,1888.14 L453.16,1888.16 L452.07,1888.17 L450.99,1888.19 L449.9,1888.21 L448.82,1888.23 L447.73,1888.25 L446.64,1888.27 L445.56,1888.29 L444.47,1888.31 L443.38,1888.32 L442.3,1888.34 L441.21,1888.36 L440.13,1888.38 L439.04,1888.4 L437.95,1888.42 L436.87,1888.44 L435.78,1888.46 L434.69,1888.47 L433.61,1888.49 L432.52,1888.51 L431.44,1888.53 L430.35,1888.55 L429.26,1888.57 L428.18,1888.59 L427.09,1888.61 L426,1888.62 L424.92,1888.64 L423.83,1888.66 L422.75,1888.68 L421.66,1888.7 L420.57,1888.72 L419.49,1888.74 L418.4,1888.76 L417.31,1888.78 L416.23,1888.79 L415.14,1888.81 L414.06,1888.83 L412.97,1888.85 L411.88,1888.87 L410.8,1888.89 L409.71,1888.91 L408.62,1888.92 L407.54,1888.94 L406.45,1888.96 L405.37,1888.98 L404.28,1889 L403.19,1889.02 L402.11,1889.04 L401.02,1889.06 L399.94,1889.07 L398.85,1889.09 L397.76,1889.05 L396.68,1888.91 L395.59,1888.65 L394.5,1888.29 L393.42,1887.8 L392.33,1887.16 L391.25,1886.35 L390.16,1885.32 L389.07,1883.97 L387.99,1882.05 L386.9,1877 Z" fill="#303030" stroke="#151515" stroke-width="4.5" stroke-linejoin="round"/></g>
<g filter="url(#bl1_6)"><path d="M503.2,1876.25 L504.3,1871.93 L505.4,1870.35 L506.5,1869.29 L507.6,1868.53 L508.7,1868 L509.8,1867.64 L510.9,1867.45 L512,1867.4 L513.1,1867.42 L514.2,1867.45 L515.3,1867.48 L516.4,1867.5 L517.5,1867.53 L518.6,1867.55 L519.7,1867.58 L520.8,1867.6 L521.9,1867.62 L523,1867.65 L524.1,1867.67 L525.2,1867.7 L526.3,1867.73 L527.4,1867.75 L528.5,1867.78 L529.6,1867.8 L530.7,1867.83 L531.8,1867.85 L532.9,1867.88 L534,1867.9 L535.1,1867.92 L536.2,1867.95 L537.3,1867.98 L538.4,1868 L539.5,1868.03 L540.6,1868.05 L541.7,1868.08 L542.8,1868.1 L543.9,1868.12 L545,1868.15 L546.1,1868.17 L547.2,1868.2 L548.3,1868.23 L549.4,1868.25 L550.5,1868.28 L551.6,1868.3 L552.7,1868.33 L553.8,1868.35 L554.9,1868.38 L556,1868.4 L557.1,1868.42 L558.2,1868.45 L559.3,1868.48 L560.4,1868.5 L561.5,1868.53 L562.6,1868.55 L563.7,1868.58 L564.8,1868.6 L565.9,1868.62 L567,1868.65 L568.1,1868.67 L569.2,1868.7 L570.3,1868.73 L571.4,1868.75 L572.5,1868.78 L573.6,1868.8 L574.7,1868.83 L575.8,1868.85 L576.9,1868.88 L578,1868.9 L579.1,1868.92 L580.2,1868.95 L581.3,1868.98 L582.4,1869 L583.5,1869.03 L584.6,1869.05 L585.7,1869.18 L586.8,1869.5 L587.9,1870.03 L589,1870.84 L590.1,1872.11 L591.2,1875.75 L591.2,1875.75 L590.1,1879.4 L589,1880.69 L587.9,1881.51 L586.8,1882.05 L585.7,1882.38 L584.6,1882.52 L583.5,1882.56 L582.4,1882.6 L581.3,1882.64 L580.2,1882.67 L579.1,1882.71 L578,1882.75 L576.9,1882.79 L575.8,1882.83 L574.7,1882.86 L573.6,1882.9 L572.5,1882.94 L571.4,1882.97 L570.3,1883.01 L569.2,1883.05 L568.1,1883.09 L567,1883.12 L565.9,1883.16 L564.8,1883.2 L563.7,1883.24 L562.6,1883.27 L561.5,1883.31 L560.4,1883.35 L559.3,1883.39 L558.2,1883.42 L557.1,1883.46 L556,1883.5 L554.9,1883.54 L553.8,1883.58 L552.7,1883.61 L551.6,1883.65 L550.5,1883.69 L549.4,1883.72 L548.3,1883.76 L547.2,1883.8 L546.1,1883.84 L545,1883.88 L543.9,1883.91 L542.8,1883.95 L541.7,1883.99 L540.6,1884.02 L539.5,1884.06 L538.4,1884.1 L537.3,1884.14 L536.2,1884.17 L535.1,1884.21 L534,1884.25 L532.9,1884.29 L531.8,1884.33 L530.7,1884.36 L529.6,1884.4 L528.5,1884.44 L527.4,1884.47 L526.3,1884.51 L525.2,1884.55 L524.1,1884.59 L523,1884.62 L521.9,1884.66 L520.8,1884.7 L519.7,1884.74 L518.6,1884.77 L517.5,1884.81 L516.4,1884.85 L515.3,1884.89 L514.2,1884.92 L513.1,1884.96 L512,1885 L510.9,1884.96 L509.8,1884.78 L508.7,1884.44 L507.6,1883.92 L506.5,1883.18 L505.4,1882.13 L504.3,1880.56 L503.2,1876.25 Z" fill="#262626" stroke="#111111" stroke-width="4.5" stroke-linejoin="round"/></g>
<path d="M625.7,1871.5 L626.86,1867.38 L628.02,1865.88 L629.17,1864.9 L630.33,1864.23 L631.49,1863.78 L632.64,1863.52 L633.8,1863.44 L634.96,1863.4 L636.12,1863.36 L637.28,1863.33 L638.43,1863.29 L639.59,1863.25 L640.75,1863.21 L641.9,1863.17 L643.06,1863.14 L644.22,1863.1 L645.38,1863.06 L646.54,1863.02 L647.69,1862.99 L648.85,1862.95 L650.01,1862.91 L651.16,1862.88 L652.32,1862.84 L653.48,1862.8 L654.64,1862.76 L655.8,1862.73 L656.95,1862.69 L658.11,1862.65 L659.27,1862.61 L660.42,1862.58 L661.58,1862.54 L662.74,1862.5 L663.9,1862.46 L665.06,1862.42 L666.21,1862.39 L667.37,1862.35 L668.53,1862.31 L669.68,1862.27 L670.84,1862.24 L672,1862.2 L673.16,1862.16 L674.32,1862.13 L675.47,1862.09 L676.63,1862.05 L677.79,1862.01 L678.94,1861.98 L680.1,1861.94 L681.26,1861.9 L682.42,1861.86 L683.58,1861.83 L684.73,1861.79 L685.89,1861.75 L687.05,1861.71 L688.2,1861.67 L689.36,1861.64 L690.52,1861.6 L691.68,1861.56 L692.84,1861.52 L693.99,1861.49 L695.15,1861.45 L696.31,1861.41 L697.46,1861.38 L698.62,1861.34 L699.78,1861.3 L700.94,1861.26 L702.1,1861.23 L703.25,1861.19 L704.41,1861.15 L705.57,1861.11 L706.72,1861.08 L707.88,1861.04 L709.04,1861 L710.2,1860.96 L711.36,1861 L712.51,1861.21 L713.67,1861.61 L714.83,1862.24 L715.98,1863.17 L717.14,1864.63 L718.3,1868.75 L718.3,1868.75 L717.14,1872.94 L715.98,1874.47 L714.83,1875.47 L713.67,1876.17 L712.51,1876.64 L711.36,1876.91 L710.2,1877.02 L709.04,1877.05 L707.88,1877.08 L706.72,1877.11 L705.57,1877.14 L704.41,1877.17 L703.25,1877.21 L702.1,1877.24 L700.94,1877.27 L699.78,1877.3 L698.62,1877.33 L697.46,1877.36 L696.31,1877.39 L695.15,1877.42 L693.99,1877.46 L692.84,1877.49 L691.68,1877.52 L690.52,1877.55 L689.36,1877.58 L688.2,1877.61 L687.05,1877.64 L685.89,1877.67 L684.73,1877.71 L683.58,1877.74 L682.42,1877.77 L681.26,1877.8 L680.1,1877.83 L678.94,1877.86 L677.79,1877.89 L676.63,1877.92 L675.47,1877.96 L674.32,1877.99 L673.16,1878.02 L672,1878.05 L670.84,1878.08 L669.68,1878.11 L668.53,1878.14 L667.37,1878.17 L666.21,1878.21 L665.06,1878.24 L663.9,1878.27 L662.74,1878.3 L661.58,1878.33 L660.42,1878.36 L659.27,1878.39 L658.11,1878.42 L656.95,1878.46 L655.8,1878.49 L654.64,1878.52 L653.48,1878.55 L652.32,1878.58 L651.16,1878.61 L650.01,1878.64 L648.85,1878.67 L647.69,1878.71 L646.54,1878.74 L645.38,1878.77 L644.22,1878.8 L643.06,1878.83 L641.9,1878.86 L640.75,1878.89 L639.59,1878.92 L638.43,1878.96 L637.28,1878.99 L636.12,1879.02 L634.96,1879.05 L633.8,1879.08 L632.64,1879.06 L631.49,1878.88 L630.33,1878.5 L629.17,1877.89 L628.02,1876.98 L626.86,1875.56 L625.7,1871.5 Z" fill="#2c2c2c" filter="url(#bl3_0)"/>
<path d="M272.8,1989 L274.1,1983.56 L275.4,1981.5 L276.69,1980.07 L277.99,1978.99 L279.29,1978.18 L280.59,1977.56 L281.88,1977.12 L283.18,1976.83 L284.48,1976.69 L285.78,1976.64 L287.07,1976.58 L288.37,1976.52 L289.67,1976.47 L290.97,1976.41 L292.26,1976.36 L293.56,1976.3 L294.86,1976.24 L296.16,1976.19 L297.45,1976.13 L298.75,1976.08 L300.05,1976.02 L301.35,1975.96 L302.64,1975.91 L303.94,1975.85 L305.24,1975.79 L306.54,1975.74 L307.83,1975.68 L309.13,1975.63 L310.43,1975.57 L311.73,1975.51 L313.02,1975.46 L314.32,1975.4 L315.62,1975.34 L316.92,1975.29 L318.21,1975.23 L319.51,1975.17 L320.81,1975.12 L322.11,1975.06 L323.4,1975.01 L324.7,1974.95 L326,1974.89 L327.3,1974.84 L328.59,1974.78 L329.89,1974.73 L331.19,1974.67 L332.49,1974.61 L333.78,1974.56 L335.08,1974.5 L336.38,1974.44 L337.68,1974.39 L338.97,1974.33 L340.27,1974.27 L341.57,1974.22 L342.87,1974.16 L344.16,1974.11 L345.46,1974.05 L346.76,1973.99 L348.06,1973.94 L349.35,1973.88 L350.65,1973.83 L351.95,1973.77 L353.25,1973.71 L354.54,1973.66 L355.84,1973.6 L357.14,1973.54 L358.44,1973.49 L359.73,1973.43 L361.03,1973.38 L362.33,1973.32 L363.62,1973.26 L364.92,1973.21 L366.22,1973.21 L367.52,1973.36 L368.82,1973.67 L370.11,1974.16 L371.41,1974.84 L372.71,1975.78 L374,1977.07 L375.3,1978.99 L376.6,1984.25 L376.6,1984.25 L375.3,1989.63 L374,1991.67 L372.71,1993.08 L371.41,1994.14 L370.11,1994.94 L368.82,1995.54 L367.52,1995.97 L366.22,1996.24 L364.92,1996.36 L363.62,1996.42 L362.33,1996.49 L361.03,1996.55 L359.73,1996.61 L358.44,1996.67 L357.14,1996.74 L355.84,1996.8 L354.54,1996.86 L353.25,1996.92 L351.95,1996.99 L350.65,1997.05 L349.35,1997.11 L348.06,1997.17 L346.76,1997.24 L345.46,1997.3 L344.16,1997.36 L342.87,1997.42 L341.57,1997.49 L340.27,1997.55 L338.97,1997.61 L337.68,1997.67 L336.38,1997.74 L335.08,1997.8 L333.78,1997.86 L332.49,1997.92 L331.19,1997.99 L329.89,1998.05 L328.59,1998.11 L327.3,1998.17 L326,1998.24 L324.7,1998.3 L323.4,1998.36 L322.11,1998.42 L320.81,1998.49 L319.51,1998.55 L318.21,1998.61 L316.92,1998.67 L315.62,1998.74 L314.32,1998.8 L313.02,1998.86 L311.73,1998.92 L310.43,1998.99 L309.13,1999.05 L307.83,1999.11 L306.54,1999.17 L305.24,1999.24 L303.94,1999.3 L302.64,1999.36 L301.35,1999.42 L300.05,1999.49 L298.75,1999.55 L297.45,1999.61 L296.16,1999.67 L294.86,1999.74 L293.56,1999.8 L292.26,1999.86 L290.97,1999.92 L289.67,1999.99 L288.37,2000.05 L287.07,2000.11 L285.78,2000.17 L284.48,2000.24 L283.18,2000.22 L281.88,2000.05 L280.59,1999.73 L279.29,1999.23 L277.99,1998.53 L276.69,1997.58 L275.4,1996.26 L274.1,1994.32 L272.8,1989 Z" fill="#2a2a2a" filter="url(#bl2_6)"/>
<path d="M389.2,1984.25 L390.41,1979.11 L391.62,1977.19 L392.82,1975.86 L394.03,1974.88 L395.24,1974.13 L396.44,1973.56 L397.65,1973.16 L398.86,1972.9 L400.07,1972.77 L401.27,1972.76 L402.48,1972.77 L403.69,1972.77 L404.9,1972.78 L406.11,1972.79 L407.31,1972.79 L408.52,1972.8 L409.73,1972.81 L410.94,1972.81 L412.14,1972.82 L413.35,1972.83 L414.56,1972.83 L415.76,1972.84 L416.97,1972.84 L418.18,1972.85 L419.39,1972.86 L420.59,1972.86 L421.8,1972.87 L423.01,1972.88 L424.22,1972.88 L425.43,1972.89 L426.63,1972.89 L427.84,1972.9 L429.05,1972.91 L430.25,1972.91 L431.46,1972.92 L432.67,1972.92 L433.88,1972.93 L435.08,1972.94 L436.29,1972.94 L437.5,1972.95 L438.71,1972.96 L439.92,1972.96 L441.12,1972.97 L442.33,1972.98 L443.54,1972.98 L444.75,1972.99 L445.95,1972.99 L447.16,1973 L448.37,1973.01 L449.57,1973.01 L450.78,1973.02 L451.99,1973.02 L453.2,1973.03 L454.4,1973.04 L455.61,1973.04 L456.82,1973.05 L458.03,1973.06 L459.24,1973.06 L460.44,1973.07 L461.65,1973.08 L462.86,1973.08 L464.06,1973.09 L465.27,1973.09 L466.48,1973.1 L467.69,1973.11 L468.89,1973.11 L470.1,1973.12 L471.31,1973.13 L472.52,1973.13 L473.73,1973.14 L474.93,1973.15 L476.14,1973.27 L477.35,1973.53 L478.56,1973.92 L479.76,1974.48 L480.97,1975.22 L482.18,1976.2 L483.38,1977.51 L484.59,1979.41 L485.8,1984.5 L485.8,1984.5 L484.59,1989.58 L483.38,1991.48 L482.18,1992.79 L480.97,1993.76 L479.76,1994.49 L478.56,1995.04 L477.35,1995.43 L476.14,1995.68 L474.93,1995.79 L473.73,1995.8 L472.52,1995.8 L471.31,1995.8 L470.1,1995.8 L468.89,1995.8 L467.69,1995.8 L466.48,1995.8 L465.27,1995.8 L464.06,1995.8 L462.86,1995.8 L461.65,1995.8 L460.44,1995.8 L459.24,1995.8 L458.03,1995.8 L456.82,1995.8 L455.61,1995.8 L454.4,1995.8 L453.2,1995.8 L451.99,1995.8 L450.78,1995.8 L449.57,1995.8 L448.37,1995.8 L447.16,1995.8 L445.95,1995.8 L444.75,1995.8 L443.54,1995.8 L442.33,1995.8 L441.12,1995.8 L439.92,1995.8 L438.71,1995.8 L437.5,1995.8 L436.29,1995.8 L435.08,1995.8 L433.88,1995.8 L432.67,1995.8 L431.46,1995.8 L430.25,1995.8 L429.05,1995.8 L427.84,1995.8 L426.63,1995.8 L425.43,1995.8 L424.22,1995.8 L423.01,1995.8 L421.8,1995.8 L420.59,1995.8 L419.39,1995.8 L418.18,1995.8 L416.97,1995.8 L415.76,1995.8 L414.56,1995.8 L413.35,1995.8 L412.14,1995.8 L410.94,1995.8 L409.73,1995.8 L408.52,1995.8 L407.31,1995.8 L406.11,1995.8 L404.9,1995.8 L403.69,1995.8 L402.48,1995.8 L401.27,1995.8 L400.07,1995.78 L398.86,1995.65 L397.65,1995.38 L396.44,1994.97 L395.24,1994.41 L394.03,1993.65 L392.82,1992.66 L391.62,1991.32 L390.41,1989.39 L389.2,1984.25 Z" fill="#2c2c2c" filter="url(#bl2_6)"/>
<path d="M502.2,1986.15 L503.39,1981.19 L504.58,1979.33 L505.77,1978.06 L506.96,1977.12 L508.15,1976.41 L509.34,1975.88 L510.53,1975.52 L511.72,1975.29 L512.91,1975.2 L514.1,1975.2 L515.29,1975.2 L516.48,1975.2 L517.67,1975.2 L518.86,1975.2 L520.05,1975.2 L521.24,1975.2 L522.43,1975.2 L523.62,1975.2 L524.81,1975.2 L526,1975.2 L527.19,1975.2 L528.38,1975.2 L529.57,1975.2 L530.76,1975.2 L531.95,1975.2 L533.14,1975.2 L534.33,1975.2 L535.52,1975.2 L536.71,1975.2 L537.9,1975.2 L539.09,1975.2 L540.28,1975.2 L541.47,1975.2 L542.66,1975.2 L543.85,1975.2 L545.04,1975.2 L546.23,1975.2 L547.42,1975.2 L548.61,1975.2 L549.8,1975.2 L550.99,1975.2 L552.18,1975.2 L553.37,1975.2 L554.56,1975.2 L555.75,1975.2 L556.94,1975.2 L558.13,1975.2 L559.32,1975.2 L560.51,1975.2 L561.7,1975.2 L562.89,1975.2 L564.08,1975.2 L565.27,1975.2 L566.46,1975.2 L567.65,1975.2 L568.84,1975.2 L570.03,1975.2 L571.22,1975.2 L572.41,1975.2 L573.6,1975.2 L574.79,1975.2 L575.98,1975.2 L577.17,1975.2 L578.36,1975.2 L579.55,1975.2 L580.74,1975.2 L581.93,1975.2 L583.12,1975.2 L584.31,1975.2 L585.5,1975.2 L586.69,1975.2 L587.88,1975.29 L589.07,1975.52 L590.26,1975.88 L591.45,1976.41 L592.64,1977.12 L593.83,1978.06 L595.02,1979.33 L596.21,1981.19 L597.4,1986.15 L597.4,1986.15 L596.21,1991.11 L595.02,1992.97 L593.83,1994.24 L592.64,1995.18 L591.45,1995.89 L590.26,1996.42 L589.07,1996.78 L587.88,1997.01 L586.69,1997.1 L585.5,1997.1 L584.31,1997.1 L583.12,1997.1 L581.93,1997.1 L580.74,1997.1 L579.55,1997.1 L578.36,1997.1 L577.17,1997.1 L575.98,1997.1 L574.79,1997.1 L573.6,1997.1 L572.41,1997.1 L571.22,1997.1 L570.03,1997.1 L568.84,1997.1 L567.65,1997.1 L566.46,1997.1 L565.27,1997.1 L564.08,1997.1 L562.89,1997.1 L561.7,1997.1 L560.51,1997.1 L559.32,1997.1 L558.13,1997.1 L556.94,1997.1 L555.75,1997.1 L554.56,1997.1 L553.37,1997.1 L552.18,1997.1 L550.99,1997.1 L549.8,1997.1 L548.61,1997.1 L547.42,1997.1 L546.23,1997.1 L545.04,1997.1 L543.85,1997.1 L542.66,1997.1 L541.47,1997.1 L540.28,1997.1 L539.09,1997.1 L537.9,1997.1 L536.71,1997.1 L535.52,1997.1 L534.33,1997.1 L533.14,1997.1 L531.95,1997.1 L530.76,1997.1 L529.57,1997.1 L528.38,1997.1 L527.19,1997.1 L526,1997.1 L524.81,1997.1 L523.62,1997.1 L522.43,1997.1 L521.24,1997.1 L520.05,1997.1 L518.86,1997.1 L517.67,1997.1 L516.48,1997.1 L515.29,1997.1 L514.1,1997.1 L512.91,1997.1 L511.72,1997.01 L510.53,1996.78 L509.34,1996.42 L508.15,1995.89 L506.96,1995.18 L505.77,1994.24 L504.58,1992.97 L503.39,1991.11 L502.2,1986.15 Z" fill="#2c2c2c" filter="url(#bl2_6)"/>
<path d="M617.5,1988 L618.64,1982.71 L619.79,1980.69 L620.93,1979.27 L622.08,1978.18 L623.22,1977.32 L624.36,1976.65 L625.51,1976.12 L626.65,1975.72 L627.79,1975.44 L628.94,1975.27 L630.08,1975.2 L631.23,1975.2 L632.37,1975.2 L633.51,1975.2 L634.66,1975.2 L635.8,1975.2 L636.94,1975.2 L638.09,1975.2 L639.23,1975.2 L640.38,1975.2 L641.52,1975.2 L642.66,1975.2 L643.81,1975.2 L644.95,1975.2 L646.09,1975.2 L647.24,1975.2 L648.38,1975.2 L649.52,1975.2 L650.67,1975.2 L651.81,1975.2 L652.96,1975.2 L654.1,1975.2 L655.24,1975.2 L656.39,1975.2 L657.53,1975.2 L658.67,1975.2 L659.82,1975.2 L660.96,1975.2 L662.11,1975.2 L663.25,1975.2 L664.39,1975.2 L665.54,1975.2 L666.68,1975.2 L667.83,1975.2 L668.97,1975.2 L670.11,1975.2 L671.26,1975.2 L672.4,1975.2 L673.54,1975.2 L674.69,1975.2 L675.83,1975.2 L676.98,1975.2 L678.12,1975.2 L679.26,1975.2 L680.41,1975.2 L681.55,1975.2 L682.69,1975.2 L683.84,1975.2 L684.98,1975.2 L686.12,1975.2 L687.27,1975.2 L688.41,1975.2 L689.56,1975.2 L690.7,1975.2 L691.84,1975.2 L692.99,1975.2 L694.13,1975.2 L695.27,1975.2 L696.42,1975.2 L697.56,1975.23 L698.71,1975.37 L699.85,1975.62 L700.99,1975.99 L702.14,1976.48 L703.28,1977.12 L704.42,1977.94 L705.57,1978.99 L706.71,1980.36 L707.86,1982.33 L709,1987.5 L709,1987.5 L707.86,1992.69 L706.71,1994.66 L705.57,1996.05 L704.42,1997.11 L703.28,1997.94 L702.14,1998.59 L700.99,1999.1 L699.85,1999.48 L698.71,1999.74 L697.56,1999.89 L696.42,1999.94 L695.27,1999.95 L694.13,1999.96 L692.99,1999.98 L691.84,1999.99 L690.7,2000 L689.56,2000.01 L688.41,2000.02 L687.27,2000.04 L686.12,2000.05 L684.98,2000.06 L683.84,2000.08 L682.69,2000.09 L681.55,2000.1 L680.41,2000.11 L679.26,2000.12 L678.12,2000.14 L676.98,2000.15 L675.83,2000.16 L674.69,2000.17 L673.54,2000.19 L672.4,2000.2 L671.26,2000.21 L670.11,2000.23 L668.97,2000.24 L667.83,2000.25 L666.68,2000.26 L665.54,2000.27 L664.39,2000.29 L663.25,2000.3 L662.11,2000.31 L660.96,2000.33 L659.82,2000.34 L658.67,2000.35 L657.53,2000.36 L656.39,2000.37 L655.24,2000.39 L654.1,2000.4 L652.96,2000.41 L651.81,2000.42 L650.67,2000.44 L649.52,2000.45 L648.38,2000.46 L647.24,2000.48 L646.09,2000.49 L644.95,2000.5 L643.81,2000.51 L642.66,2000.52 L641.52,2000.54 L640.38,2000.55 L639.23,2000.56 L638.09,2000.58 L636.94,2000.59 L635.8,2000.6 L634.66,2000.61 L633.51,2000.62 L632.37,2000.64 L631.23,2000.65 L630.08,2000.66 L628.94,2000.61 L627.79,2000.45 L626.65,2000.18 L625.51,1999.8 L624.36,1999.28 L623.22,1998.61 L622.08,1997.77 L620.93,1996.7 L619.79,1995.29 L618.64,1993.28 L617.5,1988 Z" fill="#2a2a2a" filter="url(#bl2_6)"/>
<path d="M1242.1,1871.75 L1243.06,1868.07 L1244.02,1866.73 L1244.98,1865.83 L1245.94,1865.19 L1246.89,1864.74 L1247.85,1864.45 L1248.81,1864.29 L1249.77,1864.25 L1250.73,1864.26 L1251.69,1864.26 L1252.65,1864.27 L1253.61,1864.28 L1254.56,1864.28 L1255.52,1864.29 L1256.48,1864.29 L1257.44,1864.3 L1258.4,1864.31 L1259.36,1864.31 L1260.32,1864.32 L1261.28,1864.33 L1262.23,1864.33 L1263.19,1864.34 L1264.15,1864.34 L1265.11,1864.35 L1266.07,1864.36 L1267.03,1864.36 L1267.99,1864.37 L1268.95,1864.38 L1269.9,1864.38 L1270.86,1864.39 L1271.82,1864.39 L1272.78,1864.4 L1273.74,1864.41 L1274.7,1864.41 L1275.66,1864.42 L1276.62,1864.42 L1277.57,1864.43 L1278.53,1864.44 L1279.49,1864.44 L1280.45,1864.45 L1281.41,1864.46 L1282.37,1864.46 L1283.33,1864.47 L1284.29,1864.48 L1285.24,1864.48 L1286.2,1864.49 L1287.16,1864.49 L1288.12,1864.5 L1289.08,1864.51 L1290.04,1864.51 L1291,1864.52 L1291.95,1864.53 L1292.91,1864.53 L1293.87,1864.54 L1294.83,1864.54 L1295.79,1864.55 L1296.75,1864.56 L1297.71,1864.56 L1298.67,1864.57 L1299.62,1864.58 L1300.58,1864.58 L1301.54,1864.59 L1302.5,1864.59 L1303.46,1864.6 L1304.42,1864.61 L1305.38,1864.61 L1306.34,1864.62 L1307.3,1864.62 L1308.25,1864.63 L1309.21,1864.64 L1310.17,1864.64 L1311.13,1864.65 L1312.09,1864.67 L1313.05,1864.79 L1314.01,1865.05 L1314.96,1865.46 L1315.92,1866.06 L1316.88,1866.91 L1317.84,1868.2 L1318.8,1871.75 L1318.8,1871.75 L1317.84,1875.3 L1316.88,1876.59 L1315.92,1877.44 L1314.96,1878.04 L1314.01,1878.45 L1313.05,1878.71 L1312.09,1878.83 L1311.13,1878.85 L1310.17,1878.86 L1309.21,1878.86 L1308.25,1878.87 L1307.3,1878.88 L1306.34,1878.88 L1305.38,1878.89 L1304.42,1878.89 L1303.46,1878.9 L1302.5,1878.91 L1301.54,1878.91 L1300.58,1878.92 L1299.62,1878.92 L1298.67,1878.93 L1297.71,1878.94 L1296.75,1878.94 L1295.79,1878.95 L1294.83,1878.96 L1293.87,1878.96 L1292.91,1878.97 L1291.95,1878.97 L1291,1878.98 L1290.04,1878.99 L1289.08,1878.99 L1288.12,1879 L1287.16,1879.01 L1286.2,1879.01 L1285.24,1879.02 L1284.29,1879.02 L1283.33,1879.03 L1282.37,1879.04 L1281.41,1879.04 L1280.45,1879.05 L1279.49,1879.06 L1278.53,1879.06 L1277.57,1879.07 L1276.62,1879.08 L1275.66,1879.08 L1274.7,1879.09 L1273.74,1879.09 L1272.78,1879.1 L1271.82,1879.11 L1270.86,1879.11 L1269.9,1879.12 L1268.95,1879.12 L1267.99,1879.13 L1267.03,1879.14 L1266.07,1879.14 L1265.11,1879.15 L1264.15,1879.16 L1263.19,1879.16 L1262.23,1879.17 L1261.28,1879.17 L1260.32,1879.18 L1259.36,1879.19 L1258.4,1879.19 L1257.44,1879.2 L1256.48,1879.21 L1255.52,1879.21 L1254.56,1879.22 L1253.61,1879.22 L1252.65,1879.23 L1251.69,1879.24 L1250.73,1879.24 L1249.77,1879.25 L1248.81,1879.21 L1247.85,1879.05 L1246.89,1878.76 L1245.94,1878.31 L1244.98,1877.67 L1244.02,1876.77 L1243.06,1875.43 L1242.1,1871.75 Z" fill="#070707" filter="url(#bl1_6)"/>
<path d="M1356.2,1876 L1357.14,1872.16 L1358.09,1870.73 L1359.03,1869.77 L1359.97,1869.06 L1360.91,1868.54 L1361.86,1868.18 L1362.8,1867.94 L1363.74,1867.82 L1364.68,1867.81 L1365.62,1867.83 L1366.57,1867.84 L1367.51,1867.85 L1368.45,1867.86 L1369.39,1867.88 L1370.34,1867.89 L1371.28,1867.9 L1372.22,1867.91 L1373.16,1867.93 L1374.11,1867.94 L1375.05,1867.95 L1375.99,1867.96 L1376.93,1867.97 L1377.88,1867.99 L1378.82,1868 L1379.76,1868.01 L1380.7,1868.03 L1381.65,1868.04 L1382.59,1868.05 L1383.53,1868.06 L1384.47,1868.08 L1385.42,1868.09 L1386.36,1868.1 L1387.3,1868.11 L1388.24,1868.12 L1389.19,1868.14 L1390.13,1868.15 L1391.07,1868.16 L1392.01,1868.18 L1392.96,1868.19 L1393.9,1868.2 L1394.84,1868.21 L1395.79,1868.22 L1396.73,1868.24 L1397.67,1868.25 L1398.61,1868.26 L1399.56,1868.28 L1400.5,1868.29 L1401.44,1868.3 L1402.38,1868.31 L1403.33,1868.33 L1404.27,1868.34 L1405.21,1868.35 L1406.15,1868.36 L1407.1,1868.38 L1408.04,1868.39 L1408.98,1868.4 L1409.92,1868.41 L1410.87,1868.43 L1411.81,1868.44 L1412.75,1868.45 L1413.69,1868.46 L1414.63,1868.47 L1415.58,1868.49 L1416.52,1868.5 L1417.46,1868.51 L1418.4,1868.53 L1419.35,1868.54 L1420.29,1868.55 L1421.23,1868.56 L1422.17,1868.58 L1423.12,1868.59 L1424.06,1868.6 L1425,1868.62 L1425.94,1868.74 L1426.89,1868.99 L1427.83,1869.39 L1428.77,1869.97 L1429.71,1870.8 L1430.66,1872.05 L1431.6,1875.5 L1431.6,1875.5 L1430.66,1878.97 L1429.71,1880.23 L1428.77,1881.07 L1427.83,1881.66 L1426.89,1882.07 L1425.94,1882.33 L1425,1882.47 L1424.06,1882.5 L1423.12,1882.53 L1422.17,1882.55 L1421.23,1882.57 L1420.29,1882.6 L1419.35,1882.62 L1418.4,1882.65 L1417.46,1882.67 L1416.52,1882.7 L1415.58,1882.72 L1414.63,1882.75 L1413.69,1882.78 L1412.75,1882.8 L1411.81,1882.82 L1410.87,1882.85 L1409.92,1882.88 L1408.98,1882.9 L1408.04,1882.92 L1407.1,1882.95 L1406.15,1882.97 L1405.21,1883 L1404.27,1883.03 L1403.33,1883.05 L1402.38,1883.07 L1401.44,1883.1 L1400.5,1883.12 L1399.56,1883.15 L1398.61,1883.17 L1397.67,1883.2 L1396.73,1883.22 L1395.79,1883.25 L1394.84,1883.28 L1393.9,1883.3 L1392.96,1883.32 L1392.01,1883.35 L1391.07,1883.38 L1390.13,1883.4 L1389.19,1883.42 L1388.24,1883.45 L1387.3,1883.47 L1386.36,1883.5 L1385.42,1883.53 L1384.47,1883.55 L1383.53,1883.57 L1382.59,1883.6 L1381.65,1883.62 L1380.7,1883.65 L1379.76,1883.67 L1378.82,1883.7 L1377.88,1883.72 L1376.93,1883.75 L1375.99,1883.78 L1375.05,1883.8 L1374.11,1883.82 L1373.16,1883.85 L1372.22,1883.88 L1371.28,1883.9 L1370.34,1883.92 L1369.39,1883.95 L1368.45,1883.97 L1367.51,1884 L1366.57,1884.03 L1365.62,1884.05 L1364.68,1884.07 L1363.74,1884.08 L1362.8,1883.97 L1361.86,1883.75 L1360.91,1883.39 L1359.97,1882.89 L1359.03,1882.2 L1358.09,1881.24 L1357.14,1879.83 L1356.2,1876 Z" fill="#090909" filter="url(#bl1_6)"/>
<path d="M1465.5,1876 L1466.5,1872.58 L1467.51,1871.38 L1468.51,1870.62 L1469.52,1870.12 L1470.52,1869.83 L1471.52,1869.7 L1472.53,1869.7 L1473.53,1869.7 L1474.53,1869.7 L1475.54,1869.7 L1476.54,1869.7 L1477.55,1869.7 L1478.55,1869.7 L1479.55,1869.7 L1480.56,1869.7 L1481.56,1869.7 L1482.56,1869.7 L1483.57,1869.7 L1484.57,1869.7 L1485.58,1869.7 L1486.58,1869.7 L1487.58,1869.7 L1488.59,1869.7 L1489.59,1869.7 L1490.59,1869.7 L1491.6,1869.7 L1492.6,1869.7 L1493.61,1869.7 L1494.61,1869.7 L1495.61,1869.7 L1496.62,1869.7 L1497.62,1869.7 L1498.62,1869.7 L1499.63,1869.7 L1500.63,1869.7 L1501.63,1869.7 L1502.64,1869.7 L1503.64,1869.7 L1504.65,1869.7 L1505.65,1869.7 L1506.65,1869.7 L1507.66,1869.7 L1508.66,1869.7 L1509.66,1869.7 L1510.67,1869.7 L1511.67,1869.7 L1512.68,1869.7 L1513.68,1869.7 L1514.68,1869.7 L1515.69,1869.7 L1516.69,1869.7 L1517.69,1869.7 L1518.7,1869.7 L1519.7,1869.7 L1520.71,1869.7 L1521.71,1869.7 L1522.71,1869.7 L1523.72,1869.7 L1524.72,1869.7 L1525.72,1869.7 L1526.73,1869.7 L1527.73,1869.7 L1528.74,1869.7 L1529.74,1869.7 L1530.74,1869.7 L1531.75,1869.7 L1532.75,1869.7 L1533.75,1869.7 L1534.76,1869.7 L1535.76,1869.7 L1536.77,1869.7 L1537.77,1869.7 L1538.77,1869.7 L1539.78,1869.7 L1540.78,1869.76 L1541.78,1869.99 L1542.79,1870.42 L1543.79,1871.12 L1544.8,1872.24 L1545.8,1875.5 L1545.8,1875.5 L1544.8,1878.77 L1543.79,1879.91 L1542.79,1880.62 L1541.78,1881.06 L1540.78,1881.31 L1539.78,1881.37 L1538.77,1881.39 L1537.77,1881.4 L1536.77,1881.41 L1535.76,1881.42 L1534.76,1881.44 L1533.75,1881.45 L1532.75,1881.46 L1531.75,1881.48 L1530.74,1881.49 L1529.74,1881.5 L1528.74,1881.51 L1527.73,1881.52 L1526.73,1881.54 L1525.72,1881.55 L1524.72,1881.56 L1523.72,1881.58 L1522.71,1881.59 L1521.71,1881.6 L1520.71,1881.61 L1519.7,1881.62 L1518.7,1881.64 L1517.69,1881.65 L1516.69,1881.66 L1515.69,1881.67 L1514.68,1881.69 L1513.68,1881.7 L1512.68,1881.71 L1511.67,1881.73 L1510.67,1881.74 L1509.66,1881.75 L1508.66,1881.76 L1507.66,1881.77 L1506.65,1881.79 L1505.65,1881.8 L1504.65,1881.81 L1503.64,1881.83 L1502.64,1881.84 L1501.63,1881.85 L1500.63,1881.86 L1499.63,1881.87 L1498.62,1881.89 L1497.62,1881.9 L1496.62,1881.91 L1495.61,1881.92 L1494.61,1881.94 L1493.61,1881.95 L1492.6,1881.96 L1491.6,1881.98 L1490.59,1881.99 L1489.59,1882 L1488.59,1882.01 L1487.58,1882.02 L1486.58,1882.04 L1485.58,1882.05 L1484.57,1882.06 L1483.57,1882.08 L1482.56,1882.09 L1481.56,1882.1 L1480.56,1882.11 L1479.55,1882.12 L1478.55,1882.14 L1477.55,1882.15 L1476.54,1882.16 L1475.54,1882.17 L1474.53,1882.19 L1473.53,1882.2 L1472.53,1882.21 L1471.52,1882.22 L1470.52,1882.11 L1469.52,1881.83 L1468.51,1881.34 L1467.51,1880.59 L1466.5,1879.4 L1465.5,1876 Z" fill="#5e5e5e" filter="url(#bl2_6)"/>
<path d="M1583.2,1873.75 L1584.21,1870.39 L1585.22,1869.21 L1586.22,1868.46 L1587.23,1867.98 L1588.24,1867.69 L1589.25,1867.59 L1590.25,1867.57 L1591.26,1867.55 L1592.27,1867.53 L1593.28,1867.51 L1594.28,1867.49 L1595.29,1867.48 L1596.3,1867.46 L1597.31,1867.44 L1598.31,1867.42 L1599.32,1867.4 L1600.33,1867.38 L1601.34,1867.36 L1602.34,1867.34 L1603.35,1867.33 L1604.36,1867.31 L1605.37,1867.29 L1606.37,1867.27 L1607.38,1867.25 L1608.39,1867.23 L1609.39,1867.21 L1610.4,1867.19 L1611.41,1867.17 L1612.42,1867.16 L1613.42,1867.14 L1614.43,1867.12 L1615.44,1867.1 L1616.45,1867.08 L1617.45,1867.06 L1618.46,1867.04 L1619.47,1867.03 L1620.48,1867.01 L1621.48,1866.99 L1622.49,1866.97 L1623.5,1866.95 L1624.51,1866.93 L1625.52,1866.91 L1626.52,1866.89 L1627.53,1866.88 L1628.54,1866.86 L1629.55,1866.84 L1630.55,1866.82 L1631.56,1866.8 L1632.57,1866.78 L1633.58,1866.76 L1634.58,1866.74 L1635.59,1866.73 L1636.6,1866.71 L1637.61,1866.69 L1638.61,1866.67 L1639.62,1866.65 L1640.63,1866.63 L1641.63,1866.61 L1642.64,1866.59 L1643.65,1866.58 L1644.66,1866.56 L1645.66,1866.54 L1646.67,1866.52 L1647.68,1866.5 L1648.69,1866.48 L1649.69,1866.46 L1650.7,1866.44 L1651.71,1866.42 L1652.72,1866.41 L1653.72,1866.39 L1654.73,1866.37 L1655.74,1866.35 L1656.75,1866.33 L1657.75,1866.32 L1658.76,1866.42 L1659.77,1866.69 L1660.78,1867.17 L1661.78,1867.92 L1662.79,1869.1 L1663.8,1872.5 L1663.8,1872.5 L1662.79,1875.93 L1661.78,1877.15 L1660.78,1877.92 L1659.77,1878.43 L1658.76,1878.74 L1657.75,1878.87 L1656.75,1878.89 L1655.74,1878.9 L1654.73,1878.91 L1653.72,1878.92 L1652.72,1878.94 L1651.71,1878.95 L1650.7,1878.96 L1649.69,1878.97 L1648.69,1878.99 L1647.68,1879 L1646.67,1879.01 L1645.66,1879.02 L1644.66,1879.04 L1643.65,1879.05 L1642.64,1879.06 L1641.63,1879.08 L1640.63,1879.09 L1639.62,1879.1 L1638.61,1879.11 L1637.61,1879.12 L1636.6,1879.14 L1635.59,1879.15 L1634.58,1879.16 L1633.58,1879.17 L1632.57,1879.19 L1631.56,1879.2 L1630.55,1879.21 L1629.55,1879.22 L1628.54,1879.24 L1627.53,1879.25 L1626.52,1879.26 L1625.52,1879.27 L1624.51,1879.29 L1623.5,1879.3 L1622.49,1879.31 L1621.48,1879.33 L1620.48,1879.34 L1619.47,1879.35 L1618.46,1879.36 L1617.45,1879.38 L1616.45,1879.39 L1615.44,1879.4 L1614.43,1879.41 L1613.42,1879.42 L1612.42,1879.44 L1611.41,1879.45 L1610.4,1879.46 L1609.39,1879.47 L1608.39,1879.49 L1607.38,1879.5 L1606.37,1879.51 L1605.37,1879.52 L1604.36,1879.54 L1603.35,1879.55 L1602.34,1879.56 L1601.34,1879.58 L1600.33,1879.59 L1599.32,1879.6 L1598.31,1879.61 L1597.31,1879.62 L1596.3,1879.64 L1595.29,1879.65 L1594.28,1879.66 L1593.28,1879.67 L1592.27,1879.69 L1591.26,1879.7 L1590.25,1879.71 L1589.25,1879.72 L1588.24,1879.65 L1587.23,1879.4 L1586.22,1878.95 L1585.22,1878.23 L1584.21,1877.08 L1583.2,1873.75 Z" fill="#9c9c9c" filter="url(#bl3_0)"/>
<path d="M1206.6,1985.25 L1207.89,1979.26 L1209.17,1976.97 L1210.46,1975.36 L1211.75,1974.12 L1213.03,1973.14 L1214.32,1972.36 L1215.6,1971.75 L1216.89,1971.28 L1218.18,1970.95 L1219.46,1970.73 L1220.75,1970.64 L1222.04,1970.62 L1223.32,1970.62 L1224.61,1970.61 L1225.89,1970.61 L1227.18,1970.6 L1228.47,1970.59 L1229.75,1970.59 L1231.04,1970.58 L1232.33,1970.58 L1233.61,1970.57 L1234.9,1970.56 L1236.18,1970.56 L1237.47,1970.55 L1238.76,1970.54 L1240.04,1970.54 L1241.33,1970.53 L1242.62,1970.53 L1243.9,1970.52 L1245.19,1970.51 L1246.47,1970.51 L1247.76,1970.5 L1249.05,1970.49 L1250.33,1970.49 L1251.62,1970.48 L1252.9,1970.47 L1254.19,1970.47 L1255.48,1970.46 L1256.76,1970.46 L1258.05,1970.45 L1259.34,1970.44 L1260.62,1970.44 L1261.91,1970.43 L1263.2,1970.43 L1264.48,1970.42 L1265.77,1970.41 L1267.05,1970.41 L1268.34,1970.4 L1269.63,1970.39 L1270.91,1970.39 L1272.2,1970.38 L1273.49,1970.38 L1274.77,1970.37 L1276.06,1970.36 L1277.34,1970.36 L1278.63,1970.35 L1279.92,1970.34 L1281.2,1970.34 L1282.49,1970.33 L1283.78,1970.33 L1285.06,1970.32 L1286.35,1970.31 L1287.63,1970.31 L1288.92,1970.3 L1290.21,1970.29 L1291.49,1970.29 L1292.78,1970.28 L1294.07,1970.28 L1295.35,1970.27 L1296.64,1970.34 L1297.92,1970.52 L1299.21,1970.83 L1300.5,1971.27 L1301.78,1971.85 L1303.07,1972.6 L1304.36,1973.55 L1305.64,1974.75 L1306.93,1976.33 L1308.21,1978.58 L1309.5,1984.5 L1309.5,1984.5 L1308.21,1990.44 L1306.93,1992.7 L1305.64,1994.3 L1304.36,1995.53 L1303.07,1996.5 L1301.78,1997.26 L1300.5,1997.86 L1299.21,1998.32 L1297.92,1998.65 L1296.64,1998.85 L1295.35,1998.94 L1294.07,1998.95 L1292.78,1998.96 L1291.49,1998.97 L1290.21,1998.99 L1288.92,1999 L1287.63,1999.01 L1286.35,1999.03 L1285.06,1999.04 L1283.78,1999.05 L1282.49,1999.06 L1281.2,1999.07 L1279.92,1999.09 L1278.63,1999.1 L1277.34,1999.11 L1276.06,1999.12 L1274.77,1999.14 L1273.49,1999.15 L1272.2,1999.16 L1270.91,1999.17 L1269.63,1999.19 L1268.34,1999.2 L1267.05,1999.21 L1265.77,1999.22 L1264.48,1999.24 L1263.2,1999.25 L1261.91,1999.26 L1260.62,1999.28 L1259.34,1999.29 L1258.05,1999.3 L1256.76,1999.31 L1255.48,1999.32 L1254.19,1999.34 L1252.9,1999.35 L1251.62,1999.36 L1250.33,1999.38 L1249.05,1999.39 L1247.76,1999.4 L1246.47,1999.41 L1245.19,1999.42 L1243.9,1999.44 L1242.62,1999.45 L1241.33,1999.46 L1240.04,1999.47 L1238.76,1999.49 L1237.47,1999.5 L1236.18,1999.51 L1234.9,1999.53 L1233.61,1999.54 L1232.33,1999.55 L1231.04,1999.56 L1229.75,1999.57 L1228.47,1999.59 L1227.18,1999.6 L1225.89,1999.61 L1224.61,1999.62 L1223.32,1999.64 L1222.04,1999.65 L1220.75,1999.66 L1219.46,1999.58 L1218.18,1999.39 L1216.89,1999.07 L1215.6,1998.62 L1214.32,1998.03 L1213.03,1997.27 L1211.75,1996.31 L1210.46,1995.09 L1209.17,1993.49 L1207.89,1991.22 L1206.6,1985.25 Z" fill="#1e1e1e" filter="url(#bl2_2)"/>
<path d="M1331.5,1982.75 L1332.75,1977.17 L1334,1975.06 L1335.25,1973.58 L1336.5,1972.45 L1337.75,1971.58 L1339,1970.9 L1340.25,1970.39 L1341.5,1970.01 L1342.75,1969.77 L1344,1969.65 L1345.25,1969.63 L1346.5,1969.62 L1347.75,1969.62 L1349,1969.61 L1350.25,1969.61 L1351.5,1969.6 L1352.75,1969.59 L1354,1969.59 L1355.25,1969.58 L1356.5,1969.58 L1357.75,1969.57 L1359,1969.56 L1360.25,1969.56 L1361.5,1969.55 L1362.75,1969.54 L1364,1969.54 L1365.25,1969.53 L1366.5,1969.53 L1367.75,1969.52 L1369,1969.51 L1370.25,1969.51 L1371.5,1969.5 L1372.75,1969.49 L1374,1969.49 L1375.25,1969.48 L1376.5,1969.48 L1377.75,1969.47 L1379,1969.46 L1380.25,1969.46 L1381.5,1969.45 L1382.75,1969.44 L1384,1969.44 L1385.25,1969.43 L1386.5,1969.42 L1387.75,1969.42 L1389,1969.41 L1390.25,1969.41 L1391.5,1969.4 L1392.75,1969.39 L1394,1969.39 L1395.25,1969.38 L1396.5,1969.38 L1397.75,1969.37 L1399,1969.36 L1400.25,1969.36 L1401.5,1969.35 L1402.75,1969.34 L1404,1969.34 L1405.25,1969.33 L1406.5,1969.33 L1407.75,1969.32 L1409,1969.31 L1410.25,1969.31 L1411.5,1969.3 L1412.75,1969.29 L1414,1969.29 L1415.25,1969.28 L1416.5,1969.28 L1417.75,1969.27 L1419,1969.27 L1420.25,1969.38 L1421.5,1969.61 L1422.75,1969.97 L1424,1970.48 L1425.25,1971.14 L1426.5,1972 L1427.75,1973.11 L1429,1974.58 L1430.25,1976.68 L1431.5,1982.25 L1431.5,1982.25 L1430.25,1987.83 L1429,1989.94 L1427.75,1991.42 L1426.5,1992.55 L1425.25,1993.42 L1424,1994.1 L1422.75,1994.61 L1421.5,1994.99 L1420.25,1995.23 L1419,1995.35 L1417.75,1995.37 L1416.5,1995.38 L1415.25,1995.38 L1414,1995.39 L1412.75,1995.39 L1411.5,1995.4 L1410.25,1995.41 L1409,1995.41 L1407.75,1995.42 L1406.5,1995.42 L1405.25,1995.43 L1404,1995.44 L1402.75,1995.44 L1401.5,1995.45 L1400.25,1995.46 L1399,1995.46 L1397.75,1995.47 L1396.5,1995.47 L1395.25,1995.48 L1394,1995.49 L1392.75,1995.49 L1391.5,1995.5 L1390.25,1995.51 L1389,1995.51 L1387.75,1995.52 L1386.5,1995.52 L1385.25,1995.53 L1384,1995.54 L1382.75,1995.54 L1381.5,1995.55 L1380.25,1995.56 L1379,1995.56 L1377.75,1995.57 L1376.5,1995.58 L1375.25,1995.58 L1374,1995.59 L1372.75,1995.59 L1371.5,1995.6 L1370.25,1995.61 L1369,1995.61 L1367.75,1995.62 L1366.5,1995.62 L1365.25,1995.63 L1364,1995.64 L1362.75,1995.64 L1361.5,1995.65 L1360.25,1995.66 L1359,1995.66 L1357.75,1995.67 L1356.5,1995.67 L1355.25,1995.68 L1354,1995.69 L1352.75,1995.69 L1351.5,1995.7 L1350.25,1995.71 L1349,1995.71 L1347.75,1995.72 L1346.5,1995.72 L1345.25,1995.73 L1344,1995.73 L1342.75,1995.62 L1341.5,1995.39 L1340.25,1995.03 L1339,1994.52 L1337.75,1993.86 L1336.5,1993 L1335.25,1991.89 L1334,1990.42 L1332.75,1988.32 L1331.5,1982.75 Z" fill="#1e1e1e" filter="url(#bl2_2)"/>
<path d="M1457.2,1981.25 L1458.46,1975.66 L1459.72,1973.54 L1460.97,1972.07 L1462.23,1970.95 L1463.49,1970.08 L1464.75,1969.41 L1466,1968.9 L1467.26,1968.54 L1468.52,1968.31 L1469.78,1968.21 L1471.03,1968.2 L1472.29,1968.2 L1473.55,1968.2 L1474.81,1968.2 L1476.06,1968.2 L1477.32,1968.2 L1478.58,1968.2 L1479.84,1968.2 L1481.09,1968.2 L1482.35,1968.2 L1483.61,1968.2 L1484.87,1968.2 L1486.12,1968.2 L1487.38,1968.2 L1488.64,1968.2 L1489.89,1968.2 L1491.15,1968.2 L1492.41,1968.2 L1493.67,1968.2 L1494.92,1968.2 L1496.18,1968.2 L1497.44,1968.2 L1498.7,1968.2 L1499.95,1968.2 L1501.21,1968.2 L1502.47,1968.2 L1503.73,1968.2 L1504.98,1968.2 L1506.24,1968.2 L1507.5,1968.2 L1508.76,1968.2 L1510.02,1968.2 L1511.27,1968.2 L1512.53,1968.2 L1513.79,1968.2 L1515.05,1968.2 L1516.3,1968.2 L1517.56,1968.2 L1518.82,1968.2 L1520.08,1968.2 L1521.33,1968.2 L1522.59,1968.2 L1523.85,1968.2 L1525.11,1968.2 L1526.36,1968.2 L1527.62,1968.2 L1528.88,1968.2 L1530.13,1968.2 L1531.39,1968.2 L1532.65,1968.2 L1533.91,1968.2 L1535.16,1968.2 L1536.42,1968.2 L1537.68,1968.2 L1538.94,1968.2 L1540.19,1968.2 L1541.45,1968.2 L1542.71,1968.2 L1543.97,1968.2 L1545.22,1968.2 L1546.48,1968.29 L1547.74,1968.5 L1549,1968.85 L1550.25,1969.34 L1551.51,1969.99 L1552.77,1970.83 L1554.03,1971.93 L1555.28,1973.38 L1556.54,1975.47 L1557.8,1981 L1557.8,1981 L1556.54,1986.54 L1555.28,1988.63 L1554.03,1990.09 L1552.77,1991.19 L1551.51,1992.04 L1550.25,1992.7 L1549,1993.2 L1547.74,1993.55 L1546.48,1993.77 L1545.22,1993.86 L1543.97,1993.87 L1542.71,1993.87 L1541.45,1993.88 L1540.19,1993.89 L1538.94,1993.89 L1537.68,1993.9 L1536.42,1993.91 L1535.16,1993.91 L1533.91,1993.92 L1532.65,1993.92 L1531.39,1993.93 L1530.13,1993.94 L1528.88,1993.94 L1527.62,1993.95 L1526.36,1993.96 L1525.11,1993.96 L1523.85,1993.97 L1522.59,1993.98 L1521.33,1993.98 L1520.08,1993.99 L1518.82,1993.99 L1517.56,1994 L1516.3,1994.01 L1515.05,1994.01 L1513.79,1994.02 L1512.53,1994.02 L1511.27,1994.03 L1510.02,1994.04 L1508.76,1994.04 L1507.5,1994.05 L1506.24,1994.06 L1504.98,1994.06 L1503.73,1994.07 L1502.47,1994.08 L1501.21,1994.08 L1499.95,1994.09 L1498.7,1994.09 L1497.44,1994.1 L1496.18,1994.11 L1494.92,1994.11 L1493.67,1994.12 L1492.41,1994.12 L1491.15,1994.13 L1489.89,1994.14 L1488.64,1994.14 L1487.38,1994.15 L1486.12,1994.16 L1484.87,1994.16 L1483.61,1994.17 L1482.35,1994.17 L1481.09,1994.18 L1479.84,1994.19 L1478.58,1994.19 L1477.32,1994.2 L1476.06,1994.21 L1474.81,1994.21 L1473.55,1994.22 L1472.29,1994.23 L1471.03,1994.23 L1469.78,1994.23 L1468.52,1994.13 L1467.26,1993.91 L1466,1993.55 L1464.75,1993.05 L1463.49,1992.39 L1462.23,1991.53 L1460.97,1990.41 L1459.72,1988.94 L1458.46,1986.84 L1457.2,1981.25 Z" fill="#1e1e1e" filter="url(#bl2_2)"/>
<path d="M1584.1,1980.75 L1585.39,1975.21 L1586.67,1973.13 L1587.96,1971.68 L1589.24,1970.6 L1590.53,1969.76 L1591.81,1969.13 L1593.1,1968.67 L1594.38,1968.36 L1595.67,1968.18 L1596.95,1968.14 L1598.24,1968.13 L1599.52,1968.12 L1600.81,1968.12 L1602.09,1968.11 L1603.38,1968.11 L1604.66,1968.1 L1605.95,1968.09 L1607.23,1968.09 L1608.52,1968.08 L1609.8,1968.08 L1611.09,1968.07 L1612.37,1968.06 L1613.65,1968.06 L1614.94,1968.05 L1616.23,1968.04 L1617.51,1968.04 L1618.8,1968.03 L1620.08,1968.03 L1621.37,1968.02 L1622.65,1968.01 L1623.93,1968.01 L1625.22,1968 L1626.51,1967.99 L1627.79,1967.99 L1629.08,1967.98 L1630.36,1967.98 L1631.64,1967.97 L1632.93,1967.96 L1634.21,1967.96 L1635.5,1967.95 L1636.79,1967.94 L1638.07,1967.94 L1639.36,1967.93 L1640.64,1967.92 L1641.92,1967.92 L1643.21,1967.91 L1644.49,1967.91 L1645.78,1967.9 L1647.07,1967.89 L1648.35,1967.89 L1649.63,1967.88 L1650.92,1967.88 L1652.2,1967.87 L1653.49,1967.86 L1654.77,1967.86 L1656.06,1967.85 L1657.35,1967.84 L1658.63,1967.84 L1659.91,1967.83 L1661.2,1967.83 L1662.48,1967.82 L1663.77,1967.81 L1665.05,1967.81 L1666.34,1967.8 L1667.62,1967.79 L1668.91,1967.79 L1670.19,1967.78 L1671.48,1967.78 L1672.76,1967.77 L1674.05,1967.76 L1675.33,1967.79 L1676.62,1967.96 L1677.9,1968.26 L1679.19,1968.71 L1680.47,1969.33 L1681.76,1970.15 L1683.04,1971.22 L1684.33,1972.65 L1685.61,1974.72 L1686.9,1980.25 L1686.9,1980.25 L1685.61,1985.79 L1684.33,1987.87 L1683.04,1989.32 L1681.76,1990.4 L1680.47,1991.24 L1679.19,1991.87 L1677.9,1992.33 L1676.62,1992.64 L1675.33,1992.82 L1674.05,1992.86 L1672.76,1992.87 L1671.48,1992.88 L1670.19,1992.88 L1668.91,1992.89 L1667.62,1992.89 L1666.34,1992.9 L1665.05,1992.91 L1663.77,1992.91 L1662.48,1992.92 L1661.2,1992.92 L1659.91,1992.93 L1658.63,1992.94 L1657.35,1992.94 L1656.06,1992.95 L1654.77,1992.96 L1653.49,1992.96 L1652.2,1992.97 L1650.92,1992.97 L1649.63,1992.98 L1648.35,1992.99 L1647.07,1992.99 L1645.78,1993 L1644.49,1993.01 L1643.21,1993.01 L1641.92,1993.02 L1640.64,1993.02 L1639.36,1993.03 L1638.07,1993.04 L1636.79,1993.04 L1635.5,1993.05 L1634.21,1993.06 L1632.93,1993.06 L1631.64,1993.07 L1630.36,1993.08 L1629.08,1993.08 L1627.79,1993.09 L1626.51,1993.09 L1625.22,1993.1 L1623.93,1993.11 L1622.65,1993.11 L1621.37,1993.12 L1620.08,1993.12 L1618.8,1993.13 L1617.51,1993.14 L1616.23,1993.14 L1614.94,1993.15 L1613.65,1993.16 L1612.37,1993.16 L1611.09,1993.17 L1609.8,1993.17 L1608.52,1993.18 L1607.23,1993.19 L1605.95,1993.19 L1604.66,1993.2 L1603.38,1993.21 L1602.09,1993.21 L1600.81,1993.22 L1599.52,1993.22 L1598.24,1993.23 L1596.95,1993.24 L1595.67,1993.21 L1594.38,1993.04 L1593.1,1992.74 L1591.81,1992.29 L1590.53,1991.67 L1589.24,1990.85 L1587.96,1989.78 L1586.67,1988.35 L1585.39,1986.28 L1584.1,1980.75 Z" fill="#1e1e1e" filter="url(#bl2_2)"/>
</svg></body></html>
